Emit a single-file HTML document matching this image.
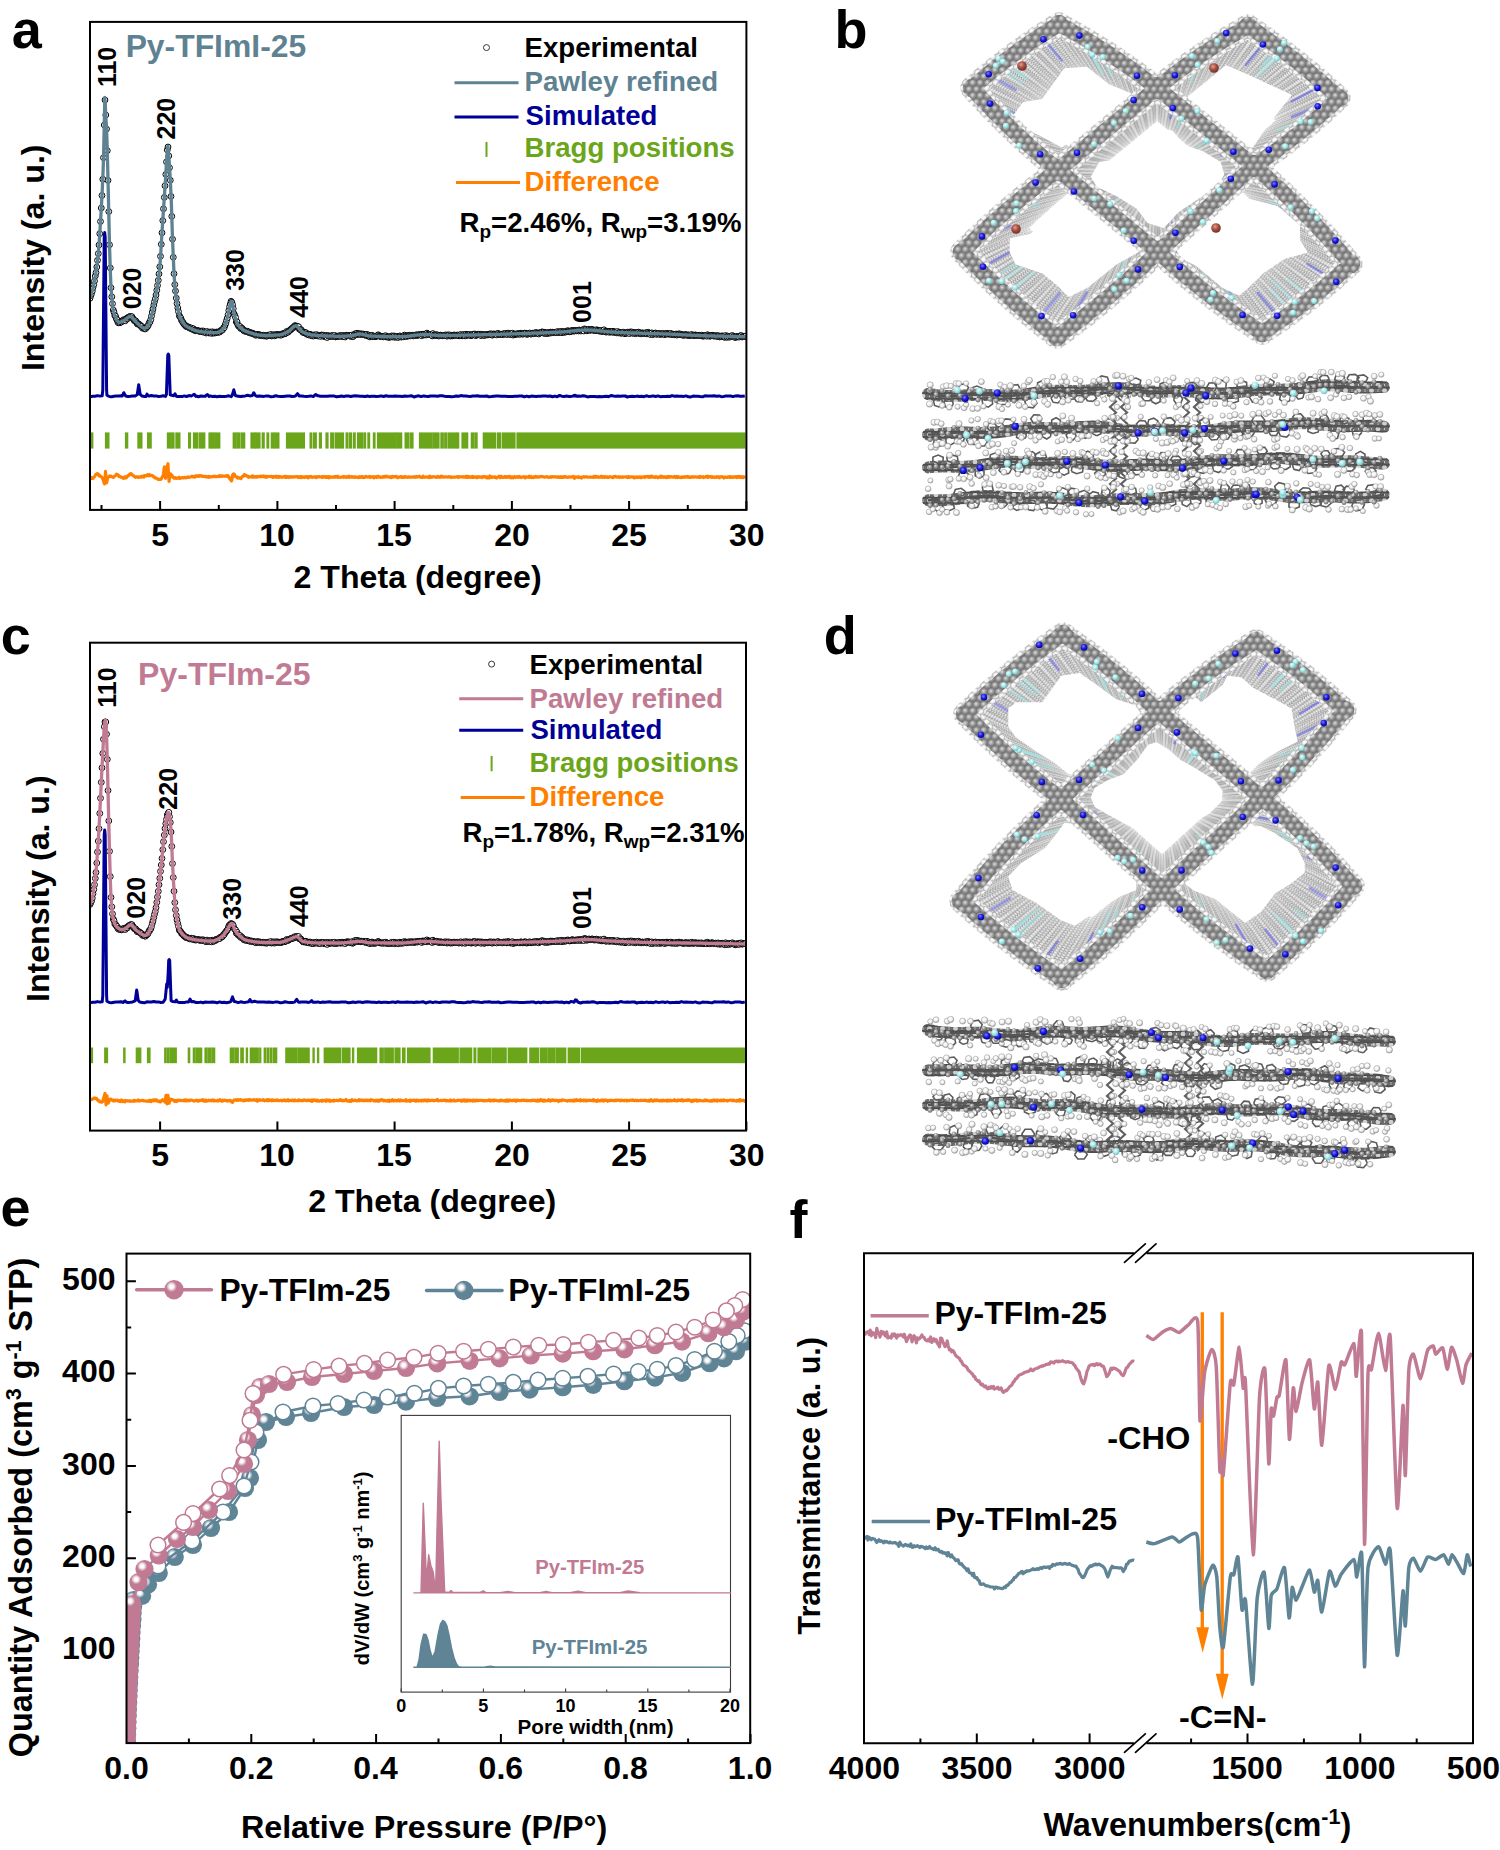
<!DOCTYPE html><html><head><meta charset="utf-8"><title>Figure</title><style>html,body{margin:0;padding:0;background:#fff;width:1500px;height:1850px;overflow:hidden}text{font-family:"Liberation Sans", sans-serif}</style></head><body><svg width="1500" height="1850" viewBox="0 0 1500 1850" style="display:block"><defs><radialGradient id="cball" cx="0.4" cy="0.35" r="0.65"><stop offset="0" stop-color="#e4e4e4"/><stop offset="0.45" stop-color="#a0a0a0"/><stop offset="1" stop-color="#6a6a6a"/></radialGradient><radialGradient id="hball" cx="0.4" cy="0.35" r="0.65"><stop offset="0" stop-color="#ffffff"/><stop offset="0.55" stop-color="#f2f2f2"/><stop offset="1" stop-color="#a8a8a8"/></radialGradient><radialGradient id="nball" cx="0.4" cy="0.35" r="0.65"><stop offset="0" stop-color="#8080ff"/><stop offset="0.5" stop-color="#2020e0"/><stop offset="1" stop-color="#0000a0"/></radialGradient><radialGradient id="fball" cx="0.4" cy="0.35" r="0.65"><stop offset="0" stop-color="#f0ffff"/><stop offset="0.5" stop-color="#a8ecec"/><stop offset="1" stop-color="#78c0c0"/></radialGradient><radialGradient id="bball" cx="0.4" cy="0.35" r="0.65"><stop offset="0" stop-color="#e0a090"/><stop offset="0.5" stop-color="#a85040"/><stop offset="1" stop-color="#703028"/></radialGradient><pattern id="patC" width="7.4" height="12.817" patternUnits="userSpaceOnUse"><rect width="7.4" height="12.817" fill="#7a7a7a"/><circle cx="0.00" cy="0.00" r="3.6" fill="url(#cball)"/><circle cx="7.40" cy="0.00" r="3.6" fill="url(#cball)"/><circle cx="3.70" cy="6.41" r="3.6" fill="url(#cball)"/><circle cx="0.00" cy="12.82" r="3.6" fill="url(#cball)"/><circle cx="7.40" cy="12.82" r="3.6" fill="url(#cball)"/></pattern><pattern id="patH" width="6.0" height="10.392" patternUnits="userSpaceOnUse"><rect width="6.0" height="10.392" fill="#c8c8c8"/><circle cx="0.00" cy="0.00" r="2.9" fill="url(#hball)"/><circle cx="6.00" cy="0.00" r="2.9" fill="url(#hball)"/><circle cx="3.00" cy="5.20" r="2.9" fill="url(#hball)"/><circle cx="0.00" cy="10.39" r="2.9" fill="url(#hball)"/><circle cx="6.00" cy="10.39" r="2.9" fill="url(#hball)"/></pattern><pattern id="patD" width="5.0" height="8.660" patternUnits="userSpaceOnUse"><rect width="5.0" height="8.660" fill="#a0a0a0"/><circle cx="0.00" cy="0.00" r="2.35" fill="url(#hball)"/><circle cx="5.00" cy="0.00" r="2.35" fill="url(#hball)"/><circle cx="2.50" cy="4.33" r="2.35" fill="url(#hball)"/><circle cx="0.00" cy="8.66" r="2.35" fill="url(#hball)"/><circle cx="5.00" cy="8.66" r="2.35" fill="url(#hball)"/></pattern><pattern id="patR" width="13.0" height="11.0" patternUnits="userSpaceOnUse"><rect width="13.0" height="11.0" fill="#cfcfcf"/><path d="M4.30 0.00L2.15 3.12L-2.15 3.12L-4.30 0.00L-2.15 -3.12L2.15 -3.12L4.30 -0.00M17.30 0.00L15.15 3.12L10.85 3.12L8.70 0.00L10.85 -3.12L15.15 -3.12L17.30 -0.00M10.80 5.50L8.65 8.62L4.35 8.62L2.20 5.50L4.35 2.38L8.65 2.38L10.80 5.50M4.30 11.00L2.15 14.12L-2.15 14.12L-4.30 11.00L-2.15 7.88L2.15 7.88L4.30 11.00M17.30 11.00L15.15 14.12L10.85 14.12L8.70 11.00L10.85 7.88L15.15 7.88L17.30 11.00" fill="none" stroke="#4e4e4e" stroke-width="2.3"/><circle cx="4.30" cy="0.00" r="1.9" fill="#6c6c6c"/><circle cx="8.70" cy="0.00" r="1.9" fill="#6c6c6c"/><circle cx="10.80" cy="5.50" r="1.9" fill="#6c6c6c"/><circle cx="2.20" cy="5.50" r="1.9" fill="#6c6c6c"/><circle cx="4.30" cy="11.00" r="1.9" fill="#6c6c6c"/><circle cx="8.70" cy="11.00" r="1.9" fill="#6c6c6c"/></pattern></defs><g transform="translate(1157 172) scale(0.7000) translate(-1157 -172)"><path d="M972.0 88.0Q1012.5 52.0 1059.0 24.0M1059.0 24.0Q1110.7 51.8 1157.0 88.0M972.0 88.0Q1011.5 132.6 1058.0 170.0M1248.0 26.0Q1296.6 58.1 1339.0 98.0M1248.0 26.0Q1199.7 52.9 1157.0 88.0M1339.0 98.0Q1299.6 135.9 1254.0 166.0M962.0 252.0Q1006.2 298.2 1057.0 337.0M962.0 252.0Q1006.8 207.2 1058.0 170.0M1057.0 337.0Q1110.7 298.3 1158.0 252.0M1351.0 264.0Q1309.6 302.5 1262.0 333.0M1351.0 264.0Q1306.1 211.5 1254.0 166.0M1262.0 333.0Q1206.9 296.4 1158.0 252.0M1157.0 88.0Q1107.5 129.0 1058.0 170.0M1157.0 88.0Q1205.5 127.0 1254.0 166.0M1254.0 166.0Q1206.0 209.0 1158.0 252.0M1158.0 252.0Q1108.0 211.0 1058.0 170.0" fill="none" stroke="#ececec" stroke-width="17.5" stroke-linecap="round" stroke-linejoin="round"/><path d="M972.0 88.0Q1012.5 52.0 1059.0 24.0M1059.0 24.0Q1110.7 51.8 1157.0 88.0M972.0 88.0Q1011.5 132.6 1058.0 170.0M1248.0 26.0Q1296.6 58.1 1339.0 98.0M1248.0 26.0Q1199.7 52.9 1157.0 88.0M1339.0 98.0Q1299.6 135.9 1254.0 166.0M962.0 252.0Q1006.2 298.2 1057.0 337.0M962.0 252.0Q1006.8 207.2 1058.0 170.0M1057.0 337.0Q1110.7 298.3 1158.0 252.0M1351.0 264.0Q1309.6 302.5 1262.0 333.0M1351.0 264.0Q1306.1 211.5 1254.0 166.0M1262.0 333.0Q1206.9 296.4 1158.0 252.0M1157.0 88.0Q1107.5 129.0 1058.0 170.0M1157.0 88.0Q1205.5 127.0 1254.0 166.0M1254.0 166.0Q1206.0 209.0 1158.0 252.0M1158.0 252.0Q1108.0 211.0 1058.0 170.0" fill="none" stroke="url(#patD)" stroke-opacity="0.50" stroke-width="17.5" stroke-linecap="round" stroke-linejoin="round"/></g>
<g transform="translate(1157 172) scale(0.7137) translate(-1157 -172)"><path d="M972.0 88.0Q1012.5 52.0 1059.0 24.0M1059.0 24.0Q1110.7 51.8 1157.0 88.0M972.0 88.0Q1011.5 132.6 1058.0 170.0M1248.0 26.0Q1296.6 58.1 1339.0 98.0M1248.0 26.0Q1199.7 52.9 1157.0 88.0M1339.0 98.0Q1299.6 135.9 1254.0 166.0M962.0 252.0Q1006.2 298.2 1057.0 337.0M962.0 252.0Q1006.8 207.2 1058.0 170.0M1057.0 337.0Q1110.7 298.3 1158.0 252.0M1351.0 264.0Q1309.6 302.5 1262.0 333.0M1351.0 264.0Q1306.1 211.5 1254.0 166.0M1262.0 333.0Q1206.9 296.4 1158.0 252.0M1157.0 88.0Q1107.5 129.0 1058.0 170.0M1157.0 88.0Q1205.5 127.0 1254.0 166.0M1254.0 166.0Q1206.0 209.0 1158.0 252.0M1158.0 252.0Q1108.0 211.0 1058.0 170.0" fill="none" stroke="#e0e0e0" stroke-width="17.5" stroke-linecap="round" stroke-linejoin="round"/><path d="M972.0 88.0Q1012.5 52.0 1059.0 24.0M1059.0 24.0Q1110.7 51.8 1157.0 88.0M972.0 88.0Q1011.5 132.6 1058.0 170.0M1248.0 26.0Q1296.6 58.1 1339.0 98.0M1248.0 26.0Q1199.7 52.9 1157.0 88.0M1339.0 98.0Q1299.6 135.9 1254.0 166.0M962.0 252.0Q1006.2 298.2 1057.0 337.0M962.0 252.0Q1006.8 207.2 1058.0 170.0M1057.0 337.0Q1110.7 298.3 1158.0 252.0M1351.0 264.0Q1309.6 302.5 1262.0 333.0M1351.0 264.0Q1306.1 211.5 1254.0 166.0M1262.0 333.0Q1206.9 296.4 1158.0 252.0M1157.0 88.0Q1107.5 129.0 1058.0 170.0M1157.0 88.0Q1205.5 127.0 1254.0 166.0M1254.0 166.0Q1206.0 209.0 1158.0 252.0M1158.0 252.0Q1108.0 211.0 1058.0 170.0" fill="none" stroke="url(#patD)" stroke-opacity="0.52" stroke-width="17.5" stroke-linecap="round" stroke-linejoin="round"/></g>
<g transform="translate(1157 172) scale(0.7274) translate(-1157 -172)"><path d="M972.0 88.0Q1012.5 52.0 1059.0 24.0M1059.0 24.0Q1110.7 51.8 1157.0 88.0M972.0 88.0Q1011.5 132.6 1058.0 170.0M1248.0 26.0Q1296.6 58.1 1339.0 98.0M1248.0 26.0Q1199.7 52.9 1157.0 88.0M1339.0 98.0Q1299.6 135.9 1254.0 166.0M962.0 252.0Q1006.2 298.2 1057.0 337.0M962.0 252.0Q1006.8 207.2 1058.0 170.0M1057.0 337.0Q1110.7 298.3 1158.0 252.0M1351.0 264.0Q1309.6 302.5 1262.0 333.0M1351.0 264.0Q1306.1 211.5 1254.0 166.0M1262.0 333.0Q1206.9 296.4 1158.0 252.0M1157.0 88.0Q1107.5 129.0 1058.0 170.0M1157.0 88.0Q1205.5 127.0 1254.0 166.0M1254.0 166.0Q1206.0 209.0 1158.0 252.0M1158.0 252.0Q1108.0 211.0 1058.0 170.0" fill="none" stroke="#d8d8d8" stroke-width="17.5" stroke-linecap="round" stroke-linejoin="round"/><path d="M972.0 88.0Q1012.5 52.0 1059.0 24.0M1059.0 24.0Q1110.7 51.8 1157.0 88.0M972.0 88.0Q1011.5 132.6 1058.0 170.0M1248.0 26.0Q1296.6 58.1 1339.0 98.0M1248.0 26.0Q1199.7 52.9 1157.0 88.0M1339.0 98.0Q1299.6 135.9 1254.0 166.0M962.0 252.0Q1006.2 298.2 1057.0 337.0M962.0 252.0Q1006.8 207.2 1058.0 170.0M1057.0 337.0Q1110.7 298.3 1158.0 252.0M1351.0 264.0Q1309.6 302.5 1262.0 333.0M1351.0 264.0Q1306.1 211.5 1254.0 166.0M1262.0 333.0Q1206.9 296.4 1158.0 252.0M1157.0 88.0Q1107.5 129.0 1058.0 170.0M1157.0 88.0Q1205.5 127.0 1254.0 166.0M1254.0 166.0Q1206.0 209.0 1158.0 252.0M1158.0 252.0Q1108.0 211.0 1058.0 170.0" fill="none" stroke="url(#patD)" stroke-opacity="0.54" stroke-width="17.5" stroke-linecap="round" stroke-linejoin="round"/></g>
<g transform="translate(1157 172) scale(0.7411) translate(-1157 -172)"><path d="M972.0 88.0Q1012.5 52.0 1059.0 24.0M1059.0 24.0Q1110.7 51.8 1157.0 88.0M972.0 88.0Q1011.5 132.6 1058.0 170.0M1248.0 26.0Q1296.6 58.1 1339.0 98.0M1248.0 26.0Q1199.7 52.9 1157.0 88.0M1339.0 98.0Q1299.6 135.9 1254.0 166.0M962.0 252.0Q1006.2 298.2 1057.0 337.0M962.0 252.0Q1006.8 207.2 1058.0 170.0M1057.0 337.0Q1110.7 298.3 1158.0 252.0M1351.0 264.0Q1309.6 302.5 1262.0 333.0M1351.0 264.0Q1306.1 211.5 1254.0 166.0M1262.0 333.0Q1206.9 296.4 1158.0 252.0M1157.0 88.0Q1107.5 129.0 1058.0 170.0M1157.0 88.0Q1205.5 127.0 1254.0 166.0M1254.0 166.0Q1206.0 209.0 1158.0 252.0M1158.0 252.0Q1108.0 211.0 1058.0 170.0" fill="none" stroke="#d2d2d2" stroke-width="17.5" stroke-linecap="round" stroke-linejoin="round"/><path d="M972.0 88.0Q1012.5 52.0 1059.0 24.0M1059.0 24.0Q1110.7 51.8 1157.0 88.0M972.0 88.0Q1011.5 132.6 1058.0 170.0M1248.0 26.0Q1296.6 58.1 1339.0 98.0M1248.0 26.0Q1199.7 52.9 1157.0 88.0M1339.0 98.0Q1299.6 135.9 1254.0 166.0M962.0 252.0Q1006.2 298.2 1057.0 337.0M962.0 252.0Q1006.8 207.2 1058.0 170.0M1057.0 337.0Q1110.7 298.3 1158.0 252.0M1351.0 264.0Q1309.6 302.5 1262.0 333.0M1351.0 264.0Q1306.1 211.5 1254.0 166.0M1262.0 333.0Q1206.9 296.4 1158.0 252.0M1157.0 88.0Q1107.5 129.0 1058.0 170.0M1157.0 88.0Q1205.5 127.0 1254.0 166.0M1254.0 166.0Q1206.0 209.0 1158.0 252.0M1158.0 252.0Q1108.0 211.0 1058.0 170.0" fill="none" stroke="url(#patD)" stroke-opacity="0.56" stroke-width="17.5" stroke-linecap="round" stroke-linejoin="round"/></g>
<g transform="translate(1157 172) scale(0.7549) translate(-1157 -172)"><path d="M972.0 88.0Q1012.5 52.0 1059.0 24.0M1059.0 24.0Q1110.7 51.8 1157.0 88.0M972.0 88.0Q1011.5 132.6 1058.0 170.0M1248.0 26.0Q1296.6 58.1 1339.0 98.0M1248.0 26.0Q1199.7 52.9 1157.0 88.0M1339.0 98.0Q1299.6 135.9 1254.0 166.0M962.0 252.0Q1006.2 298.2 1057.0 337.0M962.0 252.0Q1006.8 207.2 1058.0 170.0M1057.0 337.0Q1110.7 298.3 1158.0 252.0M1351.0 264.0Q1309.6 302.5 1262.0 333.0M1351.0 264.0Q1306.1 211.5 1254.0 166.0M1262.0 333.0Q1206.9 296.4 1158.0 252.0M1157.0 88.0Q1107.5 129.0 1058.0 170.0M1157.0 88.0Q1205.5 127.0 1254.0 166.0M1254.0 166.0Q1206.0 209.0 1158.0 252.0M1158.0 252.0Q1108.0 211.0 1058.0 170.0" fill="none" stroke="#cccccc" stroke-width="17.5" stroke-linecap="round" stroke-linejoin="round"/><path d="M972.0 88.0Q1012.5 52.0 1059.0 24.0M1059.0 24.0Q1110.7 51.8 1157.0 88.0M972.0 88.0Q1011.5 132.6 1058.0 170.0M1248.0 26.0Q1296.6 58.1 1339.0 98.0M1248.0 26.0Q1199.7 52.9 1157.0 88.0M1339.0 98.0Q1299.6 135.9 1254.0 166.0M962.0 252.0Q1006.2 298.2 1057.0 337.0M962.0 252.0Q1006.8 207.2 1058.0 170.0M1057.0 337.0Q1110.7 298.3 1158.0 252.0M1351.0 264.0Q1309.6 302.5 1262.0 333.0M1351.0 264.0Q1306.1 211.5 1254.0 166.0M1262.0 333.0Q1206.9 296.4 1158.0 252.0M1157.0 88.0Q1107.5 129.0 1058.0 170.0M1157.0 88.0Q1205.5 127.0 1254.0 166.0M1254.0 166.0Q1206.0 209.0 1158.0 252.0M1158.0 252.0Q1108.0 211.0 1058.0 170.0" fill="none" stroke="url(#patD)" stroke-opacity="0.58" stroke-width="17.5" stroke-linecap="round" stroke-linejoin="round"/></g>
<g transform="translate(1157 172) scale(0.7686) translate(-1157 -172)"><path d="M972.0 88.0Q1012.5 52.0 1059.0 24.0M1059.0 24.0Q1110.7 51.8 1157.0 88.0M972.0 88.0Q1011.5 132.6 1058.0 170.0M1248.0 26.0Q1296.6 58.1 1339.0 98.0M1248.0 26.0Q1199.7 52.9 1157.0 88.0M1339.0 98.0Q1299.6 135.9 1254.0 166.0M962.0 252.0Q1006.2 298.2 1057.0 337.0M962.0 252.0Q1006.8 207.2 1058.0 170.0M1057.0 337.0Q1110.7 298.3 1158.0 252.0M1351.0 264.0Q1309.6 302.5 1262.0 333.0M1351.0 264.0Q1306.1 211.5 1254.0 166.0M1262.0 333.0Q1206.9 296.4 1158.0 252.0M1157.0 88.0Q1107.5 129.0 1058.0 170.0M1157.0 88.0Q1205.5 127.0 1254.0 166.0M1254.0 166.0Q1206.0 209.0 1158.0 252.0M1158.0 252.0Q1108.0 211.0 1058.0 170.0" fill="none" stroke="#c7c7c7" stroke-width="17.5" stroke-linecap="round" stroke-linejoin="round"/><path d="M972.0 88.0Q1012.5 52.0 1059.0 24.0M1059.0 24.0Q1110.7 51.8 1157.0 88.0M972.0 88.0Q1011.5 132.6 1058.0 170.0M1248.0 26.0Q1296.6 58.1 1339.0 98.0M1248.0 26.0Q1199.7 52.9 1157.0 88.0M1339.0 98.0Q1299.6 135.9 1254.0 166.0M962.0 252.0Q1006.2 298.2 1057.0 337.0M962.0 252.0Q1006.8 207.2 1058.0 170.0M1057.0 337.0Q1110.7 298.3 1158.0 252.0M1351.0 264.0Q1309.6 302.5 1262.0 333.0M1351.0 264.0Q1306.1 211.5 1254.0 166.0M1262.0 333.0Q1206.9 296.4 1158.0 252.0M1157.0 88.0Q1107.5 129.0 1058.0 170.0M1157.0 88.0Q1205.5 127.0 1254.0 166.0M1254.0 166.0Q1206.0 209.0 1158.0 252.0M1158.0 252.0Q1108.0 211.0 1058.0 170.0" fill="none" stroke="url(#patD)" stroke-opacity="0.60" stroke-width="17.5" stroke-linecap="round" stroke-linejoin="round"/></g>
<g transform="translate(1157 172) scale(0.7823) translate(-1157 -172)"><path d="M972.0 88.0Q1012.5 52.0 1059.0 24.0M1059.0 24.0Q1110.7 51.8 1157.0 88.0M972.0 88.0Q1011.5 132.6 1058.0 170.0M1248.0 26.0Q1296.6 58.1 1339.0 98.0M1248.0 26.0Q1199.7 52.9 1157.0 88.0M1339.0 98.0Q1299.6 135.9 1254.0 166.0M962.0 252.0Q1006.2 298.2 1057.0 337.0M962.0 252.0Q1006.8 207.2 1058.0 170.0M1057.0 337.0Q1110.7 298.3 1158.0 252.0M1351.0 264.0Q1309.6 302.5 1262.0 333.0M1351.0 264.0Q1306.1 211.5 1254.0 166.0M1262.0 333.0Q1206.9 296.4 1158.0 252.0M1157.0 88.0Q1107.5 129.0 1058.0 170.0M1157.0 88.0Q1205.5 127.0 1254.0 166.0M1254.0 166.0Q1206.0 209.0 1158.0 252.0M1158.0 252.0Q1108.0 211.0 1058.0 170.0" fill="none" stroke="#c2c2c2" stroke-width="17.5" stroke-linecap="round" stroke-linejoin="round"/><path d="M972.0 88.0Q1012.5 52.0 1059.0 24.0M1059.0 24.0Q1110.7 51.8 1157.0 88.0M972.0 88.0Q1011.5 132.6 1058.0 170.0M1248.0 26.0Q1296.6 58.1 1339.0 98.0M1248.0 26.0Q1199.7 52.9 1157.0 88.0M1339.0 98.0Q1299.6 135.9 1254.0 166.0M962.0 252.0Q1006.2 298.2 1057.0 337.0M962.0 252.0Q1006.8 207.2 1058.0 170.0M1057.0 337.0Q1110.7 298.3 1158.0 252.0M1351.0 264.0Q1309.6 302.5 1262.0 333.0M1351.0 264.0Q1306.1 211.5 1254.0 166.0M1262.0 333.0Q1206.9 296.4 1158.0 252.0M1157.0 88.0Q1107.5 129.0 1058.0 170.0M1157.0 88.0Q1205.5 127.0 1254.0 166.0M1254.0 166.0Q1206.0 209.0 1158.0 252.0M1158.0 252.0Q1108.0 211.0 1058.0 170.0" fill="none" stroke="url(#patD)" stroke-opacity="0.61" stroke-width="17.5" stroke-linecap="round" stroke-linejoin="round"/></g>
<g transform="translate(1157 172) scale(0.7960) translate(-1157 -172)"><path d="M972.0 88.0Q1012.5 52.0 1059.0 24.0M1059.0 24.0Q1110.7 51.8 1157.0 88.0M972.0 88.0Q1011.5 132.6 1058.0 170.0M1248.0 26.0Q1296.6 58.1 1339.0 98.0M1248.0 26.0Q1199.7 52.9 1157.0 88.0M1339.0 98.0Q1299.6 135.9 1254.0 166.0M962.0 252.0Q1006.2 298.2 1057.0 337.0M962.0 252.0Q1006.8 207.2 1058.0 170.0M1057.0 337.0Q1110.7 298.3 1158.0 252.0M1351.0 264.0Q1309.6 302.5 1262.0 333.0M1351.0 264.0Q1306.1 211.5 1254.0 166.0M1262.0 333.0Q1206.9 296.4 1158.0 252.0M1157.0 88.0Q1107.5 129.0 1058.0 170.0M1157.0 88.0Q1205.5 127.0 1254.0 166.0M1254.0 166.0Q1206.0 209.0 1158.0 252.0M1158.0 252.0Q1108.0 211.0 1058.0 170.0" fill="none" stroke="#bdbdbd" stroke-width="17.5" stroke-linecap="round" stroke-linejoin="round"/><path d="M972.0 88.0Q1012.5 52.0 1059.0 24.0M1059.0 24.0Q1110.7 51.8 1157.0 88.0M972.0 88.0Q1011.5 132.6 1058.0 170.0M1248.0 26.0Q1296.6 58.1 1339.0 98.0M1248.0 26.0Q1199.7 52.9 1157.0 88.0M1339.0 98.0Q1299.6 135.9 1254.0 166.0M962.0 252.0Q1006.2 298.2 1057.0 337.0M962.0 252.0Q1006.8 207.2 1058.0 170.0M1057.0 337.0Q1110.7 298.3 1158.0 252.0M1351.0 264.0Q1309.6 302.5 1262.0 333.0M1351.0 264.0Q1306.1 211.5 1254.0 166.0M1262.0 333.0Q1206.9 296.4 1158.0 252.0M1157.0 88.0Q1107.5 129.0 1058.0 170.0M1157.0 88.0Q1205.5 127.0 1254.0 166.0M1254.0 166.0Q1206.0 209.0 1158.0 252.0M1158.0 252.0Q1108.0 211.0 1058.0 170.0" fill="none" stroke="url(#patD)" stroke-opacity="0.63" stroke-width="17.5" stroke-linecap="round" stroke-linejoin="round"/></g>
<g transform="translate(1157 172) scale(0.8097) translate(-1157 -172)"><path d="M972.0 88.0Q1012.5 52.0 1059.0 24.0M1059.0 24.0Q1110.7 51.8 1157.0 88.0M972.0 88.0Q1011.5 132.6 1058.0 170.0M1248.0 26.0Q1296.6 58.1 1339.0 98.0M1248.0 26.0Q1199.7 52.9 1157.0 88.0M1339.0 98.0Q1299.6 135.9 1254.0 166.0M962.0 252.0Q1006.2 298.2 1057.0 337.0M962.0 252.0Q1006.8 207.2 1058.0 170.0M1057.0 337.0Q1110.7 298.3 1158.0 252.0M1351.0 264.0Q1309.6 302.5 1262.0 333.0M1351.0 264.0Q1306.1 211.5 1254.0 166.0M1262.0 333.0Q1206.9 296.4 1158.0 252.0M1157.0 88.0Q1107.5 129.0 1058.0 170.0M1157.0 88.0Q1205.5 127.0 1254.0 166.0M1254.0 166.0Q1206.0 209.0 1158.0 252.0M1158.0 252.0Q1108.0 211.0 1058.0 170.0" fill="none" stroke="#b9b9b9" stroke-width="17.5" stroke-linecap="round" stroke-linejoin="round"/><path d="M972.0 88.0Q1012.5 52.0 1059.0 24.0M1059.0 24.0Q1110.7 51.8 1157.0 88.0M972.0 88.0Q1011.5 132.6 1058.0 170.0M1248.0 26.0Q1296.6 58.1 1339.0 98.0M1248.0 26.0Q1199.7 52.9 1157.0 88.0M1339.0 98.0Q1299.6 135.9 1254.0 166.0M962.0 252.0Q1006.2 298.2 1057.0 337.0M962.0 252.0Q1006.8 207.2 1058.0 170.0M1057.0 337.0Q1110.7 298.3 1158.0 252.0M1351.0 264.0Q1309.6 302.5 1262.0 333.0M1351.0 264.0Q1306.1 211.5 1254.0 166.0M1262.0 333.0Q1206.9 296.4 1158.0 252.0M1157.0 88.0Q1107.5 129.0 1058.0 170.0M1157.0 88.0Q1205.5 127.0 1254.0 166.0M1254.0 166.0Q1206.0 209.0 1158.0 252.0M1158.0 252.0Q1108.0 211.0 1058.0 170.0" fill="none" stroke="url(#patD)" stroke-opacity="0.65" stroke-width="17.5" stroke-linecap="round" stroke-linejoin="round"/></g>
<g transform="translate(1157 172) scale(0.8234) translate(-1157 -172)"><path d="M972.0 88.0Q1012.5 52.0 1059.0 24.0M1059.0 24.0Q1110.7 51.8 1157.0 88.0M972.0 88.0Q1011.5 132.6 1058.0 170.0M1248.0 26.0Q1296.6 58.1 1339.0 98.0M1248.0 26.0Q1199.7 52.9 1157.0 88.0M1339.0 98.0Q1299.6 135.9 1254.0 166.0M962.0 252.0Q1006.2 298.2 1057.0 337.0M962.0 252.0Q1006.8 207.2 1058.0 170.0M1057.0 337.0Q1110.7 298.3 1158.0 252.0M1351.0 264.0Q1309.6 302.5 1262.0 333.0M1351.0 264.0Q1306.1 211.5 1254.0 166.0M1262.0 333.0Q1206.9 296.4 1158.0 252.0M1157.0 88.0Q1107.5 129.0 1058.0 170.0M1157.0 88.0Q1205.5 127.0 1254.0 166.0M1254.0 166.0Q1206.0 209.0 1158.0 252.0M1158.0 252.0Q1108.0 211.0 1058.0 170.0" fill="none" stroke="#b4b4b4" stroke-width="17.5" stroke-linecap="round" stroke-linejoin="round"/><path d="M972.0 88.0Q1012.5 52.0 1059.0 24.0M1059.0 24.0Q1110.7 51.8 1157.0 88.0M972.0 88.0Q1011.5 132.6 1058.0 170.0M1248.0 26.0Q1296.6 58.1 1339.0 98.0M1248.0 26.0Q1199.7 52.9 1157.0 88.0M1339.0 98.0Q1299.6 135.9 1254.0 166.0M962.0 252.0Q1006.2 298.2 1057.0 337.0M962.0 252.0Q1006.8 207.2 1058.0 170.0M1057.0 337.0Q1110.7 298.3 1158.0 252.0M1351.0 264.0Q1309.6 302.5 1262.0 333.0M1351.0 264.0Q1306.1 211.5 1254.0 166.0M1262.0 333.0Q1206.9 296.4 1158.0 252.0M1157.0 88.0Q1107.5 129.0 1058.0 170.0M1157.0 88.0Q1205.5 127.0 1254.0 166.0M1254.0 166.0Q1206.0 209.0 1158.0 252.0M1158.0 252.0Q1108.0 211.0 1058.0 170.0" fill="none" stroke="url(#patD)" stroke-opacity="0.67" stroke-width="17.5" stroke-linecap="round" stroke-linejoin="round"/></g>
<g transform="translate(1157 172) scale(0.8371) translate(-1157 -172)"><path d="M972.0 88.0Q1012.5 52.0 1059.0 24.0M1059.0 24.0Q1110.7 51.8 1157.0 88.0M972.0 88.0Q1011.5 132.6 1058.0 170.0M1248.0 26.0Q1296.6 58.1 1339.0 98.0M1248.0 26.0Q1199.7 52.9 1157.0 88.0M1339.0 98.0Q1299.6 135.9 1254.0 166.0M962.0 252.0Q1006.2 298.2 1057.0 337.0M962.0 252.0Q1006.8 207.2 1058.0 170.0M1057.0 337.0Q1110.7 298.3 1158.0 252.0M1351.0 264.0Q1309.6 302.5 1262.0 333.0M1351.0 264.0Q1306.1 211.5 1254.0 166.0M1262.0 333.0Q1206.9 296.4 1158.0 252.0M1157.0 88.0Q1107.5 129.0 1058.0 170.0M1157.0 88.0Q1205.5 127.0 1254.0 166.0M1254.0 166.0Q1206.0 209.0 1158.0 252.0M1158.0 252.0Q1108.0 211.0 1058.0 170.0" fill="none" stroke="#b0b0b0" stroke-width="17.5" stroke-linecap="round" stroke-linejoin="round"/><path d="M972.0 88.0Q1012.5 52.0 1059.0 24.0M1059.0 24.0Q1110.7 51.8 1157.0 88.0M972.0 88.0Q1011.5 132.6 1058.0 170.0M1248.0 26.0Q1296.6 58.1 1339.0 98.0M1248.0 26.0Q1199.7 52.9 1157.0 88.0M1339.0 98.0Q1299.6 135.9 1254.0 166.0M962.0 252.0Q1006.2 298.2 1057.0 337.0M962.0 252.0Q1006.8 207.2 1058.0 170.0M1057.0 337.0Q1110.7 298.3 1158.0 252.0M1351.0 264.0Q1309.6 302.5 1262.0 333.0M1351.0 264.0Q1306.1 211.5 1254.0 166.0M1262.0 333.0Q1206.9 296.4 1158.0 252.0M1157.0 88.0Q1107.5 129.0 1058.0 170.0M1157.0 88.0Q1205.5 127.0 1254.0 166.0M1254.0 166.0Q1206.0 209.0 1158.0 252.0M1158.0 252.0Q1108.0 211.0 1058.0 170.0" fill="none" stroke="url(#patD)" stroke-opacity="0.69" stroke-width="17.5" stroke-linecap="round" stroke-linejoin="round"/></g>
<g transform="translate(1157 172) scale(0.8509) translate(-1157 -172)"><path d="M972.0 88.0Q1012.5 52.0 1059.0 24.0M1059.0 24.0Q1110.7 51.8 1157.0 88.0M972.0 88.0Q1011.5 132.6 1058.0 170.0M1248.0 26.0Q1296.6 58.1 1339.0 98.0M1248.0 26.0Q1199.7 52.9 1157.0 88.0M1339.0 98.0Q1299.6 135.9 1254.0 166.0M962.0 252.0Q1006.2 298.2 1057.0 337.0M962.0 252.0Q1006.8 207.2 1058.0 170.0M1057.0 337.0Q1110.7 298.3 1158.0 252.0M1351.0 264.0Q1309.6 302.5 1262.0 333.0M1351.0 264.0Q1306.1 211.5 1254.0 166.0M1262.0 333.0Q1206.9 296.4 1158.0 252.0M1157.0 88.0Q1107.5 129.0 1058.0 170.0M1157.0 88.0Q1205.5 127.0 1254.0 166.0M1254.0 166.0Q1206.0 209.0 1158.0 252.0M1158.0 252.0Q1108.0 211.0 1058.0 170.0" fill="none" stroke="#acacac" stroke-width="17.5" stroke-linecap="round" stroke-linejoin="round"/><path d="M972.0 88.0Q1012.5 52.0 1059.0 24.0M1059.0 24.0Q1110.7 51.8 1157.0 88.0M972.0 88.0Q1011.5 132.6 1058.0 170.0M1248.0 26.0Q1296.6 58.1 1339.0 98.0M1248.0 26.0Q1199.7 52.9 1157.0 88.0M1339.0 98.0Q1299.6 135.9 1254.0 166.0M962.0 252.0Q1006.2 298.2 1057.0 337.0M962.0 252.0Q1006.8 207.2 1058.0 170.0M1057.0 337.0Q1110.7 298.3 1158.0 252.0M1351.0 264.0Q1309.6 302.5 1262.0 333.0M1351.0 264.0Q1306.1 211.5 1254.0 166.0M1262.0 333.0Q1206.9 296.4 1158.0 252.0M1157.0 88.0Q1107.5 129.0 1058.0 170.0M1157.0 88.0Q1205.5 127.0 1254.0 166.0M1254.0 166.0Q1206.0 209.0 1158.0 252.0M1158.0 252.0Q1108.0 211.0 1058.0 170.0" fill="none" stroke="url(#patD)" stroke-opacity="0.71" stroke-width="17.5" stroke-linecap="round" stroke-linejoin="round"/></g>
<g transform="translate(1157 172) scale(0.8646) translate(-1157 -172)"><path d="M972.0 88.0Q1012.5 52.0 1059.0 24.0M1059.0 24.0Q1110.7 51.8 1157.0 88.0M972.0 88.0Q1011.5 132.6 1058.0 170.0M1248.0 26.0Q1296.6 58.1 1339.0 98.0M1248.0 26.0Q1199.7 52.9 1157.0 88.0M1339.0 98.0Q1299.6 135.9 1254.0 166.0M962.0 252.0Q1006.2 298.2 1057.0 337.0M962.0 252.0Q1006.8 207.2 1058.0 170.0M1057.0 337.0Q1110.7 298.3 1158.0 252.0M1351.0 264.0Q1309.6 302.5 1262.0 333.0M1351.0 264.0Q1306.1 211.5 1254.0 166.0M1262.0 333.0Q1206.9 296.4 1158.0 252.0M1157.0 88.0Q1107.5 129.0 1058.0 170.0M1157.0 88.0Q1205.5 127.0 1254.0 166.0M1254.0 166.0Q1206.0 209.0 1158.0 252.0M1158.0 252.0Q1108.0 211.0 1058.0 170.0" fill="none" stroke="#a8a8a8" stroke-width="17.5" stroke-linecap="round" stroke-linejoin="round"/><path d="M972.0 88.0Q1012.5 52.0 1059.0 24.0M1059.0 24.0Q1110.7 51.8 1157.0 88.0M972.0 88.0Q1011.5 132.6 1058.0 170.0M1248.0 26.0Q1296.6 58.1 1339.0 98.0M1248.0 26.0Q1199.7 52.9 1157.0 88.0M1339.0 98.0Q1299.6 135.9 1254.0 166.0M962.0 252.0Q1006.2 298.2 1057.0 337.0M962.0 252.0Q1006.8 207.2 1058.0 170.0M1057.0 337.0Q1110.7 298.3 1158.0 252.0M1351.0 264.0Q1309.6 302.5 1262.0 333.0M1351.0 264.0Q1306.1 211.5 1254.0 166.0M1262.0 333.0Q1206.9 296.4 1158.0 252.0M1157.0 88.0Q1107.5 129.0 1058.0 170.0M1157.0 88.0Q1205.5 127.0 1254.0 166.0M1254.0 166.0Q1206.0 209.0 1158.0 252.0M1158.0 252.0Q1108.0 211.0 1058.0 170.0" fill="none" stroke="url(#patD)" stroke-opacity="0.73" stroke-width="17.5" stroke-linecap="round" stroke-linejoin="round"/></g>
<g transform="translate(1157 172) scale(0.8783) translate(-1157 -172)"><path d="M972.0 88.0Q1012.5 52.0 1059.0 24.0M1059.0 24.0Q1110.7 51.8 1157.0 88.0M972.0 88.0Q1011.5 132.6 1058.0 170.0M1248.0 26.0Q1296.6 58.1 1339.0 98.0M1248.0 26.0Q1199.7 52.9 1157.0 88.0M1339.0 98.0Q1299.6 135.9 1254.0 166.0M962.0 252.0Q1006.2 298.2 1057.0 337.0M962.0 252.0Q1006.8 207.2 1058.0 170.0M1057.0 337.0Q1110.7 298.3 1158.0 252.0M1351.0 264.0Q1309.6 302.5 1262.0 333.0M1351.0 264.0Q1306.1 211.5 1254.0 166.0M1262.0 333.0Q1206.9 296.4 1158.0 252.0M1157.0 88.0Q1107.5 129.0 1058.0 170.0M1157.0 88.0Q1205.5 127.0 1254.0 166.0M1254.0 166.0Q1206.0 209.0 1158.0 252.0M1158.0 252.0Q1108.0 211.0 1058.0 170.0" fill="none" stroke="#a4a4a4" stroke-width="17.5" stroke-linecap="round" stroke-linejoin="round"/><path d="M972.0 88.0Q1012.5 52.0 1059.0 24.0M1059.0 24.0Q1110.7 51.8 1157.0 88.0M972.0 88.0Q1011.5 132.6 1058.0 170.0M1248.0 26.0Q1296.6 58.1 1339.0 98.0M1248.0 26.0Q1199.7 52.9 1157.0 88.0M1339.0 98.0Q1299.6 135.9 1254.0 166.0M962.0 252.0Q1006.2 298.2 1057.0 337.0M962.0 252.0Q1006.8 207.2 1058.0 170.0M1057.0 337.0Q1110.7 298.3 1158.0 252.0M1351.0 264.0Q1309.6 302.5 1262.0 333.0M1351.0 264.0Q1306.1 211.5 1254.0 166.0M1262.0 333.0Q1206.9 296.4 1158.0 252.0M1157.0 88.0Q1107.5 129.0 1058.0 170.0M1157.0 88.0Q1205.5 127.0 1254.0 166.0M1254.0 166.0Q1206.0 209.0 1158.0 252.0M1158.0 252.0Q1108.0 211.0 1058.0 170.0" fill="none" stroke="url(#patD)" stroke-opacity="0.75" stroke-width="17.5" stroke-linecap="round" stroke-linejoin="round"/></g>
<g transform="translate(1157 172) scale(0.8920) translate(-1157 -172)"><path d="M972.0 88.0Q1012.5 52.0 1059.0 24.0M1059.0 24.0Q1110.7 51.8 1157.0 88.0M972.0 88.0Q1011.5 132.6 1058.0 170.0M1248.0 26.0Q1296.6 58.1 1339.0 98.0M1248.0 26.0Q1199.7 52.9 1157.0 88.0M1339.0 98.0Q1299.6 135.9 1254.0 166.0M962.0 252.0Q1006.2 298.2 1057.0 337.0M962.0 252.0Q1006.8 207.2 1058.0 170.0M1057.0 337.0Q1110.7 298.3 1158.0 252.0M1351.0 264.0Q1309.6 302.5 1262.0 333.0M1351.0 264.0Q1306.1 211.5 1254.0 166.0M1262.0 333.0Q1206.9 296.4 1158.0 252.0M1157.0 88.0Q1107.5 129.0 1058.0 170.0M1157.0 88.0Q1205.5 127.0 1254.0 166.0M1254.0 166.0Q1206.0 209.0 1158.0 252.0M1158.0 252.0Q1108.0 211.0 1058.0 170.0" fill="none" stroke="#a0a0a0" stroke-width="17.5" stroke-linecap="round" stroke-linejoin="round"/><path d="M972.0 88.0Q1012.5 52.0 1059.0 24.0M1059.0 24.0Q1110.7 51.8 1157.0 88.0M972.0 88.0Q1011.5 132.6 1058.0 170.0M1248.0 26.0Q1296.6 58.1 1339.0 98.0M1248.0 26.0Q1199.7 52.9 1157.0 88.0M1339.0 98.0Q1299.6 135.9 1254.0 166.0M962.0 252.0Q1006.2 298.2 1057.0 337.0M962.0 252.0Q1006.8 207.2 1058.0 170.0M1057.0 337.0Q1110.7 298.3 1158.0 252.0M1351.0 264.0Q1309.6 302.5 1262.0 333.0M1351.0 264.0Q1306.1 211.5 1254.0 166.0M1262.0 333.0Q1206.9 296.4 1158.0 252.0M1157.0 88.0Q1107.5 129.0 1058.0 170.0M1157.0 88.0Q1205.5 127.0 1254.0 166.0M1254.0 166.0Q1206.0 209.0 1158.0 252.0M1158.0 252.0Q1108.0 211.0 1058.0 170.0" fill="none" stroke="url(#patD)" stroke-opacity="0.77" stroke-width="17.5" stroke-linecap="round" stroke-linejoin="round"/></g>
<g transform="translate(1157 172) scale(0.9057) translate(-1157 -172)"><path d="M972.0 88.0Q1012.5 52.0 1059.0 24.0M1059.0 24.0Q1110.7 51.8 1157.0 88.0M972.0 88.0Q1011.5 132.6 1058.0 170.0M1248.0 26.0Q1296.6 58.1 1339.0 98.0M1248.0 26.0Q1199.7 52.9 1157.0 88.0M1339.0 98.0Q1299.6 135.9 1254.0 166.0M962.0 252.0Q1006.2 298.2 1057.0 337.0M962.0 252.0Q1006.8 207.2 1058.0 170.0M1057.0 337.0Q1110.7 298.3 1158.0 252.0M1351.0 264.0Q1309.6 302.5 1262.0 333.0M1351.0 264.0Q1306.1 211.5 1254.0 166.0M1262.0 333.0Q1206.9 296.4 1158.0 252.0M1157.0 88.0Q1107.5 129.0 1058.0 170.0M1157.0 88.0Q1205.5 127.0 1254.0 166.0M1254.0 166.0Q1206.0 209.0 1158.0 252.0M1158.0 252.0Q1108.0 211.0 1058.0 170.0" fill="none" stroke="#9c9c9c" stroke-width="17.5" stroke-linecap="round" stroke-linejoin="round"/><path d="M972.0 88.0Q1012.5 52.0 1059.0 24.0M1059.0 24.0Q1110.7 51.8 1157.0 88.0M972.0 88.0Q1011.5 132.6 1058.0 170.0M1248.0 26.0Q1296.6 58.1 1339.0 98.0M1248.0 26.0Q1199.7 52.9 1157.0 88.0M1339.0 98.0Q1299.6 135.9 1254.0 166.0M962.0 252.0Q1006.2 298.2 1057.0 337.0M962.0 252.0Q1006.8 207.2 1058.0 170.0M1057.0 337.0Q1110.7 298.3 1158.0 252.0M1351.0 264.0Q1309.6 302.5 1262.0 333.0M1351.0 264.0Q1306.1 211.5 1254.0 166.0M1262.0 333.0Q1206.9 296.4 1158.0 252.0M1157.0 88.0Q1107.5 129.0 1058.0 170.0M1157.0 88.0Q1205.5 127.0 1254.0 166.0M1254.0 166.0Q1206.0 209.0 1158.0 252.0M1158.0 252.0Q1108.0 211.0 1058.0 170.0" fill="none" stroke="url(#patD)" stroke-opacity="0.79" stroke-width="17.5" stroke-linecap="round" stroke-linejoin="round"/></g>
<g transform="translate(1157 172) scale(0.9194) translate(-1157 -172)"><path d="M972.0 88.0Q1012.5 52.0 1059.0 24.0M1059.0 24.0Q1110.7 51.8 1157.0 88.0M972.0 88.0Q1011.5 132.6 1058.0 170.0M1248.0 26.0Q1296.6 58.1 1339.0 98.0M1248.0 26.0Q1199.7 52.9 1157.0 88.0M1339.0 98.0Q1299.6 135.9 1254.0 166.0M962.0 252.0Q1006.2 298.2 1057.0 337.0M962.0 252.0Q1006.8 207.2 1058.0 170.0M1057.0 337.0Q1110.7 298.3 1158.0 252.0M1351.0 264.0Q1309.6 302.5 1262.0 333.0M1351.0 264.0Q1306.1 211.5 1254.0 166.0M1262.0 333.0Q1206.9 296.4 1158.0 252.0M1157.0 88.0Q1107.5 129.0 1058.0 170.0M1157.0 88.0Q1205.5 127.0 1254.0 166.0M1254.0 166.0Q1206.0 209.0 1158.0 252.0M1158.0 252.0Q1108.0 211.0 1058.0 170.0" fill="none" stroke="#999999" stroke-width="17.5" stroke-linecap="round" stroke-linejoin="round"/><path d="M972.0 88.0Q1012.5 52.0 1059.0 24.0M1059.0 24.0Q1110.7 51.8 1157.0 88.0M972.0 88.0Q1011.5 132.6 1058.0 170.0M1248.0 26.0Q1296.6 58.1 1339.0 98.0M1248.0 26.0Q1199.7 52.9 1157.0 88.0M1339.0 98.0Q1299.6 135.9 1254.0 166.0M962.0 252.0Q1006.2 298.2 1057.0 337.0M962.0 252.0Q1006.8 207.2 1058.0 170.0M1057.0 337.0Q1110.7 298.3 1158.0 252.0M1351.0 264.0Q1309.6 302.5 1262.0 333.0M1351.0 264.0Q1306.1 211.5 1254.0 166.0M1262.0 333.0Q1206.9 296.4 1158.0 252.0M1157.0 88.0Q1107.5 129.0 1058.0 170.0M1157.0 88.0Q1205.5 127.0 1254.0 166.0M1254.0 166.0Q1206.0 209.0 1158.0 252.0M1158.0 252.0Q1108.0 211.0 1058.0 170.0" fill="none" stroke="url(#patD)" stroke-opacity="0.80" stroke-width="17.5" stroke-linecap="round" stroke-linejoin="round"/></g>
<g transform="translate(1157 172) scale(0.9331) translate(-1157 -172)"><path d="M972.0 88.0Q1012.5 52.0 1059.0 24.0M1059.0 24.0Q1110.7 51.8 1157.0 88.0M972.0 88.0Q1011.5 132.6 1058.0 170.0M1248.0 26.0Q1296.6 58.1 1339.0 98.0M1248.0 26.0Q1199.7 52.9 1157.0 88.0M1339.0 98.0Q1299.6 135.9 1254.0 166.0M962.0 252.0Q1006.2 298.2 1057.0 337.0M962.0 252.0Q1006.8 207.2 1058.0 170.0M1057.0 337.0Q1110.7 298.3 1158.0 252.0M1351.0 264.0Q1309.6 302.5 1262.0 333.0M1351.0 264.0Q1306.1 211.5 1254.0 166.0M1262.0 333.0Q1206.9 296.4 1158.0 252.0M1157.0 88.0Q1107.5 129.0 1058.0 170.0M1157.0 88.0Q1205.5 127.0 1254.0 166.0M1254.0 166.0Q1206.0 209.0 1158.0 252.0M1158.0 252.0Q1108.0 211.0 1058.0 170.0" fill="none" stroke="#959595" stroke-width="17.5" stroke-linecap="round" stroke-linejoin="round"/><path d="M972.0 88.0Q1012.5 52.0 1059.0 24.0M1059.0 24.0Q1110.7 51.8 1157.0 88.0M972.0 88.0Q1011.5 132.6 1058.0 170.0M1248.0 26.0Q1296.6 58.1 1339.0 98.0M1248.0 26.0Q1199.7 52.9 1157.0 88.0M1339.0 98.0Q1299.6 135.9 1254.0 166.0M962.0 252.0Q1006.2 298.2 1057.0 337.0M962.0 252.0Q1006.8 207.2 1058.0 170.0M1057.0 337.0Q1110.7 298.3 1158.0 252.0M1351.0 264.0Q1309.6 302.5 1262.0 333.0M1351.0 264.0Q1306.1 211.5 1254.0 166.0M1262.0 333.0Q1206.9 296.4 1158.0 252.0M1157.0 88.0Q1107.5 129.0 1058.0 170.0M1157.0 88.0Q1205.5 127.0 1254.0 166.0M1254.0 166.0Q1206.0 209.0 1158.0 252.0M1158.0 252.0Q1108.0 211.0 1058.0 170.0" fill="none" stroke="url(#patD)" stroke-opacity="0.82" stroke-width="17.5" stroke-linecap="round" stroke-linejoin="round"/></g>
<g transform="translate(1157 172) scale(0.9469) translate(-1157 -172)"><path d="M972.0 88.0Q1012.5 52.0 1059.0 24.0M1059.0 24.0Q1110.7 51.8 1157.0 88.0M972.0 88.0Q1011.5 132.6 1058.0 170.0M1248.0 26.0Q1296.6 58.1 1339.0 98.0M1248.0 26.0Q1199.7 52.9 1157.0 88.0M1339.0 98.0Q1299.6 135.9 1254.0 166.0M962.0 252.0Q1006.2 298.2 1057.0 337.0M962.0 252.0Q1006.8 207.2 1058.0 170.0M1057.0 337.0Q1110.7 298.3 1158.0 252.0M1351.0 264.0Q1309.6 302.5 1262.0 333.0M1351.0 264.0Q1306.1 211.5 1254.0 166.0M1262.0 333.0Q1206.9 296.4 1158.0 252.0M1157.0 88.0Q1107.5 129.0 1058.0 170.0M1157.0 88.0Q1205.5 127.0 1254.0 166.0M1254.0 166.0Q1206.0 209.0 1158.0 252.0M1158.0 252.0Q1108.0 211.0 1058.0 170.0" fill="none" stroke="#929292" stroke-width="17.5" stroke-linecap="round" stroke-linejoin="round"/><path d="M972.0 88.0Q1012.5 52.0 1059.0 24.0M1059.0 24.0Q1110.7 51.8 1157.0 88.0M972.0 88.0Q1011.5 132.6 1058.0 170.0M1248.0 26.0Q1296.6 58.1 1339.0 98.0M1248.0 26.0Q1199.7 52.9 1157.0 88.0M1339.0 98.0Q1299.6 135.9 1254.0 166.0M962.0 252.0Q1006.2 298.2 1057.0 337.0M962.0 252.0Q1006.8 207.2 1058.0 170.0M1057.0 337.0Q1110.7 298.3 1158.0 252.0M1351.0 264.0Q1309.6 302.5 1262.0 333.0M1351.0 264.0Q1306.1 211.5 1254.0 166.0M1262.0 333.0Q1206.9 296.4 1158.0 252.0M1157.0 88.0Q1107.5 129.0 1058.0 170.0M1157.0 88.0Q1205.5 127.0 1254.0 166.0M1254.0 166.0Q1206.0 209.0 1158.0 252.0M1158.0 252.0Q1108.0 211.0 1058.0 170.0" fill="none" stroke="url(#patD)" stroke-opacity="0.84" stroke-width="17.5" stroke-linecap="round" stroke-linejoin="round"/></g>
<g transform="translate(1157 172) scale(0.9606) translate(-1157 -172)"><path d="M972.0 88.0Q1012.5 52.0 1059.0 24.0M1059.0 24.0Q1110.7 51.8 1157.0 88.0M972.0 88.0Q1011.5 132.6 1058.0 170.0M1248.0 26.0Q1296.6 58.1 1339.0 98.0M1248.0 26.0Q1199.7 52.9 1157.0 88.0M1339.0 98.0Q1299.6 135.9 1254.0 166.0M962.0 252.0Q1006.2 298.2 1057.0 337.0M962.0 252.0Q1006.8 207.2 1058.0 170.0M1057.0 337.0Q1110.7 298.3 1158.0 252.0M1351.0 264.0Q1309.6 302.5 1262.0 333.0M1351.0 264.0Q1306.1 211.5 1254.0 166.0M1262.0 333.0Q1206.9 296.4 1158.0 252.0M1157.0 88.0Q1107.5 129.0 1058.0 170.0M1157.0 88.0Q1205.5 127.0 1254.0 166.0M1254.0 166.0Q1206.0 209.0 1158.0 252.0M1158.0 252.0Q1108.0 211.0 1058.0 170.0" fill="none" stroke="#8e8e8e" stroke-width="17.5" stroke-linecap="round" stroke-linejoin="round"/><path d="M972.0 88.0Q1012.5 52.0 1059.0 24.0M1059.0 24.0Q1110.7 51.8 1157.0 88.0M972.0 88.0Q1011.5 132.6 1058.0 170.0M1248.0 26.0Q1296.6 58.1 1339.0 98.0M1248.0 26.0Q1199.7 52.9 1157.0 88.0M1339.0 98.0Q1299.6 135.9 1254.0 166.0M962.0 252.0Q1006.2 298.2 1057.0 337.0M962.0 252.0Q1006.8 207.2 1058.0 170.0M1057.0 337.0Q1110.7 298.3 1158.0 252.0M1351.0 264.0Q1309.6 302.5 1262.0 333.0M1351.0 264.0Q1306.1 211.5 1254.0 166.0M1262.0 333.0Q1206.9 296.4 1158.0 252.0M1157.0 88.0Q1107.5 129.0 1058.0 170.0M1157.0 88.0Q1205.5 127.0 1254.0 166.0M1254.0 166.0Q1206.0 209.0 1158.0 252.0M1158.0 252.0Q1108.0 211.0 1058.0 170.0" fill="none" stroke="url(#patD)" stroke-opacity="0.86" stroke-width="17.5" stroke-linecap="round" stroke-linejoin="round"/></g>
<g transform="translate(1157 172) scale(0.9743) translate(-1157 -172)"><path d="M972.0 88.0Q1012.5 52.0 1059.0 24.0M1059.0 24.0Q1110.7 51.8 1157.0 88.0M972.0 88.0Q1011.5 132.6 1058.0 170.0M1248.0 26.0Q1296.6 58.1 1339.0 98.0M1248.0 26.0Q1199.7 52.9 1157.0 88.0M1339.0 98.0Q1299.6 135.9 1254.0 166.0M962.0 252.0Q1006.2 298.2 1057.0 337.0M962.0 252.0Q1006.8 207.2 1058.0 170.0M1057.0 337.0Q1110.7 298.3 1158.0 252.0M1351.0 264.0Q1309.6 302.5 1262.0 333.0M1351.0 264.0Q1306.1 211.5 1254.0 166.0M1262.0 333.0Q1206.9 296.4 1158.0 252.0M1157.0 88.0Q1107.5 129.0 1058.0 170.0M1157.0 88.0Q1205.5 127.0 1254.0 166.0M1254.0 166.0Q1206.0 209.0 1158.0 252.0M1158.0 252.0Q1108.0 211.0 1058.0 170.0" fill="none" stroke="#8b8b8b" stroke-width="17.5" stroke-linecap="round" stroke-linejoin="round"/><path d="M972.0 88.0Q1012.5 52.0 1059.0 24.0M1059.0 24.0Q1110.7 51.8 1157.0 88.0M972.0 88.0Q1011.5 132.6 1058.0 170.0M1248.0 26.0Q1296.6 58.1 1339.0 98.0M1248.0 26.0Q1199.7 52.9 1157.0 88.0M1339.0 98.0Q1299.6 135.9 1254.0 166.0M962.0 252.0Q1006.2 298.2 1057.0 337.0M962.0 252.0Q1006.8 207.2 1058.0 170.0M1057.0 337.0Q1110.7 298.3 1158.0 252.0M1351.0 264.0Q1309.6 302.5 1262.0 333.0M1351.0 264.0Q1306.1 211.5 1254.0 166.0M1262.0 333.0Q1206.9 296.4 1158.0 252.0M1157.0 88.0Q1107.5 129.0 1058.0 170.0M1157.0 88.0Q1205.5 127.0 1254.0 166.0M1254.0 166.0Q1206.0 209.0 1158.0 252.0M1158.0 252.0Q1108.0 211.0 1058.0 170.0" fill="none" stroke="url(#patD)" stroke-opacity="0.88" stroke-width="17.5" stroke-linecap="round" stroke-linejoin="round"/></g>
<g transform="translate(1157 172) scale(0.9880) translate(-1157 -172)"><path d="M972.0 88.0Q1012.5 52.0 1059.0 24.0M1059.0 24.0Q1110.7 51.8 1157.0 88.0M972.0 88.0Q1011.5 132.6 1058.0 170.0M1248.0 26.0Q1296.6 58.1 1339.0 98.0M1248.0 26.0Q1199.7 52.9 1157.0 88.0M1339.0 98.0Q1299.6 135.9 1254.0 166.0M962.0 252.0Q1006.2 298.2 1057.0 337.0M962.0 252.0Q1006.8 207.2 1058.0 170.0M1057.0 337.0Q1110.7 298.3 1158.0 252.0M1351.0 264.0Q1309.6 302.5 1262.0 333.0M1351.0 264.0Q1306.1 211.5 1254.0 166.0M1262.0 333.0Q1206.9 296.4 1158.0 252.0M1157.0 88.0Q1107.5 129.0 1058.0 170.0M1157.0 88.0Q1205.5 127.0 1254.0 166.0M1254.0 166.0Q1206.0 209.0 1158.0 252.0M1158.0 252.0Q1108.0 211.0 1058.0 170.0" fill="none" stroke="#888888" stroke-width="17.5" stroke-linecap="round" stroke-linejoin="round"/><path d="M972.0 88.0Q1012.5 52.0 1059.0 24.0M1059.0 24.0Q1110.7 51.8 1157.0 88.0M972.0 88.0Q1011.5 132.6 1058.0 170.0M1248.0 26.0Q1296.6 58.1 1339.0 98.0M1248.0 26.0Q1199.7 52.9 1157.0 88.0M1339.0 98.0Q1299.6 135.9 1254.0 166.0M962.0 252.0Q1006.2 298.2 1057.0 337.0M962.0 252.0Q1006.8 207.2 1058.0 170.0M1057.0 337.0Q1110.7 298.3 1158.0 252.0M1351.0 264.0Q1309.6 302.5 1262.0 333.0M1351.0 264.0Q1306.1 211.5 1254.0 166.0M1262.0 333.0Q1206.9 296.4 1158.0 252.0M1157.0 88.0Q1107.5 129.0 1058.0 170.0M1157.0 88.0Q1205.5 127.0 1254.0 166.0M1254.0 166.0Q1206.0 209.0 1158.0 252.0M1158.0 252.0Q1108.0 211.0 1058.0 170.0" fill="none" stroke="url(#patD)" stroke-opacity="0.90" stroke-width="17.5" stroke-linecap="round" stroke-linejoin="round"/></g>
<g stroke-linecap="round"><path d="M988.7 74.3L1015.6 89.9" stroke="#3a3aff" stroke-opacity="0.4" stroke-width="2.6"/><path d="M1043.4 39.3L1061.6 60.5" stroke="#3a3aff" stroke-opacity="0.4" stroke-width="2.6"/><path d="M995.8 65.6L1021.6 82.6" stroke="#9ee6e6" stroke-opacity="0.5" stroke-width="3"/><path d="M998.4 58.5L1023.8 76.6" stroke="#9ee6e6" stroke-opacity="0.5" stroke-width="3"/><path d="M1002.8 61.5L1027.4 79.2" stroke="#9ee6e6" stroke-opacity="0.5" stroke-width="3"/><path d="M1079.4 35.6L1091.8 57.4" stroke="#3a3aff" stroke-opacity="0.4" stroke-width="2.6"/><path d="M1137.1 75.7L1140.3 91.1" stroke="#3a3aff" stroke-opacity="0.4" stroke-width="2.6"/><path d="M1102.8 57.0L1111.5 75.4" stroke="#9ee6e6" stroke-opacity="0.5" stroke-width="3"/><path d="M1092.3 54.8L1102.6 73.5" stroke="#9ee6e6" stroke-opacity="0.5" stroke-width="3"/><path d="M1087.6 46.8L1098.7 66.8" stroke="#9ee6e6" stroke-opacity="0.5" stroke-width="3"/><path d="M990.0 103.6L1016.7 114.5" stroke="#3a3aff" stroke-opacity="0.4" stroke-width="2.6"/><path d="M1040.2 154.2L1058.9 157.0" stroke="#3a3aff" stroke-opacity="0.4" stroke-width="2.6"/><path d="M1006.8 112.8L1030.8 122.3" stroke="#9ee6e6" stroke-opacity="0.5" stroke-width="3"/><path d="M1018.9 145.6L1041.0 149.9" stroke="#9ee6e6" stroke-opacity="0.5" stroke-width="3"/><path d="M1005.9 125.7L1030.1 133.1" stroke="#9ee6e6" stroke-opacity="0.5" stroke-width="3"/><path d="M1262.9 44.5L1246.0 64.9" stroke="#3a3aff" stroke-opacity="0.4" stroke-width="2.6"/><path d="M1317.4 87.9L1291.7 101.4" stroke="#3a3aff" stroke-opacity="0.4" stroke-width="2.6"/><path d="M1284.1 42.8L1263.8 63.5" stroke="#9ee6e6" stroke-opacity="0.5" stroke-width="3"/><path d="M1276.8 58.4L1257.6 76.6" stroke="#9ee6e6" stroke-opacity="0.5" stroke-width="3"/><path d="M1279.9 49.2L1260.2 68.8" stroke="#9ee6e6" stroke-opacity="0.5" stroke-width="3"/><path d="M1226.2 33.1L1215.1 55.3" stroke="#3a3aff" stroke-opacity="0.4" stroke-width="2.6"/><path d="M1174.9 75.2L1172.1 90.7" stroke="#3a3aff" stroke-opacity="0.4" stroke-width="2.6"/><path d="M1197.6 64.8L1191.1 82.0" stroke="#9ee6e6" stroke-opacity="0.5" stroke-width="3"/><path d="M1191.9 56.1L1186.4 74.6" stroke="#9ee6e6" stroke-opacity="0.5" stroke-width="3"/><path d="M1217.2 40.9L1207.6 61.9" stroke="#9ee6e6" stroke-opacity="0.5" stroke-width="3"/><path d="M1317.7 106.3L1292.0 116.8" stroke="#3a3aff" stroke-opacity="0.4" stroke-width="2.6"/><path d="M1268.8 149.7L1250.9 153.3" stroke="#3a3aff" stroke-opacity="0.4" stroke-width="2.6"/><path d="M1300.4 121.5L1277.4 129.6" stroke="#9ee6e6" stroke-opacity="0.5" stroke-width="3"/><path d="M1310.6 122.0L1286.1 130.0" stroke="#9ee6e6" stroke-opacity="0.5" stroke-width="3"/><path d="M1285.2 146.3L1264.7 150.4" stroke="#9ee6e6" stroke-opacity="0.5" stroke-width="3"/><path d="M983.0 266.8L1010.8 251.6" stroke="#3a3aff" stroke-opacity="0.4" stroke-width="2.6"/><path d="M1041.5 316.1L1059.9 293.1" stroke="#3a3aff" stroke-opacity="0.4" stroke-width="2.6"/><path d="M988.9 280.8L1015.8 263.4" stroke="#9ee6e6" stroke-opacity="0.5" stroke-width="3"/><path d="M1001.7 281.2L1026.5 263.7" stroke="#9ee6e6" stroke-opacity="0.5" stroke-width="3"/><path d="M1015.1 287.6L1037.8 269.1" stroke="#9ee6e6" stroke-opacity="0.5" stroke-width="3"/><path d="M981.9 236.4L1009.9 226.1" stroke="#3a3aff" stroke-opacity="0.4" stroke-width="2.6"/><path d="M1035.6 182.6L1055.0 180.9" stroke="#3a3aff" stroke-opacity="0.4" stroke-width="2.6"/><path d="M1016.0 211.1L1038.6 204.9" stroke="#9ee6e6" stroke-opacity="0.5" stroke-width="3"/><path d="M993.6 222.7L1019.8 214.6" stroke="#9ee6e6" stroke-opacity="0.5" stroke-width="3"/><path d="M1016.4 203.3L1038.9 198.3" stroke="#9ee6e6" stroke-opacity="0.5" stroke-width="3"/><path d="M1073.1 315.2L1086.6 292.3" stroke="#3a3aff" stroke-opacity="0.4" stroke-width="2.6"/><path d="M1138.1 269.4L1141.1 253.8" stroke="#3a3aff" stroke-opacity="0.4" stroke-width="2.6"/><path d="M1114.3 289.2L1121.1 270.4" stroke="#9ee6e6" stroke-opacity="0.5" stroke-width="3"/><path d="M1126.6 280.7L1131.4 263.3" stroke="#9ee6e6" stroke-opacity="0.5" stroke-width="3"/><path d="M1119.1 275.2L1125.2 258.7" stroke="#9ee6e6" stroke-opacity="0.5" stroke-width="3"/><path d="M1336.3 281.8L1307.6 264.2" stroke="#3a3aff" stroke-opacity="0.4" stroke-width="2.6"/><path d="M1277.2 315.8L1257.9 292.8" stroke="#3a3aff" stroke-opacity="0.4" stroke-width="2.6"/><path d="M1314.2 301.0L1289.1 280.3" stroke="#9ee6e6" stroke-opacity="0.5" stroke-width="3"/><path d="M1293.1 312.7L1271.4 290.2" stroke="#9ee6e6" stroke-opacity="0.5" stroke-width="3"/><path d="M1294.8 301.9L1272.8 281.1" stroke="#9ee6e6" stroke-opacity="0.5" stroke-width="3"/><path d="M1335.4 240.6L1306.9 229.6" stroke="#3a3aff" stroke-opacity="0.4" stroke-width="2.6"/><path d="M1274.6 184.4L1255.8 182.4" stroke="#3a3aff" stroke-opacity="0.4" stroke-width="2.6"/><path d="M1290.6 207.3L1269.2 201.6" stroke="#9ee6e6" stroke-opacity="0.5" stroke-width="3"/><path d="M1317.1 218.4L1291.4 211.0" stroke="#9ee6e6" stroke-opacity="0.5" stroke-width="3"/><path d="M1311.9 211.3L1287.1 205.0" stroke="#9ee6e6" stroke-opacity="0.5" stroke-width="3"/><path d="M1242.6 315.0L1228.9 292.1" stroke="#3a3aff" stroke-opacity="0.4" stroke-width="2.6"/><path d="M1179.8 266.9L1176.2 251.7" stroke="#3a3aff" stroke-opacity="0.4" stroke-width="2.6"/><path d="M1231.6 297.9L1219.6 277.7" stroke="#9ee6e6" stroke-opacity="0.5" stroke-width="3"/><path d="M1213.0 292.9L1204.1 273.5" stroke="#9ee6e6" stroke-opacity="0.5" stroke-width="3"/><path d="M1210.6 299.6L1202.0 279.2" stroke="#9ee6e6" stroke-opacity="0.5" stroke-width="3"/><path d="M1133.6 100.1L1137.3 111.6" stroke="#3a3aff" stroke-opacity="0.4" stroke-width="2.6"/><path d="M1077.1 152.8L1089.9 155.9" stroke="#3a3aff" stroke-opacity="0.4" stroke-width="2.6"/><path d="M1125.7 110.9L1130.7 120.7" stroke="#9ee6e6" stroke-opacity="0.5" stroke-width="3"/><path d="M1114.0 122.9L1120.9 130.8" stroke="#9ee6e6" stroke-opacity="0.5" stroke-width="3"/><path d="M1094.0 143.9L1104.1 148.4" stroke="#9ee6e6" stroke-opacity="0.5" stroke-width="3"/><path d="M1172.8 108.1L1170.3 118.3" stroke="#3a3aff" stroke-opacity="0.4" stroke-width="2.6"/><path d="M1233.5 151.7L1221.3 155.0" stroke="#3a3aff" stroke-opacity="0.4" stroke-width="2.6"/><path d="M1181.3 118.6L1177.4 127.1" stroke="#9ee6e6" stroke-opacity="0.5" stroke-width="3"/><path d="M1206.7 140.7L1198.7 145.7" stroke="#9ee6e6" stroke-opacity="0.5" stroke-width="3"/><path d="M1197.3 111.1L1190.9 120.9" stroke="#9ee6e6" stroke-opacity="0.5" stroke-width="3"/><path d="M1230.8 178.7L1219.0 177.6" stroke="#3a3aff" stroke-opacity="0.4" stroke-width="2.6"/><path d="M1175.4 232.7L1172.4 223.0" stroke="#3a3aff" stroke-opacity="0.4" stroke-width="2.6"/><path d="M1219.3 190.3L1209.3 187.3" stroke="#9ee6e6" stroke-opacity="0.5" stroke-width="3"/><path d="M1190.6 211.4L1185.2 205.1" stroke="#9ee6e6" stroke-opacity="0.5" stroke-width="3"/><path d="M1202.9 221.9L1195.5 213.9" stroke="#9ee6e6" stroke-opacity="0.5" stroke-width="3"/><path d="M1133.7 240.8L1137.5 229.8" stroke="#3a3aff" stroke-opacity="0.4" stroke-width="2.6"/><path d="M1073.8 191.5L1087.1 188.4" stroke="#3a3aff" stroke-opacity="0.4" stroke-width="2.6"/><path d="M1123.6 230.4L1129.0 221.1" stroke="#9ee6e6" stroke-opacity="0.5" stroke-width="3"/><path d="M1094.1 198.6L1104.2 194.3" stroke="#9ee6e6" stroke-opacity="0.5" stroke-width="3"/><path d="M1110.2 204.0L1117.7 198.9" stroke="#9ee6e6" stroke-opacity="0.5" stroke-width="3"/></g><path d="M1023.6 102.7L1042.7 99.7L1064.7 68.9L1086.7 67.5L1108.7 85.0L1130.7 93.9L1133.6 102.7L1101.3 114.4L1085.2 130.5L1061.7 146.7L1042.7 136.4L1010.4 120.3ZM1183.7 101.0L1226.0 66.0L1249.7 76.3L1290.8 95.3L1267.3 124.7L1252.7 146.7L1238.0 146.7L1208.7 124.7ZM1091.6 176.8L1100.0 162.4L1121.6 160.0L1137.2 145.6L1154.0 128.8L1172.0 131.2L1184.0 145.6L1202.0 151.6L1220.0 162.4L1223.6 174.4L1216.4 186.4L1196.0 199.6L1178.0 211.6L1163.6 227.2L1148.0 222.4L1137.2 208.0L1118.0 196.0L1097.6 186.4ZM1010.4 238.9L1031.0 234.5L1061.7 202.3L1079.3 197.9L1105.7 214.0L1133.6 234.5L1142.4 249.2L1116.0 263.9L1086.7 287.3L1069.0 296.1L1057.3 284.4L1042.7 272.7L1016.3 263.9L1010.4 252.1ZM1174.7 246.3L1183.5 236.0L1204.0 231.6L1221.6 225.7L1230.4 199.3L1248.0 199.3L1277.3 206.7L1299.3 225.7L1299.3 240.4L1306.7 252.1L1284.7 258.0L1262.7 272.7L1248.0 287.3L1239.2 294.7L1223.1 287.3L1196.7 265.3L1182.0 258.0Z" fill="#fff" stroke="#fff" stroke-width="1.5" stroke-linejoin="round"/>
<path d="M972.0 88.0Q1012.5 52.0 1059.0 24.0M1059.0 24.0Q1110.7 51.8 1157.0 88.0M972.0 88.0Q1011.5 132.6 1058.0 170.0M1248.0 26.0Q1296.6 58.1 1339.0 98.0M1248.0 26.0Q1199.7 52.9 1157.0 88.0M1339.0 98.0Q1299.6 135.9 1254.0 166.0M962.0 252.0Q1006.2 298.2 1057.0 337.0M962.0 252.0Q1006.8 207.2 1058.0 170.0M1057.0 337.0Q1110.7 298.3 1158.0 252.0M1351.0 264.0Q1309.6 302.5 1262.0 333.0M1351.0 264.0Q1306.1 211.5 1254.0 166.0M1262.0 333.0Q1206.9 296.4 1158.0 252.0M1157.0 88.0Q1107.5 129.0 1058.0 170.0M1157.0 88.0Q1205.5 127.0 1254.0 166.0M1254.0 166.0Q1206.0 209.0 1158.0 252.0M1158.0 252.0Q1108.0 211.0 1058.0 170.0" fill="none" stroke="url(#patH)" stroke-width="23.5" stroke-linecap="round" stroke-linejoin="round"/>
<path d="M972.0 88.0Q1012.5 52.0 1059.0 24.0M1059.0 24.0Q1110.7 51.8 1157.0 88.0M972.0 88.0Q1011.5 132.6 1058.0 170.0M1248.0 26.0Q1296.6 58.1 1339.0 98.0M1248.0 26.0Q1199.7 52.9 1157.0 88.0M1339.0 98.0Q1299.6 135.9 1254.0 166.0M962.0 252.0Q1006.2 298.2 1057.0 337.0M962.0 252.0Q1006.8 207.2 1058.0 170.0M1057.0 337.0Q1110.7 298.3 1158.0 252.0M1351.0 264.0Q1309.6 302.5 1262.0 333.0M1351.0 264.0Q1306.1 211.5 1254.0 166.0M1262.0 333.0Q1206.9 296.4 1158.0 252.0M1157.0 88.0Q1107.5 129.0 1058.0 170.0M1157.0 88.0Q1205.5 127.0 1254.0 166.0M1254.0 166.0Q1206.0 209.0 1158.0 252.0M1158.0 252.0Q1108.0 211.0 1058.0 170.0" fill="none" stroke="url(#patC)" stroke-width="15.5" stroke-linecap="round" stroke-linejoin="round"/>
<circle cx="1157" cy="88" r="11.2" fill="url(#patC)"/>
<circle cx="1058" cy="170" r="11.2" fill="url(#patC)"/>
<circle cx="1254" cy="166" r="11.2" fill="url(#patC)"/>
<circle cx="1158" cy="252" r="11.2" fill="url(#patC)"/>
<circle cx="1059" cy="24" r="9.3" fill="url(#patC)"/>
<circle cx="972" cy="88" r="9.3" fill="url(#patC)"/>
<circle cx="1248" cy="26" r="9.3" fill="url(#patC)"/>
<circle cx="1339" cy="98" r="9.3" fill="url(#patC)"/>
<circle cx="962" cy="252" r="9.3" fill="url(#patC)"/>
<circle cx="1057" cy="337" r="9.3" fill="url(#patC)"/>
<circle cx="1351" cy="264" r="9.3" fill="url(#patC)"/>
<circle cx="1262" cy="333" r="9.3" fill="url(#patC)"/>
<circle cx="988.7" cy="74.3" r="3.3" fill="url(#nball)"/><circle cx="1043.4" cy="39.3" r="3.3" fill="url(#nball)"/><circle cx="995.8" cy="65.6" r="3.0" fill="url(#fball)"/><circle cx="998.4" cy="58.5" r="3.0" fill="url(#fball)"/><circle cx="1002.8" cy="61.5" r="3.0" fill="url(#fball)"/><circle cx="1079.4" cy="35.6" r="3.3" fill="url(#nball)"/><circle cx="1137.1" cy="75.7" r="3.3" fill="url(#nball)"/><circle cx="1102.8" cy="57.0" r="3.0" fill="url(#fball)"/><circle cx="1092.3" cy="54.8" r="3.0" fill="url(#fball)"/><circle cx="1087.6" cy="46.8" r="3.0" fill="url(#fball)"/><circle cx="990.0" cy="103.6" r="3.3" fill="url(#nball)"/><circle cx="1040.2" cy="154.2" r="3.3" fill="url(#nball)"/><circle cx="1006.8" cy="112.8" r="3.0" fill="url(#fball)"/><circle cx="1018.9" cy="145.6" r="3.0" fill="url(#fball)"/><circle cx="1005.9" cy="125.7" r="3.0" fill="url(#fball)"/><circle cx="1262.9" cy="44.5" r="3.3" fill="url(#nball)"/><circle cx="1317.4" cy="87.9" r="3.3" fill="url(#nball)"/><circle cx="1284.1" cy="42.8" r="3.0" fill="url(#fball)"/><circle cx="1276.8" cy="58.4" r="3.0" fill="url(#fball)"/><circle cx="1279.9" cy="49.2" r="3.0" fill="url(#fball)"/><circle cx="1226.2" cy="33.1" r="3.3" fill="url(#nball)"/><circle cx="1174.9" cy="75.2" r="3.3" fill="url(#nball)"/><circle cx="1197.6" cy="64.8" r="3.0" fill="url(#fball)"/><circle cx="1191.9" cy="56.1" r="3.0" fill="url(#fball)"/><circle cx="1217.2" cy="40.9" r="3.0" fill="url(#fball)"/><circle cx="1317.7" cy="106.3" r="3.3" fill="url(#nball)"/><circle cx="1268.8" cy="149.7" r="3.3" fill="url(#nball)"/><circle cx="1300.4" cy="121.5" r="3.0" fill="url(#fball)"/><circle cx="1310.6" cy="122.0" r="3.0" fill="url(#fball)"/><circle cx="1285.2" cy="146.3" r="3.0" fill="url(#fball)"/><circle cx="983.0" cy="266.8" r="3.3" fill="url(#nball)"/><circle cx="1041.5" cy="316.1" r="3.3" fill="url(#nball)"/><circle cx="988.9" cy="280.8" r="3.0" fill="url(#fball)"/><circle cx="1001.7" cy="281.2" r="3.0" fill="url(#fball)"/><circle cx="1015.1" cy="287.6" r="3.0" fill="url(#fball)"/><circle cx="981.9" cy="236.4" r="3.3" fill="url(#nball)"/><circle cx="1035.6" cy="182.6" r="3.3" fill="url(#nball)"/><circle cx="1016.0" cy="211.1" r="3.0" fill="url(#fball)"/><circle cx="993.6" cy="222.7" r="3.0" fill="url(#fball)"/><circle cx="1016.4" cy="203.3" r="3.0" fill="url(#fball)"/><circle cx="1073.1" cy="315.2" r="3.3" fill="url(#nball)"/><circle cx="1138.1" cy="269.4" r="3.3" fill="url(#nball)"/><circle cx="1114.3" cy="289.2" r="3.0" fill="url(#fball)"/><circle cx="1126.6" cy="280.7" r="3.0" fill="url(#fball)"/><circle cx="1119.1" cy="275.2" r="3.0" fill="url(#fball)"/><circle cx="1336.3" cy="281.8" r="3.3" fill="url(#nball)"/><circle cx="1277.2" cy="315.8" r="3.3" fill="url(#nball)"/><circle cx="1314.2" cy="301.0" r="3.0" fill="url(#fball)"/><circle cx="1293.1" cy="312.7" r="3.0" fill="url(#fball)"/><circle cx="1294.8" cy="301.9" r="3.0" fill="url(#fball)"/><circle cx="1335.4" cy="240.6" r="3.3" fill="url(#nball)"/><circle cx="1274.6" cy="184.4" r="3.3" fill="url(#nball)"/><circle cx="1290.6" cy="207.3" r="3.0" fill="url(#fball)"/><circle cx="1317.1" cy="218.4" r="3.0" fill="url(#fball)"/><circle cx="1311.9" cy="211.3" r="3.0" fill="url(#fball)"/><circle cx="1242.6" cy="315.0" r="3.3" fill="url(#nball)"/><circle cx="1179.8" cy="266.9" r="3.3" fill="url(#nball)"/><circle cx="1231.6" cy="297.9" r="3.0" fill="url(#fball)"/><circle cx="1213.0" cy="292.9" r="3.0" fill="url(#fball)"/><circle cx="1210.6" cy="299.6" r="3.0" fill="url(#fball)"/><circle cx="1133.6" cy="100.1" r="3.3" fill="url(#nball)"/><circle cx="1077.1" cy="152.8" r="3.3" fill="url(#nball)"/><circle cx="1125.7" cy="110.9" r="3.0" fill="url(#fball)"/><circle cx="1114.0" cy="122.9" r="3.0" fill="url(#fball)"/><circle cx="1094.0" cy="143.9" r="3.0" fill="url(#fball)"/><circle cx="1172.8" cy="108.1" r="3.3" fill="url(#nball)"/><circle cx="1233.5" cy="151.7" r="3.3" fill="url(#nball)"/><circle cx="1181.3" cy="118.6" r="3.0" fill="url(#fball)"/><circle cx="1206.7" cy="140.7" r="3.0" fill="url(#fball)"/><circle cx="1197.3" cy="111.1" r="3.0" fill="url(#fball)"/><circle cx="1230.8" cy="178.7" r="3.3" fill="url(#nball)"/><circle cx="1175.4" cy="232.7" r="3.3" fill="url(#nball)"/><circle cx="1219.3" cy="190.3" r="3.0" fill="url(#fball)"/><circle cx="1190.6" cy="211.4" r="3.0" fill="url(#fball)"/><circle cx="1202.9" cy="221.9" r="3.0" fill="url(#fball)"/><circle cx="1133.7" cy="240.8" r="3.3" fill="url(#nball)"/><circle cx="1073.8" cy="191.5" r="3.3" fill="url(#nball)"/><circle cx="1123.6" cy="230.4" r="3.0" fill="url(#fball)"/><circle cx="1094.1" cy="198.6" r="3.0" fill="url(#fball)"/><circle cx="1110.2" cy="204.0" r="3.0" fill="url(#fball)"/><circle cx="1022" cy="66" r="4.8" fill="url(#bball)"/><circle cx="1214" cy="68" r="4.8" fill="url(#bball)"/><circle cx="1016" cy="229" r="4.8" fill="url(#bball)"/><circle cx="1216" cy="228" r="4.8" fill="url(#bball)"/>
<path d="M1110.0 385.0L1116.0 390.5L1110.0 396.0L1116.0 401.5L1110.0 407.0L1116.0 412.5L1110.0 418.0L1116.0 423.5L1110.0 429.0L1116.0 434.5L1110.0 440.0L1116.0 445.5L1110.0 451.0L1116.0 456.5L1110.0 462.0L1116.0 467.5L1110.0 473.0L1116.0 478.5L1110.0 484.0L1116.0 489.5L1110.0 495.0L1116.0 500.5M1121.0 385.0L1127.0 390.5L1121.0 396.0L1127.0 401.5L1121.0 407.0L1127.0 412.5L1121.0 418.0L1127.0 423.5L1121.0 429.0L1127.0 434.5L1121.0 440.0L1127.0 445.5L1121.0 451.0L1127.0 456.5L1121.0 462.0L1127.0 467.5L1121.0 473.0L1127.0 478.5L1121.0 484.0L1127.0 489.5L1121.0 495.0L1127.0 500.5M1183.0 385.0L1189.0 390.5L1183.0 396.0L1189.0 401.5L1183.0 407.0L1189.0 412.5L1183.0 418.0L1189.0 423.5L1183.0 429.0L1189.0 434.5L1183.0 440.0L1189.0 445.5L1183.0 451.0L1189.0 456.5L1183.0 462.0L1189.0 467.5L1183.0 473.0L1189.0 478.5L1183.0 484.0L1189.0 489.5L1183.0 495.0L1189.0 500.5M1194.0 385.0L1200.0 390.5L1194.0 396.0L1200.0 401.5L1194.0 407.0L1200.0 412.5L1194.0 418.0L1200.0 423.5L1194.0 429.0L1200.0 434.5L1194.0 440.0L1200.0 445.5L1194.0 451.0L1200.0 456.5L1194.0 462.0L1200.0 467.5L1194.0 473.0L1200.0 478.5L1194.0 484.0L1200.0 489.5L1194.0 495.0L1200.0 500.5" fill="none" stroke="#606060" stroke-width="2.2"/>
<g fill="url(#hball)" stroke="#8c8c8c" stroke-width="0.5"><circle cx="1103.0" cy="385.0" r="2.8"/><circle cx="1103.0" cy="396.0" r="2.8"/><circle cx="1117.0" cy="407.0" r="2.8"/><circle cx="1117.0" cy="418.0" r="2.8"/><circle cx="1103.0" cy="429.0" r="2.8"/><circle cx="1103.0" cy="440.0" r="2.8"/><circle cx="1103.0" cy="451.0" r="2.8"/><circle cx="1117.0" cy="462.0" r="2.8"/><circle cx="1117.0" cy="473.0" r="2.8"/><circle cx="1117.0" cy="484.0" r="2.8"/><circle cx="1103.0" cy="495.0" r="2.8"/><circle cx="1128.0" cy="385.0" r="2.8"/><circle cx="1128.0" cy="396.0" r="2.8"/><circle cx="1128.0" cy="407.0" r="2.8"/><circle cx="1114.0" cy="418.0" r="2.8"/><circle cx="1128.0" cy="429.0" r="2.8"/><circle cx="1128.0" cy="440.0" r="2.8"/><circle cx="1114.0" cy="451.0" r="2.8"/><circle cx="1114.0" cy="462.0" r="2.8"/><circle cx="1114.0" cy="473.0" r="2.8"/><circle cx="1114.0" cy="484.0" r="2.8"/><circle cx="1128.0" cy="495.0" r="2.8"/><circle cx="1190.0" cy="385.0" r="2.8"/><circle cx="1176.0" cy="396.0" r="2.8"/><circle cx="1176.0" cy="407.0" r="2.8"/><circle cx="1176.0" cy="418.0" r="2.8"/><circle cx="1190.0" cy="429.0" r="2.8"/><circle cx="1176.0" cy="440.0" r="2.8"/><circle cx="1176.0" cy="451.0" r="2.8"/><circle cx="1176.0" cy="462.0" r="2.8"/><circle cx="1176.0" cy="473.0" r="2.8"/><circle cx="1190.0" cy="484.0" r="2.8"/><circle cx="1176.0" cy="495.0" r="2.8"/><circle cx="1201.0" cy="385.0" r="2.8"/><circle cx="1201.0" cy="396.0" r="2.8"/><circle cx="1187.0" cy="407.0" r="2.8"/><circle cx="1201.0" cy="418.0" r="2.8"/><circle cx="1187.0" cy="429.0" r="2.8"/><circle cx="1187.0" cy="440.0" r="2.8"/><circle cx="1201.0" cy="451.0" r="2.8"/><circle cx="1201.0" cy="462.0" r="2.8"/><circle cx="1187.0" cy="473.0" r="2.8"/><circle cx="1187.0" cy="484.0" r="2.8"/><circle cx="1201.0" cy="495.0" r="2.8"/></g>
<path d="M928.0 394.0L931.0 394.4L934.0 394.8L937.0 395.2L940.0 395.5L943.0 395.8L946.0 395.9L949.0 396.0L952.0 396.0L955.0 395.9L958.0 395.8L961.0 395.7L964.0 395.5L967.0 395.3L970.0 395.1L973.0 394.9L976.0 394.8L979.0 394.8L982.0 394.8L985.0 394.9L988.0 395.0L991.0 395.1L994.0 395.3L997.0 395.5L1000.0 395.6L1003.0 395.8L1006.0 395.8L1009.0 395.9L1012.0 395.8L1015.0 395.6L1018.0 395.4L1021.0 395.1L1024.0 394.7L1027.0 394.2L1030.0 393.7L1033.0 393.2L1036.0 392.7L1039.0 392.3L1042.0 391.8L1045.0 391.5L1048.0 391.2L1051.0 390.9L1054.0 390.8L1057.0 390.7L1060.0 390.7L1063.0 390.7L1066.0 390.8L1069.0 390.8L1072.0 390.9L1075.0 390.9L1078.0 390.9L1081.0 390.9L1084.0 390.7L1087.0 390.6L1090.0 390.3L1093.0 390.1L1096.0 389.7L1099.0 389.4L1102.0 389.1L1105.0 388.8L1108.0 388.6L1111.0 388.4L1114.0 388.2L1117.0 388.2L1120.0 388.3L1123.0 388.4L1126.0 388.6L1129.0 388.9L1132.0 389.3L1135.0 389.7L1138.0 390.0L1141.0 390.4L1144.0 390.8L1147.0 391.1L1150.0 391.4L1153.0 391.5L1156.0 391.7L1159.0 391.7L1162.0 391.7L1165.0 391.6L1168.0 391.5L1171.0 391.4L1174.0 391.3L1177.0 391.2L1180.0 391.1L1183.0 391.1L1186.0 391.2L1189.0 391.3L1192.0 391.5L1195.0 391.7L1198.0 392.0L1201.0 392.3L1204.0 392.6L1207.0 392.9L1210.0 393.2L1213.0 393.4L1216.0 393.6L1219.0 393.6L1222.0 393.6L1225.0 393.5L1228.0 393.3L1231.0 393.0L1234.0 392.7L1237.0 392.3L1240.0 391.9L1243.0 391.5L1246.0 391.1L1249.0 390.7L1252.0 390.4L1255.0 390.1L1258.0 389.9L1261.0 389.7L1264.0 389.7L1267.0 389.6L1270.0 389.6L1273.0 389.7L1276.0 389.7L1279.0 389.7L1282.0 389.7L1285.0 389.6L1288.0 389.5L1291.0 389.3L1294.0 389.0L1297.0 388.7L1300.0 388.3L1303.0 387.9L1306.0 387.4L1309.0 387.0L1312.0 386.6L1315.0 386.2L1318.0 385.8L1321.0 385.6L1324.0 385.4L1327.0 385.3L1330.0 385.3L1333.0 385.4L1336.0 385.6L1339.0 385.8L1342.0 386.0L1345.0 386.3L1348.0 386.6L1351.0 386.9L1354.0 387.1L1357.0 387.3L1360.0 387.4L1363.0 387.4L1366.0 387.4L1369.0 387.4L1372.0 387.3L1375.0 387.2L1378.0 387.0L1381.0 386.9L1384.0 386.8" fill="none" stroke="url(#patR)" stroke-width="12" stroke-linecap="round"/>
<path d="M939.2 407.1L934.5 405.5L933.4 400.2L936.8 396.3L941.5 397.9L942.6 403.2L939.2 407.1M953.3 404.2L950.0 408.2L945.3 406.9L944.0 401.5L947.3 397.5L952.0 398.9L953.3 404.2M957.8 388.5L960.0 384.4L965.4 383.9L968.6 387.5L966.4 391.6L961.0 392.1L957.8 388.5M981.6 391.8L976.5 393.5L971.6 391.5L971.8 387.8L976.9 386.1L981.8 388.1L981.6 391.8M983.0 405.3L982.1 400.2L986.5 396.9L991.8 398.8L992.7 403.9L988.3 407.2L983.0 405.3M999.7 404.9L996.0 402.1L998.1 398.8L1004.0 398.2L1007.8 401.0L1005.6 404.3L999.7 404.9M1013.7 394.8L1011.1 390.1L1013.2 385.0L1017.8 384.7L1020.4 389.4L1018.4 394.4L1013.7 394.8M1027.1 407.0L1024.8 401.7L1028.6 397.2L1034.6 398.0L1036.9 403.3L1033.1 407.8L1027.1 407.0M1037.5 387.1L1037.6 382.8L1042.3 380.7L1047.0 382.8L1047.0 387.1L1042.3 389.3L1037.5 387.1M1053.0 402.3L1051.1 398.0L1054.3 394.4L1059.3 395.1L1061.2 399.4L1058.0 403.0L1053.0 402.3M1074.0 398.7L1068.8 400.0L1064.6 397.4L1065.7 393.6L1070.9 392.4L1075.1 394.9L1074.0 398.7M1076.7 401.8L1074.3 398.5L1077.1 395.3L1082.3 395.5L1084.7 398.8L1081.9 402.0L1076.7 401.8M1093.0 401.4L1087.3 400.7L1085.3 397.1L1089.0 394.1L1094.6 394.7L1096.6 398.4L1093.0 401.4M1098.6 384.6L1097.0 379.6L1101.4 375.9L1107.4 377.2L1109.0 382.2L1104.6 385.9L1098.6 384.6M1113.0 397.7L1107.8 395.6L1108.5 392.1L1114.3 390.6L1119.6 392.7L1118.9 396.3L1113.0 397.7M1120.8 400.4L1117.8 397.1L1120.1 393.6L1125.5 393.3L1128.5 396.5L1126.2 400.1L1120.8 400.4M1134.3 385.4L1129.6 383.1L1130.5 379.4L1136.1 378.0L1140.8 380.3L1140.0 384.0L1134.3 385.4M1141.5 397.0L1144.0 393.1L1149.3 392.9L1152.1 396.6L1149.7 400.6L1144.4 400.8L1141.5 397.0M1151.5 401.5L1151.6 397.3L1155.9 395.2L1160.2 397.4L1160.1 401.7L1155.8 403.8L1151.5 401.5M1159.7 388.3L1160.1 383.9L1165.5 381.9L1170.6 384.4L1170.2 388.7L1164.8 390.7L1159.7 388.3M1173.6 399.9L1175.3 395.4L1179.8 394.9L1182.6 398.7L1180.8 403.2L1176.3 403.8L1173.6 399.9M1195.3 389.6L1189.0 390.3L1185.0 387.0L1187.2 383.1L1193.4 382.4L1197.5 385.6L1195.3 389.6M1195.3 399.9L1196.8 395.6L1202.1 394.6L1205.8 397.7L1204.3 402.0L1199.1 403.0L1195.3 399.9M1214.4 391.4L1209.3 391.5L1206.7 387.3L1209.1 383.0L1214.2 382.9L1216.8 387.1L1214.4 391.4M1216.1 387.4L1216.6 382.3L1221.7 380.1L1226.3 383.1L1225.8 388.2L1220.7 390.4L1216.1 387.4M1227.3 401.4L1227.2 397.8L1232.6 396.0L1238.2 397.7L1238.4 401.2L1232.9 403.1L1227.3 401.4M1242.1 389.1L1237.1 387.0L1237.0 382.6L1241.7 380.3L1246.6 382.4L1246.8 386.8L1242.1 389.1M1258.8 402.4L1252.5 402.2L1249.4 397.2L1252.7 392.3L1259.0 392.4L1262.1 397.5L1258.8 402.4M1273.1 385.3L1268.4 386.5L1264.6 384.0L1265.6 380.3L1270.3 379.0L1274.1 381.5L1273.1 385.3M1289.6 401.0L1284.1 402.7L1279.6 399.5L1280.6 394.4L1286.1 392.6L1290.6 395.9L1289.6 401.0M1302.9 397.9L1298.2 399.2L1294.9 395.0L1296.3 389.5L1301.0 388.2L1304.3 392.4L1302.9 397.9M1309.9 384.0L1306.5 380.6L1309.0 377.0L1315.0 376.7L1318.3 380.0L1315.8 383.6L1309.9 384.0M1329.2 379.0L1326.1 381.7L1321.2 381.2L1319.4 377.9L1322.5 375.2L1327.4 375.7L1329.2 379.0M1338.1 383.1L1334.7 379.3L1336.3 374.4L1341.2 373.4L1344.5 377.2L1343.0 382.1L1338.1 383.1M1346.9 378.5L1349.3 374.8L1355.3 374.4L1359.0 377.6L1356.6 381.3L1350.6 381.8L1346.9 378.5M1356.7 379.5L1358.2 375.8L1363.8 374.9L1367.7 377.7L1366.1 381.4L1360.6 382.3L1356.7 379.5" fill="none" stroke="#5c5c5c" stroke-width="1.6"/>
<path d="M928.0 394.0L931.0 394.4L934.0 394.8L937.0 395.2L940.0 395.5L943.0 395.8L946.0 395.9L949.0 396.0L952.0 396.0L955.0 395.9L958.0 395.8L961.0 395.7L964.0 395.5L967.0 395.3L970.0 395.1L973.0 394.9L976.0 394.8L979.0 394.8L982.0 394.8L985.0 394.9L988.0 395.0L991.0 395.1L994.0 395.3L997.0 395.5L1000.0 395.6L1003.0 395.8L1006.0 395.8L1009.0 395.9L1012.0 395.8L1015.0 395.6L1018.0 395.4L1021.0 395.1L1024.0 394.7L1027.0 394.2L1030.0 393.7L1033.0 393.2L1036.0 392.7L1039.0 392.3L1042.0 391.8L1045.0 391.5L1048.0 391.2L1051.0 390.9L1054.0 390.8L1057.0 390.7L1060.0 390.7L1063.0 390.7L1066.0 390.8L1069.0 390.8L1072.0 390.9L1075.0 390.9L1078.0 390.9L1081.0 390.9L1084.0 390.7L1087.0 390.6L1090.0 390.3L1093.0 390.1L1096.0 389.7L1099.0 389.4L1102.0 389.1L1105.0 388.8L1108.0 388.6L1111.0 388.4L1114.0 388.2L1117.0 388.2L1120.0 388.3L1123.0 388.4L1126.0 388.6L1129.0 388.9L1132.0 389.3L1135.0 389.7L1138.0 390.0L1141.0 390.4L1144.0 390.8L1147.0 391.1L1150.0 391.4L1153.0 391.5L1156.0 391.7L1159.0 391.7L1162.0 391.7L1165.0 391.6L1168.0 391.5L1171.0 391.4L1174.0 391.3L1177.0 391.2L1180.0 391.1L1183.0 391.1L1186.0 391.2L1189.0 391.3L1192.0 391.5L1195.0 391.7L1198.0 392.0L1201.0 392.3L1204.0 392.6L1207.0 392.9L1210.0 393.2L1213.0 393.4L1216.0 393.6L1219.0 393.6L1222.0 393.6L1225.0 393.5L1228.0 393.3L1231.0 393.0L1234.0 392.7L1237.0 392.3L1240.0 391.9L1243.0 391.5L1246.0 391.1L1249.0 390.7L1252.0 390.4L1255.0 390.1L1258.0 389.9L1261.0 389.7L1264.0 389.7L1267.0 389.6L1270.0 389.6L1273.0 389.7L1276.0 389.7L1279.0 389.7L1282.0 389.7L1285.0 389.6L1288.0 389.5L1291.0 389.3L1294.0 389.0L1297.0 388.7L1300.0 388.3L1303.0 387.9L1306.0 387.4L1309.0 387.0L1312.0 386.6L1315.0 386.2L1318.0 385.8L1321.0 385.6L1324.0 385.4L1327.0 385.3L1330.0 385.3L1333.0 385.4L1336.0 385.6L1339.0 385.8L1342.0 386.0L1345.0 386.3L1348.0 386.6L1351.0 386.9L1354.0 387.1L1357.0 387.3L1360.0 387.4L1363.0 387.4L1366.0 387.4L1369.0 387.4L1372.0 387.3L1375.0 387.2L1378.0 387.0L1381.0 386.9L1384.0 386.8" fill="none" stroke="#555" stroke-width="2.4"/>
<g fill="url(#hball)" stroke="#8c8c8c" stroke-width="0.5"><circle cx="930.2" cy="384.9" r="3.1"/><circle cx="929.6" cy="404.0" r="3.2"/><circle cx="943.2" cy="386.7" r="2.9"/><circle cx="942.2" cy="405.5" r="2.9"/><circle cx="946.6" cy="385.8" r="3.1"/><circle cx="950.8" cy="386.0" r="2.7"/><circle cx="949.3" cy="407.3" r="2.9"/><circle cx="956.2" cy="383.5" r="3.0"/><circle cx="958.8" cy="383.6" r="2.9"/><circle cx="957.6" cy="406.7" r="2.7"/><circle cx="964.2" cy="407.8" r="3.0"/><circle cx="966.1" cy="383.4" r="2.6"/><circle cx="966.2" cy="404.6" r="2.7"/><circle cx="972.7" cy="408.7" r="2.9"/><circle cx="977.6" cy="408.4" r="3.0"/><circle cx="981.4" cy="381.7" r="3.0"/><circle cx="983.4" cy="406.4" r="2.7"/><circle cx="998.9" cy="406.7" r="3.1"/><circle cx="1000.3" cy="384.7" r="2.7"/><circle cx="1002.0" cy="409.1" r="2.7"/><circle cx="1004.4" cy="387.1" r="3.0"/><circle cx="1010.4" cy="385.8" r="3.2"/><circle cx="1008.0" cy="404.7" r="2.6"/><circle cx="1019.0" cy="405.3" r="3.1"/><circle cx="1023.9" cy="386.0" r="2.8"/><circle cx="1028.0" cy="382.0" r="3.0"/><circle cx="1025.2" cy="406.8" r="2.8"/><circle cx="1029.4" cy="380.3" r="3.1"/><circle cx="1034.0" cy="402.5" r="3.1"/><circle cx="1044.7" cy="381.6" r="3.1"/><circle cx="1044.7" cy="401.4" r="3.1"/><circle cx="1047.3" cy="381.2" r="2.9"/><circle cx="1047.7" cy="404.3" r="3.1"/><circle cx="1052.8" cy="377.1" r="2.8"/><circle cx="1061.2" cy="381.9" r="2.8"/><circle cx="1064.4" cy="376.9" r="3.1"/><circle cx="1062.6" cy="401.9" r="3.1"/><circle cx="1066.9" cy="382.0" r="2.9"/><circle cx="1068.3" cy="400.3" r="2.9"/><circle cx="1075.6" cy="379.0" r="2.8"/><circle cx="1080.2" cy="381.1" r="2.9"/><circle cx="1081.0" cy="399.5" r="2.7"/><circle cx="1093.6" cy="381.2" r="2.8"/><circle cx="1099.3" cy="379.8" r="2.8"/><circle cx="1097.1" cy="403.2" r="2.7"/><circle cx="1104.4" cy="399.5" r="2.7"/><circle cx="1112.6" cy="398.5" r="3.2"/><circle cx="1115.3" cy="375.7" r="2.9"/><circle cx="1117.2" cy="375.2" r="3.1"/><circle cx="1123.0" cy="376.2" r="3.1"/><circle cx="1124.7" cy="399.7" r="3.2"/><circle cx="1129.0" cy="378.9" r="2.8"/><circle cx="1127.1" cy="401.2" r="3.0"/><circle cx="1131.3" cy="378.0" r="2.8"/><circle cx="1141.5" cy="403.9" r="2.9"/><circle cx="1142.9" cy="403.5" r="2.9"/><circle cx="1148.8" cy="382.3" r="2.9"/><circle cx="1157.1" cy="379.7" r="3.0"/><circle cx="1166.0" cy="380.2" r="2.7"/><circle cx="1163.8" cy="400.7" r="2.6"/><circle cx="1169.5" cy="381.8" r="2.9"/><circle cx="1173.2" cy="377.9" r="3.0"/><circle cx="1178.9" cy="404.8" r="2.7"/><circle cx="1187.2" cy="381.0" r="2.6"/><circle cx="1197.0" cy="380.4" r="2.9"/><circle cx="1200.6" cy="406.0" r="2.7"/><circle cx="1201.8" cy="383.4" r="3.0"/><circle cx="1206.8" cy="401.5" r="3.2"/><circle cx="1215.3" cy="380.0" r="3.0"/><circle cx="1215.0" cy="403.9" r="2.8"/><circle cx="1218.5" cy="381.5" r="3.0"/><circle cx="1225.0" cy="403.7" r="2.8"/><circle cx="1226.3" cy="379.8" r="3.1"/><circle cx="1230.1" cy="403.9" r="2.9"/><circle cx="1233.3" cy="406.4" r="2.9"/><circle cx="1236.6" cy="381.9" r="2.8"/><circle cx="1240.9" cy="380.6" r="3.0"/><circle cx="1246.5" cy="402.2" r="2.8"/><circle cx="1258.3" cy="378.0" r="2.9"/><circle cx="1255.9" cy="400.9" r="2.8"/><circle cx="1263.6" cy="377.6" r="2.7"/><circle cx="1261.2" cy="402.3" r="2.9"/><circle cx="1266.8" cy="380.2" r="3.0"/><circle cx="1270.0" cy="401.5" r="2.9"/><circle cx="1274.9" cy="375.8" r="2.7"/><circle cx="1284.5" cy="402.6" r="3.0"/><circle cx="1288.0" cy="378.9" r="2.7"/><circle cx="1292.5" cy="380.4" r="2.8"/><circle cx="1292.6" cy="398.7" r="2.7"/><circle cx="1300.7" cy="377.5" r="2.9"/><circle cx="1302.7" cy="375.8" r="3.1"/><circle cx="1308.4" cy="397.6" r="2.7"/><circle cx="1311.5" cy="396.9" r="3.1"/><circle cx="1315.1" cy="376.2" r="2.6"/><circle cx="1318.0" cy="399.2" r="2.9"/><circle cx="1320.7" cy="372.3" r="2.9"/><circle cx="1323.2" cy="372.3" r="2.9"/><circle cx="1330.6" cy="397.8" r="3.0"/><circle cx="1331.3" cy="372.1" r="3.0"/><circle cx="1338.2" cy="374.3" r="2.7"/><circle cx="1336.0" cy="394.5" r="2.7"/><circle cx="1342.4" cy="373.4" r="3.1"/><circle cx="1343.9" cy="397.9" r="2.9"/><circle cx="1349.1" cy="396.9" r="2.8"/><circle cx="1363.5" cy="398.3" r="3.0"/><circle cx="1368.6" cy="396.7" r="2.7"/><circle cx="1370.5" cy="401.2" r="3.1"/><circle cx="1374.2" cy="376.2" r="3.0"/><circle cx="1381.3" cy="374.6" r="2.7"/></g>
<g fill="url(#cball)"><circle cx="930.0" cy="389.5" r="2.4"/><circle cx="936.0" cy="394.4" r="2.4"/><circle cx="942.0" cy="390.9" r="2.4"/><circle cx="948.0" cy="396.0" r="2.4"/><circle cx="954.0" cy="391.0" r="2.4"/><circle cx="960.0" cy="395.6" r="2.4"/><circle cx="966.0" cy="400.9" r="2.4"/><circle cx="972.0" cy="389.4" r="2.4"/><circle cx="978.0" cy="400.0" r="2.4"/><circle cx="984.0" cy="390.2" r="2.4"/><circle cx="990.0" cy="399.3" r="2.4"/><circle cx="996.0" cy="400.6" r="2.4"/><circle cx="1002.0" cy="390.0" r="2.4"/><circle cx="1008.0" cy="390.6" r="2.4"/><circle cx="1014.0" cy="401.2" r="2.4"/><circle cx="1020.0" cy="390.3" r="2.4"/><circle cx="1026.0" cy="398.9" r="2.4"/><circle cx="1032.0" cy="393.3" r="2.4"/><circle cx="1038.0" cy="386.9" r="2.4"/><circle cx="1044.0" cy="387.0" r="2.4"/><circle cx="1050.0" cy="385.5" r="2.4"/><circle cx="1056.0" cy="396.4" r="2.4"/><circle cx="1062.0" cy="395.0" r="2.4"/><circle cx="1068.0" cy="390.3" r="2.4"/><circle cx="1074.0" cy="395.8" r="2.4"/><circle cx="1080.0" cy="385.7" r="2.4"/><circle cx="1086.0" cy="395.9" r="2.4"/><circle cx="1092.0" cy="385.0" r="2.4"/><circle cx="1098.0" cy="394.5" r="2.4"/><circle cx="1104.0" cy="384.7" r="2.4"/><circle cx="1110.0" cy="388.7" r="2.4"/><circle cx="1116.0" cy="393.8" r="2.4"/><circle cx="1122.0" cy="393.3" r="2.4"/><circle cx="1128.0" cy="384.4" r="2.4"/><circle cx="1134.0" cy="394.5" r="2.4"/><circle cx="1140.0" cy="395.0" r="2.4"/><circle cx="1146.0" cy="386.6" r="2.4"/><circle cx="1152.0" cy="396.7" r="2.4"/><circle cx="1158.0" cy="396.6" r="2.4"/><circle cx="1164.0" cy="386.4" r="2.4"/><circle cx="1170.0" cy="386.0" r="2.4"/><circle cx="1176.0" cy="391.8" r="2.4"/><circle cx="1182.0" cy="391.7" r="2.4"/><circle cx="1188.0" cy="386.4" r="2.4"/><circle cx="1194.0" cy="385.9" r="2.4"/><circle cx="1200.0" cy="397.4" r="2.4"/><circle cx="1206.0" cy="397.8" r="2.4"/><circle cx="1212.0" cy="393.2" r="2.4"/><circle cx="1218.0" cy="393.0" r="2.4"/><circle cx="1224.0" cy="399.0" r="2.4"/><circle cx="1230.0" cy="393.0" r="2.4"/><circle cx="1236.0" cy="397.2" r="2.4"/><circle cx="1242.0" cy="390.9" r="2.4"/><circle cx="1248.0" cy="395.7" r="2.4"/><circle cx="1254.0" cy="385.0" r="2.4"/><circle cx="1260.0" cy="395.5" r="2.4"/><circle cx="1266.0" cy="385.3" r="2.4"/><circle cx="1272.0" cy="394.5" r="2.4"/><circle cx="1278.0" cy="384.4" r="2.4"/><circle cx="1284.0" cy="395.3" r="2.4"/><circle cx="1290.0" cy="389.3" r="2.4"/><circle cx="1296.0" cy="394.5" r="2.4"/><circle cx="1302.0" cy="382.6" r="2.4"/><circle cx="1308.0" cy="387.3" r="2.4"/><circle cx="1314.0" cy="386.6" r="2.4"/><circle cx="1320.0" cy="385.2" r="2.4"/><circle cx="1326.0" cy="384.9" r="2.4"/><circle cx="1332.0" cy="384.9" r="2.4"/><circle cx="1338.0" cy="391.5" r="2.4"/><circle cx="1344.0" cy="380.8" r="2.4"/><circle cx="1350.0" cy="381.7" r="2.4"/><circle cx="1356.0" cy="392.3" r="2.4"/><circle cx="1362.0" cy="382.6" r="2.4"/><circle cx="1368.0" cy="386.6" r="2.4"/><circle cx="1374.0" cy="381.7" r="2.4"/><circle cx="1380.0" cy="386.6" r="2.4"/></g>
<circle cx="1185.9" cy="393.0" r="3.6" fill="url(#nball)"/><circle cx="1118.4" cy="385.9" r="3.6" fill="url(#nball)"/><circle cx="1191.0" cy="387.9" r="3.6" fill="url(#nball)"/><circle cx="1205.7" cy="395.7" r="3.6" fill="url(#nball)"/><circle cx="997.2" cy="393.0" r="3.6" fill="url(#nball)"/><circle cx="965.1" cy="398.3" r="3.6" fill="url(#nball)"/><circle cx="1033.9" cy="395.7" r="3.4" fill="url(#fball)"/><circle cx="979.4" cy="391.1" r="3.4" fill="url(#fball)"/><circle cx="957.3" cy="390.1" r="3.4" fill="url(#fball)"/><circle cx="1293.3" cy="393.1" r="3.4" fill="url(#fball)"/><circle cx="1255.0" cy="385.2" r="3.4" fill="url(#fball)"/><circle cx="1324.1" cy="390.8" r="3.4" fill="url(#fball)"/>
<path d="M928.0 434.6L931.0 434.5L934.0 434.4L937.0 434.2L940.0 433.9L943.0 433.6L946.0 433.4L949.0 433.1L952.0 432.9L955.0 432.7L958.0 432.6L961.0 432.6L964.0 432.6L967.0 432.6L970.0 432.7L973.0 432.8L976.0 432.9L979.0 433.0L982.0 433.1L985.0 433.0L988.0 433.0L991.0 432.8L994.0 432.6L997.0 432.3L1000.0 431.9L1003.0 431.5L1006.0 431.0L1009.0 430.5L1012.0 430.0L1015.0 429.5L1018.0 429.0L1021.0 428.6L1024.0 428.3L1027.0 428.0L1030.0 427.9L1033.0 427.8L1036.0 427.7L1039.0 427.8L1042.0 427.9L1045.0 428.0L1048.0 428.1L1051.0 428.2L1054.0 428.3L1057.0 428.4L1060.0 428.4L1063.0 428.3L1066.0 428.2L1069.0 428.0L1072.0 427.8L1075.0 427.6L1078.0 427.3L1081.0 427.1L1084.0 426.9L1087.0 426.7L1090.0 426.7L1093.0 426.6L1096.0 426.7L1099.0 426.8L1102.0 427.1L1105.0 427.4L1108.0 427.7L1111.0 428.2L1114.0 428.6L1117.0 429.0L1120.0 429.4L1123.0 429.8L1126.0 430.1L1129.0 430.3L1132.0 430.5L1135.0 430.6L1138.0 430.6L1141.0 430.5L1144.0 430.4L1147.0 430.3L1150.0 430.1L1153.0 430.0L1156.0 429.9L1159.0 429.8L1162.0 429.7L1165.0 429.7L1168.0 429.8L1171.0 429.9L1174.0 430.1L1177.0 430.3L1180.0 430.6L1183.0 430.8L1186.0 431.0L1189.0 431.2L1192.0 431.3L1195.0 431.3L1198.0 431.3L1201.0 431.2L1204.0 430.9L1207.0 430.7L1210.0 430.3L1213.0 429.9L1216.0 429.4L1219.0 428.9L1222.0 428.4L1225.0 428.0L1228.0 427.6L1231.0 427.2L1234.0 427.0L1237.0 426.7L1240.0 426.6L1243.0 426.5L1246.0 426.5L1249.0 426.5L1252.0 426.6L1255.0 426.6L1258.0 426.6L1261.0 426.6L1264.0 426.6L1267.0 426.4L1270.0 426.3L1273.0 426.0L1276.0 425.7L1279.0 425.4L1282.0 425.0L1285.0 424.7L1288.0 424.3L1291.0 423.9L1294.0 423.6L1297.0 423.4L1300.0 423.3L1303.0 423.2L1306.0 423.2L1309.0 423.3L1312.0 423.5L1315.0 423.8L1318.0 424.1L1321.0 424.4L1324.0 424.8L1327.0 425.1L1330.0 425.4L1333.0 425.7L1336.0 425.9L1339.0 426.1L1342.0 426.2L1345.0 426.2L1348.0 426.2L1351.0 426.1L1354.0 426.0L1357.0 425.9L1360.0 425.8L1363.0 425.7L1366.0 425.7L1369.0 425.7L1372.0 425.8L1375.0 426.0L1378.0 426.2L1381.0 426.5L1384.0 426.8" fill="none" stroke="url(#patR)" stroke-width="12" stroke-linecap="round"/>
<path d="M937.0 446.9L933.3 444.0L934.3 439.6L939.0 438.2L942.7 441.1L941.7 445.5L937.0 446.9M954.8 442.5L950.6 444.9L946.1 442.9L945.8 438.5L950.0 436.1L954.6 438.1L954.8 442.5M955.3 439.3L956.5 435.4L961.2 434.3L964.7 437.1L963.5 441.0L958.8 442.1L955.3 439.3M969.1 444.3L966.5 439.8L969.4 435.5L974.9 435.6L977.5 440.1L974.6 444.4L969.1 444.3M976.2 441.9L978.9 437.7L984.4 437.6L987.3 441.7L984.6 445.9L979.0 446.0L976.2 441.9M990.5 431.5L987.3 427.9L988.8 423.3L993.5 422.3L996.7 425.9L995.2 430.5L990.5 431.5M1014.2 423.3L1009.9 426.2L1003.5 425.5L1001.4 421.8L1005.7 418.9L1012.0 419.6L1014.2 423.3M1025.9 437.8L1021.1 439.4L1016.6 437.4L1016.9 433.8L1021.7 432.1L1026.2 434.1L1025.9 437.8M1042.0 419.3L1038.9 423.2L1033.2 422.9L1030.7 418.7L1033.8 414.8L1039.5 415.1L1042.0 419.3M1050.8 436.4L1046.8 439.0L1042.5 436.8L1042.3 432.2L1046.3 429.7L1050.6 431.8L1050.8 436.4M1060.4 425.0L1055.9 427.4L1051.6 424.9L1051.7 420.0L1056.1 417.7L1060.4 420.2L1060.4 425.0M1068.0 439.5L1066.1 434.9L1069.3 431.1L1074.4 431.8L1076.2 436.4L1073.0 440.2L1068.0 439.5M1080.9 436.4L1080.4 431.6L1084.4 428.8L1089.0 430.8L1089.5 435.5L1085.5 438.4L1080.9 436.4M1096.7 435.7L1092.5 433.6L1092.6 429.7L1097.0 427.8L1101.2 429.9L1101.0 433.8L1096.7 435.7M1106.4 426.4L1104.0 422.3L1107.6 418.8L1113.7 419.2L1116.1 423.3L1112.5 426.9L1106.4 426.4M1124.1 439.9L1118.3 440.3L1114.9 437.0L1117.2 433.3L1123.0 432.8L1126.5 436.1L1124.1 439.9M1138.4 439.3L1135.1 443.1L1129.2 442.8L1126.6 438.7L1129.9 434.9L1135.8 435.2L1138.4 439.3M1138.6 427.8L1136.3 424.0L1139.6 420.5L1145.1 421.0L1147.4 424.8L1144.1 428.3L1138.6 427.8M1147.7 424.3L1148.7 419.8L1153.8 418.2L1158.0 421.1L1157.1 425.7L1152.0 427.3L1147.7 424.3M1172.9 427.3L1166.6 428.2L1162.5 423.9L1164.7 418.6L1171.0 417.7L1175.1 422.0L1172.9 427.3M1189.6 438.5L1186.7 441.5L1181.6 441.3L1179.3 438.0L1182.2 435.0L1187.3 435.3L1189.6 438.5M1194.9 444.8L1190.9 441.4L1191.6 435.8L1196.3 433.7L1200.3 437.1L1199.6 442.7L1194.9 444.8M1209.6 424.6L1205.4 427.4L1200.4 425.7L1199.7 421.0L1203.9 418.2L1208.9 420.0L1209.6 424.6M1208.6 437.0L1210.7 433.6L1216.0 433.2L1219.2 436.2L1217.1 439.6L1211.7 440.0L1208.6 437.0M1227.8 439.2L1222.3 439.5L1219.2 436.3L1221.6 432.7L1227.1 432.4L1230.2 435.7L1227.8 439.2M1233.3 437.5L1230.4 433.7L1233.9 430.1L1240.2 430.3L1243.1 434.1L1239.7 437.7L1233.3 437.5M1252.0 436.2L1246.1 436.4L1243.0 432.4L1245.7 428.2L1251.6 428.1L1254.7 432.0L1252.0 436.2M1261.9 425.4L1255.4 425.9L1251.8 421.0L1254.6 415.7L1261.0 415.3L1264.7 420.1L1261.9 425.4M1271.1 435.6L1268.3 431.4L1270.7 426.9L1276.0 426.7L1278.8 430.9L1276.4 435.4L1271.1 435.6M1280.4 436.0L1278.3 430.9L1282.5 426.8L1288.7 427.8L1290.8 433.0L1286.6 437.1L1280.4 436.0M1292.4 417.4L1295.0 414.0L1300.6 413.8L1303.6 417.1L1301.1 420.5L1295.5 420.7L1292.4 417.4M1312.9 433.5L1307.9 431.5L1308.3 427.9L1313.7 426.3L1318.7 428.3L1318.3 431.9L1312.9 433.5M1319.4 419.6L1321.3 415.0L1325.9 414.6L1328.6 418.7L1326.7 423.4L1322.0 423.8L1319.4 419.6M1329.8 435.7L1331.2 430.9L1335.7 429.8L1338.8 433.5L1337.5 438.3L1333.0 439.4L1329.8 435.7M1340.0 422.1L1340.2 418.3L1344.7 416.5L1349.0 418.5L1348.9 422.3L1344.3 424.1L1340.0 422.1M1361.7 432.6L1358.1 436.5L1353.2 435.0L1351.9 429.6L1355.6 425.7L1360.5 427.1L1361.7 432.6M1363.3 420.8L1363.2 416.3L1368.3 414.0L1373.3 416.2L1373.4 420.8L1368.3 423.1L1363.3 420.8" fill="none" stroke="#5c5c5c" stroke-width="1.6"/>
<path d="M928.0 434.6L931.0 434.5L934.0 434.4L937.0 434.2L940.0 433.9L943.0 433.6L946.0 433.4L949.0 433.1L952.0 432.9L955.0 432.7L958.0 432.6L961.0 432.6L964.0 432.6L967.0 432.6L970.0 432.7L973.0 432.8L976.0 432.9L979.0 433.0L982.0 433.1L985.0 433.0L988.0 433.0L991.0 432.8L994.0 432.6L997.0 432.3L1000.0 431.9L1003.0 431.5L1006.0 431.0L1009.0 430.5L1012.0 430.0L1015.0 429.5L1018.0 429.0L1021.0 428.6L1024.0 428.3L1027.0 428.0L1030.0 427.9L1033.0 427.8L1036.0 427.7L1039.0 427.8L1042.0 427.9L1045.0 428.0L1048.0 428.1L1051.0 428.2L1054.0 428.3L1057.0 428.4L1060.0 428.4L1063.0 428.3L1066.0 428.2L1069.0 428.0L1072.0 427.8L1075.0 427.6L1078.0 427.3L1081.0 427.1L1084.0 426.9L1087.0 426.7L1090.0 426.7L1093.0 426.6L1096.0 426.7L1099.0 426.8L1102.0 427.1L1105.0 427.4L1108.0 427.7L1111.0 428.2L1114.0 428.6L1117.0 429.0L1120.0 429.4L1123.0 429.8L1126.0 430.1L1129.0 430.3L1132.0 430.5L1135.0 430.6L1138.0 430.6L1141.0 430.5L1144.0 430.4L1147.0 430.3L1150.0 430.1L1153.0 430.0L1156.0 429.9L1159.0 429.8L1162.0 429.7L1165.0 429.7L1168.0 429.8L1171.0 429.9L1174.0 430.1L1177.0 430.3L1180.0 430.6L1183.0 430.8L1186.0 431.0L1189.0 431.2L1192.0 431.3L1195.0 431.3L1198.0 431.3L1201.0 431.2L1204.0 430.9L1207.0 430.7L1210.0 430.3L1213.0 429.9L1216.0 429.4L1219.0 428.9L1222.0 428.4L1225.0 428.0L1228.0 427.6L1231.0 427.2L1234.0 427.0L1237.0 426.7L1240.0 426.6L1243.0 426.5L1246.0 426.5L1249.0 426.5L1252.0 426.6L1255.0 426.6L1258.0 426.6L1261.0 426.6L1264.0 426.6L1267.0 426.4L1270.0 426.3L1273.0 426.0L1276.0 425.7L1279.0 425.4L1282.0 425.0L1285.0 424.7L1288.0 424.3L1291.0 423.9L1294.0 423.6L1297.0 423.4L1300.0 423.3L1303.0 423.2L1306.0 423.2L1309.0 423.3L1312.0 423.5L1315.0 423.8L1318.0 424.1L1321.0 424.4L1324.0 424.8L1327.0 425.1L1330.0 425.4L1333.0 425.7L1336.0 425.9L1339.0 426.1L1342.0 426.2L1345.0 426.2L1348.0 426.2L1351.0 426.1L1354.0 426.0L1357.0 425.9L1360.0 425.8L1363.0 425.7L1366.0 425.7L1369.0 425.7L1372.0 425.8L1375.0 426.0L1378.0 426.2L1381.0 426.5L1384.0 426.8" fill="none" stroke="#555" stroke-width="2.4"/>
<g fill="url(#hball)" stroke="#8c8c8c" stroke-width="0.5"><circle cx="931.1" cy="447.2" r="3.1"/><circle cx="933.9" cy="422.4" r="3.0"/><circle cx="935.9" cy="447.7" r="2.6"/><circle cx="937.4" cy="422.1" r="3.0"/><circle cx="936.5" cy="444.9" r="3.2"/><circle cx="941.3" cy="423.7" r="2.9"/><circle cx="942.4" cy="443.4" r="3.2"/><circle cx="947.8" cy="446.3" r="3.0"/><circle cx="956.9" cy="441.4" r="2.8"/><circle cx="959.0" cy="423.8" r="3.2"/><circle cx="959.5" cy="441.9" r="2.7"/><circle cx="963.5" cy="444.4" r="2.9"/><circle cx="971.4" cy="420.5" r="2.7"/><circle cx="970.9" cy="442.1" r="2.9"/><circle cx="977.7" cy="419.1" r="2.8"/><circle cx="977.2" cy="443.1" r="2.7"/><circle cx="978.5" cy="445.9" r="2.9"/><circle cx="986.0" cy="424.1" r="2.7"/><circle cx="990.5" cy="420.8" r="2.6"/><circle cx="988.9" cy="445.7" r="3.2"/><circle cx="993.0" cy="421.8" r="2.7"/><circle cx="992.4" cy="444.0" r="3.2"/><circle cx="998.5" cy="421.0" r="3.0"/><circle cx="998.1" cy="444.1" r="2.8"/><circle cx="1001.5" cy="420.6" r="2.8"/><circle cx="1013.5" cy="419.5" r="2.6"/><circle cx="1014.1" cy="443.2" r="2.6"/><circle cx="1024.0" cy="419.4" r="3.1"/><circle cx="1021.6" cy="437.7" r="2.7"/><circle cx="1030.7" cy="436.6" r="2.6"/><circle cx="1035.6" cy="440.4" r="2.8"/><circle cx="1039.5" cy="418.4" r="2.7"/><circle cx="1039.4" cy="436.9" r="3.0"/><circle cx="1057.7" cy="441.5" r="2.6"/><circle cx="1061.8" cy="439.7" r="2.9"/><circle cx="1062.8" cy="416.0" r="3.1"/><circle cx="1069.7" cy="440.2" r="2.8"/><circle cx="1071.6" cy="418.2" r="3.1"/><circle cx="1077.9" cy="439.1" r="2.8"/><circle cx="1081.7" cy="436.1" r="3.1"/><circle cx="1088.7" cy="435.8" r="3.0"/><circle cx="1104.7" cy="418.3" r="3.0"/><circle cx="1106.2" cy="438.2" r="2.7"/><circle cx="1111.9" cy="417.3" r="3.1"/><circle cx="1111.0" cy="441.4" r="3.1"/><circle cx="1113.0" cy="417.0" r="2.7"/><circle cx="1114.6" cy="441.2" r="3.0"/><circle cx="1124.5" cy="417.1" r="2.8"/><circle cx="1122.9" cy="441.3" r="2.8"/><circle cx="1127.4" cy="441.6" r="2.7"/><circle cx="1140.7" cy="416.8" r="2.7"/><circle cx="1155.9" cy="438.9" r="2.7"/><circle cx="1162.2" cy="443.0" r="3.2"/><circle cx="1163.8" cy="416.7" r="2.9"/><circle cx="1167.2" cy="442.4" r="3.2"/><circle cx="1171.2" cy="440.6" r="2.9"/><circle cx="1172.9" cy="441.5" r="2.8"/><circle cx="1178.5" cy="417.4" r="3.1"/><circle cx="1181.5" cy="420.3" r="3.2"/><circle cx="1187.3" cy="419.6" r="3.1"/><circle cx="1184.8" cy="443.8" r="2.7"/><circle cx="1189.3" cy="444.5" r="2.8"/><circle cx="1195.2" cy="418.2" r="3.1"/><circle cx="1194.9" cy="440.0" r="2.7"/><circle cx="1200.0" cy="440.3" r="2.9"/><circle cx="1205.7" cy="420.7" r="2.8"/><circle cx="1210.7" cy="417.0" r="2.6"/><circle cx="1221.1" cy="441.8" r="2.7"/><circle cx="1222.7" cy="415.6" r="2.6"/><circle cx="1223.7" cy="437.2" r="3.2"/><circle cx="1230.0" cy="416.1" r="3.1"/><circle cx="1234.4" cy="439.2" r="3.1"/><circle cx="1234.9" cy="414.7" r="3.2"/><circle cx="1234.8" cy="436.3" r="2.8"/><circle cx="1241.3" cy="415.7" r="2.7"/><circle cx="1240.5" cy="438.1" r="2.7"/><circle cx="1246.2" cy="436.8" r="2.8"/><circle cx="1248.2" cy="435.8" r="3.1"/><circle cx="1252.8" cy="414.4" r="3.1"/><circle cx="1254.2" cy="439.3" r="2.9"/><circle cx="1259.0" cy="413.0" r="3.1"/><circle cx="1265.9" cy="413.7" r="3.0"/><circle cx="1268.8" cy="412.3" r="2.6"/><circle cx="1274.9" cy="415.0" r="2.7"/><circle cx="1274.5" cy="439.4" r="3.1"/><circle cx="1279.2" cy="411.9" r="2.7"/><circle cx="1277.5" cy="438.6" r="2.7"/><circle cx="1283.5" cy="415.3" r="3.0"/><circle cx="1292.0" cy="433.3" r="3.0"/><circle cx="1295.9" cy="412.0" r="3.0"/><circle cx="1296.5" cy="435.1" r="3.1"/><circle cx="1297.7" cy="436.5" r="2.9"/><circle cx="1313.1" cy="413.3" r="3.1"/><circle cx="1321.6" cy="413.7" r="2.8"/><circle cx="1324.3" cy="411.9" r="3.1"/><circle cx="1329.9" cy="435.3" r="3.0"/><circle cx="1334.5" cy="415.7" r="3.2"/><circle cx="1332.7" cy="438.6" r="3.0"/><circle cx="1336.9" cy="416.7" r="3.1"/><circle cx="1342.5" cy="416.1" r="2.7"/><circle cx="1342.6" cy="437.2" r="2.8"/><circle cx="1344.4" cy="417.0" r="2.8"/><circle cx="1355.5" cy="414.1" r="2.8"/><circle cx="1355.8" cy="436.1" r="2.7"/><circle cx="1356.6" cy="436.8" r="2.9"/><circle cx="1362.2" cy="414.7" r="3.0"/><circle cx="1366.6" cy="413.2" r="3.1"/><circle cx="1369.4" cy="414.3" r="2.7"/><circle cx="1374.9" cy="415.4" r="2.8"/><circle cx="1374.8" cy="438.6" r="2.8"/><circle cx="1379.9" cy="414.5" r="3.0"/><circle cx="1379.0" cy="438.5" r="2.6"/></g>
<g fill="url(#cball)"><circle cx="930.0" cy="439.7" r="2.4"/><circle cx="936.0" cy="438.6" r="2.4"/><circle cx="942.0" cy="433.2" r="2.4"/><circle cx="948.0" cy="433.5" r="2.4"/><circle cx="954.0" cy="427.3" r="2.4"/><circle cx="960.0" cy="437.0" r="2.4"/><circle cx="966.0" cy="432.3" r="2.4"/><circle cx="972.0" cy="433.1" r="2.4"/><circle cx="978.0" cy="428.2" r="2.4"/><circle cx="984.0" cy="428.6" r="2.4"/><circle cx="990.0" cy="432.9" r="2.4"/><circle cx="996.0" cy="432.8" r="2.4"/><circle cx="1002.0" cy="427.0" r="2.4"/><circle cx="1008.0" cy="430.4" r="2.4"/><circle cx="1014.0" cy="429.6" r="2.4"/><circle cx="1020.0" cy="428.5" r="2.4"/><circle cx="1026.0" cy="428.0" r="2.4"/><circle cx="1032.0" cy="432.1" r="2.4"/><circle cx="1038.0" cy="422.8" r="2.4"/><circle cx="1044.0" cy="432.6" r="2.4"/><circle cx="1050.0" cy="427.8" r="2.4"/><circle cx="1056.0" cy="434.1" r="2.4"/><circle cx="1062.0" cy="423.8" r="2.4"/><circle cx="1068.0" cy="422.3" r="2.4"/><circle cx="1074.0" cy="432.4" r="2.4"/><circle cx="1080.0" cy="427.2" r="2.4"/><circle cx="1086.0" cy="432.0" r="2.4"/><circle cx="1092.0" cy="431.2" r="2.4"/><circle cx="1098.0" cy="421.9" r="2.4"/><circle cx="1104.0" cy="431.6" r="2.4"/><circle cx="1110.0" cy="428.6" r="2.4"/><circle cx="1116.0" cy="434.0" r="2.4"/><circle cx="1122.0" cy="434.4" r="2.4"/><circle cx="1128.0" cy="435.3" r="2.4"/><circle cx="1134.0" cy="434.9" r="2.4"/><circle cx="1140.0" cy="431.2" r="2.4"/><circle cx="1146.0" cy="434.6" r="2.4"/><circle cx="1152.0" cy="430.0" r="2.4"/><circle cx="1158.0" cy="424.3" r="2.4"/><circle cx="1164.0" cy="425.2" r="2.4"/><circle cx="1170.0" cy="434.4" r="2.4"/><circle cx="1176.0" cy="434.6" r="2.4"/><circle cx="1182.0" cy="436.4" r="2.4"/><circle cx="1188.0" cy="436.1" r="2.4"/><circle cx="1194.0" cy="426.4" r="2.4"/><circle cx="1200.0" cy="430.8" r="2.4"/><circle cx="1206.0" cy="430.6" r="2.4"/><circle cx="1212.0" cy="435.4" r="2.4"/><circle cx="1218.0" cy="429.6" r="2.4"/><circle cx="1224.0" cy="423.3" r="2.4"/><circle cx="1230.0" cy="431.9" r="2.4"/><circle cx="1236.0" cy="422.2" r="2.4"/><circle cx="1242.0" cy="426.7" r="2.4"/><circle cx="1248.0" cy="432.1" r="2.4"/><circle cx="1254.0" cy="427.0" r="2.4"/><circle cx="1260.0" cy="427.3" r="2.4"/><circle cx="1266.0" cy="431.9" r="2.4"/><circle cx="1272.0" cy="421.4" r="2.4"/><circle cx="1278.0" cy="426.1" r="2.4"/><circle cx="1284.0" cy="424.7" r="2.4"/><circle cx="1290.0" cy="424.3" r="2.4"/><circle cx="1296.0" cy="423.5" r="2.4"/><circle cx="1302.0" cy="423.6" r="2.4"/><circle cx="1308.0" cy="422.7" r="2.4"/><circle cx="1314.0" cy="422.9" r="2.4"/><circle cx="1320.0" cy="428.6" r="2.4"/><circle cx="1326.0" cy="419.7" r="2.4"/><circle cx="1332.0" cy="420.8" r="2.4"/><circle cx="1338.0" cy="431.4" r="2.4"/><circle cx="1344.0" cy="430.6" r="2.4"/><circle cx="1350.0" cy="421.4" r="2.4"/><circle cx="1356.0" cy="420.3" r="2.4"/><circle cx="1362.0" cy="426.4" r="2.4"/><circle cx="1368.0" cy="430.2" r="2.4"/><circle cx="1374.0" cy="421.0" r="2.4"/><circle cx="1380.0" cy="421.3" r="2.4"/></g>
<circle cx="1204.5" cy="428.6" r="3.6" fill="url(#nball)"/><circle cx="1284.8" cy="427.5" r="3.6" fill="url(#nball)"/><circle cx="1154.4" cy="431.4" r="3.6" fill="url(#nball)"/><circle cx="1015.2" cy="426.4" r="3.6" fill="url(#nball)"/><circle cx="1138.1" cy="432.8" r="3.6" fill="url(#nball)"/><circle cx="1184.7" cy="432.9" r="3.6" fill="url(#nball)"/><circle cx="1192.8" cy="430.1" r="3.4" fill="url(#fball)"/><circle cx="1162.6" cy="430.7" r="3.4" fill="url(#fball)"/><circle cx="1154.6" cy="431.9" r="3.4" fill="url(#fball)"/><circle cx="988.1" cy="438.3" r="3.4" fill="url(#fball)"/><circle cx="966.5" cy="435.0" r="3.4" fill="url(#fball)"/><circle cx="1282.6" cy="424.3" r="3.4" fill="url(#fball)"/>
<path d="M928.0 467.4L931.0 467.1L934.0 466.9L937.0 466.7L940.0 466.6L943.0 466.6L946.0 466.6L949.0 466.6L952.0 466.7L955.0 466.7L958.0 466.7L961.0 466.7L964.0 466.7L967.0 466.6L970.0 466.4L973.0 466.1L976.0 465.8L979.0 465.4L982.0 464.9L985.0 464.4L988.0 463.9L991.0 463.4L994.0 463.0L997.0 462.6L1000.0 462.3L1003.0 462.0L1006.0 461.8L1009.0 461.7L1012.0 461.7L1015.0 461.8L1018.0 461.9L1021.0 462.1L1024.0 462.3L1027.0 462.5L1030.0 462.7L1033.0 462.9L1036.0 463.0L1039.0 463.0L1042.0 463.0L1045.0 463.0L1048.0 462.9L1051.0 462.7L1054.0 462.6L1057.0 462.4L1060.0 462.2L1063.0 462.1L1066.0 462.0L1069.0 462.0L1072.0 462.1L1075.0 462.2L1078.0 462.4L1081.0 462.7L1084.0 463.1L1087.0 463.5L1090.0 463.9L1093.0 464.3L1096.0 464.7L1099.0 465.1L1102.0 465.5L1105.0 465.7L1108.0 465.9L1111.0 466.0L1114.0 466.0L1117.0 466.0L1120.0 465.9L1123.0 465.7L1126.0 465.5L1129.0 465.3L1132.0 465.0L1135.0 464.9L1138.0 464.7L1141.0 464.6L1144.0 464.6L1147.0 464.6L1150.0 464.6L1153.0 464.7L1156.0 464.9L1159.0 465.0L1162.0 465.2L1165.0 465.3L1168.0 465.4L1171.0 465.4L1174.0 465.4L1177.0 465.2L1180.0 465.0L1183.0 464.7L1186.0 464.3L1189.0 463.9L1192.0 463.4L1195.0 462.9L1198.0 462.4L1201.0 461.9L1204.0 461.5L1207.0 461.1L1210.0 460.7L1213.0 460.5L1216.0 460.3L1219.0 460.2L1222.0 460.2L1225.0 460.2L1228.0 460.2L1231.0 460.3L1234.0 460.4L1237.0 460.5L1240.0 460.5L1243.0 460.5L1246.0 460.4L1249.0 460.3L1252.0 460.1L1255.0 459.9L1258.0 459.6L1261.0 459.3L1264.0 459.0L1267.0 458.7L1270.0 458.5L1273.0 458.3L1276.0 458.1L1279.0 458.1L1282.0 458.1L1285.0 458.3L1288.0 458.5L1291.0 458.8L1294.0 459.1L1297.0 459.5L1300.0 459.9L1303.0 460.3L1306.0 460.7L1309.0 461.0L1312.0 461.3L1315.0 461.5L1318.0 461.7L1321.0 461.8L1324.0 461.8L1327.0 461.7L1330.0 461.6L1333.0 461.5L1336.0 461.4L1339.0 461.3L1342.0 461.2L1345.0 461.2L1348.0 461.2L1351.0 461.2L1354.0 461.4L1357.0 461.6L1360.0 461.8L1363.0 462.1L1366.0 462.4L1369.0 462.6L1372.0 462.9L1375.0 463.1L1378.0 463.3L1381.0 463.4L1384.0 463.4" fill="none" stroke="url(#patR)" stroke-width="12" stroke-linecap="round"/>
<path d="M943.0 461.4L937.8 463.3L932.8 461.1L933.0 457.0L938.2 455.1L943.2 457.3L943.0 461.4M953.1 462.7L947.5 461.1L946.8 457.2L951.7 454.9L957.3 456.5L957.9 460.3L953.1 462.7M962.3 479.5L958.3 476.7L959.7 472.8L965.0 471.7L969.0 474.5L967.7 478.4L962.3 479.5M984.0 475.8L979.6 478.1L975.2 475.8L975.2 471.3L979.6 469.1L984.0 471.3L984.0 475.8M994.4 462.5L989.7 459.6L990.4 454.8L995.8 452.8L1000.5 455.8L999.8 460.6L994.4 462.5M1009.2 473.4L1003.0 474.2L999.0 470.5L1001.2 466.1L1007.5 465.3L1011.5 469.0L1009.2 473.4M1013.2 468.3L1015.4 463.1L1021.3 462.4L1024.9 466.8L1022.7 471.9L1016.8 472.6L1013.2 468.3M1027.2 456.7L1028.1 452.9L1032.4 451.6L1035.8 454.2L1034.9 458.1L1030.6 459.3L1027.2 456.7M1036.2 458.7L1034.9 454.9L1039.4 452.2L1045.2 453.4L1046.5 457.3L1042.0 459.9L1036.2 458.7M1058.7 471.7L1053.2 473.0L1049.0 470.0L1050.3 465.6L1055.8 464.3L1060.0 467.4L1058.7 471.7M1059.4 473.3L1059.1 469.3L1063.6 467.1L1068.4 468.9L1068.7 472.9L1064.2 475.1L1059.4 473.3M1071.4 471.4L1071.9 467.2L1077.7 465.4L1083.1 467.8L1082.6 471.9L1076.7 473.7L1071.4 471.4M1093.5 459.8L1088.3 463.0L1082.9 460.3L1082.6 454.3L1087.7 451.1L1093.2 453.8L1093.5 459.8M1102.4 477.2L1096.8 476.7L1094.7 473.2L1098.1 470.2L1103.7 470.7L1105.9 474.2L1102.4 477.2M1113.6 478.4L1108.7 476.6L1108.1 472.3L1112.4 469.7L1117.3 471.4L1117.9 475.8L1113.6 478.4M1123.4 478.6L1119.1 476.7L1118.8 472.5L1122.8 470.2L1127.1 472.1L1127.3 476.3L1123.4 478.6M1132.5 471.3L1134.3 467.0L1139.2 466.3L1142.3 469.9L1140.5 474.2L1135.6 474.9L1132.5 471.3M1148.7 460.9L1146.1 457.1L1148.5 453.2L1153.4 453.1L1156.0 456.9L1153.7 460.8L1148.7 460.9M1168.9 457.1L1166.0 461.1L1160.7 460.9L1158.2 456.6L1161.1 452.6L1166.5 452.8L1168.9 457.1M1179.2 462.5L1173.7 462.8L1170.5 459.8L1172.8 456.4L1178.4 456.1L1181.6 459.1L1179.2 462.5M1190.4 477.2L1186.6 473.4L1188.2 468.4L1193.6 467.3L1197.4 471.1L1195.7 476.0L1190.4 477.2M1207.5 471.0L1203.3 473.4L1197.8 472.4L1196.4 469.0L1200.6 466.5L1206.1 467.6L1207.5 471.0M1213.4 470.8L1212.6 466.4L1217.0 463.7L1222.2 465.3L1223.0 469.7L1218.6 472.5L1213.4 470.8M1228.7 469.2L1223.9 468.2L1222.6 464.4L1226.3 461.7L1231.2 462.8L1232.4 466.6L1228.7 469.2M1242.9 459.1L1237.8 459.2L1235.1 454.5L1237.6 449.6L1242.8 449.5L1245.5 454.3L1242.9 459.1M1245.2 466.6L1247.8 463.2L1253.7 462.9L1257.0 466.1L1254.4 469.5L1248.5 469.8L1245.2 466.6M1259.3 454.5L1256.8 450.9L1259.5 447.3L1264.8 447.4L1267.3 451.1L1264.6 454.6L1259.3 454.5M1270.1 466.3L1271.8 463.0L1276.9 462.4L1280.2 465.1L1278.5 468.4L1273.4 469.0L1270.1 466.3M1285.4 469.7L1280.0 467.6L1279.4 462.5L1284.3 459.6L1289.7 461.7L1290.3 466.8L1285.4 469.7M1293.9 469.4L1292.2 463.8L1295.7 459.3L1300.9 460.5L1302.6 466.1L1299.1 470.5L1293.9 469.4M1304.2 469.8L1306.5 465.5L1312.8 464.8L1316.7 468.4L1314.4 472.8L1308.2 473.5L1304.2 469.8M1323.0 457.0L1320.9 453.8L1323.3 450.7L1327.8 450.8L1330.0 454.0L1327.6 457.1L1323.0 457.0M1335.3 457.0L1331.7 453.0L1334.6 448.8L1341.0 448.5L1344.6 452.4L1341.8 456.7L1335.3 457.0M1351.8 471.1L1345.7 471.0L1342.7 467.9L1345.9 464.9L1352.0 465.0L1355.0 468.0L1351.8 471.1M1355.5 459.2L1355.7 453.9L1360.4 451.4L1365.0 454.2L1364.8 459.5L1360.1 462.0L1355.5 459.2M1373.4 474.6L1368.0 474.7L1365.2 471.3L1367.7 467.7L1373.1 467.6L1376.0 471.1L1373.4 474.6" fill="none" stroke="#5c5c5c" stroke-width="1.6"/>
<path d="M928.0 467.4L931.0 467.1L934.0 466.9L937.0 466.7L940.0 466.6L943.0 466.6L946.0 466.6L949.0 466.6L952.0 466.7L955.0 466.7L958.0 466.7L961.0 466.7L964.0 466.7L967.0 466.6L970.0 466.4L973.0 466.1L976.0 465.8L979.0 465.4L982.0 464.9L985.0 464.4L988.0 463.9L991.0 463.4L994.0 463.0L997.0 462.6L1000.0 462.3L1003.0 462.0L1006.0 461.8L1009.0 461.7L1012.0 461.7L1015.0 461.8L1018.0 461.9L1021.0 462.1L1024.0 462.3L1027.0 462.5L1030.0 462.7L1033.0 462.9L1036.0 463.0L1039.0 463.0L1042.0 463.0L1045.0 463.0L1048.0 462.9L1051.0 462.7L1054.0 462.6L1057.0 462.4L1060.0 462.2L1063.0 462.1L1066.0 462.0L1069.0 462.0L1072.0 462.1L1075.0 462.2L1078.0 462.4L1081.0 462.7L1084.0 463.1L1087.0 463.5L1090.0 463.9L1093.0 464.3L1096.0 464.7L1099.0 465.1L1102.0 465.5L1105.0 465.7L1108.0 465.9L1111.0 466.0L1114.0 466.0L1117.0 466.0L1120.0 465.9L1123.0 465.7L1126.0 465.5L1129.0 465.3L1132.0 465.0L1135.0 464.9L1138.0 464.7L1141.0 464.6L1144.0 464.6L1147.0 464.6L1150.0 464.6L1153.0 464.7L1156.0 464.9L1159.0 465.0L1162.0 465.2L1165.0 465.3L1168.0 465.4L1171.0 465.4L1174.0 465.4L1177.0 465.2L1180.0 465.0L1183.0 464.7L1186.0 464.3L1189.0 463.9L1192.0 463.4L1195.0 462.9L1198.0 462.4L1201.0 461.9L1204.0 461.5L1207.0 461.1L1210.0 460.7L1213.0 460.5L1216.0 460.3L1219.0 460.2L1222.0 460.2L1225.0 460.2L1228.0 460.2L1231.0 460.3L1234.0 460.4L1237.0 460.5L1240.0 460.5L1243.0 460.5L1246.0 460.4L1249.0 460.3L1252.0 460.1L1255.0 459.9L1258.0 459.6L1261.0 459.3L1264.0 459.0L1267.0 458.7L1270.0 458.5L1273.0 458.3L1276.0 458.1L1279.0 458.1L1282.0 458.1L1285.0 458.3L1288.0 458.5L1291.0 458.8L1294.0 459.1L1297.0 459.5L1300.0 459.9L1303.0 460.3L1306.0 460.7L1309.0 461.0L1312.0 461.3L1315.0 461.5L1318.0 461.7L1321.0 461.8L1324.0 461.8L1327.0 461.7L1330.0 461.6L1333.0 461.5L1336.0 461.4L1339.0 461.3L1342.0 461.2L1345.0 461.2L1348.0 461.2L1351.0 461.2L1354.0 461.4L1357.0 461.6L1360.0 461.8L1363.0 462.1L1366.0 462.4L1369.0 462.6L1372.0 462.9L1375.0 463.1L1378.0 463.3L1381.0 463.4L1384.0 463.4" fill="none" stroke="#555" stroke-width="2.4"/>
<g fill="url(#hball)" stroke="#8c8c8c" stroke-width="0.5"><circle cx="930.4" cy="480.5" r="2.6"/><circle cx="948.6" cy="479.9" r="2.9"/><circle cx="949.6" cy="455.2" r="3.1"/><circle cx="950.4" cy="479.2" r="2.8"/><circle cx="958.2" cy="453.1" r="2.8"/><circle cx="958.8" cy="478.6" r="2.8"/><circle cx="963.8" cy="479.0" r="2.8"/><circle cx="970.1" cy="477.3" r="3.1"/><circle cx="979.0" cy="475.6" r="2.6"/><circle cx="985.8" cy="453.0" r="3.1"/><circle cx="986.2" cy="477.8" r="3.0"/><circle cx="993.4" cy="472.7" r="3.0"/><circle cx="998.3" cy="452.4" r="3.0"/><circle cx="1006.1" cy="451.2" r="3.0"/><circle cx="1004.0" cy="472.3" r="3.0"/><circle cx="1011.7" cy="450.5" r="3.1"/><circle cx="1017.8" cy="474.0" r="2.8"/><circle cx="1027.4" cy="450.9" r="2.9"/><circle cx="1027.5" cy="471.4" r="3.0"/><circle cx="1029.0" cy="453.9" r="3.0"/><circle cx="1035.7" cy="474.7" r="3.0"/><circle cx="1040.7" cy="474.9" r="3.1"/><circle cx="1042.9" cy="453.2" r="2.8"/><circle cx="1043.8" cy="476.5" r="3.1"/><circle cx="1046.5" cy="473.8" r="2.8"/><circle cx="1050.8" cy="474.5" r="2.6"/><circle cx="1057.7" cy="453.4" r="3.1"/><circle cx="1059.2" cy="475.4" r="2.9"/><circle cx="1064.8" cy="452.0" r="2.8"/><circle cx="1072.9" cy="453.5" r="3.1"/><circle cx="1082.0" cy="452.4" r="3.1"/><circle cx="1083.5" cy="453.0" r="2.7"/><circle cx="1087.1" cy="476.1" r="3.1"/><circle cx="1093.0" cy="452.0" r="3.0"/><circle cx="1096.6" cy="452.6" r="2.9"/><circle cx="1098.0" cy="475.7" r="3.1"/><circle cx="1103.6" cy="453.4" r="2.7"/><circle cx="1100.8" cy="477.7" r="2.7"/><circle cx="1106.4" cy="453.9" r="2.8"/><circle cx="1105.7" cy="478.4" r="2.7"/><circle cx="1109.4" cy="475.0" r="3.2"/><circle cx="1113.9" cy="476.0" r="2.9"/><circle cx="1121.7" cy="452.0" r="2.9"/><circle cx="1127.8" cy="477.0" r="2.6"/><circle cx="1131.5" cy="476.0" r="3.1"/><circle cx="1135.9" cy="451.1" r="3.0"/><circle cx="1138.6" cy="453.1" r="2.8"/><circle cx="1142.0" cy="474.8" r="2.8"/><circle cx="1143.2" cy="453.0" r="3.2"/><circle cx="1152.0" cy="454.0" r="3.1"/><circle cx="1156.7" cy="455.5" r="2.9"/><circle cx="1155.1" cy="475.4" r="2.7"/><circle cx="1163.5" cy="455.2" r="2.7"/><circle cx="1168.2" cy="453.7" r="3.1"/><circle cx="1167.5" cy="475.3" r="2.6"/><circle cx="1174.8" cy="453.6" r="2.7"/><circle cx="1173.9" cy="474.8" r="3.2"/><circle cx="1176.8" cy="477.7" r="2.6"/><circle cx="1183.8" cy="474.1" r="3.1"/><circle cx="1185.0" cy="453.6" r="2.9"/><circle cx="1185.2" cy="473.5" r="3.1"/><circle cx="1188.8" cy="454.2" r="3.0"/><circle cx="1193.8" cy="472.8" r="2.7"/><circle cx="1199.5" cy="452.0" r="2.7"/><circle cx="1197.6" cy="475.1" r="2.9"/><circle cx="1205.6" cy="469.8" r="3.2"/><circle cx="1210.3" cy="471.3" r="3.0"/><circle cx="1216.6" cy="448.5" r="2.8"/><circle cx="1219.2" cy="446.2" r="2.9"/><circle cx="1223.7" cy="470.4" r="2.8"/><circle cx="1229.1" cy="451.1" r="2.7"/><circle cx="1233.4" cy="472.4" r="2.7"/><circle cx="1244.6" cy="448.2" r="2.7"/><circle cx="1244.9" cy="470.0" r="2.9"/><circle cx="1248.5" cy="451.7" r="2.8"/><circle cx="1247.3" cy="469.0" r="2.8"/><circle cx="1254.7" cy="449.6" r="2.6"/><circle cx="1256.2" cy="471.1" r="2.7"/><circle cx="1259.8" cy="447.7" r="2.9"/><circle cx="1262.5" cy="471.7" r="3.1"/><circle cx="1267.7" cy="467.4" r="2.6"/><circle cx="1274.7" cy="447.7" r="2.9"/><circle cx="1277.1" cy="446.6" r="2.9"/><circle cx="1281.1" cy="470.6" r="3.1"/><circle cx="1287.4" cy="448.9" r="2.6"/><circle cx="1297.1" cy="449.4" r="3.2"/><circle cx="1305.6" cy="447.8" r="2.7"/><circle cx="1304.9" cy="470.4" r="3.0"/><circle cx="1307.3" cy="449.5" r="3.1"/><circle cx="1310.5" cy="451.9" r="3.0"/><circle cx="1314.7" cy="448.4" r="3.1"/><circle cx="1315.5" cy="473.9" r="2.7"/><circle cx="1321.3" cy="449.1" r="3.0"/><circle cx="1318.9" cy="474.7" r="2.7"/><circle cx="1334.0" cy="451.4" r="2.9"/><circle cx="1337.6" cy="474.4" r="3.2"/><circle cx="1341.8" cy="447.3" r="3.1"/><circle cx="1343.9" cy="470.3" r="3.2"/><circle cx="1349.9" cy="448.1" r="2.9"/><circle cx="1352.5" cy="474.3" r="2.9"/><circle cx="1356.8" cy="475.1" r="2.8"/><circle cx="1368.2" cy="471.7" r="2.7"/><circle cx="1369.6" cy="474.7" r="2.9"/><circle cx="1374.1" cy="474.6" r="3.2"/><circle cx="1381.0" cy="477.2" r="3.0"/></g>
<g fill="url(#cball)"><circle cx="930.0" cy="467.4" r="2.4"/><circle cx="936.0" cy="466.5" r="2.4"/><circle cx="942.0" cy="467.2" r="2.4"/><circle cx="948.0" cy="466.2" r="2.4"/><circle cx="954.0" cy="461.5" r="2.4"/><circle cx="960.0" cy="466.4" r="2.4"/><circle cx="966.0" cy="470.9" r="2.4"/><circle cx="972.0" cy="470.7" r="2.4"/><circle cx="978.0" cy="470.2" r="2.4"/><circle cx="984.0" cy="464.5" r="2.4"/><circle cx="990.0" cy="463.7" r="2.4"/><circle cx="996.0" cy="467.0" r="2.4"/><circle cx="1002.0" cy="457.0" r="2.4"/><circle cx="1008.0" cy="456.0" r="2.4"/><circle cx="1014.0" cy="467.4" r="2.4"/><circle cx="1020.0" cy="462.5" r="2.4"/><circle cx="1026.0" cy="457.0" r="2.4"/><circle cx="1032.0" cy="458.3" r="2.4"/><circle cx="1038.0" cy="468.0" r="2.4"/><circle cx="1044.0" cy="468.7" r="2.4"/><circle cx="1050.0" cy="468.3" r="2.4"/><circle cx="1056.0" cy="467.0" r="2.4"/><circle cx="1062.0" cy="462.0" r="2.4"/><circle cx="1068.0" cy="466.3" r="2.4"/><circle cx="1074.0" cy="462.9" r="2.4"/><circle cx="1080.0" cy="467.3" r="2.4"/><circle cx="1086.0" cy="457.6" r="2.4"/><circle cx="1092.0" cy="459.0" r="2.4"/><circle cx="1098.0" cy="459.9" r="2.4"/><circle cx="1104.0" cy="470.9" r="2.4"/><circle cx="1110.0" cy="461.0" r="2.4"/><circle cx="1116.0" cy="461.6" r="2.4"/><circle cx="1122.0" cy="461.5" r="2.4"/><circle cx="1128.0" cy="470.6" r="2.4"/><circle cx="1134.0" cy="464.4" r="2.4"/><circle cx="1140.0" cy="459.7" r="2.4"/><circle cx="1146.0" cy="469.1" r="2.4"/><circle cx="1152.0" cy="469.9" r="2.4"/><circle cx="1158.0" cy="469.5" r="2.4"/><circle cx="1164.0" cy="459.6" r="2.4"/><circle cx="1170.0" cy="470.2" r="2.4"/><circle cx="1176.0" cy="470.7" r="2.4"/><circle cx="1182.0" cy="469.8" r="2.4"/><circle cx="1188.0" cy="459.5" r="2.4"/><circle cx="1194.0" cy="458.3" r="2.4"/><circle cx="1200.0" cy="467.0" r="2.4"/><circle cx="1206.0" cy="460.9" r="2.4"/><circle cx="1212.0" cy="455.4" r="2.4"/><circle cx="1218.0" cy="456.0" r="2.4"/><circle cx="1224.0" cy="460.1" r="2.4"/><circle cx="1230.0" cy="460.8" r="2.4"/><circle cx="1236.0" cy="454.9" r="2.4"/><circle cx="1242.0" cy="459.9" r="2.4"/><circle cx="1248.0" cy="465.0" r="2.4"/><circle cx="1254.0" cy="459.6" r="2.4"/><circle cx="1260.0" cy="465.1" r="2.4"/><circle cx="1266.0" cy="458.8" r="2.4"/><circle cx="1272.0" cy="458.5" r="2.4"/><circle cx="1278.0" cy="463.2" r="2.4"/><circle cx="1284.0" cy="458.9" r="2.4"/><circle cx="1290.0" cy="458.7" r="2.4"/><circle cx="1296.0" cy="458.8" r="2.4"/><circle cx="1302.0" cy="465.9" r="2.4"/><circle cx="1308.0" cy="465.2" r="2.4"/><circle cx="1314.0" cy="466.9" r="2.4"/><circle cx="1320.0" cy="461.5" r="2.4"/><circle cx="1326.0" cy="457.0" r="2.4"/><circle cx="1332.0" cy="456.7" r="2.4"/><circle cx="1338.0" cy="460.6" r="2.4"/><circle cx="1344.0" cy="461.8" r="2.4"/><circle cx="1350.0" cy="461.6" r="2.4"/><circle cx="1356.0" cy="457.1" r="2.4"/><circle cx="1362.0" cy="462.7" r="2.4"/><circle cx="1368.0" cy="468.1" r="2.4"/><circle cx="1374.0" cy="462.3" r="2.4"/><circle cx="1380.0" cy="458.2" r="2.4"/></g>
<circle cx="1105.4" cy="465.0" r="3.6" fill="url(#nball)"/><circle cx="1182.5" cy="468.1" r="3.6" fill="url(#nball)"/><circle cx="1223.7" cy="461.1" r="3.6" fill="url(#nball)"/><circle cx="1066.8" cy="461.3" r="3.6" fill="url(#nball)"/><circle cx="980.2" cy="467.7" r="3.6" fill="url(#nball)"/><circle cx="963.3" cy="470.4" r="3.6" fill="url(#nball)"/><circle cx="1359.7" cy="461.9" r="3.4" fill="url(#fball)"/><circle cx="1007.3" cy="463.5" r="3.4" fill="url(#fball)"/><circle cx="1025.4" cy="461.8" r="3.4" fill="url(#fball)"/><circle cx="1019.0" cy="466.3" r="3.4" fill="url(#fball)"/><circle cx="1342.2" cy="463.3" r="3.4" fill="url(#fball)"/><circle cx="1312.8" cy="459.3" r="3.4" fill="url(#fball)"/>
<path d="M928.0 500.3L931.0 500.3L934.0 500.3L937.0 500.3L940.0 500.3L943.0 500.2L946.0 500.1L949.0 499.9L952.0 499.6L955.0 499.3L958.0 498.9L961.0 498.5L964.0 498.0L967.0 497.6L970.0 497.2L973.0 496.8L976.0 496.5L979.0 496.2L982.0 496.1L985.0 496.0L988.0 496.0L991.0 496.1L994.0 496.3L997.0 496.5L1000.0 496.8L1003.0 497.1L1006.0 497.4L1009.0 497.6L1012.0 497.9L1015.0 498.0L1018.0 498.1L1021.0 498.2L1024.0 498.2L1027.0 498.1L1030.0 498.0L1033.0 497.9L1036.0 497.8L1039.0 497.7L1042.0 497.6L1045.0 497.6L1048.0 497.6L1051.0 497.7L1054.0 497.9L1057.0 498.1L1060.0 498.4L1063.0 498.8L1066.0 499.2L1069.0 499.6L1072.0 500.0L1075.0 500.3L1078.0 500.7L1081.0 500.9L1084.0 501.1L1087.0 501.2L1090.0 501.2L1093.0 501.2L1096.0 501.0L1099.0 500.8L1102.0 500.6L1105.0 500.3L1108.0 500.0L1111.0 499.7L1114.0 499.4L1117.0 499.2L1120.0 499.0L1123.0 498.9L1126.0 498.9L1129.0 498.9L1132.0 498.9L1135.0 499.0L1138.0 499.1L1141.0 499.2L1144.0 499.2L1147.0 499.2L1150.0 499.2L1153.0 499.1L1156.0 498.8L1159.0 498.6L1162.0 498.2L1165.0 497.8L1168.0 497.3L1171.0 496.8L1174.0 496.3L1177.0 495.8L1180.0 495.3L1183.0 494.9L1186.0 494.6L1189.0 494.3L1192.0 494.1L1195.0 494.0L1198.0 494.0L1201.0 494.0L1204.0 494.1L1207.0 494.2L1210.0 494.4L1213.0 494.5L1216.0 494.7L1219.0 494.8L1222.0 494.8L1225.0 494.8L1228.0 494.7L1231.0 494.6L1234.0 494.4L1237.0 494.2L1240.0 494.0L1243.0 493.8L1246.0 493.6L1249.0 493.4L1252.0 493.3L1255.0 493.3L1258.0 493.4L1261.0 493.5L1264.0 493.7L1267.0 494.0L1270.0 494.3L1273.0 494.7L1276.0 495.2L1279.0 495.6L1282.0 496.0L1285.0 496.4L1288.0 496.7L1291.0 497.0L1294.0 497.2L1297.0 497.3L1300.0 497.3L1303.0 497.3L1306.0 497.2L1309.0 497.1L1312.0 496.9L1315.0 496.7L1318.0 496.6L1321.0 496.4L1324.0 496.3L1327.0 496.3L1330.0 496.3L1333.0 496.4L1336.0 496.5L1339.0 496.7L1342.0 496.9L1345.0 497.1L1348.0 497.3L1351.0 497.5L1354.0 497.6L1357.0 497.6L1360.0 497.6L1363.0 497.5L1366.0 497.3L1369.0 497.0L1372.0 496.7L1375.0 496.3L1378.0 495.8L1381.0 495.3L1384.0 494.8" fill="none" stroke="url(#patR)" stroke-width="12" stroke-linecap="round"/>
<path d="M942.3 509.3L937.0 511.2L932.7 507.6L933.7 502.0L939.0 500.1L943.3 503.7L942.3 509.3M943.3 509.3L942.5 505.5L947.6 503.1L953.5 504.6L954.4 508.4L949.3 510.7L943.3 509.3M963.6 495.5L957.9 496.6L953.8 493.5L955.4 489.4L961.2 488.3L965.3 491.4L963.6 495.5M967.2 505.8L968.8 502.3L974.7 501.4L979.0 504.0L977.5 507.4L971.6 508.4L967.2 505.8M989.0 494.6L983.5 492.8L982.3 486.9L986.5 482.9L991.9 484.7L993.2 490.5L989.0 494.6M998.5 507.0L996.1 503.6L999.3 500.6L1004.9 500.9L1007.3 504.2L1004.1 507.3L998.5 507.0M1021.2 509.1L1016.7 510.4L1013.0 508.2L1013.7 504.7L1018.2 503.5L1022.0 505.7L1021.2 509.1M1028.6 509.9L1026.7 504.6L1029.6 499.9L1034.6 500.6L1036.5 506.0L1033.6 510.6L1028.6 509.9M1037.3 507.1L1037.9 502.5L1043.0 500.6L1047.4 503.4L1046.8 508.0L1041.7 509.9L1037.3 507.1M1057.4 505.0L1053.5 509.1L1047.6 508.1L1045.7 503.0L1049.6 498.8L1055.4 499.8L1057.4 505.0M1057.5 494.9L1057.4 490.2L1062.6 487.8L1067.9 490.0L1068.1 494.7L1062.9 497.1L1057.5 494.9M1074.2 495.7L1069.7 495.0L1068.2 491.3L1071.1 488.2L1075.6 488.9L1077.1 492.7L1074.2 495.7M1088.5 499.2L1082.8 501.4L1077.8 498.0L1078.6 492.4L1084.4 490.3L1089.3 493.7L1088.5 499.2M1095.4 500.2L1090.1 498.9L1089.0 494.6L1093.0 491.7L1098.3 493.0L1099.4 497.3L1095.4 500.2M1101.6 494.0L1102.4 489.1L1106.7 487.5L1110.1 490.7L1109.3 495.6L1105.0 497.2L1101.6 494.0M1119.3 507.2L1116.2 510.9L1111.8 509.8L1110.4 505.0L1113.5 501.3L1117.9 502.3L1119.3 507.2M1131.6 495.0L1126.0 493.5L1125.1 489.3L1129.9 486.7L1135.6 488.3L1136.4 492.4L1131.6 495.0M1140.3 507.3L1140.8 502.2L1145.2 500.2L1149.1 503.2L1148.5 508.3L1144.1 510.3L1140.3 507.3M1158.0 511.0L1152.3 510.7L1149.8 506.6L1153.0 502.9L1158.6 503.2L1161.1 507.2L1158.0 511.0M1165.0 504.7L1164.6 500.7L1169.9 498.5L1175.5 500.3L1175.8 504.2L1170.6 506.4L1165.0 504.7M1190.8 503.0L1186.9 506.6L1182.3 504.4L1181.6 498.6L1185.6 495.0L1190.1 497.3L1190.8 503.0M1201.1 502.7L1196.4 505.4L1191.0 503.7L1190.3 499.3L1195.0 496.6L1200.4 498.3L1201.1 502.7M1211.1 505.3L1206.3 502.9L1206.0 497.6L1210.4 494.7L1215.3 497.1L1215.6 502.4L1211.1 505.3M1228.1 492.3L1223.7 493.8L1220.3 490.1L1221.4 484.9L1225.9 483.4L1229.2 487.1L1228.1 492.3M1233.2 492.7L1230.6 488.8L1233.6 485.0L1239.2 485.2L1241.8 489.1L1238.8 492.9L1233.2 492.7M1247.1 493.4L1242.0 492.3L1240.3 487.4L1243.9 483.6L1249.1 484.7L1250.7 489.6L1247.1 493.4M1254.3 503.6L1254.0 499.9L1257.8 497.8L1261.9 499.4L1262.2 503.1L1258.4 505.2L1254.3 503.6M1276.6 501.8L1273.0 505.1L1267.3 504.4L1265.3 500.4L1269.0 497.1L1274.6 497.8L1276.6 501.8M1285.8 488.6L1281.8 492.2L1276.2 491.0L1274.7 486.2L1278.7 482.7L1284.2 483.9L1285.8 488.6M1294.1 509.0L1288.9 506.9L1289.0 503.0L1294.2 501.1L1299.4 503.1L1299.3 507.0L1294.1 509.0M1311.5 491.4L1308.0 494.3L1302.1 494.0L1299.6 490.7L1303.1 487.8L1309.0 488.2L1311.5 491.4M1310.4 504.5L1310.6 500.5L1316.0 498.6L1321.2 500.7L1321.1 504.7L1315.7 506.6L1310.4 504.5M1326.8 507.1L1321.0 505.7L1319.5 500.5L1323.7 496.6L1329.5 498.0L1331.0 503.3L1326.8 507.1M1343.2 493.5L1338.0 494.4L1334.5 490.8L1336.1 486.2L1341.3 485.2L1344.9 488.8L1343.2 493.5M1345.1 493.2L1343.0 489.4L1346.6 486.1L1352.4 486.7L1354.6 490.5L1350.9 493.8L1345.1 493.2M1351.7 506.3L1354.0 500.7L1360.3 499.7L1364.4 504.3L1362.1 509.9L1355.8 510.9L1351.7 506.3M1375.5 491.4L1369.7 492.1L1365.8 489.2L1367.8 485.5L1373.6 484.7L1377.4 487.7L1375.5 491.4" fill="none" stroke="#5c5c5c" stroke-width="1.6"/>
<path d="M928.0 500.3L931.0 500.3L934.0 500.3L937.0 500.3L940.0 500.3L943.0 500.2L946.0 500.1L949.0 499.9L952.0 499.6L955.0 499.3L958.0 498.9L961.0 498.5L964.0 498.0L967.0 497.6L970.0 497.2L973.0 496.8L976.0 496.5L979.0 496.2L982.0 496.1L985.0 496.0L988.0 496.0L991.0 496.1L994.0 496.3L997.0 496.5L1000.0 496.8L1003.0 497.1L1006.0 497.4L1009.0 497.6L1012.0 497.9L1015.0 498.0L1018.0 498.1L1021.0 498.2L1024.0 498.2L1027.0 498.1L1030.0 498.0L1033.0 497.9L1036.0 497.8L1039.0 497.7L1042.0 497.6L1045.0 497.6L1048.0 497.6L1051.0 497.7L1054.0 497.9L1057.0 498.1L1060.0 498.4L1063.0 498.8L1066.0 499.2L1069.0 499.6L1072.0 500.0L1075.0 500.3L1078.0 500.7L1081.0 500.9L1084.0 501.1L1087.0 501.2L1090.0 501.2L1093.0 501.2L1096.0 501.0L1099.0 500.8L1102.0 500.6L1105.0 500.3L1108.0 500.0L1111.0 499.7L1114.0 499.4L1117.0 499.2L1120.0 499.0L1123.0 498.9L1126.0 498.9L1129.0 498.9L1132.0 498.9L1135.0 499.0L1138.0 499.1L1141.0 499.2L1144.0 499.2L1147.0 499.2L1150.0 499.2L1153.0 499.1L1156.0 498.8L1159.0 498.6L1162.0 498.2L1165.0 497.8L1168.0 497.3L1171.0 496.8L1174.0 496.3L1177.0 495.8L1180.0 495.3L1183.0 494.9L1186.0 494.6L1189.0 494.3L1192.0 494.1L1195.0 494.0L1198.0 494.0L1201.0 494.0L1204.0 494.1L1207.0 494.2L1210.0 494.4L1213.0 494.5L1216.0 494.7L1219.0 494.8L1222.0 494.8L1225.0 494.8L1228.0 494.7L1231.0 494.6L1234.0 494.4L1237.0 494.2L1240.0 494.0L1243.0 493.8L1246.0 493.6L1249.0 493.4L1252.0 493.3L1255.0 493.3L1258.0 493.4L1261.0 493.5L1264.0 493.7L1267.0 494.0L1270.0 494.3L1273.0 494.7L1276.0 495.2L1279.0 495.6L1282.0 496.0L1285.0 496.4L1288.0 496.7L1291.0 497.0L1294.0 497.2L1297.0 497.3L1300.0 497.3L1303.0 497.3L1306.0 497.2L1309.0 497.1L1312.0 496.9L1315.0 496.7L1318.0 496.6L1321.0 496.4L1324.0 496.3L1327.0 496.3L1330.0 496.3L1333.0 496.4L1336.0 496.5L1339.0 496.7L1342.0 496.9L1345.0 497.1L1348.0 497.3L1351.0 497.5L1354.0 497.6L1357.0 497.6L1360.0 497.6L1363.0 497.5L1366.0 497.3L1369.0 497.0L1372.0 496.7L1375.0 496.3L1378.0 495.8L1381.0 495.3L1384.0 494.8" fill="none" stroke="#555" stroke-width="2.4"/>
<g fill="url(#hball)" stroke="#8c8c8c" stroke-width="0.5"><circle cx="928.1" cy="488.8" r="2.9"/><circle cx="929.1" cy="511.8" r="2.9"/><circle cx="932.8" cy="509.3" r="2.7"/><circle cx="939.6" cy="512.7" r="2.9"/><circle cx="942.2" cy="509.6" r="2.7"/><circle cx="947.0" cy="512.3" r="2.9"/><circle cx="949.1" cy="486.1" r="3.0"/><circle cx="956.5" cy="512.6" r="3.1"/><circle cx="971.7" cy="483.6" r="2.9"/><circle cx="971.9" cy="505.9" r="3.0"/><circle cx="984.7" cy="484.4" r="3.0"/><circle cx="989.8" cy="483.8" r="3.0"/><circle cx="991.8" cy="507.2" r="2.9"/><circle cx="998.8" cy="485.3" r="3.0"/><circle cx="995.5" cy="506.4" r="2.7"/><circle cx="1001.5" cy="505.9" r="3.0"/><circle cx="1004.0" cy="486.0" r="2.7"/><circle cx="1011.7" cy="486.8" r="2.7"/><circle cx="1010.6" cy="507.5" r="2.7"/><circle cx="1013.5" cy="486.6" r="3.0"/><circle cx="1020.1" cy="487.3" r="2.9"/><circle cx="1021.1" cy="507.3" r="2.7"/><circle cx="1025.9" cy="507.0" r="3.1"/><circle cx="1029.8" cy="486.8" r="3.2"/><circle cx="1033.6" cy="488.3" r="2.8"/><circle cx="1041.0" cy="484.4" r="2.7"/><circle cx="1037.3" cy="507.5" r="3.0"/><circle cx="1045.2" cy="511.4" r="3.0"/><circle cx="1056.7" cy="511.1" r="2.6"/><circle cx="1059.0" cy="488.7" r="2.7"/><circle cx="1059.8" cy="512.1" r="2.9"/><circle cx="1065.3" cy="508.1" r="2.9"/><circle cx="1067.9" cy="486.9" r="2.7"/><circle cx="1067.2" cy="510.7" r="2.7"/><circle cx="1076.4" cy="491.1" r="2.6"/><circle cx="1076.0" cy="512.3" r="2.8"/><circle cx="1087.3" cy="488.7" r="2.7"/><circle cx="1086.0" cy="514.3" r="2.7"/><circle cx="1091.5" cy="514.1" r="2.6"/><circle cx="1104.4" cy="487.9" r="3.0"/><circle cx="1113.2" cy="487.3" r="3.0"/><circle cx="1119.8" cy="512.5" r="2.7"/><circle cx="1124.3" cy="490.0" r="3.0"/><circle cx="1123.2" cy="511.0" r="3.1"/><circle cx="1126.0" cy="489.2" r="3.0"/><circle cx="1131.7" cy="487.0" r="2.9"/><circle cx="1132.2" cy="509.4" r="2.7"/><circle cx="1134.5" cy="507.8" r="2.9"/><circle cx="1141.7" cy="490.4" r="2.6"/><circle cx="1140.7" cy="510.6" r="3.1"/><circle cx="1143.2" cy="512.3" r="3.1"/><circle cx="1150.1" cy="487.4" r="2.7"/><circle cx="1153.7" cy="508.6" r="2.9"/><circle cx="1158.6" cy="486.0" r="3.0"/><circle cx="1157.6" cy="509.2" r="3.2"/><circle cx="1162.8" cy="487.4" r="3.2"/><circle cx="1162.8" cy="507.2" r="3.0"/><circle cx="1169.7" cy="483.8" r="3.0"/><circle cx="1167.9" cy="506.7" r="3.1"/><circle cx="1177.4" cy="508.9" r="2.9"/><circle cx="1183.3" cy="484.7" r="2.9"/><circle cx="1187.4" cy="483.5" r="2.7"/><circle cx="1192.2" cy="507.5" r="3.1"/><circle cx="1196.2" cy="505.4" r="3.1"/><circle cx="1200.3" cy="482.8" r="3.0"/><circle cx="1203.8" cy="481.2" r="2.9"/><circle cx="1206.1" cy="485.7" r="2.8"/><circle cx="1207.9" cy="504.2" r="2.8"/><circle cx="1210.0" cy="480.6" r="3.1"/><circle cx="1212.6" cy="504.9" r="2.8"/><circle cx="1216.6" cy="506.7" r="2.7"/><circle cx="1220.2" cy="481.9" r="2.8"/><circle cx="1220.1" cy="508.1" r="2.7"/><circle cx="1224.1" cy="483.0" r="2.7"/><circle cx="1225.7" cy="504.0" r="2.9"/><circle cx="1232.5" cy="481.6" r="2.8"/><circle cx="1240.0" cy="482.2" r="3.1"/><circle cx="1245.4" cy="485.1" r="3.1"/><circle cx="1245.8" cy="506.8" r="3.1"/><circle cx="1247.5" cy="480.0" r="2.7"/><circle cx="1249.2" cy="505.7" r="2.7"/><circle cx="1252.9" cy="481.6" r="2.7"/><circle cx="1258.3" cy="506.7" r="2.6"/><circle cx="1268.0" cy="505.7" r="2.7"/><circle cx="1268.4" cy="482.2" r="2.9"/><circle cx="1269.1" cy="503.8" r="2.7"/><circle cx="1275.5" cy="506.3" r="2.8"/><circle cx="1287.6" cy="486.2" r="3.0"/><circle cx="1292.3" cy="510.0" r="3.1"/><circle cx="1296.3" cy="483.4" r="2.8"/><circle cx="1305.8" cy="507.6" r="3.2"/><circle cx="1309.3" cy="509.0" r="3.2"/><circle cx="1310.7" cy="484.0" r="2.7"/><circle cx="1317.4" cy="485.0" r="2.7"/><circle cx="1322.1" cy="486.9" r="2.6"/><circle cx="1327.8" cy="486.9" r="2.9"/><circle cx="1328.6" cy="509.6" r="2.8"/><circle cx="1341.8" cy="509.2" r="2.9"/><circle cx="1347.6" cy="509.5" r="3.2"/><circle cx="1351.9" cy="486.5" r="3.1"/><circle cx="1350.7" cy="509.6" r="2.9"/><circle cx="1354.4" cy="484.1" r="2.8"/><circle cx="1355.9" cy="508.3" r="2.6"/><circle cx="1362.9" cy="511.1" r="2.6"/><circle cx="1375.6" cy="486.5" r="2.8"/><circle cx="1376.5" cy="505.6" r="2.8"/><circle cx="1380.6" cy="486.7" r="3.1"/></g>
<g fill="url(#cball)"><circle cx="930.0" cy="505.5" r="2.4"/><circle cx="936.0" cy="505.2" r="2.4"/><circle cx="942.0" cy="499.8" r="2.4"/><circle cx="948.0" cy="499.5" r="2.4"/><circle cx="954.0" cy="498.8" r="2.4"/><circle cx="960.0" cy="493.5" r="2.4"/><circle cx="966.0" cy="502.0" r="2.4"/><circle cx="972.0" cy="501.6" r="2.4"/><circle cx="978.0" cy="502.0" r="2.4"/><circle cx="984.0" cy="500.4" r="2.4"/><circle cx="990.0" cy="500.3" r="2.4"/><circle cx="996.0" cy="502.2" r="2.4"/><circle cx="1002.0" cy="492.6" r="2.4"/><circle cx="1008.0" cy="497.6" r="2.4"/><circle cx="1014.0" cy="503.7" r="2.4"/><circle cx="1020.0" cy="498.7" r="2.4"/><circle cx="1026.0" cy="492.4" r="2.4"/><circle cx="1032.0" cy="493.5" r="2.4"/><circle cx="1038.0" cy="502.7" r="2.4"/><circle cx="1044.0" cy="492.6" r="2.4"/><circle cx="1050.0" cy="493.3" r="2.4"/><circle cx="1056.0" cy="497.7" r="2.4"/><circle cx="1062.0" cy="498.3" r="2.4"/><circle cx="1068.0" cy="505.1" r="2.4"/><circle cx="1074.0" cy="495.7" r="2.4"/><circle cx="1080.0" cy="501.6" r="2.4"/><circle cx="1086.0" cy="495.6" r="2.4"/><circle cx="1092.0" cy="500.9" r="2.4"/><circle cx="1098.0" cy="506.6" r="2.4"/><circle cx="1104.0" cy="505.7" r="2.4"/><circle cx="1110.0" cy="499.6" r="2.4"/><circle cx="1116.0" cy="504.8" r="2.4"/><circle cx="1122.0" cy="494.5" r="2.4"/><circle cx="1128.0" cy="498.8" r="2.4"/><circle cx="1134.0" cy="498.5" r="2.4"/><circle cx="1140.0" cy="503.5" r="2.4"/><circle cx="1146.0" cy="503.7" r="2.4"/><circle cx="1152.0" cy="494.3" r="2.4"/><circle cx="1158.0" cy="498.0" r="2.4"/><circle cx="1164.0" cy="498.2" r="2.4"/><circle cx="1170.0" cy="497.1" r="2.4"/><circle cx="1176.0" cy="495.7" r="2.4"/><circle cx="1182.0" cy="499.6" r="2.4"/><circle cx="1188.0" cy="494.7" r="2.4"/><circle cx="1194.0" cy="489.0" r="2.4"/><circle cx="1200.0" cy="493.8" r="2.4"/><circle cx="1206.0" cy="493.8" r="2.4"/><circle cx="1212.0" cy="488.7" r="2.4"/><circle cx="1218.0" cy="494.0" r="2.4"/><circle cx="1224.0" cy="490.5" r="2.4"/><circle cx="1230.0" cy="499.6" r="2.4"/><circle cx="1236.0" cy="493.8" r="2.4"/><circle cx="1242.0" cy="488.6" r="2.4"/><circle cx="1248.0" cy="498.3" r="2.4"/><circle cx="1254.0" cy="498.9" r="2.4"/><circle cx="1260.0" cy="493.1" r="2.4"/><circle cx="1266.0" cy="489.2" r="2.4"/><circle cx="1272.0" cy="494.0" r="2.4"/><circle cx="1278.0" cy="496.2" r="2.4"/><circle cx="1284.0" cy="496.3" r="2.4"/><circle cx="1290.0" cy="491.2" r="2.4"/><circle cx="1296.0" cy="491.8" r="2.4"/><circle cx="1302.0" cy="497.8" r="2.4"/><circle cx="1308.0" cy="496.4" r="2.4"/><circle cx="1314.0" cy="501.4" r="2.4"/><circle cx="1320.0" cy="491.8" r="2.4"/><circle cx="1326.0" cy="502.0" r="2.4"/><circle cx="1332.0" cy="501.0" r="2.4"/><circle cx="1338.0" cy="495.9" r="2.4"/><circle cx="1344.0" cy="502.7" r="2.4"/><circle cx="1350.0" cy="497.5" r="2.4"/><circle cx="1356.0" cy="492.2" r="2.4"/><circle cx="1362.0" cy="502.4" r="2.4"/><circle cx="1368.0" cy="491.5" r="2.4"/><circle cx="1374.0" cy="502.2" r="2.4"/><circle cx="1380.0" cy="490.1" r="2.4"/></g>
<circle cx="1144.7" cy="501.1" r="3.6" fill="url(#nball)"/><circle cx="1120.6" cy="496.8" r="3.6" fill="url(#nball)"/><circle cx="1079.0" cy="502.7" r="3.6" fill="url(#nball)"/><circle cx="1254.8" cy="494.7" r="3.6" fill="url(#nball)"/><circle cx="1256.2" cy="494.2" r="3.6" fill="url(#nball)"/><circle cx="1297.2" cy="497.3" r="3.6" fill="url(#nball)"/><circle cx="1216.2" cy="500.3" r="3.4" fill="url(#fball)"/><circle cx="1282.8" cy="494.9" r="3.4" fill="url(#fball)"/><circle cx="1282.8" cy="492.6" r="3.4" fill="url(#fball)"/><circle cx="1300.3" cy="499.8" r="3.4" fill="url(#fball)"/><circle cx="1150.5" cy="492.4" r="3.4" fill="url(#fball)"/><circle cx="1059.7" cy="495.6" r="3.4" fill="url(#fball)"/>
<g transform="translate(1162 800) scale(0.7000) translate(-1162 -800)"><path d="M965.0 714.0Q1010.8 670.1 1063.0 634.0M1063.0 634.0Q1114.2 669.1 1159.0 712.0M965.0 714.0Q1009.7 760.2 1061.0 799.0M1256.0 641.0Q1303.6 671.5 1345.0 710.0M1256.0 641.0Q1204.5 672.5 1159.0 712.0M1345.0 710.0Q1307.1 757.4 1262.0 798.0M961.0 901.0Q1008.4 944.0 1062.0 979.0M961.0 901.0Q1007.4 846.5 1061.0 799.0M1062.0 979.0Q1115.3 937.7 1162.0 889.0M1353.0 886.0Q1313.5 931.6 1267.0 970.0M1353.0 886.0Q1311.0 838.4 1262.0 798.0M1267.0 970.0Q1211.4 933.5 1162.0 889.0M1159.0 712.0Q1110.0 755.5 1061.0 799.0M1159.0 712.0Q1210.5 755.0 1262.0 798.0M1262.0 798.0Q1212.0 843.5 1162.0 889.0M1162.0 889.0Q1111.5 844.0 1061.0 799.0" fill="none" stroke="#ececec" stroke-width="17.5" stroke-linecap="round" stroke-linejoin="round"/><path d="M965.0 714.0Q1010.8 670.1 1063.0 634.0M1063.0 634.0Q1114.2 669.1 1159.0 712.0M965.0 714.0Q1009.7 760.2 1061.0 799.0M1256.0 641.0Q1303.6 671.5 1345.0 710.0M1256.0 641.0Q1204.5 672.5 1159.0 712.0M1345.0 710.0Q1307.1 757.4 1262.0 798.0M961.0 901.0Q1008.4 944.0 1062.0 979.0M961.0 901.0Q1007.4 846.5 1061.0 799.0M1062.0 979.0Q1115.3 937.7 1162.0 889.0M1353.0 886.0Q1313.5 931.6 1267.0 970.0M1353.0 886.0Q1311.0 838.4 1262.0 798.0M1267.0 970.0Q1211.4 933.5 1162.0 889.0M1159.0 712.0Q1110.0 755.5 1061.0 799.0M1159.0 712.0Q1210.5 755.0 1262.0 798.0M1262.0 798.0Q1212.0 843.5 1162.0 889.0M1162.0 889.0Q1111.5 844.0 1061.0 799.0" fill="none" stroke="url(#patD)" stroke-opacity="0.50" stroke-width="17.5" stroke-linecap="round" stroke-linejoin="round"/></g>
<g transform="translate(1162 800) scale(0.7137) translate(-1162 -800)"><path d="M965.0 714.0Q1010.8 670.1 1063.0 634.0M1063.0 634.0Q1114.2 669.1 1159.0 712.0M965.0 714.0Q1009.7 760.2 1061.0 799.0M1256.0 641.0Q1303.6 671.5 1345.0 710.0M1256.0 641.0Q1204.5 672.5 1159.0 712.0M1345.0 710.0Q1307.1 757.4 1262.0 798.0M961.0 901.0Q1008.4 944.0 1062.0 979.0M961.0 901.0Q1007.4 846.5 1061.0 799.0M1062.0 979.0Q1115.3 937.7 1162.0 889.0M1353.0 886.0Q1313.5 931.6 1267.0 970.0M1353.0 886.0Q1311.0 838.4 1262.0 798.0M1267.0 970.0Q1211.4 933.5 1162.0 889.0M1159.0 712.0Q1110.0 755.5 1061.0 799.0M1159.0 712.0Q1210.5 755.0 1262.0 798.0M1262.0 798.0Q1212.0 843.5 1162.0 889.0M1162.0 889.0Q1111.5 844.0 1061.0 799.0" fill="none" stroke="#e0e0e0" stroke-width="17.5" stroke-linecap="round" stroke-linejoin="round"/><path d="M965.0 714.0Q1010.8 670.1 1063.0 634.0M1063.0 634.0Q1114.2 669.1 1159.0 712.0M965.0 714.0Q1009.7 760.2 1061.0 799.0M1256.0 641.0Q1303.6 671.5 1345.0 710.0M1256.0 641.0Q1204.5 672.5 1159.0 712.0M1345.0 710.0Q1307.1 757.4 1262.0 798.0M961.0 901.0Q1008.4 944.0 1062.0 979.0M961.0 901.0Q1007.4 846.5 1061.0 799.0M1062.0 979.0Q1115.3 937.7 1162.0 889.0M1353.0 886.0Q1313.5 931.6 1267.0 970.0M1353.0 886.0Q1311.0 838.4 1262.0 798.0M1267.0 970.0Q1211.4 933.5 1162.0 889.0M1159.0 712.0Q1110.0 755.5 1061.0 799.0M1159.0 712.0Q1210.5 755.0 1262.0 798.0M1262.0 798.0Q1212.0 843.5 1162.0 889.0M1162.0 889.0Q1111.5 844.0 1061.0 799.0" fill="none" stroke="url(#patD)" stroke-opacity="0.52" stroke-width="17.5" stroke-linecap="round" stroke-linejoin="round"/></g>
<g transform="translate(1162 800) scale(0.7274) translate(-1162 -800)"><path d="M965.0 714.0Q1010.8 670.1 1063.0 634.0M1063.0 634.0Q1114.2 669.1 1159.0 712.0M965.0 714.0Q1009.7 760.2 1061.0 799.0M1256.0 641.0Q1303.6 671.5 1345.0 710.0M1256.0 641.0Q1204.5 672.5 1159.0 712.0M1345.0 710.0Q1307.1 757.4 1262.0 798.0M961.0 901.0Q1008.4 944.0 1062.0 979.0M961.0 901.0Q1007.4 846.5 1061.0 799.0M1062.0 979.0Q1115.3 937.7 1162.0 889.0M1353.0 886.0Q1313.5 931.6 1267.0 970.0M1353.0 886.0Q1311.0 838.4 1262.0 798.0M1267.0 970.0Q1211.4 933.5 1162.0 889.0M1159.0 712.0Q1110.0 755.5 1061.0 799.0M1159.0 712.0Q1210.5 755.0 1262.0 798.0M1262.0 798.0Q1212.0 843.5 1162.0 889.0M1162.0 889.0Q1111.5 844.0 1061.0 799.0" fill="none" stroke="#d8d8d8" stroke-width="17.5" stroke-linecap="round" stroke-linejoin="round"/><path d="M965.0 714.0Q1010.8 670.1 1063.0 634.0M1063.0 634.0Q1114.2 669.1 1159.0 712.0M965.0 714.0Q1009.7 760.2 1061.0 799.0M1256.0 641.0Q1303.6 671.5 1345.0 710.0M1256.0 641.0Q1204.5 672.5 1159.0 712.0M1345.0 710.0Q1307.1 757.4 1262.0 798.0M961.0 901.0Q1008.4 944.0 1062.0 979.0M961.0 901.0Q1007.4 846.5 1061.0 799.0M1062.0 979.0Q1115.3 937.7 1162.0 889.0M1353.0 886.0Q1313.5 931.6 1267.0 970.0M1353.0 886.0Q1311.0 838.4 1262.0 798.0M1267.0 970.0Q1211.4 933.5 1162.0 889.0M1159.0 712.0Q1110.0 755.5 1061.0 799.0M1159.0 712.0Q1210.5 755.0 1262.0 798.0M1262.0 798.0Q1212.0 843.5 1162.0 889.0M1162.0 889.0Q1111.5 844.0 1061.0 799.0" fill="none" stroke="url(#patD)" stroke-opacity="0.54" stroke-width="17.5" stroke-linecap="round" stroke-linejoin="round"/></g>
<g transform="translate(1162 800) scale(0.7411) translate(-1162 -800)"><path d="M965.0 714.0Q1010.8 670.1 1063.0 634.0M1063.0 634.0Q1114.2 669.1 1159.0 712.0M965.0 714.0Q1009.7 760.2 1061.0 799.0M1256.0 641.0Q1303.6 671.5 1345.0 710.0M1256.0 641.0Q1204.5 672.5 1159.0 712.0M1345.0 710.0Q1307.1 757.4 1262.0 798.0M961.0 901.0Q1008.4 944.0 1062.0 979.0M961.0 901.0Q1007.4 846.5 1061.0 799.0M1062.0 979.0Q1115.3 937.7 1162.0 889.0M1353.0 886.0Q1313.5 931.6 1267.0 970.0M1353.0 886.0Q1311.0 838.4 1262.0 798.0M1267.0 970.0Q1211.4 933.5 1162.0 889.0M1159.0 712.0Q1110.0 755.5 1061.0 799.0M1159.0 712.0Q1210.5 755.0 1262.0 798.0M1262.0 798.0Q1212.0 843.5 1162.0 889.0M1162.0 889.0Q1111.5 844.0 1061.0 799.0" fill="none" stroke="#d2d2d2" stroke-width="17.5" stroke-linecap="round" stroke-linejoin="round"/><path d="M965.0 714.0Q1010.8 670.1 1063.0 634.0M1063.0 634.0Q1114.2 669.1 1159.0 712.0M965.0 714.0Q1009.7 760.2 1061.0 799.0M1256.0 641.0Q1303.6 671.5 1345.0 710.0M1256.0 641.0Q1204.5 672.5 1159.0 712.0M1345.0 710.0Q1307.1 757.4 1262.0 798.0M961.0 901.0Q1008.4 944.0 1062.0 979.0M961.0 901.0Q1007.4 846.5 1061.0 799.0M1062.0 979.0Q1115.3 937.7 1162.0 889.0M1353.0 886.0Q1313.5 931.6 1267.0 970.0M1353.0 886.0Q1311.0 838.4 1262.0 798.0M1267.0 970.0Q1211.4 933.5 1162.0 889.0M1159.0 712.0Q1110.0 755.5 1061.0 799.0M1159.0 712.0Q1210.5 755.0 1262.0 798.0M1262.0 798.0Q1212.0 843.5 1162.0 889.0M1162.0 889.0Q1111.5 844.0 1061.0 799.0" fill="none" stroke="url(#patD)" stroke-opacity="0.56" stroke-width="17.5" stroke-linecap="round" stroke-linejoin="round"/></g>
<g transform="translate(1162 800) scale(0.7549) translate(-1162 -800)"><path d="M965.0 714.0Q1010.8 670.1 1063.0 634.0M1063.0 634.0Q1114.2 669.1 1159.0 712.0M965.0 714.0Q1009.7 760.2 1061.0 799.0M1256.0 641.0Q1303.6 671.5 1345.0 710.0M1256.0 641.0Q1204.5 672.5 1159.0 712.0M1345.0 710.0Q1307.1 757.4 1262.0 798.0M961.0 901.0Q1008.4 944.0 1062.0 979.0M961.0 901.0Q1007.4 846.5 1061.0 799.0M1062.0 979.0Q1115.3 937.7 1162.0 889.0M1353.0 886.0Q1313.5 931.6 1267.0 970.0M1353.0 886.0Q1311.0 838.4 1262.0 798.0M1267.0 970.0Q1211.4 933.5 1162.0 889.0M1159.0 712.0Q1110.0 755.5 1061.0 799.0M1159.0 712.0Q1210.5 755.0 1262.0 798.0M1262.0 798.0Q1212.0 843.5 1162.0 889.0M1162.0 889.0Q1111.5 844.0 1061.0 799.0" fill="none" stroke="#cccccc" stroke-width="17.5" stroke-linecap="round" stroke-linejoin="round"/><path d="M965.0 714.0Q1010.8 670.1 1063.0 634.0M1063.0 634.0Q1114.2 669.1 1159.0 712.0M965.0 714.0Q1009.7 760.2 1061.0 799.0M1256.0 641.0Q1303.6 671.5 1345.0 710.0M1256.0 641.0Q1204.5 672.5 1159.0 712.0M1345.0 710.0Q1307.1 757.4 1262.0 798.0M961.0 901.0Q1008.4 944.0 1062.0 979.0M961.0 901.0Q1007.4 846.5 1061.0 799.0M1062.0 979.0Q1115.3 937.7 1162.0 889.0M1353.0 886.0Q1313.5 931.6 1267.0 970.0M1353.0 886.0Q1311.0 838.4 1262.0 798.0M1267.0 970.0Q1211.4 933.5 1162.0 889.0M1159.0 712.0Q1110.0 755.5 1061.0 799.0M1159.0 712.0Q1210.5 755.0 1262.0 798.0M1262.0 798.0Q1212.0 843.5 1162.0 889.0M1162.0 889.0Q1111.5 844.0 1061.0 799.0" fill="none" stroke="url(#patD)" stroke-opacity="0.58" stroke-width="17.5" stroke-linecap="round" stroke-linejoin="round"/></g>
<g transform="translate(1162 800) scale(0.7686) translate(-1162 -800)"><path d="M965.0 714.0Q1010.8 670.1 1063.0 634.0M1063.0 634.0Q1114.2 669.1 1159.0 712.0M965.0 714.0Q1009.7 760.2 1061.0 799.0M1256.0 641.0Q1303.6 671.5 1345.0 710.0M1256.0 641.0Q1204.5 672.5 1159.0 712.0M1345.0 710.0Q1307.1 757.4 1262.0 798.0M961.0 901.0Q1008.4 944.0 1062.0 979.0M961.0 901.0Q1007.4 846.5 1061.0 799.0M1062.0 979.0Q1115.3 937.7 1162.0 889.0M1353.0 886.0Q1313.5 931.6 1267.0 970.0M1353.0 886.0Q1311.0 838.4 1262.0 798.0M1267.0 970.0Q1211.4 933.5 1162.0 889.0M1159.0 712.0Q1110.0 755.5 1061.0 799.0M1159.0 712.0Q1210.5 755.0 1262.0 798.0M1262.0 798.0Q1212.0 843.5 1162.0 889.0M1162.0 889.0Q1111.5 844.0 1061.0 799.0" fill="none" stroke="#c7c7c7" stroke-width="17.5" stroke-linecap="round" stroke-linejoin="round"/><path d="M965.0 714.0Q1010.8 670.1 1063.0 634.0M1063.0 634.0Q1114.2 669.1 1159.0 712.0M965.0 714.0Q1009.7 760.2 1061.0 799.0M1256.0 641.0Q1303.6 671.5 1345.0 710.0M1256.0 641.0Q1204.5 672.5 1159.0 712.0M1345.0 710.0Q1307.1 757.4 1262.0 798.0M961.0 901.0Q1008.4 944.0 1062.0 979.0M961.0 901.0Q1007.4 846.5 1061.0 799.0M1062.0 979.0Q1115.3 937.7 1162.0 889.0M1353.0 886.0Q1313.5 931.6 1267.0 970.0M1353.0 886.0Q1311.0 838.4 1262.0 798.0M1267.0 970.0Q1211.4 933.5 1162.0 889.0M1159.0 712.0Q1110.0 755.5 1061.0 799.0M1159.0 712.0Q1210.5 755.0 1262.0 798.0M1262.0 798.0Q1212.0 843.5 1162.0 889.0M1162.0 889.0Q1111.5 844.0 1061.0 799.0" fill="none" stroke="url(#patD)" stroke-opacity="0.60" stroke-width="17.5" stroke-linecap="round" stroke-linejoin="round"/></g>
<g transform="translate(1162 800) scale(0.7823) translate(-1162 -800)"><path d="M965.0 714.0Q1010.8 670.1 1063.0 634.0M1063.0 634.0Q1114.2 669.1 1159.0 712.0M965.0 714.0Q1009.7 760.2 1061.0 799.0M1256.0 641.0Q1303.6 671.5 1345.0 710.0M1256.0 641.0Q1204.5 672.5 1159.0 712.0M1345.0 710.0Q1307.1 757.4 1262.0 798.0M961.0 901.0Q1008.4 944.0 1062.0 979.0M961.0 901.0Q1007.4 846.5 1061.0 799.0M1062.0 979.0Q1115.3 937.7 1162.0 889.0M1353.0 886.0Q1313.5 931.6 1267.0 970.0M1353.0 886.0Q1311.0 838.4 1262.0 798.0M1267.0 970.0Q1211.4 933.5 1162.0 889.0M1159.0 712.0Q1110.0 755.5 1061.0 799.0M1159.0 712.0Q1210.5 755.0 1262.0 798.0M1262.0 798.0Q1212.0 843.5 1162.0 889.0M1162.0 889.0Q1111.5 844.0 1061.0 799.0" fill="none" stroke="#c2c2c2" stroke-width="17.5" stroke-linecap="round" stroke-linejoin="round"/><path d="M965.0 714.0Q1010.8 670.1 1063.0 634.0M1063.0 634.0Q1114.2 669.1 1159.0 712.0M965.0 714.0Q1009.7 760.2 1061.0 799.0M1256.0 641.0Q1303.6 671.5 1345.0 710.0M1256.0 641.0Q1204.5 672.5 1159.0 712.0M1345.0 710.0Q1307.1 757.4 1262.0 798.0M961.0 901.0Q1008.4 944.0 1062.0 979.0M961.0 901.0Q1007.4 846.5 1061.0 799.0M1062.0 979.0Q1115.3 937.7 1162.0 889.0M1353.0 886.0Q1313.5 931.6 1267.0 970.0M1353.0 886.0Q1311.0 838.4 1262.0 798.0M1267.0 970.0Q1211.4 933.5 1162.0 889.0M1159.0 712.0Q1110.0 755.5 1061.0 799.0M1159.0 712.0Q1210.5 755.0 1262.0 798.0M1262.0 798.0Q1212.0 843.5 1162.0 889.0M1162.0 889.0Q1111.5 844.0 1061.0 799.0" fill="none" stroke="url(#patD)" stroke-opacity="0.61" stroke-width="17.5" stroke-linecap="round" stroke-linejoin="round"/></g>
<g transform="translate(1162 800) scale(0.7960) translate(-1162 -800)"><path d="M965.0 714.0Q1010.8 670.1 1063.0 634.0M1063.0 634.0Q1114.2 669.1 1159.0 712.0M965.0 714.0Q1009.7 760.2 1061.0 799.0M1256.0 641.0Q1303.6 671.5 1345.0 710.0M1256.0 641.0Q1204.5 672.5 1159.0 712.0M1345.0 710.0Q1307.1 757.4 1262.0 798.0M961.0 901.0Q1008.4 944.0 1062.0 979.0M961.0 901.0Q1007.4 846.5 1061.0 799.0M1062.0 979.0Q1115.3 937.7 1162.0 889.0M1353.0 886.0Q1313.5 931.6 1267.0 970.0M1353.0 886.0Q1311.0 838.4 1262.0 798.0M1267.0 970.0Q1211.4 933.5 1162.0 889.0M1159.0 712.0Q1110.0 755.5 1061.0 799.0M1159.0 712.0Q1210.5 755.0 1262.0 798.0M1262.0 798.0Q1212.0 843.5 1162.0 889.0M1162.0 889.0Q1111.5 844.0 1061.0 799.0" fill="none" stroke="#bdbdbd" stroke-width="17.5" stroke-linecap="round" stroke-linejoin="round"/><path d="M965.0 714.0Q1010.8 670.1 1063.0 634.0M1063.0 634.0Q1114.2 669.1 1159.0 712.0M965.0 714.0Q1009.7 760.2 1061.0 799.0M1256.0 641.0Q1303.6 671.5 1345.0 710.0M1256.0 641.0Q1204.5 672.5 1159.0 712.0M1345.0 710.0Q1307.1 757.4 1262.0 798.0M961.0 901.0Q1008.4 944.0 1062.0 979.0M961.0 901.0Q1007.4 846.5 1061.0 799.0M1062.0 979.0Q1115.3 937.7 1162.0 889.0M1353.0 886.0Q1313.5 931.6 1267.0 970.0M1353.0 886.0Q1311.0 838.4 1262.0 798.0M1267.0 970.0Q1211.4 933.5 1162.0 889.0M1159.0 712.0Q1110.0 755.5 1061.0 799.0M1159.0 712.0Q1210.5 755.0 1262.0 798.0M1262.0 798.0Q1212.0 843.5 1162.0 889.0M1162.0 889.0Q1111.5 844.0 1061.0 799.0" fill="none" stroke="url(#patD)" stroke-opacity="0.63" stroke-width="17.5" stroke-linecap="round" stroke-linejoin="round"/></g>
<g transform="translate(1162 800) scale(0.8097) translate(-1162 -800)"><path d="M965.0 714.0Q1010.8 670.1 1063.0 634.0M1063.0 634.0Q1114.2 669.1 1159.0 712.0M965.0 714.0Q1009.7 760.2 1061.0 799.0M1256.0 641.0Q1303.6 671.5 1345.0 710.0M1256.0 641.0Q1204.5 672.5 1159.0 712.0M1345.0 710.0Q1307.1 757.4 1262.0 798.0M961.0 901.0Q1008.4 944.0 1062.0 979.0M961.0 901.0Q1007.4 846.5 1061.0 799.0M1062.0 979.0Q1115.3 937.7 1162.0 889.0M1353.0 886.0Q1313.5 931.6 1267.0 970.0M1353.0 886.0Q1311.0 838.4 1262.0 798.0M1267.0 970.0Q1211.4 933.5 1162.0 889.0M1159.0 712.0Q1110.0 755.5 1061.0 799.0M1159.0 712.0Q1210.5 755.0 1262.0 798.0M1262.0 798.0Q1212.0 843.5 1162.0 889.0M1162.0 889.0Q1111.5 844.0 1061.0 799.0" fill="none" stroke="#b9b9b9" stroke-width="17.5" stroke-linecap="round" stroke-linejoin="round"/><path d="M965.0 714.0Q1010.8 670.1 1063.0 634.0M1063.0 634.0Q1114.2 669.1 1159.0 712.0M965.0 714.0Q1009.7 760.2 1061.0 799.0M1256.0 641.0Q1303.6 671.5 1345.0 710.0M1256.0 641.0Q1204.5 672.5 1159.0 712.0M1345.0 710.0Q1307.1 757.4 1262.0 798.0M961.0 901.0Q1008.4 944.0 1062.0 979.0M961.0 901.0Q1007.4 846.5 1061.0 799.0M1062.0 979.0Q1115.3 937.7 1162.0 889.0M1353.0 886.0Q1313.5 931.6 1267.0 970.0M1353.0 886.0Q1311.0 838.4 1262.0 798.0M1267.0 970.0Q1211.4 933.5 1162.0 889.0M1159.0 712.0Q1110.0 755.5 1061.0 799.0M1159.0 712.0Q1210.5 755.0 1262.0 798.0M1262.0 798.0Q1212.0 843.5 1162.0 889.0M1162.0 889.0Q1111.5 844.0 1061.0 799.0" fill="none" stroke="url(#patD)" stroke-opacity="0.65" stroke-width="17.5" stroke-linecap="round" stroke-linejoin="round"/></g>
<g transform="translate(1162 800) scale(0.8234) translate(-1162 -800)"><path d="M965.0 714.0Q1010.8 670.1 1063.0 634.0M1063.0 634.0Q1114.2 669.1 1159.0 712.0M965.0 714.0Q1009.7 760.2 1061.0 799.0M1256.0 641.0Q1303.6 671.5 1345.0 710.0M1256.0 641.0Q1204.5 672.5 1159.0 712.0M1345.0 710.0Q1307.1 757.4 1262.0 798.0M961.0 901.0Q1008.4 944.0 1062.0 979.0M961.0 901.0Q1007.4 846.5 1061.0 799.0M1062.0 979.0Q1115.3 937.7 1162.0 889.0M1353.0 886.0Q1313.5 931.6 1267.0 970.0M1353.0 886.0Q1311.0 838.4 1262.0 798.0M1267.0 970.0Q1211.4 933.5 1162.0 889.0M1159.0 712.0Q1110.0 755.5 1061.0 799.0M1159.0 712.0Q1210.5 755.0 1262.0 798.0M1262.0 798.0Q1212.0 843.5 1162.0 889.0M1162.0 889.0Q1111.5 844.0 1061.0 799.0" fill="none" stroke="#b4b4b4" stroke-width="17.5" stroke-linecap="round" stroke-linejoin="round"/><path d="M965.0 714.0Q1010.8 670.1 1063.0 634.0M1063.0 634.0Q1114.2 669.1 1159.0 712.0M965.0 714.0Q1009.7 760.2 1061.0 799.0M1256.0 641.0Q1303.6 671.5 1345.0 710.0M1256.0 641.0Q1204.5 672.5 1159.0 712.0M1345.0 710.0Q1307.1 757.4 1262.0 798.0M961.0 901.0Q1008.4 944.0 1062.0 979.0M961.0 901.0Q1007.4 846.5 1061.0 799.0M1062.0 979.0Q1115.3 937.7 1162.0 889.0M1353.0 886.0Q1313.5 931.6 1267.0 970.0M1353.0 886.0Q1311.0 838.4 1262.0 798.0M1267.0 970.0Q1211.4 933.5 1162.0 889.0M1159.0 712.0Q1110.0 755.5 1061.0 799.0M1159.0 712.0Q1210.5 755.0 1262.0 798.0M1262.0 798.0Q1212.0 843.5 1162.0 889.0M1162.0 889.0Q1111.5 844.0 1061.0 799.0" fill="none" stroke="url(#patD)" stroke-opacity="0.67" stroke-width="17.5" stroke-linecap="round" stroke-linejoin="round"/></g>
<g transform="translate(1162 800) scale(0.8371) translate(-1162 -800)"><path d="M965.0 714.0Q1010.8 670.1 1063.0 634.0M1063.0 634.0Q1114.2 669.1 1159.0 712.0M965.0 714.0Q1009.7 760.2 1061.0 799.0M1256.0 641.0Q1303.6 671.5 1345.0 710.0M1256.0 641.0Q1204.5 672.5 1159.0 712.0M1345.0 710.0Q1307.1 757.4 1262.0 798.0M961.0 901.0Q1008.4 944.0 1062.0 979.0M961.0 901.0Q1007.4 846.5 1061.0 799.0M1062.0 979.0Q1115.3 937.7 1162.0 889.0M1353.0 886.0Q1313.5 931.6 1267.0 970.0M1353.0 886.0Q1311.0 838.4 1262.0 798.0M1267.0 970.0Q1211.4 933.5 1162.0 889.0M1159.0 712.0Q1110.0 755.5 1061.0 799.0M1159.0 712.0Q1210.5 755.0 1262.0 798.0M1262.0 798.0Q1212.0 843.5 1162.0 889.0M1162.0 889.0Q1111.5 844.0 1061.0 799.0" fill="none" stroke="#b0b0b0" stroke-width="17.5" stroke-linecap="round" stroke-linejoin="round"/><path d="M965.0 714.0Q1010.8 670.1 1063.0 634.0M1063.0 634.0Q1114.2 669.1 1159.0 712.0M965.0 714.0Q1009.7 760.2 1061.0 799.0M1256.0 641.0Q1303.6 671.5 1345.0 710.0M1256.0 641.0Q1204.5 672.5 1159.0 712.0M1345.0 710.0Q1307.1 757.4 1262.0 798.0M961.0 901.0Q1008.4 944.0 1062.0 979.0M961.0 901.0Q1007.4 846.5 1061.0 799.0M1062.0 979.0Q1115.3 937.7 1162.0 889.0M1353.0 886.0Q1313.5 931.6 1267.0 970.0M1353.0 886.0Q1311.0 838.4 1262.0 798.0M1267.0 970.0Q1211.4 933.5 1162.0 889.0M1159.0 712.0Q1110.0 755.5 1061.0 799.0M1159.0 712.0Q1210.5 755.0 1262.0 798.0M1262.0 798.0Q1212.0 843.5 1162.0 889.0M1162.0 889.0Q1111.5 844.0 1061.0 799.0" fill="none" stroke="url(#patD)" stroke-opacity="0.69" stroke-width="17.5" stroke-linecap="round" stroke-linejoin="round"/></g>
<g transform="translate(1162 800) scale(0.8509) translate(-1162 -800)"><path d="M965.0 714.0Q1010.8 670.1 1063.0 634.0M1063.0 634.0Q1114.2 669.1 1159.0 712.0M965.0 714.0Q1009.7 760.2 1061.0 799.0M1256.0 641.0Q1303.6 671.5 1345.0 710.0M1256.0 641.0Q1204.5 672.5 1159.0 712.0M1345.0 710.0Q1307.1 757.4 1262.0 798.0M961.0 901.0Q1008.4 944.0 1062.0 979.0M961.0 901.0Q1007.4 846.5 1061.0 799.0M1062.0 979.0Q1115.3 937.7 1162.0 889.0M1353.0 886.0Q1313.5 931.6 1267.0 970.0M1353.0 886.0Q1311.0 838.4 1262.0 798.0M1267.0 970.0Q1211.4 933.5 1162.0 889.0M1159.0 712.0Q1110.0 755.5 1061.0 799.0M1159.0 712.0Q1210.5 755.0 1262.0 798.0M1262.0 798.0Q1212.0 843.5 1162.0 889.0M1162.0 889.0Q1111.5 844.0 1061.0 799.0" fill="none" stroke="#acacac" stroke-width="17.5" stroke-linecap="round" stroke-linejoin="round"/><path d="M965.0 714.0Q1010.8 670.1 1063.0 634.0M1063.0 634.0Q1114.2 669.1 1159.0 712.0M965.0 714.0Q1009.7 760.2 1061.0 799.0M1256.0 641.0Q1303.6 671.5 1345.0 710.0M1256.0 641.0Q1204.5 672.5 1159.0 712.0M1345.0 710.0Q1307.1 757.4 1262.0 798.0M961.0 901.0Q1008.4 944.0 1062.0 979.0M961.0 901.0Q1007.4 846.5 1061.0 799.0M1062.0 979.0Q1115.3 937.7 1162.0 889.0M1353.0 886.0Q1313.5 931.6 1267.0 970.0M1353.0 886.0Q1311.0 838.4 1262.0 798.0M1267.0 970.0Q1211.4 933.5 1162.0 889.0M1159.0 712.0Q1110.0 755.5 1061.0 799.0M1159.0 712.0Q1210.5 755.0 1262.0 798.0M1262.0 798.0Q1212.0 843.5 1162.0 889.0M1162.0 889.0Q1111.5 844.0 1061.0 799.0" fill="none" stroke="url(#patD)" stroke-opacity="0.71" stroke-width="17.5" stroke-linecap="round" stroke-linejoin="round"/></g>
<g transform="translate(1162 800) scale(0.8646) translate(-1162 -800)"><path d="M965.0 714.0Q1010.8 670.1 1063.0 634.0M1063.0 634.0Q1114.2 669.1 1159.0 712.0M965.0 714.0Q1009.7 760.2 1061.0 799.0M1256.0 641.0Q1303.6 671.5 1345.0 710.0M1256.0 641.0Q1204.5 672.5 1159.0 712.0M1345.0 710.0Q1307.1 757.4 1262.0 798.0M961.0 901.0Q1008.4 944.0 1062.0 979.0M961.0 901.0Q1007.4 846.5 1061.0 799.0M1062.0 979.0Q1115.3 937.7 1162.0 889.0M1353.0 886.0Q1313.5 931.6 1267.0 970.0M1353.0 886.0Q1311.0 838.4 1262.0 798.0M1267.0 970.0Q1211.4 933.5 1162.0 889.0M1159.0 712.0Q1110.0 755.5 1061.0 799.0M1159.0 712.0Q1210.5 755.0 1262.0 798.0M1262.0 798.0Q1212.0 843.5 1162.0 889.0M1162.0 889.0Q1111.5 844.0 1061.0 799.0" fill="none" stroke="#a8a8a8" stroke-width="17.5" stroke-linecap="round" stroke-linejoin="round"/><path d="M965.0 714.0Q1010.8 670.1 1063.0 634.0M1063.0 634.0Q1114.2 669.1 1159.0 712.0M965.0 714.0Q1009.7 760.2 1061.0 799.0M1256.0 641.0Q1303.6 671.5 1345.0 710.0M1256.0 641.0Q1204.5 672.5 1159.0 712.0M1345.0 710.0Q1307.1 757.4 1262.0 798.0M961.0 901.0Q1008.4 944.0 1062.0 979.0M961.0 901.0Q1007.4 846.5 1061.0 799.0M1062.0 979.0Q1115.3 937.7 1162.0 889.0M1353.0 886.0Q1313.5 931.6 1267.0 970.0M1353.0 886.0Q1311.0 838.4 1262.0 798.0M1267.0 970.0Q1211.4 933.5 1162.0 889.0M1159.0 712.0Q1110.0 755.5 1061.0 799.0M1159.0 712.0Q1210.5 755.0 1262.0 798.0M1262.0 798.0Q1212.0 843.5 1162.0 889.0M1162.0 889.0Q1111.5 844.0 1061.0 799.0" fill="none" stroke="url(#patD)" stroke-opacity="0.73" stroke-width="17.5" stroke-linecap="round" stroke-linejoin="round"/></g>
<g transform="translate(1162 800) scale(0.8783) translate(-1162 -800)"><path d="M965.0 714.0Q1010.8 670.1 1063.0 634.0M1063.0 634.0Q1114.2 669.1 1159.0 712.0M965.0 714.0Q1009.7 760.2 1061.0 799.0M1256.0 641.0Q1303.6 671.5 1345.0 710.0M1256.0 641.0Q1204.5 672.5 1159.0 712.0M1345.0 710.0Q1307.1 757.4 1262.0 798.0M961.0 901.0Q1008.4 944.0 1062.0 979.0M961.0 901.0Q1007.4 846.5 1061.0 799.0M1062.0 979.0Q1115.3 937.7 1162.0 889.0M1353.0 886.0Q1313.5 931.6 1267.0 970.0M1353.0 886.0Q1311.0 838.4 1262.0 798.0M1267.0 970.0Q1211.4 933.5 1162.0 889.0M1159.0 712.0Q1110.0 755.5 1061.0 799.0M1159.0 712.0Q1210.5 755.0 1262.0 798.0M1262.0 798.0Q1212.0 843.5 1162.0 889.0M1162.0 889.0Q1111.5 844.0 1061.0 799.0" fill="none" stroke="#a4a4a4" stroke-width="17.5" stroke-linecap="round" stroke-linejoin="round"/><path d="M965.0 714.0Q1010.8 670.1 1063.0 634.0M1063.0 634.0Q1114.2 669.1 1159.0 712.0M965.0 714.0Q1009.7 760.2 1061.0 799.0M1256.0 641.0Q1303.6 671.5 1345.0 710.0M1256.0 641.0Q1204.5 672.5 1159.0 712.0M1345.0 710.0Q1307.1 757.4 1262.0 798.0M961.0 901.0Q1008.4 944.0 1062.0 979.0M961.0 901.0Q1007.4 846.5 1061.0 799.0M1062.0 979.0Q1115.3 937.7 1162.0 889.0M1353.0 886.0Q1313.5 931.6 1267.0 970.0M1353.0 886.0Q1311.0 838.4 1262.0 798.0M1267.0 970.0Q1211.4 933.5 1162.0 889.0M1159.0 712.0Q1110.0 755.5 1061.0 799.0M1159.0 712.0Q1210.5 755.0 1262.0 798.0M1262.0 798.0Q1212.0 843.5 1162.0 889.0M1162.0 889.0Q1111.5 844.0 1061.0 799.0" fill="none" stroke="url(#patD)" stroke-opacity="0.75" stroke-width="17.5" stroke-linecap="round" stroke-linejoin="round"/></g>
<g transform="translate(1162 800) scale(0.8920) translate(-1162 -800)"><path d="M965.0 714.0Q1010.8 670.1 1063.0 634.0M1063.0 634.0Q1114.2 669.1 1159.0 712.0M965.0 714.0Q1009.7 760.2 1061.0 799.0M1256.0 641.0Q1303.6 671.5 1345.0 710.0M1256.0 641.0Q1204.5 672.5 1159.0 712.0M1345.0 710.0Q1307.1 757.4 1262.0 798.0M961.0 901.0Q1008.4 944.0 1062.0 979.0M961.0 901.0Q1007.4 846.5 1061.0 799.0M1062.0 979.0Q1115.3 937.7 1162.0 889.0M1353.0 886.0Q1313.5 931.6 1267.0 970.0M1353.0 886.0Q1311.0 838.4 1262.0 798.0M1267.0 970.0Q1211.4 933.5 1162.0 889.0M1159.0 712.0Q1110.0 755.5 1061.0 799.0M1159.0 712.0Q1210.5 755.0 1262.0 798.0M1262.0 798.0Q1212.0 843.5 1162.0 889.0M1162.0 889.0Q1111.5 844.0 1061.0 799.0" fill="none" stroke="#a0a0a0" stroke-width="17.5" stroke-linecap="round" stroke-linejoin="round"/><path d="M965.0 714.0Q1010.8 670.1 1063.0 634.0M1063.0 634.0Q1114.2 669.1 1159.0 712.0M965.0 714.0Q1009.7 760.2 1061.0 799.0M1256.0 641.0Q1303.6 671.5 1345.0 710.0M1256.0 641.0Q1204.5 672.5 1159.0 712.0M1345.0 710.0Q1307.1 757.4 1262.0 798.0M961.0 901.0Q1008.4 944.0 1062.0 979.0M961.0 901.0Q1007.4 846.5 1061.0 799.0M1062.0 979.0Q1115.3 937.7 1162.0 889.0M1353.0 886.0Q1313.5 931.6 1267.0 970.0M1353.0 886.0Q1311.0 838.4 1262.0 798.0M1267.0 970.0Q1211.4 933.5 1162.0 889.0M1159.0 712.0Q1110.0 755.5 1061.0 799.0M1159.0 712.0Q1210.5 755.0 1262.0 798.0M1262.0 798.0Q1212.0 843.5 1162.0 889.0M1162.0 889.0Q1111.5 844.0 1061.0 799.0" fill="none" stroke="url(#patD)" stroke-opacity="0.77" stroke-width="17.5" stroke-linecap="round" stroke-linejoin="round"/></g>
<g transform="translate(1162 800) scale(0.9057) translate(-1162 -800)"><path d="M965.0 714.0Q1010.8 670.1 1063.0 634.0M1063.0 634.0Q1114.2 669.1 1159.0 712.0M965.0 714.0Q1009.7 760.2 1061.0 799.0M1256.0 641.0Q1303.6 671.5 1345.0 710.0M1256.0 641.0Q1204.5 672.5 1159.0 712.0M1345.0 710.0Q1307.1 757.4 1262.0 798.0M961.0 901.0Q1008.4 944.0 1062.0 979.0M961.0 901.0Q1007.4 846.5 1061.0 799.0M1062.0 979.0Q1115.3 937.7 1162.0 889.0M1353.0 886.0Q1313.5 931.6 1267.0 970.0M1353.0 886.0Q1311.0 838.4 1262.0 798.0M1267.0 970.0Q1211.4 933.5 1162.0 889.0M1159.0 712.0Q1110.0 755.5 1061.0 799.0M1159.0 712.0Q1210.5 755.0 1262.0 798.0M1262.0 798.0Q1212.0 843.5 1162.0 889.0M1162.0 889.0Q1111.5 844.0 1061.0 799.0" fill="none" stroke="#9c9c9c" stroke-width="17.5" stroke-linecap="round" stroke-linejoin="round"/><path d="M965.0 714.0Q1010.8 670.1 1063.0 634.0M1063.0 634.0Q1114.2 669.1 1159.0 712.0M965.0 714.0Q1009.7 760.2 1061.0 799.0M1256.0 641.0Q1303.6 671.5 1345.0 710.0M1256.0 641.0Q1204.5 672.5 1159.0 712.0M1345.0 710.0Q1307.1 757.4 1262.0 798.0M961.0 901.0Q1008.4 944.0 1062.0 979.0M961.0 901.0Q1007.4 846.5 1061.0 799.0M1062.0 979.0Q1115.3 937.7 1162.0 889.0M1353.0 886.0Q1313.5 931.6 1267.0 970.0M1353.0 886.0Q1311.0 838.4 1262.0 798.0M1267.0 970.0Q1211.4 933.5 1162.0 889.0M1159.0 712.0Q1110.0 755.5 1061.0 799.0M1159.0 712.0Q1210.5 755.0 1262.0 798.0M1262.0 798.0Q1212.0 843.5 1162.0 889.0M1162.0 889.0Q1111.5 844.0 1061.0 799.0" fill="none" stroke="url(#patD)" stroke-opacity="0.79" stroke-width="17.5" stroke-linecap="round" stroke-linejoin="round"/></g>
<g transform="translate(1162 800) scale(0.9194) translate(-1162 -800)"><path d="M965.0 714.0Q1010.8 670.1 1063.0 634.0M1063.0 634.0Q1114.2 669.1 1159.0 712.0M965.0 714.0Q1009.7 760.2 1061.0 799.0M1256.0 641.0Q1303.6 671.5 1345.0 710.0M1256.0 641.0Q1204.5 672.5 1159.0 712.0M1345.0 710.0Q1307.1 757.4 1262.0 798.0M961.0 901.0Q1008.4 944.0 1062.0 979.0M961.0 901.0Q1007.4 846.5 1061.0 799.0M1062.0 979.0Q1115.3 937.7 1162.0 889.0M1353.0 886.0Q1313.5 931.6 1267.0 970.0M1353.0 886.0Q1311.0 838.4 1262.0 798.0M1267.0 970.0Q1211.4 933.5 1162.0 889.0M1159.0 712.0Q1110.0 755.5 1061.0 799.0M1159.0 712.0Q1210.5 755.0 1262.0 798.0M1262.0 798.0Q1212.0 843.5 1162.0 889.0M1162.0 889.0Q1111.5 844.0 1061.0 799.0" fill="none" stroke="#999999" stroke-width="17.5" stroke-linecap="round" stroke-linejoin="round"/><path d="M965.0 714.0Q1010.8 670.1 1063.0 634.0M1063.0 634.0Q1114.2 669.1 1159.0 712.0M965.0 714.0Q1009.7 760.2 1061.0 799.0M1256.0 641.0Q1303.6 671.5 1345.0 710.0M1256.0 641.0Q1204.5 672.5 1159.0 712.0M1345.0 710.0Q1307.1 757.4 1262.0 798.0M961.0 901.0Q1008.4 944.0 1062.0 979.0M961.0 901.0Q1007.4 846.5 1061.0 799.0M1062.0 979.0Q1115.3 937.7 1162.0 889.0M1353.0 886.0Q1313.5 931.6 1267.0 970.0M1353.0 886.0Q1311.0 838.4 1262.0 798.0M1267.0 970.0Q1211.4 933.5 1162.0 889.0M1159.0 712.0Q1110.0 755.5 1061.0 799.0M1159.0 712.0Q1210.5 755.0 1262.0 798.0M1262.0 798.0Q1212.0 843.5 1162.0 889.0M1162.0 889.0Q1111.5 844.0 1061.0 799.0" fill="none" stroke="url(#patD)" stroke-opacity="0.80" stroke-width="17.5" stroke-linecap="round" stroke-linejoin="round"/></g>
<g transform="translate(1162 800) scale(0.9331) translate(-1162 -800)"><path d="M965.0 714.0Q1010.8 670.1 1063.0 634.0M1063.0 634.0Q1114.2 669.1 1159.0 712.0M965.0 714.0Q1009.7 760.2 1061.0 799.0M1256.0 641.0Q1303.6 671.5 1345.0 710.0M1256.0 641.0Q1204.5 672.5 1159.0 712.0M1345.0 710.0Q1307.1 757.4 1262.0 798.0M961.0 901.0Q1008.4 944.0 1062.0 979.0M961.0 901.0Q1007.4 846.5 1061.0 799.0M1062.0 979.0Q1115.3 937.7 1162.0 889.0M1353.0 886.0Q1313.5 931.6 1267.0 970.0M1353.0 886.0Q1311.0 838.4 1262.0 798.0M1267.0 970.0Q1211.4 933.5 1162.0 889.0M1159.0 712.0Q1110.0 755.5 1061.0 799.0M1159.0 712.0Q1210.5 755.0 1262.0 798.0M1262.0 798.0Q1212.0 843.5 1162.0 889.0M1162.0 889.0Q1111.5 844.0 1061.0 799.0" fill="none" stroke="#959595" stroke-width="17.5" stroke-linecap="round" stroke-linejoin="round"/><path d="M965.0 714.0Q1010.8 670.1 1063.0 634.0M1063.0 634.0Q1114.2 669.1 1159.0 712.0M965.0 714.0Q1009.7 760.2 1061.0 799.0M1256.0 641.0Q1303.6 671.5 1345.0 710.0M1256.0 641.0Q1204.5 672.5 1159.0 712.0M1345.0 710.0Q1307.1 757.4 1262.0 798.0M961.0 901.0Q1008.4 944.0 1062.0 979.0M961.0 901.0Q1007.4 846.5 1061.0 799.0M1062.0 979.0Q1115.3 937.7 1162.0 889.0M1353.0 886.0Q1313.5 931.6 1267.0 970.0M1353.0 886.0Q1311.0 838.4 1262.0 798.0M1267.0 970.0Q1211.4 933.5 1162.0 889.0M1159.0 712.0Q1110.0 755.5 1061.0 799.0M1159.0 712.0Q1210.5 755.0 1262.0 798.0M1262.0 798.0Q1212.0 843.5 1162.0 889.0M1162.0 889.0Q1111.5 844.0 1061.0 799.0" fill="none" stroke="url(#patD)" stroke-opacity="0.82" stroke-width="17.5" stroke-linecap="round" stroke-linejoin="round"/></g>
<g transform="translate(1162 800) scale(0.9469) translate(-1162 -800)"><path d="M965.0 714.0Q1010.8 670.1 1063.0 634.0M1063.0 634.0Q1114.2 669.1 1159.0 712.0M965.0 714.0Q1009.7 760.2 1061.0 799.0M1256.0 641.0Q1303.6 671.5 1345.0 710.0M1256.0 641.0Q1204.5 672.5 1159.0 712.0M1345.0 710.0Q1307.1 757.4 1262.0 798.0M961.0 901.0Q1008.4 944.0 1062.0 979.0M961.0 901.0Q1007.4 846.5 1061.0 799.0M1062.0 979.0Q1115.3 937.7 1162.0 889.0M1353.0 886.0Q1313.5 931.6 1267.0 970.0M1353.0 886.0Q1311.0 838.4 1262.0 798.0M1267.0 970.0Q1211.4 933.5 1162.0 889.0M1159.0 712.0Q1110.0 755.5 1061.0 799.0M1159.0 712.0Q1210.5 755.0 1262.0 798.0M1262.0 798.0Q1212.0 843.5 1162.0 889.0M1162.0 889.0Q1111.5 844.0 1061.0 799.0" fill="none" stroke="#929292" stroke-width="17.5" stroke-linecap="round" stroke-linejoin="round"/><path d="M965.0 714.0Q1010.8 670.1 1063.0 634.0M1063.0 634.0Q1114.2 669.1 1159.0 712.0M965.0 714.0Q1009.7 760.2 1061.0 799.0M1256.0 641.0Q1303.6 671.5 1345.0 710.0M1256.0 641.0Q1204.5 672.5 1159.0 712.0M1345.0 710.0Q1307.1 757.4 1262.0 798.0M961.0 901.0Q1008.4 944.0 1062.0 979.0M961.0 901.0Q1007.4 846.5 1061.0 799.0M1062.0 979.0Q1115.3 937.7 1162.0 889.0M1353.0 886.0Q1313.5 931.6 1267.0 970.0M1353.0 886.0Q1311.0 838.4 1262.0 798.0M1267.0 970.0Q1211.4 933.5 1162.0 889.0M1159.0 712.0Q1110.0 755.5 1061.0 799.0M1159.0 712.0Q1210.5 755.0 1262.0 798.0M1262.0 798.0Q1212.0 843.5 1162.0 889.0M1162.0 889.0Q1111.5 844.0 1061.0 799.0" fill="none" stroke="url(#patD)" stroke-opacity="0.84" stroke-width="17.5" stroke-linecap="round" stroke-linejoin="round"/></g>
<g transform="translate(1162 800) scale(0.9606) translate(-1162 -800)"><path d="M965.0 714.0Q1010.8 670.1 1063.0 634.0M1063.0 634.0Q1114.2 669.1 1159.0 712.0M965.0 714.0Q1009.7 760.2 1061.0 799.0M1256.0 641.0Q1303.6 671.5 1345.0 710.0M1256.0 641.0Q1204.5 672.5 1159.0 712.0M1345.0 710.0Q1307.1 757.4 1262.0 798.0M961.0 901.0Q1008.4 944.0 1062.0 979.0M961.0 901.0Q1007.4 846.5 1061.0 799.0M1062.0 979.0Q1115.3 937.7 1162.0 889.0M1353.0 886.0Q1313.5 931.6 1267.0 970.0M1353.0 886.0Q1311.0 838.4 1262.0 798.0M1267.0 970.0Q1211.4 933.5 1162.0 889.0M1159.0 712.0Q1110.0 755.5 1061.0 799.0M1159.0 712.0Q1210.5 755.0 1262.0 798.0M1262.0 798.0Q1212.0 843.5 1162.0 889.0M1162.0 889.0Q1111.5 844.0 1061.0 799.0" fill="none" stroke="#8e8e8e" stroke-width="17.5" stroke-linecap="round" stroke-linejoin="round"/><path d="M965.0 714.0Q1010.8 670.1 1063.0 634.0M1063.0 634.0Q1114.2 669.1 1159.0 712.0M965.0 714.0Q1009.7 760.2 1061.0 799.0M1256.0 641.0Q1303.6 671.5 1345.0 710.0M1256.0 641.0Q1204.5 672.5 1159.0 712.0M1345.0 710.0Q1307.1 757.4 1262.0 798.0M961.0 901.0Q1008.4 944.0 1062.0 979.0M961.0 901.0Q1007.4 846.5 1061.0 799.0M1062.0 979.0Q1115.3 937.7 1162.0 889.0M1353.0 886.0Q1313.5 931.6 1267.0 970.0M1353.0 886.0Q1311.0 838.4 1262.0 798.0M1267.0 970.0Q1211.4 933.5 1162.0 889.0M1159.0 712.0Q1110.0 755.5 1061.0 799.0M1159.0 712.0Q1210.5 755.0 1262.0 798.0M1262.0 798.0Q1212.0 843.5 1162.0 889.0M1162.0 889.0Q1111.5 844.0 1061.0 799.0" fill="none" stroke="url(#patD)" stroke-opacity="0.86" stroke-width="17.5" stroke-linecap="round" stroke-linejoin="round"/></g>
<g transform="translate(1162 800) scale(0.9743) translate(-1162 -800)"><path d="M965.0 714.0Q1010.8 670.1 1063.0 634.0M1063.0 634.0Q1114.2 669.1 1159.0 712.0M965.0 714.0Q1009.7 760.2 1061.0 799.0M1256.0 641.0Q1303.6 671.5 1345.0 710.0M1256.0 641.0Q1204.5 672.5 1159.0 712.0M1345.0 710.0Q1307.1 757.4 1262.0 798.0M961.0 901.0Q1008.4 944.0 1062.0 979.0M961.0 901.0Q1007.4 846.5 1061.0 799.0M1062.0 979.0Q1115.3 937.7 1162.0 889.0M1353.0 886.0Q1313.5 931.6 1267.0 970.0M1353.0 886.0Q1311.0 838.4 1262.0 798.0M1267.0 970.0Q1211.4 933.5 1162.0 889.0M1159.0 712.0Q1110.0 755.5 1061.0 799.0M1159.0 712.0Q1210.5 755.0 1262.0 798.0M1262.0 798.0Q1212.0 843.5 1162.0 889.0M1162.0 889.0Q1111.5 844.0 1061.0 799.0" fill="none" stroke="#8b8b8b" stroke-width="17.5" stroke-linecap="round" stroke-linejoin="round"/><path d="M965.0 714.0Q1010.8 670.1 1063.0 634.0M1063.0 634.0Q1114.2 669.1 1159.0 712.0M965.0 714.0Q1009.7 760.2 1061.0 799.0M1256.0 641.0Q1303.6 671.5 1345.0 710.0M1256.0 641.0Q1204.5 672.5 1159.0 712.0M1345.0 710.0Q1307.1 757.4 1262.0 798.0M961.0 901.0Q1008.4 944.0 1062.0 979.0M961.0 901.0Q1007.4 846.5 1061.0 799.0M1062.0 979.0Q1115.3 937.7 1162.0 889.0M1353.0 886.0Q1313.5 931.6 1267.0 970.0M1353.0 886.0Q1311.0 838.4 1262.0 798.0M1267.0 970.0Q1211.4 933.5 1162.0 889.0M1159.0 712.0Q1110.0 755.5 1061.0 799.0M1159.0 712.0Q1210.5 755.0 1262.0 798.0M1262.0 798.0Q1212.0 843.5 1162.0 889.0M1162.0 889.0Q1111.5 844.0 1061.0 799.0" fill="none" stroke="url(#patD)" stroke-opacity="0.88" stroke-width="17.5" stroke-linecap="round" stroke-linejoin="round"/></g>
<g transform="translate(1162 800) scale(0.9880) translate(-1162 -800)"><path d="M965.0 714.0Q1010.8 670.1 1063.0 634.0M1063.0 634.0Q1114.2 669.1 1159.0 712.0M965.0 714.0Q1009.7 760.2 1061.0 799.0M1256.0 641.0Q1303.6 671.5 1345.0 710.0M1256.0 641.0Q1204.5 672.5 1159.0 712.0M1345.0 710.0Q1307.1 757.4 1262.0 798.0M961.0 901.0Q1008.4 944.0 1062.0 979.0M961.0 901.0Q1007.4 846.5 1061.0 799.0M1062.0 979.0Q1115.3 937.7 1162.0 889.0M1353.0 886.0Q1313.5 931.6 1267.0 970.0M1353.0 886.0Q1311.0 838.4 1262.0 798.0M1267.0 970.0Q1211.4 933.5 1162.0 889.0M1159.0 712.0Q1110.0 755.5 1061.0 799.0M1159.0 712.0Q1210.5 755.0 1262.0 798.0M1262.0 798.0Q1212.0 843.5 1162.0 889.0M1162.0 889.0Q1111.5 844.0 1061.0 799.0" fill="none" stroke="#888888" stroke-width="17.5" stroke-linecap="round" stroke-linejoin="round"/><path d="M965.0 714.0Q1010.8 670.1 1063.0 634.0M1063.0 634.0Q1114.2 669.1 1159.0 712.0M965.0 714.0Q1009.7 760.2 1061.0 799.0M1256.0 641.0Q1303.6 671.5 1345.0 710.0M1256.0 641.0Q1204.5 672.5 1159.0 712.0M1345.0 710.0Q1307.1 757.4 1262.0 798.0M961.0 901.0Q1008.4 944.0 1062.0 979.0M961.0 901.0Q1007.4 846.5 1061.0 799.0M1062.0 979.0Q1115.3 937.7 1162.0 889.0M1353.0 886.0Q1313.5 931.6 1267.0 970.0M1353.0 886.0Q1311.0 838.4 1262.0 798.0M1267.0 970.0Q1211.4 933.5 1162.0 889.0M1159.0 712.0Q1110.0 755.5 1061.0 799.0M1159.0 712.0Q1210.5 755.0 1262.0 798.0M1262.0 798.0Q1212.0 843.5 1162.0 889.0M1162.0 889.0Q1111.5 844.0 1061.0 799.0" fill="none" stroke="url(#patD)" stroke-opacity="0.90" stroke-width="17.5" stroke-linecap="round" stroke-linejoin="round"/></g>
<g stroke-linecap="round"><path d="M984.0 697.3L1012.5 713.7" stroke="#3a3aff" stroke-opacity="0.4" stroke-width="2.6"/><path d="M1039.2 644.9L1058.9 669.7" stroke="#3a3aff" stroke-opacity="0.4" stroke-width="2.6"/><path d="M1015.1 671.4L1038.6 692.0" stroke="#9ee6e6" stroke-opacity="0.5" stroke-width="3"/><path d="M1008.7 673.9L1033.3 694.1" stroke="#9ee6e6" stroke-opacity="0.5" stroke-width="3"/><path d="M1003.9 685.3L1029.2 703.7" stroke="#9ee6e6" stroke-opacity="0.5" stroke-width="3"/><path d="M1084.0 647.4L1096.5 671.8" stroke="#3a3aff" stroke-opacity="0.4" stroke-width="2.6"/><path d="M1141.9 693.9L1145.1 710.8" stroke="#3a3aff" stroke-opacity="0.4" stroke-width="2.6"/><path d="M1115.3 677.2L1122.8 696.9" stroke="#9ee6e6" stroke-opacity="0.5" stroke-width="3"/><path d="M1096.8 661.8L1107.2 683.9" stroke="#9ee6e6" stroke-opacity="0.5" stroke-width="3"/><path d="M1095.3 667.6L1106.0 688.8" stroke="#9ee6e6" stroke-opacity="0.5" stroke-width="3"/><path d="M980.9 734.7L1009.9 745.2" stroke="#3a3aff" stroke-opacity="0.4" stroke-width="2.6"/><path d="M1041.9 781.9L1061.1 784.8" stroke="#3a3aff" stroke-opacity="0.4" stroke-width="2.6"/><path d="M1031.9 762.0L1052.7 768.1" stroke="#9ee6e6" stroke-opacity="0.5" stroke-width="3"/><path d="M1019.0 750.2L1041.9 758.1" stroke="#9ee6e6" stroke-opacity="0.5" stroke-width="3"/><path d="M1015.6 748.0L1039.0 756.3" stroke="#9ee6e6" stroke-opacity="0.5" stroke-width="3"/><path d="M1277.0 650.7L1258.6 674.6" stroke="#3a3aff" stroke-opacity="0.4" stroke-width="2.6"/><path d="M1326.4 697.3L1300.1 713.7" stroke="#3a3aff" stroke-opacity="0.4" stroke-width="2.6"/><path d="M1295.6 661.7L1274.2 683.8" stroke="#9ee6e6" stroke-opacity="0.5" stroke-width="3"/><path d="M1292.4 665.4L1271.5 686.9" stroke="#9ee6e6" stroke-opacity="0.5" stroke-width="3"/><path d="M1303.0 669.9L1280.4 690.7" stroke="#9ee6e6" stroke-opacity="0.5" stroke-width="3"/><path d="M1235.4 653.6L1223.7 677.0" stroke="#3a3aff" stroke-opacity="0.4" stroke-width="2.6"/><path d="M1178.5 698.0L1175.9 714.3" stroke="#3a3aff" stroke-opacity="0.4" stroke-width="2.6"/><path d="M1208.6 678.5L1201.2 697.9" stroke="#9ee6e6" stroke-opacity="0.5" stroke-width="3"/><path d="M1195.2 683.5L1189.9 702.2" stroke="#9ee6e6" stroke-opacity="0.5" stroke-width="3"/><path d="M1218.2 663.7L1209.2 685.5" stroke="#9ee6e6" stroke-opacity="0.5" stroke-width="3"/><path d="M1323.7 723.1L1297.8 735.4" stroke="#3a3aff" stroke-opacity="0.4" stroke-width="2.6"/><path d="M1278.6 780.4L1259.9 783.5" stroke="#3a3aff" stroke-opacity="0.4" stroke-width="2.6"/><path d="M1292.9 769.9L1271.9 774.7" stroke="#9ee6e6" stroke-opacity="0.5" stroke-width="3"/><path d="M1302.3 757.4L1279.9 764.2" stroke="#9ee6e6" stroke-opacity="0.5" stroke-width="3"/><path d="M1301.6 748.0L1279.2 756.3" stroke="#9ee6e6" stroke-opacity="0.5" stroke-width="3"/><path d="M980.9 917.0L1009.9 898.3" stroke="#3a3aff" stroke-opacity="0.4" stroke-width="2.6"/><path d="M1037.9 968.4L1057.8 941.5" stroke="#3a3aff" stroke-opacity="0.4" stroke-width="2.6"/><path d="M1018.4 934.8L1041.4 913.2" stroke="#9ee6e6" stroke-opacity="0.5" stroke-width="3"/><path d="M1001.8 941.4L1027.4 918.8" stroke="#9ee6e6" stroke-opacity="0.5" stroke-width="3"/><path d="M1013.5 929.6L1037.3 908.9" stroke="#9ee6e6" stroke-opacity="0.5" stroke-width="3"/><path d="M978.5 878.1L1007.8 865.6" stroke="#3a3aff" stroke-opacity="0.4" stroke-width="2.6"/><path d="M1036.7 815.2L1056.7 812.7" stroke="#3a3aff" stroke-opacity="0.4" stroke-width="2.6"/><path d="M1037.5 836.4L1057.4 830.6" stroke="#9ee6e6" stroke-opacity="0.5" stroke-width="3"/><path d="M1024.5 839.2L1046.5 832.9" stroke="#9ee6e6" stroke-opacity="0.5" stroke-width="3"/><path d="M1016.9 834.6L1040.1 829.0" stroke="#9ee6e6" stroke-opacity="0.5" stroke-width="3"/><path d="M1080.1 958.8L1093.2 933.4" stroke="#3a3aff" stroke-opacity="0.4" stroke-width="2.6"/><path d="M1142.2 907.3L1145.4 890.1" stroke="#3a3aff" stroke-opacity="0.4" stroke-width="2.6"/><path d="M1100.2 932.4L1110.1 911.2" stroke="#9ee6e6" stroke-opacity="0.5" stroke-width="3"/><path d="M1130.5 915.7L1135.6 897.2" stroke="#9ee6e6" stroke-opacity="0.5" stroke-width="3"/><path d="M1109.8 931.2L1118.2 910.2" stroke="#9ee6e6" stroke-opacity="0.5" stroke-width="3"/><path d="M1338.2 905.2L1310.0 888.4" stroke="#3a3aff" stroke-opacity="0.4" stroke-width="2.6"/><path d="M1285.3 954.3L1265.6 929.6" stroke="#3a3aff" stroke-opacity="0.4" stroke-width="2.6"/><path d="M1295.3 935.8L1273.9 914.0" stroke="#9ee6e6" stroke-opacity="0.5" stroke-width="3"/><path d="M1321.0 930.9L1295.5 910.0" stroke="#9ee6e6" stroke-opacity="0.5" stroke-width="3"/><path d="M1303.0 941.3L1280.4 918.7" stroke="#9ee6e6" stroke-opacity="0.5" stroke-width="3"/><path d="M1335.6 867.6L1307.8 856.8" stroke="#3a3aff" stroke-opacity="0.4" stroke-width="2.6"/><path d="M1275.6 820.4L1257.4 817.1" stroke="#3a3aff" stroke-opacity="0.4" stroke-width="2.6"/><path d="M1300.0 837.9L1277.9 831.8" stroke="#9ee6e6" stroke-opacity="0.5" stroke-width="3"/><path d="M1306.4 843.3L1283.3 836.4" stroke="#9ee6e6" stroke-opacity="0.5" stroke-width="3"/><path d="M1313.6 846.5L1289.4 839.1" stroke="#9ee6e6" stroke-opacity="0.5" stroke-width="3"/><path d="M1250.0 948.6L1236.0 924.8" stroke="#3a3aff" stroke-opacity="0.4" stroke-width="2.6"/><path d="M1179.7 909.5L1176.9 892.0" stroke="#3a3aff" stroke-opacity="0.4" stroke-width="2.6"/><path d="M1216.7 942.8L1208.0 920.0" stroke="#9ee6e6" stroke-opacity="0.5" stroke-width="3"/><path d="M1206.4 919.3L1199.3 900.2" stroke="#9ee6e6" stroke-opacity="0.5" stroke-width="3"/><path d="M1225.5 940.1L1215.3 917.7" stroke="#9ee6e6" stroke-opacity="0.5" stroke-width="3"/><path d="M1138.1 727.9L1141.9 739.4" stroke="#3a3aff" stroke-opacity="0.4" stroke-width="2.6"/><path d="M1079.1 779.9L1092.4 783.1" stroke="#3a3aff" stroke-opacity="0.4" stroke-width="2.6"/><path d="M1117.8 738.3L1124.9 748.2" stroke="#9ee6e6" stroke-opacity="0.5" stroke-width="3"/><path d="M1104.0 770.6L1113.2 775.3" stroke="#9ee6e6" stroke-opacity="0.5" stroke-width="3"/><path d="M1092.2 764.6L1103.4 770.3" stroke="#9ee6e6" stroke-opacity="0.5" stroke-width="3"/><path d="M1176.9 732.4L1174.5 743.2" stroke="#3a3aff" stroke-opacity="0.4" stroke-width="2.6"/><path d="M1241.0 781.3L1228.4 784.3" stroke="#3a3aff" stroke-opacity="0.4" stroke-width="2.6"/><path d="M1193.6 751.8L1188.6 759.5" stroke="#9ee6e6" stroke-opacity="0.5" stroke-width="3"/><path d="M1216.3 755.8L1207.6 762.9" stroke="#9ee6e6" stroke-opacity="0.5" stroke-width="3"/><path d="M1195.5 753.2L1190.1 760.7" stroke="#9ee6e6" stroke-opacity="0.5" stroke-width="3"/><path d="M1242.8 817.0L1229.8 814.3" stroke="#3a3aff" stroke-opacity="0.4" stroke-width="2.6"/><path d="M1181.6 870.4L1178.5 859.1" stroke="#3a3aff" stroke-opacity="0.4" stroke-width="2.6"/><path d="M1203.3 842.6L1196.7 835.8" stroke="#9ee6e6" stroke-opacity="0.5" stroke-width="3"/><path d="M1211.4 852.8L1203.5 844.3" stroke="#9ee6e6" stroke-opacity="0.5" stroke-width="3"/><path d="M1208.5 847.0L1201.1 839.5" stroke="#9ee6e6" stroke-opacity="0.5" stroke-width="3"/><path d="M1142.2 870.5L1145.4 859.2" stroke="#3a3aff" stroke-opacity="0.4" stroke-width="2.6"/><path d="M1083.1 814.9L1095.7 812.5" stroke="#3a3aff" stroke-opacity="0.4" stroke-width="2.6"/><path d="M1117.6 857.8L1124.7 848.6" stroke="#9ee6e6" stroke-opacity="0.5" stroke-width="3"/><path d="M1124.2 861.4L1130.3 851.6" stroke="#9ee6e6" stroke-opacity="0.5" stroke-width="3"/><path d="M1133.0 859.7L1137.6 850.1" stroke="#9ee6e6" stroke-opacity="0.5" stroke-width="3"/></g><path d="M1009.0 708.9L1016.3 703.0L1042.7 703.0L1061.7 676.6L1079.3 673.7L1094.0 683.9L1116.0 700.0L1135.0 706.0L1142.4 717.7L1119.0 741.1L1101.3 751.4L1079.3 770.5L1069.0 773.4L1054.4 761.7L1035.3 750.0L1016.3 736.7L1009.0 726.5ZM1179.3 711.8L1194.0 697.1L1201.3 703.0L1223.3 685.4L1227.7 676.6L1241.0 678.0L1252.7 688.3L1274.7 700.0L1290.8 708.9L1293.7 726.5L1296.7 741.1L1279.0 750.0L1264.4 758.7L1245.3 773.4L1232.1 764.6L1216.0 752.9L1194.0 738.2L1182.3 726.5ZM1095.3 788.5L1108.0 780.9L1124.5 774.6L1138.4 759.4L1148.5 745.5L1156.1 742.9L1168.8 750.5L1180.2 760.7L1194.1 768.3L1214.4 780.9L1222.0 791.1L1220.7 801.2L1209.3 812.6L1190.3 824.0L1173.9 836.7L1165.0 844.3L1158.7 844.3L1142.2 831.6L1127.0 824.0L1108.0 813.9L1095.3 806.3L1091.5 797.4ZM1009.0 876.5L1022.1 863.3L1045.6 848.7L1057.3 834.0L1064.7 823.7L1080.8 825.2L1094.0 841.3L1116.0 851.6L1136.5 872.1L1135.0 889.7L1120.4 895.6L1095.5 910.3L1075.0 925.0L1060.3 919.0L1035.3 901.5L1013.3 889.7ZM1182.3 880.9L1194.0 869.2L1208.7 860.4L1226.3 851.6L1232.1 834.0L1245.3 828.1L1260.0 826.7L1274.7 834.0L1296.7 848.7L1304.0 863.3L1304.0 872.1L1289.3 883.9L1274.7 892.7L1260.0 911.7L1245.3 922.0L1232.1 911.7L1216.0 898.5L1194.0 889.7Z" fill="#fff" stroke="#fff" stroke-width="1.5" stroke-linejoin="round"/>
<path d="M965.0 714.0Q1010.8 670.1 1063.0 634.0M1063.0 634.0Q1114.2 669.1 1159.0 712.0M965.0 714.0Q1009.7 760.2 1061.0 799.0M1256.0 641.0Q1303.6 671.5 1345.0 710.0M1256.0 641.0Q1204.5 672.5 1159.0 712.0M1345.0 710.0Q1307.1 757.4 1262.0 798.0M961.0 901.0Q1008.4 944.0 1062.0 979.0M961.0 901.0Q1007.4 846.5 1061.0 799.0M1062.0 979.0Q1115.3 937.7 1162.0 889.0M1353.0 886.0Q1313.5 931.6 1267.0 970.0M1353.0 886.0Q1311.0 838.4 1262.0 798.0M1267.0 970.0Q1211.4 933.5 1162.0 889.0M1159.0 712.0Q1110.0 755.5 1061.0 799.0M1159.0 712.0Q1210.5 755.0 1262.0 798.0M1262.0 798.0Q1212.0 843.5 1162.0 889.0M1162.0 889.0Q1111.5 844.0 1061.0 799.0" fill="none" stroke="url(#patH)" stroke-width="23.5" stroke-linecap="round" stroke-linejoin="round"/>
<path d="M965.0 714.0Q1010.8 670.1 1063.0 634.0M1063.0 634.0Q1114.2 669.1 1159.0 712.0M965.0 714.0Q1009.7 760.2 1061.0 799.0M1256.0 641.0Q1303.6 671.5 1345.0 710.0M1256.0 641.0Q1204.5 672.5 1159.0 712.0M1345.0 710.0Q1307.1 757.4 1262.0 798.0M961.0 901.0Q1008.4 944.0 1062.0 979.0M961.0 901.0Q1007.4 846.5 1061.0 799.0M1062.0 979.0Q1115.3 937.7 1162.0 889.0M1353.0 886.0Q1313.5 931.6 1267.0 970.0M1353.0 886.0Q1311.0 838.4 1262.0 798.0M1267.0 970.0Q1211.4 933.5 1162.0 889.0M1159.0 712.0Q1110.0 755.5 1061.0 799.0M1159.0 712.0Q1210.5 755.0 1262.0 798.0M1262.0 798.0Q1212.0 843.5 1162.0 889.0M1162.0 889.0Q1111.5 844.0 1061.0 799.0" fill="none" stroke="url(#patC)" stroke-width="15.5" stroke-linecap="round" stroke-linejoin="round"/>
<circle cx="1159" cy="712" r="11.2" fill="url(#patC)"/>
<circle cx="1061" cy="799" r="11.2" fill="url(#patC)"/>
<circle cx="1262" cy="798" r="11.2" fill="url(#patC)"/>
<circle cx="1162" cy="889" r="11.2" fill="url(#patC)"/>
<circle cx="1063" cy="634" r="9.3" fill="url(#patC)"/>
<circle cx="965" cy="714" r="9.3" fill="url(#patC)"/>
<circle cx="1256" cy="641" r="9.3" fill="url(#patC)"/>
<circle cx="1345" cy="710" r="9.3" fill="url(#patC)"/>
<circle cx="961" cy="901" r="9.3" fill="url(#patC)"/>
<circle cx="1062" cy="979" r="9.3" fill="url(#patC)"/>
<circle cx="1353" cy="886" r="9.3" fill="url(#patC)"/>
<circle cx="1267" cy="970" r="9.3" fill="url(#patC)"/>
<circle cx="984.0" cy="697.3" r="3.3" fill="url(#nball)"/><circle cx="1039.2" cy="644.9" r="3.3" fill="url(#nball)"/><circle cx="1015.1" cy="671.4" r="3.0" fill="url(#fball)"/><circle cx="1008.7" cy="673.9" r="3.0" fill="url(#fball)"/><circle cx="1003.9" cy="685.3" r="3.0" fill="url(#fball)"/><circle cx="1084.0" cy="647.4" r="3.3" fill="url(#nball)"/><circle cx="1141.9" cy="693.9" r="3.3" fill="url(#nball)"/><circle cx="1115.3" cy="677.2" r="3.0" fill="url(#fball)"/><circle cx="1096.8" cy="661.8" r="3.0" fill="url(#fball)"/><circle cx="1095.3" cy="667.6" r="3.0" fill="url(#fball)"/><circle cx="980.9" cy="734.7" r="3.3" fill="url(#nball)"/><circle cx="1041.9" cy="781.9" r="3.3" fill="url(#nball)"/><circle cx="1031.9" cy="762.0" r="3.0" fill="url(#fball)"/><circle cx="1019.0" cy="750.2" r="3.0" fill="url(#fball)"/><circle cx="1015.6" cy="748.0" r="3.0" fill="url(#fball)"/><circle cx="1277.0" cy="650.7" r="3.3" fill="url(#nball)"/><circle cx="1326.4" cy="697.3" r="3.3" fill="url(#nball)"/><circle cx="1295.6" cy="661.7" r="3.0" fill="url(#fball)"/><circle cx="1292.4" cy="665.4" r="3.0" fill="url(#fball)"/><circle cx="1303.0" cy="669.9" r="3.0" fill="url(#fball)"/><circle cx="1235.4" cy="653.6" r="3.3" fill="url(#nball)"/><circle cx="1178.5" cy="698.0" r="3.3" fill="url(#nball)"/><circle cx="1208.6" cy="678.5" r="3.0" fill="url(#fball)"/><circle cx="1195.2" cy="683.5" r="3.0" fill="url(#fball)"/><circle cx="1218.2" cy="663.7" r="3.0" fill="url(#fball)"/><circle cx="1323.7" cy="723.1" r="3.3" fill="url(#nball)"/><circle cx="1278.6" cy="780.4" r="3.3" fill="url(#nball)"/><circle cx="1292.9" cy="769.9" r="3.0" fill="url(#fball)"/><circle cx="1302.3" cy="757.4" r="3.0" fill="url(#fball)"/><circle cx="1301.6" cy="748.0" r="3.0" fill="url(#fball)"/><circle cx="980.9" cy="917.0" r="3.3" fill="url(#nball)"/><circle cx="1037.9" cy="968.4" r="3.3" fill="url(#nball)"/><circle cx="1018.4" cy="934.8" r="3.0" fill="url(#fball)"/><circle cx="1001.8" cy="941.4" r="3.0" fill="url(#fball)"/><circle cx="1013.5" cy="929.6" r="3.0" fill="url(#fball)"/><circle cx="978.5" cy="878.1" r="3.3" fill="url(#nball)"/><circle cx="1036.7" cy="815.2" r="3.3" fill="url(#nball)"/><circle cx="1037.5" cy="836.4" r="3.0" fill="url(#fball)"/><circle cx="1024.5" cy="839.2" r="3.0" fill="url(#fball)"/><circle cx="1016.9" cy="834.6" r="3.0" fill="url(#fball)"/><circle cx="1080.1" cy="958.8" r="3.3" fill="url(#nball)"/><circle cx="1142.2" cy="907.3" r="3.3" fill="url(#nball)"/><circle cx="1100.2" cy="932.4" r="3.0" fill="url(#fball)"/><circle cx="1130.5" cy="915.7" r="3.0" fill="url(#fball)"/><circle cx="1109.8" cy="931.2" r="3.0" fill="url(#fball)"/><circle cx="1338.2" cy="905.2" r="3.3" fill="url(#nball)"/><circle cx="1285.3" cy="954.3" r="3.3" fill="url(#nball)"/><circle cx="1295.3" cy="935.8" r="3.0" fill="url(#fball)"/><circle cx="1321.0" cy="930.9" r="3.0" fill="url(#fball)"/><circle cx="1303.0" cy="941.3" r="3.0" fill="url(#fball)"/><circle cx="1335.6" cy="867.6" r="3.3" fill="url(#nball)"/><circle cx="1275.6" cy="820.4" r="3.3" fill="url(#nball)"/><circle cx="1300.0" cy="837.9" r="3.0" fill="url(#fball)"/><circle cx="1306.4" cy="843.3" r="3.0" fill="url(#fball)"/><circle cx="1313.6" cy="846.5" r="3.0" fill="url(#fball)"/><circle cx="1250.0" cy="948.6" r="3.3" fill="url(#nball)"/><circle cx="1179.7" cy="909.5" r="3.3" fill="url(#nball)"/><circle cx="1216.7" cy="942.8" r="3.0" fill="url(#fball)"/><circle cx="1206.4" cy="919.3" r="3.0" fill="url(#fball)"/><circle cx="1225.5" cy="940.1" r="3.0" fill="url(#fball)"/><circle cx="1138.1" cy="727.9" r="3.3" fill="url(#nball)"/><circle cx="1079.1" cy="779.9" r="3.3" fill="url(#nball)"/><circle cx="1117.8" cy="738.3" r="3.0" fill="url(#fball)"/><circle cx="1104.0" cy="770.6" r="3.0" fill="url(#fball)"/><circle cx="1092.2" cy="764.6" r="3.0" fill="url(#fball)"/><circle cx="1176.9" cy="732.4" r="3.3" fill="url(#nball)"/><circle cx="1241.0" cy="781.3" r="3.3" fill="url(#nball)"/><circle cx="1193.6" cy="751.8" r="3.0" fill="url(#fball)"/><circle cx="1216.3" cy="755.8" r="3.0" fill="url(#fball)"/><circle cx="1195.5" cy="753.2" r="3.0" fill="url(#fball)"/><circle cx="1242.8" cy="817.0" r="3.3" fill="url(#nball)"/><circle cx="1181.6" cy="870.4" r="3.3" fill="url(#nball)"/><circle cx="1203.3" cy="842.6" r="3.0" fill="url(#fball)"/><circle cx="1211.4" cy="852.8" r="3.0" fill="url(#fball)"/><circle cx="1208.5" cy="847.0" r="3.0" fill="url(#fball)"/><circle cx="1142.2" cy="870.5" r="3.3" fill="url(#nball)"/><circle cx="1083.1" cy="814.9" r="3.3" fill="url(#nball)"/><circle cx="1117.6" cy="857.8" r="3.0" fill="url(#fball)"/><circle cx="1124.2" cy="861.4" r="3.0" fill="url(#fball)"/><circle cx="1133.0" cy="859.7" r="3.0" fill="url(#fball)"/>
<path d="M1107.0 1030.0L1113.0 1035.5L1107.0 1041.0L1113.0 1046.5L1107.0 1052.0L1113.0 1057.5L1107.0 1063.0L1113.0 1068.5L1107.0 1074.0L1113.0 1079.5L1107.0 1085.0L1113.0 1090.5L1107.0 1096.0L1113.0 1101.5L1107.0 1107.0L1113.0 1112.5L1107.0 1118.0L1113.0 1123.5L1107.0 1129.0L1113.0 1134.5L1107.0 1140.0L1113.0 1145.5L1107.0 1151.0M1119.0 1030.0L1125.0 1035.5L1119.0 1041.0L1125.0 1046.5L1119.0 1052.0L1125.0 1057.5L1119.0 1063.0L1125.0 1068.5L1119.0 1074.0L1125.0 1079.5L1119.0 1085.0L1125.0 1090.5L1119.0 1096.0L1125.0 1101.5L1119.0 1107.0L1125.0 1112.5L1119.0 1118.0L1125.0 1123.5L1119.0 1129.0L1125.0 1134.5L1119.0 1140.0L1125.0 1145.5L1119.0 1151.0M1185.0 1030.0L1191.0 1035.5L1185.0 1041.0L1191.0 1046.5L1185.0 1052.0L1191.0 1057.5L1185.0 1063.0L1191.0 1068.5L1185.0 1074.0L1191.0 1079.5L1185.0 1085.0L1191.0 1090.5L1185.0 1096.0L1191.0 1101.5L1185.0 1107.0L1191.0 1112.5L1185.0 1118.0L1191.0 1123.5L1185.0 1129.0L1191.0 1134.5L1185.0 1140.0L1191.0 1145.5L1185.0 1151.0M1197.0 1030.0L1203.0 1035.5L1197.0 1041.0L1203.0 1046.5L1197.0 1052.0L1203.0 1057.5L1197.0 1063.0L1203.0 1068.5L1197.0 1074.0L1203.0 1079.5L1197.0 1085.0L1203.0 1090.5L1197.0 1096.0L1203.0 1101.5L1197.0 1107.0L1203.0 1112.5L1197.0 1118.0L1203.0 1123.5L1197.0 1129.0L1203.0 1134.5L1197.0 1140.0L1203.0 1145.5L1197.0 1151.0" fill="none" stroke="#606060" stroke-width="2.2"/>
<g fill="url(#hball)" stroke="#8c8c8c" stroke-width="0.5"><circle cx="1100.0" cy="1030.0" r="2.8"/><circle cx="1100.0" cy="1041.0" r="2.8"/><circle cx="1114.0" cy="1052.0" r="2.8"/><circle cx="1114.0" cy="1063.0" r="2.8"/><circle cx="1114.0" cy="1074.0" r="2.8"/><circle cx="1100.0" cy="1085.0" r="2.8"/><circle cx="1114.0" cy="1096.0" r="2.8"/><circle cx="1100.0" cy="1107.0" r="2.8"/><circle cx="1100.0" cy="1118.0" r="2.8"/><circle cx="1114.0" cy="1129.0" r="2.8"/><circle cx="1100.0" cy="1140.0" r="2.8"/><circle cx="1100.0" cy="1151.0" r="2.8"/><circle cx="1126.0" cy="1030.0" r="2.8"/><circle cx="1126.0" cy="1041.0" r="2.8"/><circle cx="1112.0" cy="1052.0" r="2.8"/><circle cx="1126.0" cy="1063.0" r="2.8"/><circle cx="1126.0" cy="1074.0" r="2.8"/><circle cx="1126.0" cy="1085.0" r="2.8"/><circle cx="1112.0" cy="1096.0" r="2.8"/><circle cx="1112.0" cy="1107.0" r="2.8"/><circle cx="1112.0" cy="1118.0" r="2.8"/><circle cx="1112.0" cy="1129.0" r="2.8"/><circle cx="1112.0" cy="1140.0" r="2.8"/><circle cx="1112.0" cy="1151.0" r="2.8"/><circle cx="1178.0" cy="1030.0" r="2.8"/><circle cx="1178.0" cy="1041.0" r="2.8"/><circle cx="1192.0" cy="1052.0" r="2.8"/><circle cx="1178.0" cy="1063.0" r="2.8"/><circle cx="1192.0" cy="1074.0" r="2.8"/><circle cx="1192.0" cy="1085.0" r="2.8"/><circle cx="1192.0" cy="1096.0" r="2.8"/><circle cx="1192.0" cy="1107.0" r="2.8"/><circle cx="1178.0" cy="1118.0" r="2.8"/><circle cx="1192.0" cy="1129.0" r="2.8"/><circle cx="1178.0" cy="1140.0" r="2.8"/><circle cx="1178.0" cy="1151.0" r="2.8"/><circle cx="1190.0" cy="1030.0" r="2.8"/><circle cx="1190.0" cy="1041.0" r="2.8"/><circle cx="1204.0" cy="1052.0" r="2.8"/><circle cx="1190.0" cy="1063.0" r="2.8"/><circle cx="1190.0" cy="1074.0" r="2.8"/><circle cx="1204.0" cy="1085.0" r="2.8"/><circle cx="1190.0" cy="1096.0" r="2.8"/><circle cx="1190.0" cy="1107.0" r="2.8"/><circle cx="1204.0" cy="1118.0" r="2.8"/><circle cx="1190.0" cy="1129.0" r="2.8"/><circle cx="1190.0" cy="1140.0" r="2.8"/><circle cx="1204.0" cy="1151.0" r="2.8"/></g>
<path d="M928.0 1030.0L931.0 1030.5L934.0 1031.1L937.0 1031.6L940.0 1032.0L943.0 1032.4L946.0 1032.6L949.0 1032.8L952.0 1033.0L955.0 1033.0L958.0 1033.0L961.0 1032.9L964.0 1032.9L967.0 1032.8L970.0 1032.7L973.0 1032.7L976.0 1032.7L979.0 1032.8L982.0 1032.9L985.0 1033.1L988.0 1033.3L991.0 1033.6L994.0 1033.9L997.0 1034.2L1000.0 1034.5L1003.0 1034.7L1006.0 1034.9L1009.0 1035.0L1012.0 1035.1L1015.0 1035.0L1018.0 1034.9L1021.0 1034.7L1024.0 1034.4L1027.0 1034.1L1030.0 1033.7L1033.0 1033.4L1036.0 1033.0L1039.0 1032.6L1042.0 1032.3L1045.0 1032.1L1048.0 1031.9L1051.0 1031.8L1054.0 1031.7L1057.0 1031.8L1060.0 1031.9L1063.0 1032.0L1066.0 1032.2L1069.0 1032.4L1072.0 1032.5L1075.0 1032.7L1078.0 1032.8L1081.0 1032.9L1084.0 1032.9L1087.0 1032.8L1090.0 1032.7L1093.0 1032.5L1096.0 1032.3L1099.0 1032.1L1102.0 1031.9L1105.0 1031.7L1108.0 1031.6L1111.0 1031.5L1114.0 1031.5L1117.0 1031.6L1120.0 1031.8L1123.0 1032.0L1126.0 1032.4L1129.0 1032.8L1132.0 1033.3L1135.0 1033.8L1138.0 1034.3L1141.0 1034.8L1144.0 1035.2L1147.0 1035.7L1150.0 1036.0L1153.0 1036.3L1156.0 1036.6L1159.0 1036.7L1162.0 1036.8L1165.0 1036.9L1168.0 1036.9L1171.0 1036.9L1174.0 1036.9L1177.0 1036.9L1180.0 1037.0L1183.0 1037.1L1186.0 1037.3L1189.0 1037.5L1192.0 1037.8L1195.0 1038.2L1198.0 1038.6L1201.0 1039.0L1204.0 1039.4L1207.0 1039.9L1210.0 1040.2L1213.0 1040.6L1216.0 1040.8L1219.0 1041.0L1222.0 1041.1L1225.0 1041.1L1228.0 1041.1L1231.0 1040.9L1234.0 1040.7L1237.0 1040.4L1240.0 1040.1L1243.0 1039.8L1246.0 1039.5L1249.0 1039.3L1252.0 1039.0L1255.0 1038.9L1258.0 1038.8L1261.0 1038.8L1264.0 1038.8L1267.0 1038.9L1270.0 1039.0L1273.0 1039.2L1276.0 1039.3L1279.0 1039.4L1282.0 1039.5L1285.0 1039.6L1288.0 1039.6L1291.0 1039.5L1294.0 1039.3L1297.0 1039.1L1300.0 1038.9L1303.0 1038.6L1306.0 1038.2L1309.0 1037.9L1312.0 1037.6L1315.0 1037.3L1318.0 1037.1L1321.0 1037.0L1324.0 1036.9L1327.0 1036.9L1330.0 1037.0L1333.0 1037.3L1336.0 1037.5L1339.0 1037.9L1342.0 1038.2L1345.0 1038.6L1348.0 1039.0L1351.0 1039.4L1354.0 1039.7L1357.0 1040.0L1360.0 1040.3L1363.0 1040.5L1366.0 1040.6L1369.0 1040.6L1372.0 1040.7L1375.0 1040.6L1378.0 1040.6L1381.0 1040.6L1384.0 1040.7L1387.0 1040.7L1390.0 1040.9" fill="none" stroke="url(#patR)" stroke-width="12" stroke-linecap="round"/>
<path d="M940.6 1040.0L935.6 1040.0L933.0 1036.9L935.4 1033.7L940.4 1033.6L943.0 1036.8L940.6 1040.0M946.3 1045.0L945.2 1039.2L949.3 1035.2L954.5 1037.1L955.6 1042.9L951.5 1046.9L946.3 1045.0M962.9 1044.3L959.5 1041.9L960.4 1038.4L964.8 1037.3L968.2 1039.7L967.2 1043.2L962.9 1044.3M970.5 1026.4L972.6 1021.1L978.4 1020.2L982.2 1024.5L980.1 1029.8L974.3 1030.7L970.5 1026.4M982.0 1042.3L980.6 1037.1L984.4 1033.4L989.6 1034.8L991.0 1039.9L987.2 1043.7L982.0 1042.3M993.2 1043.2L990.7 1039.4L993.4 1035.8L998.7 1035.9L1001.2 1039.7L998.5 1043.3L993.2 1043.2M1006.4 1047.2L1000.6 1045.4L1000.3 1041.5L1005.7 1039.3L1011.4 1041.1L1011.8 1045.0L1006.4 1047.2M1024.0 1046.1L1018.2 1046.6L1014.7 1043.0L1017.1 1038.9L1022.9 1038.4L1026.4 1042.0L1024.0 1046.1M1040.5 1040.5L1035.8 1043.2L1030.1 1041.7L1029.0 1037.6L1033.7 1034.9L1039.4 1036.3L1040.5 1040.5M1052.6 1041.7L1046.9 1044.2L1041.5 1041.4L1041.8 1036.1L1047.5 1033.7L1052.9 1036.5L1052.6 1041.7M1064.0 1026.8L1060.5 1030.8L1055.2 1029.9L1053.3 1024.9L1056.9 1020.8L1062.2 1021.8L1064.0 1026.8M1070.7 1043.7L1066.2 1044.4L1063.3 1041.4L1064.9 1037.8L1069.3 1037.1L1072.3 1040.1L1070.7 1043.7M1079.3 1044.9L1075.4 1041.9L1075.7 1036.5L1080.0 1034.1L1084.0 1037.2L1083.7 1042.6L1079.3 1044.9M1097.0 1039.6L1092.1 1041.7L1086.4 1040.4L1085.6 1036.9L1090.5 1034.7L1096.2 1036.1L1097.0 1039.6M1106.8 1039.9L1102.3 1042.8L1097.2 1040.8L1096.6 1035.8L1101.1 1032.8L1106.2 1034.9L1106.8 1039.9M1120.7 1037.8L1117.3 1041.9L1111.8 1041.2L1109.7 1036.3L1113.2 1032.1L1118.7 1032.9L1120.7 1037.8M1133.0 1040.5L1129.3 1044.5L1123.7 1043.5L1121.9 1038.4L1125.6 1034.4L1131.2 1035.4L1133.0 1040.5M1144.8 1048.5L1139.4 1048.1L1137.0 1043.0L1140.1 1038.4L1145.6 1038.8L1147.9 1043.9L1144.8 1048.5M1159.1 1033.8L1153.8 1035.1L1149.6 1032.5L1150.6 1028.7L1155.9 1027.4L1160.1 1029.9L1159.1 1033.8M1169.6 1048.4L1164.5 1050.9L1159.7 1047.9L1160.0 1042.4L1165.1 1039.9L1169.9 1042.9L1169.6 1048.4M1172.8 1047.3L1171.9 1043.0L1175.3 1040.1L1179.6 1041.5L1180.5 1045.8L1177.1 1048.6L1172.8 1047.3M1184.7 1050.3L1180.9 1046.4L1182.7 1041.3L1188.2 1040.2L1192.0 1044.2L1190.3 1049.2L1184.7 1050.3M1193.7 1049.7L1190.2 1045.6L1193.0 1041.3L1199.2 1041.0L1202.6 1045.0L1199.9 1049.4L1193.7 1049.7M1208.7 1039.5L1205.4 1036.1L1206.4 1031.2L1210.8 1029.7L1214.2 1033.2L1213.1 1038.1L1208.7 1039.5M1222.3 1051.5L1218.0 1048.0L1219.6 1043.2L1225.4 1041.9L1229.7 1045.4L1228.2 1050.2L1222.3 1051.5M1234.5 1041.3L1228.9 1039.7L1227.4 1034.0L1231.6 1029.8L1237.2 1031.4L1238.6 1037.2L1234.5 1041.3M1242.9 1053.4L1237.5 1050.8L1237.7 1045.9L1243.3 1043.6L1248.7 1046.2L1248.5 1051.1L1242.9 1053.4M1251.9 1036.1L1250.2 1031.8L1254.1 1028.5L1259.7 1029.5L1261.4 1033.7L1257.5 1037.0L1251.9 1036.1M1262.3 1033.2L1261.8 1029.5L1266.8 1027.3L1272.4 1028.9L1272.9 1032.6L1267.9 1034.7L1262.3 1033.2M1275.4 1048.4L1273.2 1044.8L1276.9 1041.9L1282.8 1042.4L1285.0 1045.9L1281.3 1048.9L1275.4 1048.4M1287.6 1045.7L1289.3 1042.2L1295.1 1041.3L1299.3 1044.0L1297.6 1047.5L1291.8 1048.4L1287.6 1045.7M1308.1 1034.1L1302.6 1033.6L1300.4 1028.9L1303.6 1024.7L1309.0 1025.2L1311.3 1029.9L1308.1 1034.1M1321.6 1048.1L1315.2 1049.2L1311.0 1044.9L1313.1 1039.5L1319.4 1038.4L1323.7 1042.7L1321.6 1048.1M1332.9 1032.4L1327.4 1031.2L1326.3 1027.6L1330.7 1025.2L1336.1 1026.4L1337.2 1030.0L1332.9 1032.4M1351.8 1050.3L1346.8 1053.0L1342.0 1049.8L1342.3 1043.9L1347.3 1041.2L1352.0 1044.4L1351.8 1050.3M1363.4 1052.8L1358.6 1051.7L1357.2 1046.9L1360.6 1043.3L1365.3 1044.5L1366.7 1049.2L1363.4 1052.8M1373.4 1039.5L1367.5 1038.0L1365.8 1032.2L1370.1 1027.9L1376.1 1029.4L1377.7 1035.2L1373.4 1039.5" fill="none" stroke="#5c5c5c" stroke-width="1.6"/>
<path d="M928.0 1030.0L931.0 1030.5L934.0 1031.1L937.0 1031.6L940.0 1032.0L943.0 1032.4L946.0 1032.6L949.0 1032.8L952.0 1033.0L955.0 1033.0L958.0 1033.0L961.0 1032.9L964.0 1032.9L967.0 1032.8L970.0 1032.7L973.0 1032.7L976.0 1032.7L979.0 1032.8L982.0 1032.9L985.0 1033.1L988.0 1033.3L991.0 1033.6L994.0 1033.9L997.0 1034.2L1000.0 1034.5L1003.0 1034.7L1006.0 1034.9L1009.0 1035.0L1012.0 1035.1L1015.0 1035.0L1018.0 1034.9L1021.0 1034.7L1024.0 1034.4L1027.0 1034.1L1030.0 1033.7L1033.0 1033.4L1036.0 1033.0L1039.0 1032.6L1042.0 1032.3L1045.0 1032.1L1048.0 1031.9L1051.0 1031.8L1054.0 1031.7L1057.0 1031.8L1060.0 1031.9L1063.0 1032.0L1066.0 1032.2L1069.0 1032.4L1072.0 1032.5L1075.0 1032.7L1078.0 1032.8L1081.0 1032.9L1084.0 1032.9L1087.0 1032.8L1090.0 1032.7L1093.0 1032.5L1096.0 1032.3L1099.0 1032.1L1102.0 1031.9L1105.0 1031.7L1108.0 1031.6L1111.0 1031.5L1114.0 1031.5L1117.0 1031.6L1120.0 1031.8L1123.0 1032.0L1126.0 1032.4L1129.0 1032.8L1132.0 1033.3L1135.0 1033.8L1138.0 1034.3L1141.0 1034.8L1144.0 1035.2L1147.0 1035.7L1150.0 1036.0L1153.0 1036.3L1156.0 1036.6L1159.0 1036.7L1162.0 1036.8L1165.0 1036.9L1168.0 1036.9L1171.0 1036.9L1174.0 1036.9L1177.0 1036.9L1180.0 1037.0L1183.0 1037.1L1186.0 1037.3L1189.0 1037.5L1192.0 1037.8L1195.0 1038.2L1198.0 1038.6L1201.0 1039.0L1204.0 1039.4L1207.0 1039.9L1210.0 1040.2L1213.0 1040.6L1216.0 1040.8L1219.0 1041.0L1222.0 1041.1L1225.0 1041.1L1228.0 1041.1L1231.0 1040.9L1234.0 1040.7L1237.0 1040.4L1240.0 1040.1L1243.0 1039.8L1246.0 1039.5L1249.0 1039.3L1252.0 1039.0L1255.0 1038.9L1258.0 1038.8L1261.0 1038.8L1264.0 1038.8L1267.0 1038.9L1270.0 1039.0L1273.0 1039.2L1276.0 1039.3L1279.0 1039.4L1282.0 1039.5L1285.0 1039.6L1288.0 1039.6L1291.0 1039.5L1294.0 1039.3L1297.0 1039.1L1300.0 1038.9L1303.0 1038.6L1306.0 1038.2L1309.0 1037.9L1312.0 1037.6L1315.0 1037.3L1318.0 1037.1L1321.0 1037.0L1324.0 1036.9L1327.0 1036.9L1330.0 1037.0L1333.0 1037.3L1336.0 1037.5L1339.0 1037.9L1342.0 1038.2L1345.0 1038.6L1348.0 1039.0L1351.0 1039.4L1354.0 1039.7L1357.0 1040.0L1360.0 1040.3L1363.0 1040.5L1366.0 1040.6L1369.0 1040.6L1372.0 1040.7L1375.0 1040.6L1378.0 1040.6L1381.0 1040.6L1384.0 1040.7L1387.0 1040.7L1390.0 1040.9" fill="none" stroke="#555" stroke-width="2.4"/>
<g fill="url(#hball)" stroke="#8c8c8c" stroke-width="0.5"><circle cx="930.4" cy="1021.5" r="2.7"/><circle cx="936.0" cy="1019.7" r="2.9"/><circle cx="934.4" cy="1040.5" r="2.9"/><circle cx="938.0" cy="1043.8" r="3.0"/><circle cx="942.6" cy="1042.9" r="3.0"/><circle cx="947.3" cy="1021.1" r="3.1"/><circle cx="945.6" cy="1044.7" r="2.9"/><circle cx="950.7" cy="1019.4" r="3.1"/><circle cx="950.6" cy="1046.4" r="2.8"/><circle cx="962.6" cy="1021.1" r="3.0"/><circle cx="970.5" cy="1021.2" r="3.0"/><circle cx="970.2" cy="1045.4" r="2.7"/><circle cx="984.6" cy="1020.1" r="3.2"/><circle cx="990.3" cy="1022.9" r="2.8"/><circle cx="988.4" cy="1044.5" r="3.0"/><circle cx="992.6" cy="1023.8" r="2.9"/><circle cx="1002.1" cy="1022.0" r="3.1"/><circle cx="1001.8" cy="1043.4" r="2.7"/><circle cx="1008.5" cy="1021.3" r="3.2"/><circle cx="1010.8" cy="1047.7" r="3.2"/><circle cx="1014.2" cy="1043.6" r="2.6"/><circle cx="1024.2" cy="1044.6" r="3.0"/><circle cx="1027.1" cy="1025.1" r="2.8"/><circle cx="1026.0" cy="1046.9" r="3.2"/><circle cx="1036.1" cy="1022.3" r="3.2"/><circle cx="1036.0" cy="1042.3" r="3.1"/><circle cx="1040.3" cy="1019.5" r="3.0"/><circle cx="1038.7" cy="1043.5" r="3.1"/><circle cx="1045.1" cy="1021.9" r="3.2"/><circle cx="1047.8" cy="1040.9" r="3.1"/><circle cx="1055.3" cy="1041.5" r="2.8"/><circle cx="1059.7" cy="1022.7" r="2.6"/><circle cx="1064.8" cy="1044.0" r="3.2"/><circle cx="1071.5" cy="1019.1" r="2.8"/><circle cx="1078.4" cy="1019.4" r="2.7"/><circle cx="1078.4" cy="1041.5" r="2.8"/><circle cx="1079.7" cy="1022.9" r="2.9"/><circle cx="1080.0" cy="1044.5" r="2.9"/><circle cx="1083.6" cy="1046.6" r="2.9"/><circle cx="1105.1" cy="1043.8" r="2.9"/><circle cx="1113.7" cy="1022.4" r="2.7"/><circle cx="1113.0" cy="1042.2" r="3.1"/><circle cx="1119.5" cy="1020.1" r="2.7"/><circle cx="1120.9" cy="1041.1" r="2.7"/><circle cx="1123.5" cy="1018.8" r="2.6"/><circle cx="1126.7" cy="1023.2" r="3.0"/><circle cx="1127.8" cy="1044.6" r="2.7"/><circle cx="1129.7" cy="1023.6" r="3.0"/><circle cx="1130.4" cy="1046.3" r="2.9"/><circle cx="1136.5" cy="1044.3" r="2.7"/><circle cx="1139.6" cy="1022.9" r="3.1"/><circle cx="1144.8" cy="1044.8" r="2.9"/><circle cx="1157.5" cy="1023.1" r="2.8"/><circle cx="1161.3" cy="1025.2" r="2.7"/><circle cx="1159.2" cy="1047.7" r="3.0"/><circle cx="1167.0" cy="1025.8" r="3.1"/><circle cx="1165.5" cy="1047.6" r="2.7"/><circle cx="1170.2" cy="1046.0" r="2.9"/><circle cx="1174.7" cy="1025.3" r="2.6"/><circle cx="1176.1" cy="1026.1" r="2.9"/><circle cx="1183.4" cy="1028.2" r="3.2"/><circle cx="1183.6" cy="1050.6" r="3.0"/><circle cx="1185.9" cy="1050.5" r="2.8"/><circle cx="1193.7" cy="1029.2" r="2.8"/><circle cx="1201.6" cy="1026.9" r="2.6"/><circle cx="1205.5" cy="1028.9" r="2.9"/><circle cx="1211.3" cy="1051.7" r="3.0"/><circle cx="1215.6" cy="1052.5" r="3.1"/><circle cx="1220.4" cy="1053.5" r="2.8"/><circle cx="1230.0" cy="1029.4" r="3.0"/><circle cx="1233.9" cy="1028.0" r="2.8"/><circle cx="1231.6" cy="1053.0" r="2.6"/><circle cx="1236.6" cy="1028.1" r="2.9"/><circle cx="1255.6" cy="1028.5" r="2.6"/><circle cx="1260.2" cy="1029.6" r="2.9"/><circle cx="1269.0" cy="1026.7" r="2.8"/><circle cx="1270.4" cy="1051.3" r="2.9"/><circle cx="1274.0" cy="1026.1" r="3.1"/><circle cx="1275.3" cy="1051.2" r="2.7"/><circle cx="1277.0" cy="1026.7" r="2.9"/><circle cx="1279.9" cy="1053.2" r="2.7"/><circle cx="1287.6" cy="1029.6" r="3.0"/><circle cx="1287.0" cy="1048.8" r="3.1"/><circle cx="1292.2" cy="1049.7" r="2.9"/><circle cx="1296.6" cy="1051.5" r="3.1"/><circle cx="1299.9" cy="1025.4" r="2.8"/><circle cx="1301.4" cy="1051.1" r="2.9"/><circle cx="1303.8" cy="1028.2" r="3.2"/><circle cx="1303.8" cy="1049.1" r="2.7"/><circle cx="1309.6" cy="1025.1" r="2.8"/><circle cx="1308.9" cy="1051.5" r="2.9"/><circle cx="1317.7" cy="1027.7" r="3.1"/><circle cx="1321.8" cy="1048.9" r="2.8"/><circle cx="1325.9" cy="1023.5" r="2.8"/><circle cx="1329.7" cy="1026.7" r="3.1"/><circle cx="1339.3" cy="1025.2" r="3.1"/><circle cx="1342.2" cy="1048.4" r="3.0"/><circle cx="1346.1" cy="1028.8" r="2.6"/><circle cx="1344.3" cy="1049.3" r="2.8"/><circle cx="1351.7" cy="1047.9" r="2.8"/><circle cx="1355.6" cy="1028.8" r="3.2"/><circle cx="1355.5" cy="1048.6" r="3.1"/><circle cx="1365.0" cy="1031.1" r="2.6"/><circle cx="1376.8" cy="1031.4" r="3.2"/><circle cx="1386.1" cy="1031.9" r="3.0"/><circle cx="1389.3" cy="1049.9" r="3.2"/></g>
<g fill="url(#cball)"><circle cx="930.0" cy="1035.5" r="2.4"/><circle cx="936.0" cy="1031.8" r="2.4"/><circle cx="942.0" cy="1031.8" r="2.4"/><circle cx="948.0" cy="1032.9" r="2.4"/><circle cx="954.0" cy="1037.9" r="2.4"/><circle cx="960.0" cy="1038.2" r="2.4"/><circle cx="966.0" cy="1037.1" r="2.4"/><circle cx="972.0" cy="1038.5" r="2.4"/><circle cx="978.0" cy="1032.8" r="2.4"/><circle cx="984.0" cy="1028.4" r="2.4"/><circle cx="990.0" cy="1033.0" r="2.4"/><circle cx="996.0" cy="1039.7" r="2.4"/><circle cx="1002.0" cy="1040.3" r="2.4"/><circle cx="1008.0" cy="1029.5" r="2.4"/><circle cx="1014.0" cy="1030.6" r="2.4"/><circle cx="1020.0" cy="1039.1" r="2.4"/><circle cx="1026.0" cy="1028.9" r="2.4"/><circle cx="1032.0" cy="1038.2" r="2.4"/><circle cx="1038.0" cy="1032.3" r="2.4"/><circle cx="1044.0" cy="1027.4" r="2.4"/><circle cx="1050.0" cy="1026.4" r="2.4"/><circle cx="1056.0" cy="1032.0" r="2.4"/><circle cx="1062.0" cy="1027.5" r="2.4"/><circle cx="1068.0" cy="1036.6" r="2.4"/><circle cx="1074.0" cy="1033.1" r="2.4"/><circle cx="1080.0" cy="1037.5" r="2.4"/><circle cx="1086.0" cy="1033.3" r="2.4"/><circle cx="1092.0" cy="1037.6" r="2.4"/><circle cx="1098.0" cy="1032.4" r="2.4"/><circle cx="1104.0" cy="1032.1" r="2.4"/><circle cx="1110.0" cy="1026.9" r="2.4"/><circle cx="1116.0" cy="1026.2" r="2.4"/><circle cx="1122.0" cy="1031.7" r="2.4"/><circle cx="1128.0" cy="1037.4" r="2.4"/><circle cx="1134.0" cy="1029.0" r="2.4"/><circle cx="1140.0" cy="1035.1" r="2.4"/><circle cx="1146.0" cy="1034.8" r="2.4"/><circle cx="1152.0" cy="1036.3" r="2.4"/><circle cx="1158.0" cy="1032.2" r="2.4"/><circle cx="1164.0" cy="1041.4" r="2.4"/><circle cx="1170.0" cy="1042.2" r="2.4"/><circle cx="1176.0" cy="1037.6" r="2.4"/><circle cx="1182.0" cy="1041.6" r="2.4"/><circle cx="1188.0" cy="1042.8" r="2.4"/><circle cx="1194.0" cy="1038.1" r="2.4"/><circle cx="1200.0" cy="1038.3" r="2.4"/><circle cx="1206.0" cy="1035.5" r="2.4"/><circle cx="1212.0" cy="1040.3" r="2.4"/><circle cx="1218.0" cy="1040.8" r="2.4"/><circle cx="1224.0" cy="1036.8" r="2.4"/><circle cx="1230.0" cy="1035.2" r="2.4"/><circle cx="1236.0" cy="1040.1" r="2.4"/><circle cx="1242.0" cy="1035.1" r="2.4"/><circle cx="1248.0" cy="1034.8" r="2.4"/><circle cx="1254.0" cy="1039.5" r="2.4"/><circle cx="1260.0" cy="1038.7" r="2.4"/><circle cx="1266.0" cy="1034.2" r="2.4"/><circle cx="1272.0" cy="1033.8" r="2.4"/><circle cx="1278.0" cy="1045.2" r="2.4"/><circle cx="1284.0" cy="1039.9" r="2.4"/><circle cx="1290.0" cy="1039.5" r="2.4"/><circle cx="1296.0" cy="1033.5" r="2.4"/><circle cx="1302.0" cy="1043.6" r="2.4"/><circle cx="1308.0" cy="1042.8" r="2.4"/><circle cx="1314.0" cy="1032.4" r="2.4"/><circle cx="1320.0" cy="1031.9" r="2.4"/><circle cx="1326.0" cy="1041.5" r="2.4"/><circle cx="1332.0" cy="1042.4" r="2.4"/><circle cx="1338.0" cy="1038.2" r="2.4"/><circle cx="1344.0" cy="1033.1" r="2.4"/><circle cx="1350.0" cy="1043.5" r="2.4"/><circle cx="1356.0" cy="1039.8" r="2.4"/><circle cx="1362.0" cy="1046.1" r="2.4"/><circle cx="1368.0" cy="1035.2" r="2.4"/><circle cx="1374.0" cy="1045.2" r="2.4"/><circle cx="1380.0" cy="1035.3" r="2.4"/><circle cx="1386.0" cy="1040.4" r="2.4"/></g>
<circle cx="997.7" cy="1036.0" r="3.6" fill="url(#nball)"/><circle cx="1043.4" cy="1031.4" r="3.6" fill="url(#nball)"/><circle cx="986.8" cy="1035.8" r="3.6" fill="url(#nball)"/><circle cx="1158.5" cy="1037.8" r="3.6" fill="url(#nball)"/><circle cx="1151.4" cy="1032.5" r="3.6" fill="url(#nball)"/><circle cx="1203.0" cy="1037.8" r="3.6" fill="url(#nball)"/><circle cx="994.6" cy="1032.8" r="3.4" fill="url(#fball)"/><circle cx="1279.3" cy="1041.1" r="3.4" fill="url(#fball)"/><circle cx="1216.9" cy="1041.9" r="3.4" fill="url(#fball)"/><circle cx="1248.0" cy="1045.9" r="3.4" fill="url(#fball)"/><circle cx="1292.7" cy="1042.3" r="3.4" fill="url(#fball)"/><circle cx="1334.7" cy="1038.5" r="3.4" fill="url(#fball)"/>
<path d="M928.0 1070.6L931.0 1070.6L934.0 1070.6L937.0 1070.5L940.0 1070.4L943.0 1070.2L946.0 1070.1L949.0 1070.0L952.0 1069.9L955.0 1069.8L958.0 1069.8L961.0 1069.9L964.0 1070.0L967.0 1070.2L970.0 1070.4L973.0 1070.6L976.0 1070.8L979.0 1071.0L982.0 1071.2L985.0 1071.3L988.0 1071.3L991.0 1071.3L994.0 1071.2L997.0 1071.0L1000.0 1070.7L1003.0 1070.4L1006.0 1070.0L1009.0 1069.6L1012.0 1069.3L1015.0 1068.9L1018.0 1068.5L1021.0 1068.2L1024.0 1068.0L1027.0 1067.9L1030.0 1067.8L1033.0 1067.9L1036.0 1068.0L1039.0 1068.1L1042.0 1068.3L1045.0 1068.6L1048.0 1068.8L1051.0 1069.1L1054.0 1069.3L1057.0 1069.4L1060.0 1069.5L1063.0 1069.6L1066.0 1069.6L1069.0 1069.6L1072.0 1069.5L1075.0 1069.3L1078.0 1069.2L1081.0 1069.1L1084.0 1069.0L1087.0 1069.0L1090.0 1069.0L1093.0 1069.1L1096.0 1069.3L1099.0 1069.5L1102.0 1069.9L1105.0 1070.3L1108.0 1070.8L1111.0 1071.3L1114.0 1071.9L1117.0 1072.4L1120.0 1072.9L1123.0 1073.4L1126.0 1073.8L1129.0 1074.2L1132.0 1074.5L1135.0 1074.7L1138.0 1074.8L1141.0 1074.9L1144.0 1074.9L1147.0 1074.9L1150.0 1074.8L1153.0 1074.8L1156.0 1074.8L1159.0 1074.8L1162.0 1074.9L1165.0 1075.0L1168.0 1075.2L1171.0 1075.4L1174.0 1075.7L1177.0 1076.1L1180.0 1076.4L1183.0 1076.8L1186.0 1077.1L1189.0 1077.4L1192.0 1077.6L1195.0 1077.8L1198.0 1077.9L1201.0 1077.8L1204.0 1077.8L1207.0 1077.6L1210.0 1077.3L1213.0 1077.0L1216.0 1076.7L1219.0 1076.3L1222.0 1076.0L1225.0 1075.6L1228.0 1075.3L1231.0 1075.1L1234.0 1074.9L1237.0 1074.8L1240.0 1074.8L1243.0 1074.9L1246.0 1075.0L1249.0 1075.1L1252.0 1075.2L1255.0 1075.4L1258.0 1075.5L1261.0 1075.6L1264.0 1075.7L1267.0 1075.7L1270.0 1075.7L1273.0 1075.5L1276.0 1075.4L1279.0 1075.1L1282.0 1074.9L1285.0 1074.6L1288.0 1074.4L1291.0 1074.1L1294.0 1074.0L1297.0 1073.9L1300.0 1073.8L1303.0 1073.9L1306.0 1074.0L1309.0 1074.2L1312.0 1074.5L1315.0 1074.9L1318.0 1075.3L1321.0 1075.8L1324.0 1076.3L1327.0 1076.7L1330.0 1077.2L1333.0 1077.6L1336.0 1077.9L1339.0 1078.2L1342.0 1078.4L1345.0 1078.5L1348.0 1078.6L1351.0 1078.6L1354.0 1078.6L1357.0 1078.7L1360.0 1078.7L1363.0 1078.7L1366.0 1078.8L1369.0 1079.0L1372.0 1079.2L1375.0 1079.5L1378.0 1079.8L1381.0 1080.2L1384.0 1080.7L1387.0 1081.1L1390.0 1081.6" fill="none" stroke="url(#patR)" stroke-width="12" stroke-linecap="round"/>
<path d="M934.9 1067.9L933.0 1063.6L936.1 1059.9L941.1 1060.5L943.0 1064.8L939.9 1068.5L934.9 1067.9M950.4 1065.0L947.3 1061.7L949.1 1057.7L954.0 1057.0L957.1 1060.4L955.3 1064.3L950.4 1065.0M967.4 1078.7L962.2 1079.5L958.8 1076.0L960.6 1071.7L965.8 1070.9L969.2 1074.4L967.4 1078.7M978.8 1079.6L972.7 1079.0L970.5 1075.6L974.5 1072.9L980.7 1073.5L982.8 1076.9L978.8 1079.6M987.9 1082.9L985.4 1078.8L987.6 1074.5L992.3 1074.2L994.8 1078.3L992.7 1082.7L987.9 1082.9M1009.2 1065.5L1005.1 1067.6L1001.2 1065.2L1001.4 1060.7L1005.4 1058.6L1009.3 1061.0L1009.2 1065.5M1015.0 1079.7L1009.8 1078.2L1009.0 1074.2L1013.5 1071.8L1018.8 1073.3L1019.5 1077.2L1015.0 1079.7M1025.9 1064.3L1022.2 1061.2L1024.1 1057.4L1029.7 1056.7L1033.4 1059.8L1031.5 1063.6L1025.9 1064.3M1040.6 1065.9L1034.9 1064.7L1033.8 1061.2L1038.3 1058.8L1043.9 1060.0L1045.0 1063.5L1040.6 1065.9M1058.3 1063.2L1054.9 1067.2L1049.4 1066.6L1047.2 1061.9L1050.6 1057.9L1056.1 1058.5L1058.3 1063.2M1071.5 1077.9L1068.4 1081.6L1063.8 1080.7L1062.2 1076.1L1065.3 1072.4L1069.9 1073.3L1071.5 1077.9M1079.6 1066.6L1075.7 1063.5L1076.4 1058.4L1080.9 1056.5L1084.8 1059.6L1084.2 1064.7L1079.6 1066.6M1091.9 1066.2L1088.3 1063.6L1089.1 1059.5L1093.5 1058.1L1097.1 1060.7L1096.3 1064.8L1091.9 1066.2M1105.8 1068.0L1101.4 1065.5L1101.6 1061.1L1106.2 1059.0L1110.5 1061.4L1110.3 1065.9L1105.8 1068.0M1117.8 1068.6L1113.3 1066.3L1113.2 1061.4L1117.5 1058.9L1122.1 1061.2L1122.2 1066.0L1117.8 1068.6M1122.6 1071.4L1122.1 1065.7L1127.1 1062.5L1132.6 1065.0L1133.0 1070.6L1128.0 1073.8L1122.6 1071.4M1143.0 1085.2L1136.8 1083.9L1135.2 1079.4L1139.8 1076.1L1146.0 1077.3L1147.6 1081.9L1143.0 1085.2M1150.0 1072.4L1146.1 1069.3L1148.2 1065.4L1154.1 1064.7L1158.0 1067.9L1155.9 1071.7L1150.0 1072.4M1170.6 1085.8L1164.8 1086.2L1161.4 1083.1L1163.7 1079.5L1169.5 1079.1L1172.9 1082.2L1170.6 1085.8M1172.9 1069.1L1174.6 1064.9L1179.2 1064.2L1182.1 1067.7L1180.4 1071.8L1175.8 1072.5L1172.9 1069.1M1188.0 1086.9L1184.1 1084.1L1185.7 1080.3L1191.3 1079.4L1195.1 1082.3L1193.5 1086.0L1188.0 1086.9M1202.2 1072.9L1201.0 1067.6L1204.3 1063.6L1208.8 1065.1L1210.0 1070.4L1206.7 1074.3L1202.2 1072.9M1221.1 1087.3L1215.3 1089.3L1210.5 1085.6L1211.6 1080.0L1217.4 1078.0L1222.1 1081.7L1221.1 1087.3M1234.9 1069.4L1230.5 1071.4L1226.2 1069.3L1226.3 1065.4L1230.6 1063.5L1234.9 1065.5L1234.9 1069.4M1248.5 1071.7L1243.2 1073.2L1238.7 1070.6L1239.6 1066.4L1245.0 1064.8L1249.4 1067.5L1248.5 1071.7M1253.2 1071.7L1251.2 1066.9L1255.4 1063.0L1261.6 1064.1L1263.6 1068.9L1259.4 1072.7L1253.2 1071.7M1274.4 1072.4L1269.3 1073.6L1265.7 1070.2L1267.1 1065.6L1272.2 1064.4L1275.9 1067.9L1274.4 1072.4M1278.7 1081.2L1280.5 1076.8L1285.8 1075.9L1289.4 1079.3L1287.7 1083.7L1282.4 1084.6L1278.7 1081.2M1294.0 1083.9L1295.0 1079.6L1300.8 1078.1L1305.6 1080.8L1304.6 1085.1L1298.8 1086.7L1294.0 1083.9M1309.4 1083.0L1308.6 1078.1L1312.9 1075.0L1317.9 1076.9L1318.6 1081.8L1314.4 1084.9L1309.4 1083.0M1328.3 1074.5L1323.8 1076.7L1319.9 1073.4L1320.4 1068.0L1324.9 1065.8L1328.8 1069.0L1328.3 1074.5M1328.9 1084.6L1331.3 1080.2L1336.0 1080.1L1338.4 1084.5L1336.1 1088.9L1331.4 1088.9L1328.9 1084.6M1343.8 1087.3L1344.3 1083.2L1348.6 1081.6L1352.3 1084.1L1351.7 1088.2L1347.4 1089.8L1343.8 1087.3M1362.0 1090.9L1358.0 1087.9L1359.6 1083.7L1365.1 1082.7L1369.1 1085.8L1367.5 1089.9L1362.0 1090.9M1380.8 1093.2L1374.8 1091.9L1373.2 1086.7L1377.5 1083.0L1383.5 1084.3L1385.1 1089.4L1380.8 1093.2" fill="none" stroke="#5c5c5c" stroke-width="1.6"/>
<path d="M928.0 1070.6L931.0 1070.6L934.0 1070.6L937.0 1070.5L940.0 1070.4L943.0 1070.2L946.0 1070.1L949.0 1070.0L952.0 1069.9L955.0 1069.8L958.0 1069.8L961.0 1069.9L964.0 1070.0L967.0 1070.2L970.0 1070.4L973.0 1070.6L976.0 1070.8L979.0 1071.0L982.0 1071.2L985.0 1071.3L988.0 1071.3L991.0 1071.3L994.0 1071.2L997.0 1071.0L1000.0 1070.7L1003.0 1070.4L1006.0 1070.0L1009.0 1069.6L1012.0 1069.3L1015.0 1068.9L1018.0 1068.5L1021.0 1068.2L1024.0 1068.0L1027.0 1067.9L1030.0 1067.8L1033.0 1067.9L1036.0 1068.0L1039.0 1068.1L1042.0 1068.3L1045.0 1068.6L1048.0 1068.8L1051.0 1069.1L1054.0 1069.3L1057.0 1069.4L1060.0 1069.5L1063.0 1069.6L1066.0 1069.6L1069.0 1069.6L1072.0 1069.5L1075.0 1069.3L1078.0 1069.2L1081.0 1069.1L1084.0 1069.0L1087.0 1069.0L1090.0 1069.0L1093.0 1069.1L1096.0 1069.3L1099.0 1069.5L1102.0 1069.9L1105.0 1070.3L1108.0 1070.8L1111.0 1071.3L1114.0 1071.9L1117.0 1072.4L1120.0 1072.9L1123.0 1073.4L1126.0 1073.8L1129.0 1074.2L1132.0 1074.5L1135.0 1074.7L1138.0 1074.8L1141.0 1074.9L1144.0 1074.9L1147.0 1074.9L1150.0 1074.8L1153.0 1074.8L1156.0 1074.8L1159.0 1074.8L1162.0 1074.9L1165.0 1075.0L1168.0 1075.2L1171.0 1075.4L1174.0 1075.7L1177.0 1076.1L1180.0 1076.4L1183.0 1076.8L1186.0 1077.1L1189.0 1077.4L1192.0 1077.6L1195.0 1077.8L1198.0 1077.9L1201.0 1077.8L1204.0 1077.8L1207.0 1077.6L1210.0 1077.3L1213.0 1077.0L1216.0 1076.7L1219.0 1076.3L1222.0 1076.0L1225.0 1075.6L1228.0 1075.3L1231.0 1075.1L1234.0 1074.9L1237.0 1074.8L1240.0 1074.8L1243.0 1074.9L1246.0 1075.0L1249.0 1075.1L1252.0 1075.2L1255.0 1075.4L1258.0 1075.5L1261.0 1075.6L1264.0 1075.7L1267.0 1075.7L1270.0 1075.7L1273.0 1075.5L1276.0 1075.4L1279.0 1075.1L1282.0 1074.9L1285.0 1074.6L1288.0 1074.4L1291.0 1074.1L1294.0 1074.0L1297.0 1073.9L1300.0 1073.8L1303.0 1073.9L1306.0 1074.0L1309.0 1074.2L1312.0 1074.5L1315.0 1074.9L1318.0 1075.3L1321.0 1075.8L1324.0 1076.3L1327.0 1076.7L1330.0 1077.2L1333.0 1077.6L1336.0 1077.9L1339.0 1078.2L1342.0 1078.4L1345.0 1078.5L1348.0 1078.6L1351.0 1078.6L1354.0 1078.6L1357.0 1078.7L1360.0 1078.7L1363.0 1078.7L1366.0 1078.8L1369.0 1079.0L1372.0 1079.2L1375.0 1079.5L1378.0 1079.8L1381.0 1080.2L1384.0 1080.7L1387.0 1081.1L1390.0 1081.6" fill="none" stroke="#555" stroke-width="2.4"/>
<g fill="url(#hball)" stroke="#8c8c8c" stroke-width="0.5"><circle cx="928.8" cy="1082.0" r="2.9"/><circle cx="933.9" cy="1059.5" r="2.8"/><circle cx="940.3" cy="1060.0" r="2.8"/><circle cx="940.8" cy="1060.4" r="3.0"/><circle cx="942.4" cy="1082.3" r="2.6"/><circle cx="946.4" cy="1057.9" r="3.0"/><circle cx="957.7" cy="1081.4" r="2.7"/><circle cx="968.6" cy="1058.7" r="3.2"/><circle cx="975.7" cy="1058.8" r="2.6"/><circle cx="974.8" cy="1083.5" r="2.6"/><circle cx="980.5" cy="1079.6" r="3.0"/><circle cx="984.0" cy="1062.5" r="2.9"/><circle cx="987.1" cy="1057.5" r="2.8"/><circle cx="993.4" cy="1061.1" r="2.7"/><circle cx="995.8" cy="1058.3" r="2.8"/><circle cx="999.0" cy="1081.6" r="2.6"/><circle cx="1001.7" cy="1056.8" r="3.1"/><circle cx="1002.9" cy="1082.0" r="2.9"/><circle cx="1007.6" cy="1060.6" r="2.9"/><circle cx="1005.1" cy="1079.5" r="3.0"/><circle cx="1008.9" cy="1056.9" r="3.1"/><circle cx="1009.2" cy="1082.8" r="2.8"/><circle cx="1013.0" cy="1078.7" r="2.7"/><circle cx="1022.5" cy="1078.7" r="3.0"/><circle cx="1025.6" cy="1080.5" r="3.0"/><circle cx="1029.9" cy="1078.7" r="2.9"/><circle cx="1036.2" cy="1055.8" r="2.7"/><circle cx="1033.3" cy="1078.2" r="2.9"/><circle cx="1040.9" cy="1081.5" r="2.6"/><circle cx="1044.6" cy="1054.8" r="3.2"/><circle cx="1046.0" cy="1059.8" r="3.0"/><circle cx="1050.9" cy="1058.4" r="2.8"/><circle cx="1074.8" cy="1079.2" r="2.6"/><circle cx="1078.5" cy="1078.4" r="3.2"/><circle cx="1083.1" cy="1058.2" r="3.0"/><circle cx="1079.3" cy="1080.7" r="3.1"/><circle cx="1084.5" cy="1057.0" r="2.8"/><circle cx="1094.6" cy="1078.5" r="3.1"/><circle cx="1102.9" cy="1058.4" r="3.0"/><circle cx="1104.8" cy="1061.0" r="2.6"/><circle cx="1111.9" cy="1059.4" r="2.8"/><circle cx="1115.7" cy="1083.7" r="3.1"/><circle cx="1122.3" cy="1084.9" r="3.1"/><circle cx="1126.8" cy="1084.0" r="2.9"/><circle cx="1133.6" cy="1064.5" r="2.9"/><circle cx="1132.8" cy="1085.7" r="2.8"/><circle cx="1140.8" cy="1088.8" r="2.9"/><circle cx="1143.7" cy="1061.2" r="2.7"/><circle cx="1144.2" cy="1088.1" r="2.9"/><circle cx="1150.3" cy="1086.6" r="3.1"/><circle cx="1154.0" cy="1064.9" r="3.1"/><circle cx="1157.4" cy="1061.7" r="2.6"/><circle cx="1158.8" cy="1088.4" r="2.9"/><circle cx="1164.6" cy="1088.2" r="3.0"/><circle cx="1170.4" cy="1086.3" r="2.6"/><circle cx="1173.9" cy="1084.4" r="3.2"/><circle cx="1180.7" cy="1064.9" r="3.0"/><circle cx="1182.2" cy="1087.1" r="2.8"/><circle cx="1188.9" cy="1089.5" r="3.0"/><circle cx="1196.8" cy="1066.5" r="2.7"/><circle cx="1197.8" cy="1090.5" r="2.7"/><circle cx="1203.5" cy="1091.6" r="2.8"/><circle cx="1209.8" cy="1065.4" r="2.7"/><circle cx="1218.7" cy="1084.9" r="3.0"/><circle cx="1226.9" cy="1063.6" r="3.2"/><circle cx="1238.5" cy="1061.0" r="2.8"/><circle cx="1245.4" cy="1086.5" r="2.7"/><circle cx="1247.9" cy="1061.6" r="2.8"/><circle cx="1247.5" cy="1084.3" r="3.2"/><circle cx="1253.6" cy="1066.2" r="3.0"/><circle cx="1252.5" cy="1084.1" r="2.7"/><circle cx="1255.6" cy="1065.6" r="3.2"/><circle cx="1261.0" cy="1088.4" r="2.7"/><circle cx="1270.5" cy="1087.6" r="3.0"/><circle cx="1277.4" cy="1088.5" r="2.9"/><circle cx="1281.2" cy="1087.3" r="3.0"/><circle cx="1288.6" cy="1061.3" r="2.7"/><circle cx="1293.0" cy="1064.4" r="2.8"/><circle cx="1294.8" cy="1086.0" r="2.7"/><circle cx="1302.1" cy="1062.2" r="2.7"/><circle cx="1307.2" cy="1063.5" r="3.1"/><circle cx="1307.9" cy="1083.4" r="2.6"/><circle cx="1310.3" cy="1061.0" r="3.1"/><circle cx="1317.4" cy="1087.0" r="3.0"/><circle cx="1324.2" cy="1089.4" r="2.6"/><circle cx="1329.4" cy="1063.6" r="3.0"/><circle cx="1327.0" cy="1090.1" r="3.1"/><circle cx="1331.4" cy="1068.9" r="3.2"/><circle cx="1333.6" cy="1090.6" r="2.9"/><circle cx="1337.6" cy="1065.1" r="2.7"/><circle cx="1337.6" cy="1091.8" r="2.7"/><circle cx="1339.8" cy="1089.7" r="2.9"/><circle cx="1345.9" cy="1090.1" r="2.7"/><circle cx="1353.0" cy="1069.7" r="2.8"/><circle cx="1352.7" cy="1089.3" r="2.7"/><circle cx="1357.7" cy="1068.9" r="2.9"/><circle cx="1361.9" cy="1066.0" r="2.7"/><circle cx="1367.2" cy="1065.9" r="3.1"/><circle cx="1367.2" cy="1090.3" r="3.0"/><circle cx="1376.8" cy="1068.6" r="3.0"/><circle cx="1376.3" cy="1088.3" r="3.0"/><circle cx="1388.4" cy="1070.4" r="2.8"/></g>
<g fill="url(#cball)"><circle cx="930.0" cy="1070.2" r="2.4"/><circle cx="936.0" cy="1066.2" r="2.4"/><circle cx="942.0" cy="1065.5" r="2.4"/><circle cx="948.0" cy="1074.9" r="2.4"/><circle cx="954.0" cy="1065.0" r="2.4"/><circle cx="960.0" cy="1064.8" r="2.4"/><circle cx="966.0" cy="1065.7" r="2.4"/><circle cx="972.0" cy="1075.8" r="2.4"/><circle cx="978.0" cy="1065.4" r="2.4"/><circle cx="984.0" cy="1067.0" r="2.4"/><circle cx="990.0" cy="1066.9" r="2.4"/><circle cx="996.0" cy="1066.5" r="2.4"/><circle cx="1002.0" cy="1065.8" r="2.4"/><circle cx="1008.0" cy="1070.0" r="2.4"/><circle cx="1014.0" cy="1074.3" r="2.4"/><circle cx="1020.0" cy="1062.7" r="2.4"/><circle cx="1026.0" cy="1068.7" r="2.4"/><circle cx="1032.0" cy="1067.9" r="2.4"/><circle cx="1038.0" cy="1063.0" r="2.4"/><circle cx="1044.0" cy="1068.5" r="2.4"/><circle cx="1050.0" cy="1073.5" r="2.4"/><circle cx="1056.0" cy="1073.8" r="2.4"/><circle cx="1062.0" cy="1069.8" r="2.4"/><circle cx="1068.0" cy="1064.2" r="2.4"/><circle cx="1074.0" cy="1063.9" r="2.4"/><circle cx="1080.0" cy="1073.8" r="2.4"/><circle cx="1086.0" cy="1069.2" r="2.4"/><circle cx="1092.0" cy="1074.6" r="2.4"/><circle cx="1098.0" cy="1074.8" r="2.4"/><circle cx="1104.0" cy="1070.3" r="2.4"/><circle cx="1110.0" cy="1075.5" r="2.4"/><circle cx="1116.0" cy="1067.3" r="2.4"/><circle cx="1122.0" cy="1078.0" r="2.4"/><circle cx="1128.0" cy="1073.4" r="2.4"/><circle cx="1134.0" cy="1068.8" r="2.4"/><circle cx="1140.0" cy="1080.4" r="2.4"/><circle cx="1146.0" cy="1080.1" r="2.4"/><circle cx="1152.0" cy="1069.5" r="2.4"/><circle cx="1158.0" cy="1080.0" r="2.4"/><circle cx="1164.0" cy="1069.9" r="2.4"/><circle cx="1170.0" cy="1080.1" r="2.4"/><circle cx="1176.0" cy="1070.3" r="2.4"/><circle cx="1182.0" cy="1077.4" r="2.4"/><circle cx="1188.0" cy="1081.8" r="2.4"/><circle cx="1194.0" cy="1083.0" r="2.4"/><circle cx="1200.0" cy="1083.6" r="2.4"/><circle cx="1206.0" cy="1082.8" r="2.4"/><circle cx="1212.0" cy="1082.1" r="2.4"/><circle cx="1218.0" cy="1081.7" r="2.4"/><circle cx="1224.0" cy="1076.5" r="2.4"/><circle cx="1230.0" cy="1075.7" r="2.4"/><circle cx="1236.0" cy="1074.7" r="2.4"/><circle cx="1242.0" cy="1075.2" r="2.4"/><circle cx="1248.0" cy="1075.8" r="2.4"/><circle cx="1254.0" cy="1080.1" r="2.4"/><circle cx="1260.0" cy="1076.3" r="2.4"/><circle cx="1266.0" cy="1070.4" r="2.4"/><circle cx="1272.0" cy="1075.2" r="2.4"/><circle cx="1278.0" cy="1070.7" r="2.4"/><circle cx="1284.0" cy="1069.4" r="2.4"/><circle cx="1290.0" cy="1073.9" r="2.4"/><circle cx="1296.0" cy="1079.0" r="2.4"/><circle cx="1302.0" cy="1078.1" r="2.4"/><circle cx="1308.0" cy="1074.4" r="2.4"/><circle cx="1314.0" cy="1070.0" r="2.4"/><circle cx="1320.0" cy="1070.1" r="2.4"/><circle cx="1326.0" cy="1070.8" r="2.4"/><circle cx="1332.0" cy="1082.6" r="2.4"/><circle cx="1338.0" cy="1072.8" r="2.4"/><circle cx="1344.0" cy="1073.6" r="2.4"/><circle cx="1350.0" cy="1083.5" r="2.4"/><circle cx="1356.0" cy="1083.7" r="2.4"/><circle cx="1362.0" cy="1073.6" r="2.4"/><circle cx="1368.0" cy="1084.2" r="2.4"/><circle cx="1374.0" cy="1084.7" r="2.4"/><circle cx="1380.0" cy="1084.7" r="2.4"/><circle cx="1386.0" cy="1081.0" r="2.4"/></g>
<circle cx="1288.2" cy="1071.7" r="3.6" fill="url(#nball)"/><circle cx="1129.2" cy="1074.6" r="3.6" fill="url(#nball)"/><circle cx="1338.2" cy="1078.4" r="3.6" fill="url(#nball)"/><circle cx="1060.7" cy="1070.0" r="3.6" fill="url(#nball)"/><circle cx="1014.6" cy="1067.3" r="3.6" fill="url(#nball)"/><circle cx="1165.5" cy="1077.5" r="3.6" fill="url(#nball)"/><circle cx="1142.9" cy="1072.2" r="3.4" fill="url(#fball)"/><circle cx="1062.6" cy="1074.0" r="3.4" fill="url(#fball)"/><circle cx="1158.4" cy="1075.3" r="3.4" fill="url(#fball)"/><circle cx="1228.9" cy="1072.1" r="3.4" fill="url(#fball)"/><circle cx="1229.8" cy="1068.9" r="3.4" fill="url(#fball)"/><circle cx="960.2" cy="1074.3" r="3.4" fill="url(#fball)"/>
<path d="M928.0 1105.0L931.0 1104.9L934.0 1104.7L937.0 1104.7L940.0 1104.7L943.0 1104.8L946.0 1104.9L949.0 1105.0L952.0 1105.2L955.0 1105.4L958.0 1105.5L961.0 1105.6L964.0 1105.7L967.0 1105.7L970.0 1105.6L973.0 1105.5L976.0 1105.2L979.0 1104.9L982.0 1104.6L985.0 1104.2L988.0 1103.9L991.0 1103.5L994.0 1103.2L997.0 1102.9L1000.0 1102.7L1003.0 1102.5L1006.0 1102.5L1009.0 1102.5L1012.0 1102.6L1015.0 1102.8L1018.0 1103.1L1021.0 1103.4L1024.0 1103.7L1027.0 1104.0L1030.0 1104.3L1033.0 1104.6L1036.0 1104.8L1039.0 1105.0L1042.0 1105.1L1045.0 1105.2L1048.0 1105.2L1051.0 1105.2L1054.0 1105.1L1057.0 1105.0L1060.0 1105.0L1063.0 1105.0L1066.0 1105.0L1069.0 1105.1L1072.0 1105.3L1075.0 1105.6L1078.0 1105.9L1081.0 1106.3L1084.0 1106.8L1087.0 1107.3L1090.0 1107.8L1093.0 1108.4L1096.0 1108.9L1099.0 1109.4L1102.0 1109.9L1105.0 1110.2L1108.0 1110.5L1111.0 1110.8L1114.0 1110.9L1117.0 1111.0L1120.0 1111.0L1123.0 1110.9L1126.0 1110.8L1129.0 1110.7L1132.0 1110.6L1135.0 1110.6L1138.0 1110.5L1141.0 1110.5L1144.0 1110.6L1147.0 1110.7L1150.0 1110.9L1153.0 1111.2L1156.0 1111.4L1159.0 1111.7L1162.0 1111.9L1165.0 1112.2L1168.0 1112.4L1171.0 1112.5L1174.0 1112.6L1177.0 1112.6L1180.0 1112.5L1183.0 1112.3L1186.0 1112.0L1189.0 1111.7L1192.0 1111.3L1195.0 1111.0L1198.0 1110.6L1201.0 1110.2L1204.0 1109.9L1207.0 1109.6L1210.0 1109.4L1213.0 1109.2L1216.0 1109.2L1219.0 1109.2L1222.0 1109.3L1225.0 1109.4L1228.0 1109.6L1231.0 1109.8L1234.0 1110.0L1237.0 1110.2L1240.0 1110.3L1243.0 1110.4L1246.0 1110.5L1249.0 1110.4L1252.0 1110.4L1255.0 1110.3L1258.0 1110.1L1261.0 1109.9L1264.0 1109.7L1267.0 1109.6L1270.0 1109.5L1273.0 1109.4L1276.0 1109.4L1279.0 1109.4L1282.0 1109.6L1285.0 1109.8L1288.0 1110.2L1291.0 1110.6L1294.0 1111.0L1297.0 1111.5L1300.0 1112.1L1303.0 1112.6L1306.0 1113.1L1309.0 1113.5L1312.0 1113.9L1315.0 1114.3L1318.0 1114.5L1321.0 1114.7L1324.0 1114.9L1327.0 1114.9L1330.0 1115.0L1333.0 1115.0L1336.0 1115.0L1339.0 1115.0L1342.0 1115.0L1345.0 1115.1L1348.0 1115.2L1351.0 1115.4L1354.0 1115.6L1357.0 1116.0L1360.0 1116.3L1363.0 1116.7L1366.0 1117.1L1369.0 1117.5L1372.0 1117.9L1375.0 1118.2L1378.0 1118.5L1381.0 1118.7L1384.0 1118.8L1387.0 1118.8L1390.0 1118.8" fill="none" stroke="url(#patR)" stroke-width="12" stroke-linecap="round"/>
<path d="M935.5 1099.9L933.0 1096.7L935.5 1093.5L940.5 1093.5L943.0 1096.7L940.5 1099.9L935.5 1099.9M942.9 1100.5L944.2 1095.2L949.2 1093.8L952.9 1097.5L951.6 1102.8L946.6 1104.3L942.9 1100.5M969.2 1100.4L965.0 1103.4L959.1 1102.5L957.3 1098.5L961.5 1095.5L967.4 1096.4L969.2 1100.4M967.4 1114.3L967.8 1110.0L972.7 1108.1L977.3 1110.5L976.9 1114.8L972.0 1116.7L967.4 1114.3M978.6 1099.4L980.2 1094.7L986.1 1093.4L990.5 1096.9L988.9 1101.6L982.9 1102.9L978.6 1099.4M998.6 1115.6L993.4 1115.2L991.3 1111.4L994.2 1107.9L999.3 1108.2L1001.5 1112.1L998.6 1115.6M1007.1 1099.1L1004.8 1095.9L1008.1 1093.0L1013.7 1093.4L1016.0 1096.6L1012.7 1099.5L1007.1 1099.1M1026.6 1094.4L1023.3 1097.5L1016.9 1097.5L1013.8 1094.3L1017.1 1091.1L1023.5 1091.2L1026.6 1094.4M1029.9 1114.4L1024.4 1112.0L1024.4 1107.3L1029.8 1104.9L1035.3 1107.2L1035.4 1112.0L1029.9 1114.4M1040.7 1099.5L1041.9 1094.8L1046.5 1093.5L1049.9 1096.9L1048.7 1101.6L1044.1 1102.9L1040.7 1099.5M1059.5 1116.5L1056.0 1113.5L1057.1 1109.2L1061.7 1107.9L1065.3 1110.9L1064.1 1115.2L1059.5 1116.5M1074.5 1100.4L1070.1 1102.5L1066.2 1099.3L1066.8 1094.0L1071.2 1091.9L1075.0 1095.1L1074.5 1100.4M1080.2 1106.5L1076.1 1103.1L1077.0 1097.9L1082.0 1096.1L1086.1 1099.5L1085.2 1104.7L1080.2 1106.5M1098.6 1120.4L1092.7 1120.6L1089.6 1116.7L1092.4 1112.6L1098.3 1112.5L1101.4 1116.4L1098.6 1120.4M1113.4 1108.1L1109.0 1108.9L1106.0 1105.1L1107.6 1100.5L1112.1 1099.7L1115.0 1103.5L1113.4 1108.1M1121.2 1107.0L1119.6 1103.0L1123.7 1099.9L1129.4 1101.0L1131.0 1105.0L1126.9 1108.0L1121.2 1107.0M1139.6 1117.9L1134.9 1119.7L1130.5 1117.5L1130.8 1113.4L1135.5 1111.5L1139.9 1113.8L1139.6 1117.9M1152.0 1117.3L1147.8 1119.7L1142.8 1118.3L1141.9 1114.6L1146.1 1112.2L1151.2 1113.6L1152.0 1117.3M1153.6 1108.1L1153.7 1103.5L1158.8 1101.2L1163.9 1103.5L1163.9 1108.2L1158.7 1110.5L1153.6 1108.1M1170.1 1110.4L1166.8 1105.6L1169.9 1100.6L1176.3 1100.5L1179.6 1105.4L1176.5 1110.3L1170.1 1110.4M1176.8 1123.9L1176.6 1118.4L1182.2 1115.5L1187.9 1118.2L1188.0 1123.7L1182.5 1126.6L1176.8 1123.9M1199.9 1121.5L1195.1 1123.0L1191.0 1120.6L1191.7 1116.7L1196.5 1115.3L1200.6 1117.7L1199.9 1121.5M1209.8 1106.9L1203.5 1107.2L1200.0 1102.4L1202.8 1097.2L1209.2 1096.9L1212.6 1101.7L1209.8 1106.9M1212.8 1105.7L1213.2 1100.8L1217.8 1098.7L1221.9 1101.6L1221.4 1106.4L1216.9 1108.5L1212.8 1105.7M1235.5 1116.7L1232.2 1120.2L1227.7 1119.1L1226.4 1114.4L1229.6 1111.0L1234.1 1112.1L1235.5 1116.7M1243.0 1108.2L1241.0 1104.5L1243.9 1101.2L1248.9 1101.6L1250.9 1105.3L1248.0 1108.6L1243.0 1108.2M1253.7 1103.6L1255.3 1099.3L1260.9 1098.2L1264.8 1101.5L1263.2 1105.8L1257.6 1106.9L1253.7 1103.6M1276.1 1116.1L1273.1 1120.5L1267.9 1120.0L1265.7 1115.1L1268.7 1110.7L1273.9 1111.2L1276.1 1116.1M1276.7 1103.8L1274.8 1099.9L1278.4 1096.8L1284.0 1097.5L1285.9 1101.4L1282.3 1104.5L1276.7 1103.8M1298.4 1118.6L1294.3 1121.3L1288.4 1120.5L1286.5 1117.0L1290.6 1114.3L1296.5 1115.0L1298.4 1118.6M1311.2 1109.8L1306.4 1110.9L1302.6 1108.6L1303.5 1105.1L1308.3 1104.0L1312.2 1106.3L1311.2 1109.8M1312.2 1122.4L1314.1 1117.3L1319.4 1116.4L1322.9 1120.6L1321.0 1125.7L1315.7 1126.6L1312.2 1122.4M1326.1 1113.9L1322.2 1111.1L1323.2 1106.8L1328.0 1105.3L1331.9 1108.2L1331.0 1112.5L1326.1 1113.9M1337.8 1113.3L1333.3 1110.3L1333.8 1105.3L1338.9 1103.1L1343.4 1106.1L1342.9 1111.2L1337.8 1113.3M1357.8 1124.4L1354.6 1128.2L1349.5 1127.5L1347.5 1123.1L1350.6 1119.4L1355.8 1120.0L1357.8 1124.4M1366.2 1129.4L1361.0 1127.5L1360.1 1122.0L1364.4 1118.5L1369.6 1120.5L1370.4 1125.9L1366.2 1129.4M1381.4 1111.5L1378.4 1115.1L1373.2 1114.8L1370.8 1111.0L1373.7 1107.5L1379.0 1107.8L1381.4 1111.5" fill="none" stroke="#5c5c5c" stroke-width="1.6"/>
<path d="M928.0 1105.0L931.0 1104.9L934.0 1104.7L937.0 1104.7L940.0 1104.7L943.0 1104.8L946.0 1104.9L949.0 1105.0L952.0 1105.2L955.0 1105.4L958.0 1105.5L961.0 1105.6L964.0 1105.7L967.0 1105.7L970.0 1105.6L973.0 1105.5L976.0 1105.2L979.0 1104.9L982.0 1104.6L985.0 1104.2L988.0 1103.9L991.0 1103.5L994.0 1103.2L997.0 1102.9L1000.0 1102.7L1003.0 1102.5L1006.0 1102.5L1009.0 1102.5L1012.0 1102.6L1015.0 1102.8L1018.0 1103.1L1021.0 1103.4L1024.0 1103.7L1027.0 1104.0L1030.0 1104.3L1033.0 1104.6L1036.0 1104.8L1039.0 1105.0L1042.0 1105.1L1045.0 1105.2L1048.0 1105.2L1051.0 1105.2L1054.0 1105.1L1057.0 1105.0L1060.0 1105.0L1063.0 1105.0L1066.0 1105.0L1069.0 1105.1L1072.0 1105.3L1075.0 1105.6L1078.0 1105.9L1081.0 1106.3L1084.0 1106.8L1087.0 1107.3L1090.0 1107.8L1093.0 1108.4L1096.0 1108.9L1099.0 1109.4L1102.0 1109.9L1105.0 1110.2L1108.0 1110.5L1111.0 1110.8L1114.0 1110.9L1117.0 1111.0L1120.0 1111.0L1123.0 1110.9L1126.0 1110.8L1129.0 1110.7L1132.0 1110.6L1135.0 1110.6L1138.0 1110.5L1141.0 1110.5L1144.0 1110.6L1147.0 1110.7L1150.0 1110.9L1153.0 1111.2L1156.0 1111.4L1159.0 1111.7L1162.0 1111.9L1165.0 1112.2L1168.0 1112.4L1171.0 1112.5L1174.0 1112.6L1177.0 1112.6L1180.0 1112.5L1183.0 1112.3L1186.0 1112.0L1189.0 1111.7L1192.0 1111.3L1195.0 1111.0L1198.0 1110.6L1201.0 1110.2L1204.0 1109.9L1207.0 1109.6L1210.0 1109.4L1213.0 1109.2L1216.0 1109.2L1219.0 1109.2L1222.0 1109.3L1225.0 1109.4L1228.0 1109.6L1231.0 1109.8L1234.0 1110.0L1237.0 1110.2L1240.0 1110.3L1243.0 1110.4L1246.0 1110.5L1249.0 1110.4L1252.0 1110.4L1255.0 1110.3L1258.0 1110.1L1261.0 1109.9L1264.0 1109.7L1267.0 1109.6L1270.0 1109.5L1273.0 1109.4L1276.0 1109.4L1279.0 1109.4L1282.0 1109.6L1285.0 1109.8L1288.0 1110.2L1291.0 1110.6L1294.0 1111.0L1297.0 1111.5L1300.0 1112.1L1303.0 1112.6L1306.0 1113.1L1309.0 1113.5L1312.0 1113.9L1315.0 1114.3L1318.0 1114.5L1321.0 1114.7L1324.0 1114.9L1327.0 1114.9L1330.0 1115.0L1333.0 1115.0L1336.0 1115.0L1339.0 1115.0L1342.0 1115.0L1345.0 1115.1L1348.0 1115.2L1351.0 1115.4L1354.0 1115.6L1357.0 1116.0L1360.0 1116.3L1363.0 1116.7L1366.0 1117.1L1369.0 1117.5L1372.0 1117.9L1375.0 1118.2L1378.0 1118.5L1381.0 1118.7L1384.0 1118.8L1387.0 1118.8L1390.0 1118.8" fill="none" stroke="#555" stroke-width="2.4"/>
<g fill="url(#hball)" stroke="#8c8c8c" stroke-width="0.5"><circle cx="934.4" cy="1092.1" r="3.1"/><circle cx="939.5" cy="1092.8" r="3.0"/><circle cx="939.5" cy="1113.3" r="3.2"/><circle cx="946.2" cy="1114.8" r="3.1"/><circle cx="949.1" cy="1117.4" r="3.1"/><circle cx="962.1" cy="1095.1" r="3.0"/><circle cx="969.2" cy="1096.5" r="3.1"/><circle cx="966.4" cy="1114.9" r="2.7"/><circle cx="970.1" cy="1093.8" r="2.6"/><circle cx="971.6" cy="1115.1" r="3.1"/><circle cx="979.7" cy="1090.9" r="2.8"/><circle cx="985.6" cy="1090.7" r="3.2"/><circle cx="984.1" cy="1114.7" r="2.8"/><circle cx="990.6" cy="1092.0" r="2.6"/><circle cx="998.7" cy="1089.2" r="2.7"/><circle cx="996.1" cy="1116.0" r="2.7"/><circle cx="1001.6" cy="1093.2" r="3.0"/><circle cx="1004.6" cy="1089.5" r="3.1"/><circle cx="1006.6" cy="1111.5" r="2.6"/><circle cx="1010.5" cy="1091.7" r="3.2"/><circle cx="1007.9" cy="1116.1" r="2.9"/><circle cx="1012.8" cy="1113.7" r="2.7"/><circle cx="1022.8" cy="1090.2" r="3.1"/><circle cx="1029.1" cy="1093.4" r="2.7"/><circle cx="1031.6" cy="1115.6" r="2.7"/><circle cx="1035.1" cy="1092.4" r="2.6"/><circle cx="1041.5" cy="1094.1" r="3.0"/><circle cx="1041.8" cy="1116.9" r="3.1"/><circle cx="1047.2" cy="1115.5" r="2.9"/><circle cx="1051.5" cy="1094.8" r="2.7"/><circle cx="1054.2" cy="1094.4" r="2.8"/><circle cx="1061.3" cy="1118.3" r="2.7"/><circle cx="1064.7" cy="1095.7" r="3.2"/><circle cx="1068.2" cy="1094.9" r="3.1"/><circle cx="1067.9" cy="1116.7" r="2.6"/><circle cx="1071.3" cy="1115.8" r="3.1"/><circle cx="1079.3" cy="1117.2" r="2.6"/><circle cx="1083.7" cy="1096.8" r="2.7"/><circle cx="1087.3" cy="1116.7" r="3.0"/><circle cx="1087.6" cy="1099.1" r="2.7"/><circle cx="1095.6" cy="1121.8" r="2.6"/><circle cx="1100.8" cy="1100.7" r="2.9"/><circle cx="1100.5" cy="1123.8" r="2.8"/><circle cx="1112.9" cy="1102.1" r="2.7"/><circle cx="1117.6" cy="1124.3" r="3.2"/><circle cx="1122.8" cy="1101.0" r="2.9"/><circle cx="1124.2" cy="1124.0" r="2.8"/><circle cx="1125.6" cy="1098.1" r="2.9"/><circle cx="1132.1" cy="1102.0" r="2.7"/><circle cx="1140.2" cy="1122.7" r="2.8"/><circle cx="1145.7" cy="1119.6" r="3.1"/><circle cx="1146.9" cy="1098.0" r="2.9"/><circle cx="1150.0" cy="1120.0" r="3.1"/><circle cx="1154.9" cy="1100.1" r="3.0"/><circle cx="1155.0" cy="1121.1" r="2.9"/><circle cx="1159.2" cy="1125.0" r="3.1"/><circle cx="1166.6" cy="1099.1" r="3.2"/><circle cx="1165.8" cy="1121.7" r="2.8"/><circle cx="1169.4" cy="1100.2" r="2.8"/><circle cx="1167.7" cy="1123.4" r="3.1"/><circle cx="1172.6" cy="1101.3" r="3.0"/><circle cx="1179.6" cy="1102.7" r="2.7"/><circle cx="1176.2" cy="1122.2" r="3.1"/><circle cx="1188.1" cy="1103.0" r="2.7"/><circle cx="1184.7" cy="1123.7" r="2.8"/><circle cx="1190.7" cy="1102.6" r="2.9"/><circle cx="1193.6" cy="1123.1" r="2.6"/><circle cx="1200.4" cy="1100.6" r="2.7"/><circle cx="1206.3" cy="1118.9" r="2.9"/><circle cx="1214.9" cy="1119.9" r="3.1"/><circle cx="1220.4" cy="1095.4" r="2.9"/><circle cx="1224.9" cy="1096.3" r="3.1"/><circle cx="1224.3" cy="1122.8" r="3.1"/><circle cx="1226.4" cy="1096.8" r="3.1"/><circle cx="1231.5" cy="1098.8" r="2.7"/><circle cx="1238.5" cy="1121.8" r="2.8"/><circle cx="1241.6" cy="1124.3" r="2.9"/><circle cx="1248.4" cy="1124.1" r="2.7"/><circle cx="1254.7" cy="1120.0" r="2.9"/><circle cx="1261.3" cy="1098.1" r="2.6"/><circle cx="1265.5" cy="1121.2" r="2.9"/><circle cx="1272.1" cy="1118.7" r="3.1"/><circle cx="1276.2" cy="1117.9" r="2.8"/><circle cx="1284.7" cy="1118.7" r="2.9"/><circle cx="1287.6" cy="1097.9" r="2.7"/><circle cx="1288.4" cy="1121.7" r="3.0"/><circle cx="1300.1" cy="1099.2" r="2.6"/><circle cx="1300.6" cy="1124.6" r="2.9"/><circle cx="1304.0" cy="1103.8" r="2.8"/><circle cx="1305.4" cy="1126.0" r="2.7"/><circle cx="1311.6" cy="1101.6" r="3.1"/><circle cx="1322.4" cy="1125.8" r="3.0"/><circle cx="1326.3" cy="1123.8" r="3.0"/><circle cx="1329.7" cy="1105.0" r="2.9"/><circle cx="1328.4" cy="1127.1" r="3.1"/><circle cx="1332.5" cy="1104.6" r="2.7"/><circle cx="1336.8" cy="1101.0" r="2.8"/><circle cx="1335.4" cy="1125.6" r="2.7"/><circle cx="1346.1" cy="1106.1" r="3.0"/><circle cx="1346.0" cy="1126.9" r="2.7"/><circle cx="1351.3" cy="1128.6" r="3.0"/><circle cx="1354.3" cy="1106.1" r="2.6"/><circle cx="1359.9" cy="1106.6" r="3.0"/><circle cx="1356.5" cy="1127.0" r="3.1"/><circle cx="1361.5" cy="1129.7" r="3.1"/><circle cx="1372.8" cy="1131.4" r="2.9"/><circle cx="1376.0" cy="1130.2" r="2.7"/><circle cx="1384.3" cy="1108.6" r="2.6"/><circle cx="1385.0" cy="1131.7" r="2.7"/><circle cx="1388.8" cy="1104.9" r="3.0"/><circle cx="1387.1" cy="1128.3" r="2.9"/></g>
<g fill="url(#cball)"><circle cx="930.0" cy="1110.4" r="2.4"/><circle cx="936.0" cy="1104.9" r="2.4"/><circle cx="942.0" cy="1110.1" r="2.4"/><circle cx="948.0" cy="1099.8" r="2.4"/><circle cx="954.0" cy="1105.3" r="2.4"/><circle cx="960.0" cy="1099.9" r="2.4"/><circle cx="966.0" cy="1110.0" r="2.4"/><circle cx="972.0" cy="1105.9" r="2.4"/><circle cx="978.0" cy="1110.2" r="2.4"/><circle cx="984.0" cy="1108.9" r="2.4"/><circle cx="990.0" cy="1108.8" r="2.4"/><circle cx="996.0" cy="1107.7" r="2.4"/><circle cx="1002.0" cy="1102.0" r="2.4"/><circle cx="1008.0" cy="1102.8" r="2.4"/><circle cx="1014.0" cy="1102.5" r="2.4"/><circle cx="1020.0" cy="1097.5" r="2.4"/><circle cx="1026.0" cy="1108.9" r="2.4"/><circle cx="1032.0" cy="1104.3" r="2.4"/><circle cx="1038.0" cy="1109.5" r="2.4"/><circle cx="1044.0" cy="1104.4" r="2.4"/><circle cx="1050.0" cy="1099.6" r="2.4"/><circle cx="1056.0" cy="1110.8" r="2.4"/><circle cx="1062.0" cy="1104.4" r="2.4"/><circle cx="1068.0" cy="1104.4" r="2.4"/><circle cx="1074.0" cy="1105.2" r="2.4"/><circle cx="1080.0" cy="1101.3" r="2.4"/><circle cx="1086.0" cy="1107.8" r="2.4"/><circle cx="1092.0" cy="1103.6" r="2.4"/><circle cx="1098.0" cy="1114.2" r="2.4"/><circle cx="1104.0" cy="1115.8" r="2.4"/><circle cx="1110.0" cy="1106.1" r="2.4"/><circle cx="1116.0" cy="1110.3" r="2.4"/><circle cx="1122.0" cy="1115.6" r="2.4"/><circle cx="1128.0" cy="1105.5" r="2.4"/><circle cx="1134.0" cy="1116.2" r="2.4"/><circle cx="1140.0" cy="1109.9" r="2.4"/><circle cx="1146.0" cy="1105.7" r="2.4"/><circle cx="1152.0" cy="1106.1" r="2.4"/><circle cx="1158.0" cy="1116.8" r="2.4"/><circle cx="1164.0" cy="1117.4" r="2.4"/><circle cx="1170.0" cy="1106.8" r="2.4"/><circle cx="1176.0" cy="1111.8" r="2.4"/><circle cx="1182.0" cy="1112.0" r="2.4"/><circle cx="1188.0" cy="1111.1" r="2.4"/><circle cx="1194.0" cy="1111.0" r="2.4"/><circle cx="1200.0" cy="1111.0" r="2.4"/><circle cx="1206.0" cy="1113.9" r="2.4"/><circle cx="1212.0" cy="1104.8" r="2.4"/><circle cx="1218.0" cy="1104.6" r="2.4"/><circle cx="1224.0" cy="1103.6" r="2.4"/><circle cx="1230.0" cy="1104.8" r="2.4"/><circle cx="1236.0" cy="1110.0" r="2.4"/><circle cx="1242.0" cy="1110.0" r="2.4"/><circle cx="1248.0" cy="1110.0" r="2.4"/><circle cx="1254.0" cy="1111.0" r="2.4"/><circle cx="1260.0" cy="1105.6" r="2.4"/><circle cx="1266.0" cy="1104.5" r="2.4"/><circle cx="1272.0" cy="1104.4" r="2.4"/><circle cx="1278.0" cy="1104.3" r="2.4"/><circle cx="1284.0" cy="1110.3" r="2.4"/><circle cx="1290.0" cy="1109.6" r="2.4"/><circle cx="1296.0" cy="1111.9" r="2.4"/><circle cx="1302.0" cy="1112.4" r="2.4"/><circle cx="1308.0" cy="1118.1" r="2.4"/><circle cx="1314.0" cy="1108.5" r="2.4"/><circle cx="1320.0" cy="1114.0" r="2.4"/><circle cx="1326.0" cy="1115.7" r="2.4"/><circle cx="1332.0" cy="1119.9" r="2.4"/><circle cx="1338.0" cy="1120.3" r="2.4"/><circle cx="1344.0" cy="1109.8" r="2.4"/><circle cx="1350.0" cy="1110.4" r="2.4"/><circle cx="1356.0" cy="1121.3" r="2.4"/><circle cx="1362.0" cy="1111.5" r="2.4"/><circle cx="1368.0" cy="1112.1" r="2.4"/><circle cx="1374.0" cy="1112.4" r="2.4"/><circle cx="1380.0" cy="1118.8" r="2.4"/><circle cx="1386.0" cy="1119.2" r="2.4"/></g>
<circle cx="1303.0" cy="1111.2" r="3.6" fill="url(#nball)"/><circle cx="1293.7" cy="1114.7" r="3.6" fill="url(#nball)"/><circle cx="1033.6" cy="1107.2" r="3.6" fill="url(#nball)"/><circle cx="1141.9" cy="1109.3" r="3.6" fill="url(#nball)"/><circle cx="1288.3" cy="1106.8" r="3.6" fill="url(#nball)"/><circle cx="1222.2" cy="1110.0" r="3.6" fill="url(#nball)"/><circle cx="1051.5" cy="1103.9" r="3.4" fill="url(#fball)"/><circle cx="991.0" cy="1104.3" r="3.4" fill="url(#fball)"/><circle cx="1237.2" cy="1115.7" r="3.4" fill="url(#fball)"/><circle cx="1001.7" cy="1104.0" r="3.4" fill="url(#fball)"/><circle cx="1280.2" cy="1111.5" r="3.4" fill="url(#fball)"/><circle cx="1069.5" cy="1110.3" r="3.4" fill="url(#fball)"/>
<path d="M928.0 1139.6L931.0 1139.7L934.0 1139.9L937.0 1140.0L940.0 1140.1L943.0 1140.1L946.0 1140.1L949.0 1140.0L952.0 1139.9L955.0 1139.6L958.0 1139.4L961.0 1139.1L964.0 1138.7L967.0 1138.4L970.0 1138.1L973.0 1137.9L976.0 1137.7L979.0 1137.5L982.0 1137.5L985.0 1137.5L988.0 1137.7L991.0 1137.9L994.0 1138.2L997.0 1138.5L1000.0 1138.9L1003.0 1139.3L1006.0 1139.7L1009.0 1140.1L1012.0 1140.4L1015.0 1140.7L1018.0 1141.0L1021.0 1141.1L1024.0 1141.2L1027.0 1141.3L1030.0 1141.3L1033.0 1141.3L1036.0 1141.3L1039.0 1141.3L1042.0 1141.3L1045.0 1141.4L1048.0 1141.6L1051.0 1141.8L1054.0 1142.1L1057.0 1142.5L1060.0 1142.9L1063.0 1143.4L1066.0 1143.9L1069.0 1144.4L1072.0 1144.9L1075.0 1145.4L1078.0 1145.8L1081.0 1146.2L1084.0 1146.5L1087.0 1146.8L1090.0 1146.9L1093.0 1146.9L1096.0 1146.9L1099.0 1146.8L1102.0 1146.7L1105.0 1146.5L1108.0 1146.3L1111.0 1146.1L1114.0 1146.0L1117.0 1145.9L1120.0 1145.9L1123.0 1145.9L1126.0 1145.9L1129.0 1146.1L1132.0 1146.2L1135.0 1146.4L1138.0 1146.6L1141.0 1146.8L1144.0 1147.0L1147.0 1147.1L1150.0 1147.2L1153.0 1147.2L1156.0 1147.1L1159.0 1146.9L1162.0 1146.7L1165.0 1146.4L1168.0 1146.0L1171.0 1145.6L1174.0 1145.2L1177.0 1144.9L1180.0 1144.5L1183.0 1144.2L1186.0 1144.0L1189.0 1143.8L1192.0 1143.7L1195.0 1143.7L1198.0 1143.8L1201.0 1144.0L1204.0 1144.2L1207.0 1144.4L1210.0 1144.7L1213.0 1145.0L1216.0 1145.2L1219.0 1145.4L1222.0 1145.6L1225.0 1145.7L1228.0 1145.8L1231.0 1145.8L1234.0 1145.7L1237.0 1145.6L1240.0 1145.5L1243.0 1145.4L1246.0 1145.4L1249.0 1145.3L1252.0 1145.3L1255.0 1145.4L1258.0 1145.6L1261.0 1145.8L1264.0 1146.1L1267.0 1146.6L1270.0 1147.0L1273.0 1147.5L1276.0 1148.1L1279.0 1148.6L1282.0 1149.2L1285.0 1149.7L1288.0 1150.1L1291.0 1150.5L1294.0 1150.8L1297.0 1151.0L1300.0 1151.2L1303.0 1151.3L1306.0 1151.3L1309.0 1151.3L1312.0 1151.2L1315.0 1151.2L1318.0 1151.1L1321.0 1151.1L1324.0 1151.1L1327.0 1151.2L1330.0 1151.4L1333.0 1151.6L1336.0 1151.8L1339.0 1152.1L1342.0 1152.4L1345.0 1152.7L1348.0 1153.1L1351.0 1153.3L1354.0 1153.6L1357.0 1153.7L1360.0 1153.8L1363.0 1153.8L1366.0 1153.8L1369.0 1153.6L1372.0 1153.3L1375.0 1153.0L1378.0 1152.7L1381.0 1152.3L1384.0 1152.0L1387.0 1151.6L1390.0 1151.3" fill="none" stroke="url(#patR)" stroke-width="12" stroke-linecap="round"/>
<path d="M941.3 1149.8L935.5 1150.1L932.2 1146.9L934.7 1143.3L940.5 1143.0L943.8 1146.3L941.3 1149.8M957.3 1134.6L953.0 1136.6L949.3 1133.1L950.0 1127.5L954.4 1125.5L958.0 1129.0L957.3 1134.6M963.1 1146.9L964.3 1143.1L968.9 1142.0L972.3 1144.8L971.1 1148.6L966.5 1149.6L963.1 1146.9M979.1 1150.5L974.1 1150.2L971.8 1145.2L974.6 1140.6L979.6 1140.9L981.9 1145.9L979.1 1150.5M992.6 1134.4L987.8 1133.8L985.9 1128.9L988.7 1124.5L993.5 1125.1L995.4 1130.0L992.6 1134.4M1009.1 1133.1L1005.3 1136.8L1000.6 1134.8L999.7 1129.1L1003.5 1125.4L1008.2 1127.4L1009.1 1133.1M1020.8 1148.6L1017.4 1152.3L1013.1 1150.5L1012.2 1145.0L1015.6 1141.3L1019.9 1143.1L1020.8 1148.6M1025.0 1138.9L1021.8 1134.1L1025.1 1129.3L1031.4 1129.3L1034.6 1134.1L1031.3 1138.9L1025.0 1138.9M1040.3 1138.3L1036.3 1135.7L1036.7 1131.4L1041.2 1129.5L1045.2 1132.0L1044.8 1136.4L1040.3 1138.3M1048.9 1149.9L1050.3 1144.7L1055.0 1143.4L1058.3 1147.5L1056.8 1152.7L1052.2 1153.9L1048.9 1149.9M1061.8 1141.1L1059.2 1137.5L1062.6 1134.3L1068.6 1134.6L1071.2 1138.1L1067.8 1141.3L1061.8 1141.1M1074.5 1154.7L1077.6 1150.3L1084.0 1150.2L1087.3 1154.5L1084.2 1158.9L1077.8 1159.0L1074.5 1154.7M1094.4 1143.7L1090.2 1146.5L1085.9 1143.9L1085.8 1138.5L1090.0 1135.7L1094.3 1138.3L1094.4 1143.7M1109.3 1154.5L1104.0 1156.3L1099.3 1153.8L1099.9 1149.6L1105.1 1147.8L1109.8 1150.3L1109.3 1154.5M1110.2 1143.1L1108.7 1138.8L1113.3 1135.8L1119.3 1137.1L1120.8 1141.3L1116.2 1144.4L1110.2 1143.1M1132.0 1153.6L1127.7 1156.6L1122.5 1154.9L1121.7 1150.1L1126.0 1147.0L1131.1 1148.8L1132.0 1153.6M1131.5 1154.9L1131.5 1150.8L1136.0 1148.8L1140.4 1150.9L1140.3 1155.0L1135.8 1157.0L1131.5 1154.9M1144.9 1142.0L1143.4 1138.5L1147.2 1135.9L1152.4 1136.8L1153.9 1140.3L1150.1 1142.9L1144.9 1142.0M1152.9 1156.2L1154.3 1150.9L1159.4 1149.4L1163.1 1153.2L1161.8 1158.5L1156.7 1160.0L1152.9 1156.2M1162.9 1151.7L1165.6 1147.9L1171.1 1147.8L1173.9 1151.6L1171.2 1155.4L1165.7 1155.4L1162.9 1151.7M1174.2 1153.3L1174.3 1148.6L1178.3 1146.3L1182.2 1148.8L1182.1 1153.5L1178.1 1155.7L1174.2 1153.3M1195.6 1152.5L1192.8 1156.5L1187.5 1156.3L1185.1 1152.1L1187.9 1148.1L1193.1 1148.3L1195.6 1152.5M1201.2 1141.5L1200.6 1136.4L1204.6 1133.3L1209.1 1135.4L1209.7 1140.5L1205.7 1143.6L1201.2 1141.5M1219.4 1145.3L1215.1 1142.1L1215.8 1137.1L1221.0 1135.1L1225.3 1138.3L1224.6 1143.3L1219.4 1145.3M1227.8 1153.1L1229.1 1148.6L1234.6 1147.3L1238.9 1150.3L1237.7 1154.8L1232.1 1156.2L1227.8 1153.1M1243.1 1155.4L1243.9 1150.5L1248.3 1148.8L1252.0 1152.0L1251.2 1156.8L1246.8 1158.6L1243.1 1155.4M1264.3 1145.7L1259.5 1144.4L1258.2 1139.5L1261.7 1135.8L1266.5 1137.1L1267.8 1142.1L1264.3 1145.7M1270.2 1159.0L1267.5 1155.3L1269.5 1151.2L1274.1 1150.8L1276.8 1154.5L1274.8 1158.6L1270.2 1159.0M1287.7 1158.7L1281.6 1159.2L1277.8 1156.1L1280.2 1152.5L1286.3 1152.0L1290.0 1155.1L1287.7 1158.7M1289.7 1146.0L1287.6 1141.1L1291.8 1137.1L1298.0 1138.1L1300.1 1143.0L1296.0 1147.0L1289.7 1146.0M1309.9 1146.7L1304.4 1147.5L1300.8 1144.1L1302.7 1139.9L1308.2 1139.2L1311.8 1142.6L1309.9 1146.7M1321.3 1163.1L1315.4 1163.2L1312.4 1158.6L1315.3 1154.0L1321.2 1153.9L1324.2 1158.5L1321.3 1163.1M1334.8 1158.6L1332.0 1162.0L1327.5 1161.4L1325.7 1157.5L1328.6 1154.0L1333.1 1154.6L1334.8 1158.6M1338.1 1149.6L1334.9 1147.0L1336.2 1143.6L1340.6 1142.7L1343.8 1145.3L1342.5 1148.8L1338.1 1149.6M1352.6 1161.3L1347.9 1162.4L1344.4 1159.8L1345.5 1156.2L1350.1 1155.1L1353.7 1157.7L1352.6 1161.3M1367.4 1163.4L1363.5 1167.7L1357.4 1166.9L1355.0 1161.8L1358.9 1157.5L1365.1 1158.3L1367.4 1163.4M1377.9 1148.1L1374.3 1152.2L1369.2 1150.8L1367.8 1145.5L1371.4 1141.5L1376.4 1142.8L1377.9 1148.1" fill="none" stroke="#5c5c5c" stroke-width="1.6"/>
<path d="M928.0 1139.6L931.0 1139.7L934.0 1139.9L937.0 1140.0L940.0 1140.1L943.0 1140.1L946.0 1140.1L949.0 1140.0L952.0 1139.9L955.0 1139.6L958.0 1139.4L961.0 1139.1L964.0 1138.7L967.0 1138.4L970.0 1138.1L973.0 1137.9L976.0 1137.7L979.0 1137.5L982.0 1137.5L985.0 1137.5L988.0 1137.7L991.0 1137.9L994.0 1138.2L997.0 1138.5L1000.0 1138.9L1003.0 1139.3L1006.0 1139.7L1009.0 1140.1L1012.0 1140.4L1015.0 1140.7L1018.0 1141.0L1021.0 1141.1L1024.0 1141.2L1027.0 1141.3L1030.0 1141.3L1033.0 1141.3L1036.0 1141.3L1039.0 1141.3L1042.0 1141.3L1045.0 1141.4L1048.0 1141.6L1051.0 1141.8L1054.0 1142.1L1057.0 1142.5L1060.0 1142.9L1063.0 1143.4L1066.0 1143.9L1069.0 1144.4L1072.0 1144.9L1075.0 1145.4L1078.0 1145.8L1081.0 1146.2L1084.0 1146.5L1087.0 1146.8L1090.0 1146.9L1093.0 1146.9L1096.0 1146.9L1099.0 1146.8L1102.0 1146.7L1105.0 1146.5L1108.0 1146.3L1111.0 1146.1L1114.0 1146.0L1117.0 1145.9L1120.0 1145.9L1123.0 1145.9L1126.0 1145.9L1129.0 1146.1L1132.0 1146.2L1135.0 1146.4L1138.0 1146.6L1141.0 1146.8L1144.0 1147.0L1147.0 1147.1L1150.0 1147.2L1153.0 1147.2L1156.0 1147.1L1159.0 1146.9L1162.0 1146.7L1165.0 1146.4L1168.0 1146.0L1171.0 1145.6L1174.0 1145.2L1177.0 1144.9L1180.0 1144.5L1183.0 1144.2L1186.0 1144.0L1189.0 1143.8L1192.0 1143.7L1195.0 1143.7L1198.0 1143.8L1201.0 1144.0L1204.0 1144.2L1207.0 1144.4L1210.0 1144.7L1213.0 1145.0L1216.0 1145.2L1219.0 1145.4L1222.0 1145.6L1225.0 1145.7L1228.0 1145.8L1231.0 1145.8L1234.0 1145.7L1237.0 1145.6L1240.0 1145.5L1243.0 1145.4L1246.0 1145.4L1249.0 1145.3L1252.0 1145.3L1255.0 1145.4L1258.0 1145.6L1261.0 1145.8L1264.0 1146.1L1267.0 1146.6L1270.0 1147.0L1273.0 1147.5L1276.0 1148.1L1279.0 1148.6L1282.0 1149.2L1285.0 1149.7L1288.0 1150.1L1291.0 1150.5L1294.0 1150.8L1297.0 1151.0L1300.0 1151.2L1303.0 1151.3L1306.0 1151.3L1309.0 1151.3L1312.0 1151.2L1315.0 1151.2L1318.0 1151.1L1321.0 1151.1L1324.0 1151.1L1327.0 1151.2L1330.0 1151.4L1333.0 1151.6L1336.0 1151.8L1339.0 1152.1L1342.0 1152.4L1345.0 1152.7L1348.0 1153.1L1351.0 1153.3L1354.0 1153.6L1357.0 1153.7L1360.0 1153.8L1363.0 1153.8L1366.0 1153.8L1369.0 1153.6L1372.0 1153.3L1375.0 1153.0L1378.0 1152.7L1381.0 1152.3L1384.0 1152.0L1387.0 1151.6L1390.0 1151.3" fill="none" stroke="#555" stroke-width="2.4"/>
<g fill="url(#hball)" stroke="#8c8c8c" stroke-width="0.5"><circle cx="928.4" cy="1128.1" r="2.9"/><circle cx="933.0" cy="1127.7" r="2.7"/><circle cx="936.4" cy="1152.4" r="3.0"/><circle cx="943.2" cy="1151.9" r="2.7"/><circle cx="946.6" cy="1127.2" r="3.0"/><circle cx="954.6" cy="1150.2" r="3.1"/><circle cx="958.7" cy="1125.9" r="3.1"/><circle cx="962.6" cy="1152.7" r="3.1"/><circle cx="969.2" cy="1129.6" r="2.9"/><circle cx="965.9" cy="1152.1" r="3.1"/><circle cx="972.0" cy="1124.3" r="3.2"/><circle cx="971.8" cy="1151.6" r="2.7"/><circle cx="974.5" cy="1148.8" r="3.0"/><circle cx="983.9" cy="1126.7" r="3.1"/><circle cx="985.5" cy="1148.5" r="2.7"/><circle cx="990.6" cy="1125.0" r="3.0"/><circle cx="994.8" cy="1126.3" r="2.6"/><circle cx="991.9" cy="1150.4" r="3.1"/><circle cx="996.0" cy="1128.0" r="2.9"/><circle cx="999.7" cy="1147.7" r="2.8"/><circle cx="1005.8" cy="1126.4" r="3.1"/><circle cx="1009.8" cy="1129.1" r="2.6"/><circle cx="1013.2" cy="1132.1" r="3.1"/><circle cx="1012.3" cy="1152.7" r="3.0"/><circle cx="1017.7" cy="1128.8" r="2.8"/><circle cx="1024.9" cy="1154.4" r="3.2"/><circle cx="1034.7" cy="1152.9" r="2.7"/><circle cx="1040.8" cy="1128.8" r="3.2"/><circle cx="1040.7" cy="1153.5" r="3.2"/><circle cx="1045.3" cy="1132.3" r="2.6"/><circle cx="1047.8" cy="1155.5" r="2.8"/><circle cx="1050.3" cy="1150.8" r="2.8"/><circle cx="1054.5" cy="1129.7" r="3.0"/><circle cx="1064.0" cy="1134.9" r="3.2"/><circle cx="1067.9" cy="1131.1" r="2.8"/><circle cx="1074.0" cy="1131.7" r="3.0"/><circle cx="1085.1" cy="1136.1" r="2.9"/><circle cx="1091.0" cy="1138.0" r="2.7"/><circle cx="1094.3" cy="1136.9" r="3.2"/><circle cx="1103.6" cy="1133.1" r="3.0"/><circle cx="1100.6" cy="1156.1" r="3.0"/><circle cx="1111.9" cy="1155.6" r="3.1"/><circle cx="1115.7" cy="1134.1" r="2.6"/><circle cx="1115.2" cy="1160.0" r="2.9"/><circle cx="1125.2" cy="1154.9" r="2.7"/><circle cx="1129.3" cy="1158.7" r="2.9"/><circle cx="1130.8" cy="1156.8" r="3.2"/><circle cx="1137.5" cy="1137.8" r="2.8"/><circle cx="1137.1" cy="1159.1" r="2.7"/><circle cx="1140.2" cy="1133.9" r="2.8"/><circle cx="1142.9" cy="1135.4" r="2.6"/><circle cx="1149.1" cy="1133.7" r="2.6"/><circle cx="1152.5" cy="1134.3" r="3.0"/><circle cx="1152.2" cy="1158.7" r="3.0"/><circle cx="1158.2" cy="1134.1" r="3.0"/><circle cx="1154.9" cy="1156.8" r="2.9"/><circle cx="1160.8" cy="1158.6" r="2.6"/><circle cx="1163.9" cy="1136.5" r="3.2"/><circle cx="1167.7" cy="1136.7" r="2.9"/><circle cx="1176.9" cy="1133.5" r="3.1"/><circle cx="1176.9" cy="1155.5" r="3.2"/><circle cx="1182.2" cy="1152.9" r="2.8"/><circle cx="1190.5" cy="1130.6" r="2.8"/><circle cx="1194.9" cy="1130.7" r="2.6"/><circle cx="1200.1" cy="1135.1" r="2.8"/><circle cx="1201.1" cy="1133.8" r="2.9"/><circle cx="1202.1" cy="1158.1" r="3.0"/><circle cx="1208.2" cy="1134.2" r="2.6"/><circle cx="1215.4" cy="1154.6" r="3.1"/><circle cx="1225.1" cy="1134.8" r="2.8"/><circle cx="1225.2" cy="1157.8" r="2.8"/><circle cx="1228.8" cy="1157.0" r="2.8"/><circle cx="1233.1" cy="1135.9" r="3.0"/><circle cx="1235.0" cy="1131.9" r="3.2"/><circle cx="1239.2" cy="1135.3" r="3.0"/><circle cx="1245.2" cy="1155.1" r="3.0"/><circle cx="1254.4" cy="1134.2" r="3.0"/><circle cx="1257.0" cy="1134.7" r="2.8"/><circle cx="1262.3" cy="1133.6" r="3.0"/><circle cx="1261.0" cy="1159.2" r="2.7"/><circle cx="1268.9" cy="1135.9" r="2.7"/><circle cx="1268.9" cy="1156.1" r="2.7"/><circle cx="1280.3" cy="1159.1" r="2.6"/><circle cx="1284.4" cy="1161.5" r="3.0"/><circle cx="1286.8" cy="1137.3" r="2.6"/><circle cx="1287.9" cy="1159.4" r="3.1"/><circle cx="1293.0" cy="1137.7" r="2.8"/><circle cx="1293.8" cy="1137.0" r="3.1"/><circle cx="1299.4" cy="1139.1" r="2.8"/><circle cx="1300.6" cy="1162.6" r="3.2"/><circle cx="1304.5" cy="1139.0" r="2.9"/><circle cx="1305.2" cy="1163.8" r="2.7"/><circle cx="1309.8" cy="1137.6" r="3.2"/><circle cx="1317.6" cy="1139.0" r="2.8"/><circle cx="1324.7" cy="1141.0" r="2.9"/><circle cx="1325.0" cy="1164.6" r="3.1"/><circle cx="1329.7" cy="1160.1" r="2.7"/><circle cx="1334.2" cy="1141.9" r="3.1"/><circle cx="1332.1" cy="1161.0" r="2.7"/><circle cx="1335.8" cy="1142.5" r="2.7"/><circle cx="1338.8" cy="1165.4" r="2.8"/><circle cx="1343.1" cy="1139.3" r="3.0"/><circle cx="1344.2" cy="1143.3" r="3.1"/><circle cx="1345.9" cy="1162.3" r="3.1"/><circle cx="1349.1" cy="1163.6" r="2.7"/><circle cx="1355.3" cy="1142.1" r="2.7"/><circle cx="1352.5" cy="1162.9" r="2.7"/><circle cx="1356.5" cy="1141.3" r="2.7"/><circle cx="1358.2" cy="1163.7" r="2.9"/><circle cx="1368.1" cy="1141.6" r="2.7"/><circle cx="1370.1" cy="1164.3" r="2.9"/><circle cx="1386.6" cy="1139.3" r="3.0"/></g>
<g fill="url(#cball)"><circle cx="930.0" cy="1145.2" r="2.4"/><circle cx="936.0" cy="1135.3" r="2.4"/><circle cx="942.0" cy="1140.1" r="2.4"/><circle cx="948.0" cy="1145.7" r="2.4"/><circle cx="954.0" cy="1133.9" r="2.4"/><circle cx="960.0" cy="1144.2" r="2.4"/><circle cx="966.0" cy="1133.6" r="2.4"/><circle cx="972.0" cy="1137.3" r="2.4"/><circle cx="978.0" cy="1132.5" r="2.4"/><circle cx="984.0" cy="1132.0" r="2.4"/><circle cx="990.0" cy="1138.3" r="2.4"/><circle cx="996.0" cy="1132.9" r="2.4"/><circle cx="1002.0" cy="1144.5" r="2.4"/><circle cx="1008.0" cy="1135.2" r="2.4"/><circle cx="1014.0" cy="1135.3" r="2.4"/><circle cx="1020.0" cy="1146.7" r="2.4"/><circle cx="1026.0" cy="1142.0" r="2.4"/><circle cx="1032.0" cy="1141.4" r="2.4"/><circle cx="1038.0" cy="1136.7" r="2.4"/><circle cx="1044.0" cy="1141.3" r="2.4"/><circle cx="1050.0" cy="1146.4" r="2.4"/><circle cx="1056.0" cy="1137.8" r="2.4"/><circle cx="1062.0" cy="1148.3" r="2.4"/><circle cx="1068.0" cy="1143.9" r="2.4"/><circle cx="1074.0" cy="1140.6" r="2.4"/><circle cx="1080.0" cy="1150.6" r="2.4"/><circle cx="1086.0" cy="1142.3" r="2.4"/><circle cx="1092.0" cy="1141.4" r="2.4"/><circle cx="1098.0" cy="1147.3" r="2.4"/><circle cx="1104.0" cy="1146.6" r="2.4"/><circle cx="1110.0" cy="1151.2" r="2.4"/><circle cx="1116.0" cy="1146.1" r="2.4"/><circle cx="1122.0" cy="1145.6" r="2.4"/><circle cx="1128.0" cy="1145.3" r="2.4"/><circle cx="1134.0" cy="1150.8" r="2.4"/><circle cx="1140.0" cy="1152.2" r="2.4"/><circle cx="1146.0" cy="1147.0" r="2.4"/><circle cx="1152.0" cy="1147.3" r="2.4"/><circle cx="1158.0" cy="1147.1" r="2.4"/><circle cx="1164.0" cy="1146.0" r="2.4"/><circle cx="1170.0" cy="1150.2" r="2.4"/><circle cx="1176.0" cy="1145.1" r="2.4"/><circle cx="1182.0" cy="1144.6" r="2.4"/><circle cx="1188.0" cy="1139.3" r="2.4"/><circle cx="1194.0" cy="1148.1" r="2.4"/><circle cx="1200.0" cy="1139.2" r="2.4"/><circle cx="1206.0" cy="1144.7" r="2.4"/><circle cx="1212.0" cy="1139.8" r="2.4"/><circle cx="1218.0" cy="1146.0" r="2.4"/><circle cx="1224.0" cy="1146.4" r="2.4"/><circle cx="1230.0" cy="1146.0" r="2.4"/><circle cx="1236.0" cy="1141.4" r="2.4"/><circle cx="1242.0" cy="1140.6" r="2.4"/><circle cx="1248.0" cy="1141.1" r="2.4"/><circle cx="1254.0" cy="1144.9" r="2.4"/><circle cx="1260.0" cy="1146.3" r="2.4"/><circle cx="1266.0" cy="1152.1" r="2.4"/><circle cx="1272.0" cy="1148.0" r="2.4"/><circle cx="1278.0" cy="1143.1" r="2.4"/><circle cx="1284.0" cy="1149.0" r="2.4"/><circle cx="1290.0" cy="1146.1" r="2.4"/><circle cx="1296.0" cy="1151.3" r="2.4"/><circle cx="1302.0" cy="1151.5" r="2.4"/><circle cx="1308.0" cy="1152.0" r="2.4"/><circle cx="1314.0" cy="1155.7" r="2.4"/><circle cx="1320.0" cy="1146.5" r="2.4"/><circle cx="1326.0" cy="1151.5" r="2.4"/><circle cx="1332.0" cy="1156.8" r="2.4"/><circle cx="1338.0" cy="1152.6" r="2.4"/><circle cx="1344.0" cy="1148.1" r="2.4"/><circle cx="1350.0" cy="1157.7" r="2.4"/><circle cx="1356.0" cy="1149.3" r="2.4"/><circle cx="1362.0" cy="1153.9" r="2.4"/><circle cx="1368.0" cy="1153.2" r="2.4"/><circle cx="1374.0" cy="1153.3" r="2.4"/><circle cx="1380.0" cy="1148.2" r="2.4"/><circle cx="1386.0" cy="1146.9" r="2.4"/></g>
<circle cx="1030.4" cy="1140.7" r="3.6" fill="url(#nball)"/><circle cx="1080.6" cy="1148.1" r="3.6" fill="url(#nball)"/><circle cx="1334.8" cy="1153.7" r="3.6" fill="url(#nball)"/><circle cx="1344.6" cy="1150.2" r="3.6" fill="url(#nball)"/><circle cx="1252.7" cy="1143.2" r="3.6" fill="url(#nball)"/><circle cx="985.3" cy="1141.2" r="3.6" fill="url(#nball)"/><circle cx="1327.9" cy="1156.8" r="3.4" fill="url(#fball)"/><circle cx="1249.6" cy="1147.8" r="3.4" fill="url(#fball)"/><circle cx="999.8" cy="1132.7" r="3.4" fill="url(#fball)"/><circle cx="1116.1" cy="1151.5" r="3.4" fill="url(#fball)"/><circle cx="1093.2" cy="1144.6" r="3.4" fill="url(#fball)"/><circle cx="1231.7" cy="1145.9" r="3.4" fill="url(#fball)"/>
<clipPath id="clipa"><rect x="90" y="21.9" width="656.4" height="488.0"/></clipPath>
<g fill="#6ba61a" clip-path="url(#clipa)"><rect x="90.5" y="432.4" width="2.9" height="16.200000000000045"/><rect x="104.9" y="432.4" width="4.6" height="16.200000000000045"/><rect x="124.9" y="432.4" width="3.4" height="16.200000000000045"/><rect x="137.3" y="432.4" width="5.2" height="16.200000000000045"/><rect x="147.0" y="432.4" width="4.8" height="16.200000000000045"/><rect x="166.8" y="432.4" width="5.1" height="16.200000000000045"/><rect x="171.4" y="432.4" width="3.2" height="16.200000000000045"/><rect x="175.3" y="432.4" width="5.2" height="16.200000000000045"/><rect x="188.0" y="432.4" width="3.1" height="16.200000000000045"/><rect x="192.9" y="432.4" width="5.4" height="16.200000000000045"/><rect x="198.6" y="432.4" width="3.6" height="16.200000000000045"/><rect x="201.6" y="432.4" width="3.8" height="16.200000000000045"/><rect x="208.4" y="432.4" width="3.5" height="16.200000000000045"/><rect x="211.2" y="432.4" width="3.4" height="16.200000000000045"/><rect x="214.1" y="432.4" width="6.3" height="16.200000000000045"/><rect x="232.6" y="432.4" width="4.2" height="16.200000000000045"/><rect x="236.5" y="432.4" width="3.7" height="16.200000000000045"/><rect x="240.4" y="432.4" width="4.9" height="16.200000000000045"/><rect x="250.4" y="432.4" width="5.3" height="16.200000000000045"/><rect x="255.1" y="432.4" width="5.5" height="16.200000000000045"/><rect x="261.6" y="432.4" width="3.2" height="16.200000000000045"/><rect x="266.4" y="432.4" width="2.9" height="16.200000000000045"/><rect x="270.7" y="432.4" width="3.9" height="16.200000000000045"/><rect x="274.1" y="432.4" width="5.4" height="16.200000000000045"/><rect x="285.9" y="432.4" width="19.1" height="16.200000000000045"/><rect x="309.5" y="432.4" width="2.9" height="16.200000000000045"/><rect x="312.9" y="432.4" width="4.0" height="16.200000000000045"/><rect x="318.8" y="432.4" width="3.2" height="16.200000000000045"/><rect x="325.4" y="432.4" width="3.2" height="16.200000000000045"/><rect x="330.1" y="432.4" width="4.4" height="16.200000000000045"/><rect x="335.0" y="432.4" width="9.1" height="16.200000000000045"/><rect x="345.5" y="432.4" width="2.8" height="16.200000000000045"/><rect x="348.6" y="432.4" width="3.5" height="16.200000000000045"/><rect x="352.8" y="432.4" width="3.0" height="16.200000000000045"/><rect x="356.9" y="432.4" width="6.5" height="16.200000000000045"/><rect x="363.4" y="432.4" width="2.8" height="16.200000000000045"/><rect x="367.3" y="432.4" width="2.9" height="16.200000000000045"/><rect x="372.8" y="432.4" width="2.8" height="16.200000000000045"/><rect x="376.9" y="432.4" width="20.0" height="16.200000000000045"/><rect x="396.4" y="432.4" width="5.9" height="16.200000000000045"/><rect x="404.5" y="432.4" width="4.8" height="16.200000000000045"/><rect x="409.5" y="432.4" width="4.1" height="16.200000000000045"/><rect x="418.9" y="432.4" width="13.7" height="16.200000000000045"/><rect x="432.3" y="432.4" width="7.3" height="16.200000000000045"/><rect x="440.3" y="432.4" width="3.6" height="16.200000000000045"/><rect x="444.1" y="432.4" width="3.2" height="16.200000000000045"/><rect x="447.5" y="432.4" width="9.5" height="16.200000000000045"/><rect x="456.6" y="432.4" width="2.7" height="16.200000000000045"/><rect x="461.4" y="432.4" width="6.9" height="16.200000000000045"/><rect x="470.7" y="432.4" width="3.9" height="16.200000000000045"/><rect x="474.5" y="432.4" width="3.2" height="16.200000000000045"/><rect x="482.7" y="432.4" width="13.6" height="16.200000000000045"/><rect x="496.9" y="432.4" width="4.3" height="16.200000000000045"/><rect x="501.7" y="432.4" width="13.9" height="16.200000000000045"/><rect x="516.4" y="432.4" width="229.1" height="16.200000000000045"/></g>
<path d="M90.5 477.2L91.0 477.3L91.5 478.5L92.0 477.8L92.5 478.0L93.0 478.6L93.5 477.5L94.0 477.2L94.5 476.8L95.0 475.9L95.5 474.8L96.0 474.6L96.5 474.0L97.0 474.2L97.5 473.5L98.0 474.1L98.5 475.1L99.0 475.8L99.5 475.0L100.0 476.2L100.5 476.0L101.0 476.5L101.5 476.9L102.0 477.5L102.5 478.6L103.0 479.2L103.5 480.7L104.0 482.8L104.5 484.0L105.0 477.5L105.5 471.3L106.0 476.8L106.5 483.0L107.0 481.5L107.5 478.7L108.0 477.1L108.5 476.7L109.0 476.7L109.5 476.0L110.0 476.5L110.5 476.0L111.0 476.1L111.5 476.5L112.0 476.9L112.5 477.0L113.0 477.5L113.5 477.3L114.0 476.8L114.5 476.1L115.0 475.7L115.5 475.8L116.0 475.0L116.5 474.1L117.0 474.3L117.5 474.4L118.0 475.3L118.5 475.3L119.0 476.6L119.5 476.4L120.0 476.5L120.5 476.6L121.0 477.3L121.5 477.2L122.0 477.2L122.5 477.9L123.0 477.9L123.5 478.4L124.0 478.0L124.5 476.9L125.0 478.1L125.5 476.9L126.0 477.9L126.5 477.6L127.0 476.5L127.5 475.9L128.0 475.5L128.5 475.9L129.0 475.0L129.5 474.3L130.0 473.9L130.5 474.4L131.0 473.6L131.5 473.9L132.0 474.3L132.5 475.0L133.0 475.6L133.5 475.6L134.0 476.4L134.5 476.6L135.0 476.8L135.5 477.4L136.0 476.8L136.5 477.0L137.0 476.8L137.5 476.8L138.0 477.3L138.5 476.8L139.0 476.8L139.5 477.2L140.0 477.2L140.5 477.3L141.0 477.0L141.5 476.2L142.0 477.0L142.5 476.8L143.0 476.9L143.5 476.1L144.0 477.1L144.5 475.7L145.0 476.3L145.5 475.9L146.0 475.6L146.5 475.9L147.0 475.4L147.5 474.6L148.0 474.8L148.5 475.3L149.0 475.9L149.5 474.5L150.0 475.0L150.5 475.6L151.0 475.5L151.5 475.4L152.0 475.4L152.5 475.7L153.0 476.5L153.5 477.0L154.0 476.7L154.5 477.2L155.0 478.1L155.5 478.0L156.0 478.0L156.5 478.3L157.0 478.3L157.5 479.0L158.0 479.4L158.5 479.6L159.0 479.2L159.5 479.2L160.0 479.5L160.5 479.5L161.0 479.1L161.5 478.6L162.0 477.4L162.5 476.3L163.0 476.3L163.5 473.2L164.0 469.1L164.5 466.7L165.0 472.0L165.5 478.5L166.0 476.2L166.5 471.7L167.0 468.9L167.5 465.4L168.0 463.7L168.5 473.3L169.0 481.5L169.5 479.1L170.0 476.0L170.5 473.8L171.0 474.4L171.5 474.9L172.0 475.7L172.5 476.2L173.0 477.4L173.5 477.6L174.0 478.2L174.5 477.9L175.0 477.6L175.5 478.2L176.0 477.8L176.5 478.5L177.0 478.2L177.5 478.2L178.0 478.0L178.5 478.0L179.0 477.2L179.5 478.4L180.0 477.7L180.5 478.3L181.0 477.8L181.5 477.9L182.0 477.8L182.5 477.5L183.0 477.8L183.5 478.0L184.0 477.6L184.5 477.2L185.0 477.4L185.5 477.6L186.0 477.9L186.5 477.7L187.0 477.5L187.5 476.9L188.0 477.5L188.5 477.2L189.0 477.0L189.5 477.4L190.0 477.2L190.5 477.1L191.0 476.5L191.5 476.6L192.0 476.2L192.5 476.8L193.0 476.6L193.5 476.9L194.0 476.6L194.5 476.3L195.0 477.1L195.5 476.0L196.0 475.8L196.5 476.0L197.0 476.3L197.5 476.0L198.0 475.9L198.5 475.6L199.0 476.5L199.5 475.8L200.0 475.6L200.5 476.0L201.0 475.7L201.5 476.0L202.0 476.6L202.5 476.0L203.0 476.2L203.5 476.2L204.0 476.3L204.5 476.7L205.0 476.7L205.5 476.5L206.0 476.3L206.5 476.7L207.0 477.1L207.5 476.8L208.0 476.9L208.5 476.3L209.0 477.3L209.5 476.5L210.0 476.6L210.5 476.9L211.0 477.0L211.5 477.0L212.0 476.6L212.5 476.7L213.0 476.6L213.5 476.1L214.0 476.6L214.5 476.3L215.0 476.6L215.5 476.4L216.0 476.7L216.5 476.5L217.0 476.5L217.5 476.6L218.0 476.3L218.5 476.0L219.0 476.5L219.5 475.7L220.0 476.0L220.5 476.3L221.0 475.9L221.5 476.3L222.0 475.7L222.5 475.8L223.0 476.2L223.5 476.2L224.0 476.4L224.5 476.0L225.0 476.1L225.5 476.2L226.0 476.2L226.5 475.5L227.0 475.8L227.5 476.5L228.0 475.6L228.5 476.6L229.0 477.0L229.5 478.5L230.0 478.7L230.5 479.8L231.0 479.9L231.5 481.0L232.0 479.6L232.5 475.3L233.0 474.4L233.5 473.9L234.0 474.7L234.5 474.4L235.0 476.4L235.5 476.3L236.0 476.8L236.5 476.8L237.0 477.0L237.5 478.0L238.0 477.5L238.5 478.1L239.0 477.9L239.5 478.1L240.0 477.8L240.5 478.1L241.0 478.6L241.5 477.6L242.0 477.1L242.5 476.3L243.0 476.4L243.5 476.1L244.0 474.7L244.5 474.6L245.0 475.7L245.5 475.2L246.0 475.3L246.5 475.6L247.0 476.1L247.5 476.3L248.0 476.2L248.5 477.3L249.0 476.8L249.5 476.6L250.0 476.8L250.5 477.0L251.0 476.9L251.5 476.9L252.0 477.1L252.5 475.8L253.0 476.6L253.5 477.2L254.0 477.0L254.5 476.5L255.0 476.5L255.5 477.1L256.0 476.6L256.5 476.5L257.0 477.3L257.5 476.4L258.0 476.8L258.5 476.5L259.0 476.5L259.5 476.2L260.0 476.2L260.5 476.9L261.0 476.1L261.5 476.6L262.0 476.1L262.5 476.4L263.0 476.5L263.5 475.9L264.0 476.9L264.5 476.5L265.0 476.9L265.5 476.2L266.0 476.8L266.5 477.4L267.0 476.6L267.5 476.3L268.0 476.7L268.5 476.6L269.0 476.5L269.5 476.5L270.0 476.4L270.5 476.7L271.0 476.5L271.5 476.3L272.0 476.9L272.5 476.6L273.0 477.5L273.5 476.5L274.0 476.4L274.5 476.5L275.0 476.8L275.5 476.4L276.0 476.2L276.5 477.3L277.0 476.3L277.5 477.2L278.0 476.8L278.5 476.4L279.0 477.3L279.5 476.7L280.0 476.4L280.5 476.8L281.0 477.2L281.5 477.0L282.0 477.1L282.5 477.4L283.0 476.9L283.5 476.9L284.0 476.7L284.5 476.3L285.0 476.8L285.5 477.4L286.0 476.3L286.5 477.3L287.0 477.0L287.5 476.6L288.0 476.9L288.5 477.5L289.0 476.7L289.5 477.2L290.0 477.3L290.5 476.6L291.0 477.2L291.5 477.1L292.0 476.8L292.5 477.2L293.0 476.8L293.5 476.8L294.0 476.5L294.5 477.1L295.0 476.8L295.5 476.8L296.0 476.6L296.5 476.5L297.0 476.7L297.5 477.2L298.0 476.7L298.5 477.5L299.0 477.1L299.5 477.1L300.0 476.6L300.5 477.7L301.0 476.5L301.5 477.2L302.0 477.6L302.5 476.9L303.0 476.8L303.5 477.0L304.0 477.3L304.5 477.5L305.0 477.2L305.5 476.6L306.0 476.8L306.5 477.1L307.0 476.6L307.5 476.9L308.0 477.8L308.5 476.6L309.0 477.4L309.5 476.7L310.0 476.9L310.5 477.0L311.0 476.5L311.5 477.0L312.0 477.5L312.5 477.3L313.0 477.2L313.5 476.7L314.0 476.9L314.5 477.1L315.0 477.2L315.5 477.5L316.0 476.7L316.5 477.6L317.0 476.9L317.5 476.9L318.0 476.6L318.5 477.0L319.0 476.9L319.5 476.6L320.0 476.9L320.5 477.0L321.0 476.9L321.5 477.3L322.0 476.6L322.5 477.3L323.0 476.9L323.5 477.1L324.0 476.4L324.5 477.0L325.0 477.0L325.5 477.3L326.0 476.6L326.5 477.5L327.0 476.6L327.5 477.5L328.0 477.2L328.5 476.7L329.0 477.8L329.5 476.6L330.0 476.9L330.5 477.1L331.0 477.2L331.5 477.1L332.0 477.3L332.5 477.2L333.0 477.0L333.5 476.7L334.0 476.9L334.5 477.3L335.0 476.6L335.5 477.0L336.0 476.3L336.5 476.8L337.0 476.4L337.5 477.4L338.0 476.4L338.5 476.9L339.0 477.3L339.5 477.2L340.0 477.3L340.5 477.4L341.0 477.2L341.5 477.3L342.0 477.0L342.5 477.0L343.0 476.4L343.5 477.1L344.0 477.4L344.5 476.7L345.0 476.6L345.5 477.0L346.0 477.4L346.5 477.4L347.0 476.5L347.5 477.2L348.0 476.8L348.5 477.1L349.0 476.2L349.5 477.3L350.0 476.9L350.5 477.1L351.0 476.9L351.5 476.6L352.0 477.2L352.5 476.8L353.0 476.8L353.5 477.2L354.0 477.0L354.5 476.8L355.0 477.3L355.5 476.8L356.0 477.0L356.5 477.3L357.0 477.3L357.5 477.4L358.0 477.6L358.5 477.0L359.0 476.7L359.5 477.6L360.0 477.5L360.5 476.9L361.0 477.2L361.5 476.9L362.0 476.5L362.5 477.4L363.0 477.1L363.5 477.0L364.0 477.6L364.5 477.5L365.0 476.8L365.5 476.6L366.0 476.3L366.5 477.0L367.0 476.9L367.5 477.1L368.0 477.0L368.5 476.8L369.0 476.9L369.5 476.5L370.0 477.4L370.5 476.8L371.0 477.2L371.5 476.8L372.0 477.0L372.5 477.2L373.0 476.9L373.5 476.7L374.0 477.8L374.5 476.9L375.0 477.2L375.5 477.0L376.0 476.7L376.5 477.5L377.0 477.1L377.5 477.1L378.0 476.2L378.5 477.1L379.0 477.3L379.5 477.1L380.0 476.9L380.5 477.4L381.0 477.1L381.5 477.2L382.0 477.4L382.5 477.4L383.0 476.5L383.5 477.1L384.0 476.7L384.5 476.3L385.0 477.1L385.5 476.4L386.0 476.8L386.5 476.1L387.0 476.6L387.5 476.8L388.0 477.0L388.5 476.8L389.0 476.7L389.5 476.7L390.0 477.5L390.5 476.8L391.0 477.0L391.5 477.7L392.0 476.4L392.5 476.3L393.0 476.6L393.5 476.9L394.0 476.6L394.5 477.0L395.0 477.0L395.5 476.5L396.0 477.1L396.5 476.5L397.0 477.2L397.5 477.1L398.0 477.8L398.5 477.3L399.0 476.9L399.5 477.1L400.0 477.0L400.5 476.7L401.0 476.5L401.5 477.4L402.0 477.5L402.5 476.8L403.0 476.9L403.5 476.8L404.0 477.4L404.5 477.4L405.0 476.7L405.5 476.9L406.0 476.8L406.5 477.1L407.0 477.3L407.5 477.4L408.0 476.9L408.5 476.7L409.0 477.2L409.5 477.2L410.0 476.9L410.5 477.1L411.0 477.1L411.5 477.3L412.0 477.0L412.5 477.2L413.0 477.1L413.5 476.7L414.0 477.2L414.5 477.0L415.0 477.4L415.5 476.6L416.0 476.8L416.5 477.1L417.0 476.4L417.5 477.0L418.0 476.8L418.5 476.9L419.0 476.9L419.5 476.2L420.0 477.0L420.5 477.0L421.0 477.4L421.5 477.5L422.0 477.1L422.5 477.3L423.0 476.2L423.5 477.2L424.0 477.4L424.5 477.3L425.0 477.1L425.5 476.9L426.0 476.9L426.5 477.0L427.0 477.2L427.5 477.2L428.0 477.0L428.5 476.6L429.0 477.6L429.5 476.7L430.0 476.1L430.5 477.5L431.0 477.4L431.5 477.1L432.0 477.3L432.5 477.2L433.0 476.7L433.5 477.0L434.0 476.6L434.5 476.8L435.0 476.7L435.5 477.1L436.0 477.4L436.5 476.8L437.0 477.2L437.5 476.3L438.0 476.6L438.5 477.2L439.0 477.3L439.5 477.3L440.0 477.4L440.5 476.4L441.0 476.8L441.5 476.1L442.0 476.9L442.5 477.1L443.0 476.9L443.5 476.7L444.0 477.2L444.5 477.2L445.0 477.0L445.5 476.8L446.0 477.0L446.5 477.0L447.0 477.1L447.5 477.2L448.0 477.0L448.5 476.5L449.0 476.9L449.5 477.1L450.0 476.8L450.5 477.1L451.0 476.8L451.5 477.5L452.0 477.1L452.5 477.0L453.0 477.3L453.5 477.3L454.0 477.0L454.5 477.4L455.0 477.2L455.5 477.1L456.0 477.0L456.5 476.6L457.0 477.1L457.5 477.1L458.0 476.7L458.5 477.5L459.0 477.0L459.5 476.6L460.0 476.9L460.5 477.0L461.0 477.0L461.5 476.7L462.0 477.0L462.5 476.5L463.0 476.8L463.5 477.2L464.0 476.8L464.5 477.2L465.0 477.3L465.5 476.8L466.0 476.2L466.5 477.3L467.0 477.5L467.5 476.4L468.0 477.1L468.5 477.1L469.0 476.4L469.5 476.8L470.0 477.4L470.5 477.1L471.0 477.0L471.5 477.4L472.0 476.8L472.5 476.4L473.0 477.5L473.5 476.7L474.0 477.0L474.5 477.4L475.0 477.1L475.5 477.1L476.0 476.8L476.5 477.2L477.0 477.8L477.5 476.8L478.0 476.6L478.5 477.1L479.0 476.8L479.5 477.1L480.0 477.0L480.5 477.2L481.0 477.1L481.5 477.1L482.0 477.5L482.5 476.7L483.0 477.0L483.5 477.1L484.0 476.6L484.5 476.7L485.0 476.9L485.5 476.8L486.0 477.4L486.5 477.1L487.0 478.0L487.5 476.9L488.0 476.9L488.5 477.8L489.0 476.8L489.5 477.8L490.0 475.9L490.5 476.8L491.0 477.5L491.5 477.6L492.0 477.2L492.5 476.8L493.0 477.0L493.5 477.3L494.0 477.1L494.5 477.4L495.0 476.8L495.5 477.3L496.0 477.5L496.5 478.1L497.0 477.3L497.5 477.3L498.0 476.7L498.5 476.6L499.0 476.2L499.5 477.2L500.0 477.7L500.5 477.0L501.0 476.2L501.5 477.1L502.0 477.0L502.5 476.9L503.0 477.6L503.5 477.5L504.0 477.5L504.5 476.7L505.0 477.2L505.5 476.6L506.0 477.4L506.5 476.6L507.0 477.5L507.5 477.1L508.0 477.1L508.5 476.5L509.0 477.3L509.5 476.4L510.0 476.6L510.5 476.7L511.0 477.8L511.5 477.1L512.0 476.8L512.5 477.2L513.0 477.9L513.5 477.0L514.0 476.7L514.5 476.6L515.0 477.0L515.5 477.6L516.0 477.0L516.5 476.9L517.0 476.7L517.5 476.6L518.0 477.4L518.5 477.1L519.0 477.2L519.5 476.5L520.0 477.2L520.5 477.1L521.0 477.6L521.5 477.4L522.0 476.9L522.5 477.1L523.0 477.1L523.5 477.0L524.0 476.7L524.5 477.3L525.0 477.8L525.5 477.0L526.0 477.6L526.5 476.9L527.0 476.9L527.5 477.0L528.0 476.9L528.5 477.4L529.0 477.4L529.5 476.1L530.0 477.3L530.5 477.2L531.0 477.6L531.5 476.7L532.0 477.1L532.5 477.4L533.0 477.3L533.5 477.6L534.0 476.7L534.5 476.8L535.0 477.2L535.5 476.5L536.0 477.2L536.5 477.3L537.0 477.1L537.5 476.5L538.0 476.8L538.5 476.9L539.0 477.2L539.5 477.1L540.0 476.9L540.5 476.4L541.0 476.4L541.5 476.7L542.0 476.6L542.5 476.8L543.0 476.6L543.5 477.0L544.0 476.8L544.5 477.1L545.0 477.0L545.5 477.2L546.0 476.7L546.5 476.7L547.0 476.6L547.5 477.0L548.0 477.3L548.5 477.4L549.0 477.1L549.5 477.0L550.0 477.3L550.5 477.0L551.0 476.7L551.5 477.3L552.0 476.9L552.5 476.5L553.0 476.9L553.5 476.7L554.0 477.0L554.5 476.7L555.0 476.9L555.5 476.8L556.0 477.0L556.5 477.2L557.0 477.1L557.5 477.0L558.0 477.4L558.5 476.5L559.0 477.1L559.5 477.4L560.0 477.2L560.5 477.4L561.0 476.7L561.5 477.4L562.0 476.8L562.5 477.4L563.0 477.1L563.5 477.3L564.0 476.7L564.5 476.9L565.0 476.4L565.5 477.1L566.0 477.3L566.5 477.1L567.0 477.4L567.5 477.2L568.0 477.1L568.5 477.2L569.0 476.8L569.5 477.3L570.0 477.1L570.5 477.1L571.0 477.0L571.5 476.8L572.0 476.7L572.5 476.9L573.0 477.3L573.5 476.4L574.0 477.1L574.5 478.3L575.0 477.1L575.5 477.0L576.0 477.2L576.5 477.0L577.0 477.1L577.5 477.1L578.0 476.7L578.5 477.5L579.0 477.1L579.5 477.4L580.0 477.1L580.5 477.4L581.0 477.1L581.5 478.1L582.0 477.5L582.5 477.5L583.0 477.0L583.5 476.5L584.0 476.9L584.5 477.2L585.0 477.1L585.5 476.9L586.0 476.8L586.5 476.6L587.0 476.9L587.5 477.3L588.0 477.3L588.5 477.3L589.0 477.0L589.5 477.1L590.0 477.0L590.5 477.2L591.0 477.1L591.5 477.3L592.0 477.0L592.5 477.0L593.0 477.5L593.5 477.5L594.0 476.3L594.5 477.1L595.0 477.1L595.5 477.3L596.0 476.3L596.5 476.4L597.0 476.9L597.5 477.0L598.0 476.6L598.5 477.4L599.0 477.4L599.5 477.2L600.0 477.3L600.5 476.6L601.0 476.9L601.5 476.2L602.0 477.3L602.5 477.4L603.0 477.1L603.5 476.6L604.0 477.0L604.5 477.3L605.0 476.6L605.5 477.1L606.0 477.2L606.5 476.7L607.0 476.8L607.5 477.4L608.0 477.3L608.5 477.5L609.0 477.1L609.5 476.7L610.0 477.0L610.5 476.8L611.0 476.9L611.5 477.2L612.0 477.5L612.5 477.1L613.0 477.6L613.5 476.6L614.0 476.9L614.5 477.0L615.0 476.3L615.5 476.5L616.0 476.9L616.5 477.0L617.0 477.2L617.5 477.0L618.0 476.9L618.5 476.5L619.0 477.0L619.5 477.6L620.0 477.2L620.5 476.8L621.0 477.1L621.5 477.2L622.0 477.4L622.5 476.8L623.0 477.2L623.5 477.2L624.0 476.9L624.5 477.0L625.0 476.9L625.5 477.0L626.0 477.1L626.5 476.6L627.0 477.0L627.5 477.5L628.0 477.0L628.5 476.4L629.0 477.5L629.5 476.9L630.0 477.1L630.5 477.2L631.0 476.9L631.5 476.7L632.0 476.8L632.5 477.1L633.0 477.0L633.5 476.9L634.0 477.8L634.5 477.1L635.0 477.3L635.5 477.7L636.0 477.1L636.5 476.9L637.0 476.9L637.5 477.1L638.0 477.6L638.5 477.4L639.0 477.0L639.5 476.8L640.0 477.3L640.5 477.6L641.0 476.8L641.5 477.6L642.0 477.1L642.5 477.0L643.0 476.9L643.5 476.8L644.0 476.9L644.5 477.5L645.0 476.5L645.5 476.9L646.0 477.0L646.5 476.6L647.0 476.9L647.5 476.5L648.0 477.2L648.5 477.2L649.0 476.5L649.5 477.5L650.0 476.7L650.5 476.4L651.0 476.4L651.5 477.2L652.0 476.2L652.5 477.0L653.0 477.1L653.5 477.3L654.0 476.9L654.5 477.4L655.0 476.9L655.5 477.3L656.0 476.7L656.5 477.1L657.0 476.9L657.5 477.1L658.0 477.8L658.5 477.0L659.0 477.0L659.5 477.1L660.0 477.1L660.5 476.2L661.0 477.3L661.5 476.5L662.0 476.3L662.5 477.0L663.0 476.6L663.5 477.1L664.0 477.4L664.5 477.0L665.0 476.7L665.5 477.0L666.0 477.7L666.5 477.0L667.0 477.6L667.5 477.5L668.0 476.6L668.5 477.3L669.0 476.5L669.5 477.2L670.0 477.2L670.5 476.9L671.0 476.5L671.5 476.9L672.0 476.9L672.5 477.2L673.0 477.0L673.5 477.2L674.0 476.9L674.5 476.4L675.0 477.0L675.5 477.5L676.0 476.7L676.5 476.6L677.0 476.3L677.5 477.6L678.0 476.6L678.5 477.4L679.0 477.1L679.5 477.0L680.0 477.0L680.5 477.7L681.0 477.6L681.5 477.2L682.0 476.9L682.5 477.5L683.0 477.2L683.5 477.0L684.0 477.2L684.5 476.7L685.0 477.3L685.5 476.9L686.0 476.9L686.5 476.6L687.0 477.0L687.5 477.2L688.0 476.5L688.5 477.1L689.0 477.2L689.5 477.5L690.0 477.4L690.5 476.8L691.0 477.4L691.5 477.2L692.0 476.9L692.5 476.7L693.0 477.3L693.5 477.3L694.0 476.8L694.5 477.1L695.0 476.9L695.5 476.7L696.0 476.7L696.5 477.2L697.0 477.1L697.5 477.1L698.0 477.1L698.5 477.0L699.0 477.3L699.5 476.4L700.0 477.3L700.5 476.6L701.0 476.9L701.5 477.0L702.0 477.0L702.5 477.2L703.0 476.7L703.5 477.6L704.0 477.4L704.5 477.2L705.0 477.3L705.5 476.9L706.0 476.4L706.5 476.5L707.0 477.2L707.5 476.1L708.0 477.5L708.5 477.1L709.0 476.7L709.5 476.8L710.0 476.4L710.5 477.0L711.0 477.1L711.5 477.4L712.0 476.6L712.5 477.4L713.0 477.1L713.5 477.0L714.0 477.0L714.5 477.1L715.0 477.6L715.5 477.5L716.0 477.3L716.5 476.7L717.0 476.9L717.5 477.3L718.0 477.1L718.5 476.7L719.0 477.6L719.5 477.8L720.0 477.2L720.5 476.9L721.0 477.0L721.5 476.7L722.0 476.6L722.5 477.1L723.0 476.9L723.5 477.3L724.0 478.0L724.5 477.2L725.0 477.0L725.5 477.1L726.0 477.2L726.5 477.5L727.0 477.1L727.5 477.3L728.0 476.7L728.5 476.7L729.0 477.0L729.5 477.3L730.0 476.7L730.5 477.5L731.0 476.7L731.5 477.1L732.0 477.0L732.5 477.6L733.0 476.7L733.5 476.7L734.0 476.9L734.5 477.3L735.0 477.3L735.5 476.6L736.0 476.8L736.5 476.6L737.0 477.6L737.5 477.2L738.0 477.3L738.5 476.3L739.0 477.1L739.5 476.9L740.0 477.4L740.5 476.5L741.0 477.5L741.5 477.3L742.0 477.3L742.5 476.6L743.0 477.7L743.5 477.1L744.0 477.2L744.5 477.1L745.0 477.0L745.5 477.1" fill="none" stroke="#ff8000" stroke-width="3.1" stroke-linejoin="round"/>
<path d="M90.5 396.7L92.8 396.3L95.2 396.2L97.5 395.6L99.9 396.1L102.2 395.8L102.8 390.0L104.2 237.3L104.7 232.6L105.2 237.4L106.6 389.6L106.9 395.2L109.3 396.5L111.6 396.7L113.9 396.2L116.3 396.1L118.6 396.0L121.0 395.7L122.3 396.0L123.8 392.7L125.3 395.4L125.7 396.0L128.0 396.6L130.4 396.3L132.7 395.9L135.1 396.0L137.2 394.8L138.7 384.7L140.2 394.4L142.1 396.1L144.4 396.4L145.8 396.6L147.0 394.1L148.2 395.8L149.1 396.0L151.5 395.5L153.8 395.9L156.2 395.9L158.5 396.5L160.8 396.2L163.2 395.7L165.5 396.4L166.4 394.5L167.8 354.9L168.3 354.0L168.8 355.3L170.2 394.3L170.2 394.8L172.6 395.5L173.8 395.7L175.0 393.8L176.2 396.1L177.3 396.5L179.6 396.5L182.0 396.6L184.3 395.9L186.6 396.5L189.0 395.6L191.3 396.0L192.6 395.3L194.2 394.3L195.8 396.3L196.0 396.0L198.4 396.7L200.7 396.0L203.1 396.2L205.4 396.2L205.9 395.6L207.5 394.6L209.1 396.5L210.1 395.9L212.4 396.5L214.8 396.2L217.1 396.7L219.5 396.3L221.8 396.4L224.2 396.4L226.5 396.3L228.9 395.8L231.2 396.6L232.3 394.9L233.8 389.8L235.3 395.5L235.9 395.8L238.2 396.2L240.6 396.6L242.9 396.2L245.3 395.9L247.6 395.3L250.0 395.9L252.3 395.6L253.8 392.8L255.3 395.5L257.0 396.3L259.3 396.0L261.7 396.2L264.0 396.4L266.4 395.9L268.7 396.1L271.1 396.8L273.4 396.5L275.8 395.8L278.1 396.2L280.4 396.4L282.8 396.6L285.1 396.2L287.5 396.0L289.8 396.0L292.2 396.4L294.5 396.3L295.8 395.7L297.5 393.6L299.2 395.7L299.2 396.1L301.5 396.0L303.9 396.3L306.2 396.5L308.6 396.3L310.9 395.9L313.3 396.6L314.1 395.8L315.8 394.6L317.5 395.7L318.0 395.6L320.3 396.3L322.7 396.3L325.0 396.2L327.3 396.3L329.7 396.0L332.0 396.0L334.4 396.1L336.7 396.8L339.1 396.4L341.4 396.0L343.8 396.4L346.1 396.1L348.4 396.1L350.8 396.5L353.1 396.0L355.5 395.7L357.8 395.9L360.2 396.2L362.5 396.2L364.9 396.6L367.2 396.0L369.6 396.4L371.9 396.3L374.2 396.2L376.6 396.5L378.9 396.3L381.3 395.9L383.6 396.5L386.0 395.8L388.3 396.2L390.7 396.2L393.0 396.3L395.3 396.0L397.7 396.2L400.0 396.2L402.4 396.5L404.7 396.0L407.1 396.2L409.4 396.1L411.8 395.8L414.1 397.0L416.5 396.2L418.8 395.8L421.1 396.6L423.5 395.9L425.8 396.3L428.2 396.5L430.5 396.0L432.9 396.1L435.2 396.0L437.6 396.2L439.9 395.7L442.2 395.8L444.6 396.2L446.9 396.5L449.3 396.4L451.6 396.7L454.0 396.4L456.3 396.0L458.7 396.2L461.0 395.6L463.4 395.9L465.7 395.9L468.0 396.3L470.4 396.4L472.7 396.0L475.1 396.0L477.4 395.7L479.8 396.2L482.1 396.3L484.5 396.3L486.8 396.0L489.1 396.8L491.5 396.6L493.8 396.2L496.2 396.0L498.5 396.1L500.9 396.2L503.2 396.2L505.6 396.3L507.9 396.4L510.3 396.6L512.6 396.5L514.9 396.2L517.3 396.3L519.6 396.1L522.0 396.0L524.3 396.8L526.7 396.1L529.0 396.8L531.4 396.1L533.7 396.3L536.0 396.5L538.4 396.2L540.7 396.3L543.1 396.1L545.4 396.1L547.8 396.2L550.1 396.0L552.5 396.7L554.8 396.1L557.2 396.7L559.5 395.4L561.8 396.2L564.2 396.4L566.5 396.1L568.9 396.5L571.2 396.4L572.8 396.1L574.2 395.4L574.7 396.0L575.2 395.3L576.6 396.3L578.3 396.1L580.6 396.2L582.9 395.8L585.3 396.1L587.6 396.9L590.0 396.5L592.3 396.4L594.7 396.5L597.0 396.8L599.4 396.4L601.7 396.8L604.1 396.5L606.4 396.2L608.7 396.7L611.1 395.5L613.4 396.0L615.8 396.3L618.1 395.9L620.5 396.2L622.8 396.0L625.2 396.0L627.5 397.0L629.8 396.4L632.2 396.2L634.5 396.6L636.9 396.1L639.2 396.5L641.6 396.3L643.9 396.7L646.3 395.8L648.6 396.4L651.0 396.2L653.3 395.9L655.6 396.5L658.0 395.9L660.3 396.7L662.7 396.4L665.0 396.4L667.4 396.2L669.7 396.5L672.1 395.6L674.4 396.2L676.7 396.0L679.1 396.3L681.4 396.2L683.8 396.4L686.1 395.9L688.5 396.8L690.8 396.9L693.2 396.1L695.5 396.2L697.9 396.3L700.2 396.6L702.5 396.8L704.9 395.8L707.2 396.0L709.6 395.9L711.9 395.9L714.3 395.7L716.6 396.3L719.0 395.9L721.3 396.7L723.6 396.5L726.0 395.9L728.3 395.9L730.7 396.0L733.0 396.6L735.4 395.9L737.7 395.8L740.1 396.2L742.4 396.3L744.8 396.0" fill="none" stroke="#000099" stroke-width="3" stroke-linejoin="round"/>
<g fill="#fff" stroke="#000" stroke-width="1" clip-path="url(#clipa)"><circle cx="90.0" cy="298.3" r="2.9"/><circle cx="90.8" cy="295.6" r="2.9"/><circle cx="91.5" cy="293.6" r="2.9"/><circle cx="92.3" cy="291.1" r="2.9"/><circle cx="93.0" cy="287.5" r="2.9"/><circle cx="93.8" cy="284.6" r="2.9"/><circle cx="94.5" cy="281.0" r="2.9"/><circle cx="95.3" cy="276.0" r="2.9"/><circle cx="96.0" cy="272.6" r="2.9"/><circle cx="96.8" cy="267.0" r="2.9"/><circle cx="97.5" cy="260.3" r="2.9"/><circle cx="98.3" cy="253.6" r="2.9"/><circle cx="99.0" cy="245.0" r="2.9"/><circle cx="99.8" cy="233.7" r="2.9"/><circle cx="100.5" cy="221.5" r="2.9"/><circle cx="101.3" cy="208.0" r="2.9"/><circle cx="102.0" cy="195.5" r="2.9"/><circle cx="102.8" cy="179.2" r="2.9"/><circle cx="103.5" cy="157.7" r="2.9"/><circle cx="104.3" cy="125.0" r="2.9"/><circle cx="105.0" cy="100.0" r="2.9"/><circle cx="105.8" cy="115.0" r="2.9"/><circle cx="106.5" cy="129.0" r="2.9"/><circle cx="107.3" cy="150.7" r="2.9"/><circle cx="108.0" cy="180.4" r="2.9"/><circle cx="108.8" cy="211.6" r="2.9"/><circle cx="109.5" cy="244.8" r="2.9"/><circle cx="110.3" cy="267.9" r="2.9"/><circle cx="111.0" cy="287.8" r="2.9"/><circle cx="111.8" cy="296.8" r="2.9"/><circle cx="112.5" cy="303.7" r="2.9"/><circle cx="113.3" cy="310.0" r="2.9"/><circle cx="114.0" cy="312.2" r="2.9"/><circle cx="114.8" cy="315.5" r="2.9"/><circle cx="115.5" cy="316.1" r="2.9"/><circle cx="116.3" cy="318.6" r="2.9"/><circle cx="117.0" cy="319.7" r="2.9"/><circle cx="117.8" cy="322.1" r="2.9"/><circle cx="118.5" cy="322.9" r="2.9"/><circle cx="119.3" cy="322.1" r="2.9"/><circle cx="120.0" cy="322.7" r="2.9"/><circle cx="120.8" cy="321.9" r="2.9"/><circle cx="121.5" cy="322.0" r="2.9"/><circle cx="122.3" cy="321.0" r="2.9"/><circle cx="123.0" cy="320.1" r="2.9"/><circle cx="123.8" cy="319.7" r="2.9"/><circle cx="124.5" cy="320.4" r="2.9"/><circle cx="125.3" cy="320.8" r="2.9"/><circle cx="126.0" cy="319.2" r="2.9"/><circle cx="126.8" cy="318.2" r="2.9"/><circle cx="127.5" cy="318.8" r="2.9"/><circle cx="128.3" cy="317.4" r="2.9"/><circle cx="129.0" cy="316.9" r="2.9"/><circle cx="129.8" cy="316.7" r="2.9"/><circle cx="130.5" cy="316.5" r="2.9"/><circle cx="131.3" cy="316.7" r="2.9"/><circle cx="132.0" cy="316.7" r="2.9"/><circle cx="132.8" cy="318.5" r="2.9"/><circle cx="133.5" cy="319.1" r="2.9"/><circle cx="134.3" cy="320.7" r="2.9"/><circle cx="135.0" cy="320.8" r="2.9"/><circle cx="135.8" cy="320.9" r="2.9"/><circle cx="136.5" cy="322.4" r="2.9"/><circle cx="137.3" cy="324.0" r="2.9"/><circle cx="138.0" cy="323.6" r="2.9"/><circle cx="138.8" cy="324.1" r="2.9"/><circle cx="139.5" cy="324.6" r="2.9"/><circle cx="140.3" cy="325.3" r="2.9"/><circle cx="141.0" cy="326.3" r="2.9"/><circle cx="141.8" cy="326.4" r="2.9"/><circle cx="142.5" cy="328.2" r="2.9"/><circle cx="143.3" cy="327.7" r="2.9"/><circle cx="144.0" cy="328.2" r="2.9"/><circle cx="144.8" cy="328.9" r="2.9"/><circle cx="145.5" cy="328.8" r="2.9"/><circle cx="146.3" cy="327.5" r="2.9"/><circle cx="147.0" cy="327.0" r="2.9"/><circle cx="147.8" cy="326.2" r="2.9"/><circle cx="148.5" cy="324.6" r="2.9"/><circle cx="149.3" cy="322.6" r="2.9"/><circle cx="150.0" cy="321.9" r="2.9"/><circle cx="150.8" cy="319.5" r="2.9"/><circle cx="151.5" cy="316.1" r="2.9"/><circle cx="152.3" cy="312.1" r="2.9"/><circle cx="153.0" cy="308.9" r="2.9"/><circle cx="153.8" cy="305.1" r="2.9"/><circle cx="154.5" cy="301.7" r="2.9"/><circle cx="155.3" cy="298.8" r="2.9"/><circle cx="156.0" cy="295.0" r="2.9"/><circle cx="156.8" cy="290.3" r="2.9"/><circle cx="157.5" cy="285.5" r="2.9"/><circle cx="158.3" cy="280.3" r="2.9"/><circle cx="159.0" cy="273.9" r="2.9"/><circle cx="159.8" cy="266.8" r="2.9"/><circle cx="160.5" cy="256.3" r="2.9"/><circle cx="161.3" cy="244.3" r="2.9"/><circle cx="162.0" cy="232.8" r="2.9"/><circle cx="162.8" cy="220.6" r="2.9"/><circle cx="163.5" cy="208.8" r="2.9"/><circle cx="164.3" cy="197.4" r="2.9"/><circle cx="165.0" cy="185.8" r="2.9"/><circle cx="165.8" cy="174.4" r="2.9"/><circle cx="166.5" cy="161.9" r="2.9"/><circle cx="167.3" cy="149.9" r="2.9"/><circle cx="168.0" cy="147.0" r="2.9"/><circle cx="168.8" cy="155.9" r="2.9"/><circle cx="169.5" cy="167.7" r="2.9"/><circle cx="170.3" cy="180.2" r="2.9"/><circle cx="171.0" cy="196.4" r="2.9"/><circle cx="171.8" cy="216.3" r="2.9"/><circle cx="172.5" cy="239.1" r="2.9"/><circle cx="173.3" cy="257.3" r="2.9"/><circle cx="174.0" cy="273.7" r="2.9"/><circle cx="174.8" cy="284.6" r="2.9"/><circle cx="175.5" cy="291.0" r="2.9"/><circle cx="176.3" cy="298.1" r="2.9"/><circle cx="177.0" cy="303.5" r="2.9"/><circle cx="177.8" cy="307.9" r="2.9"/><circle cx="178.5" cy="311.6" r="2.9"/><circle cx="179.3" cy="315.7" r="2.9"/><circle cx="180.0" cy="316.7" r="2.9"/><circle cx="180.8" cy="318.1" r="2.9"/><circle cx="181.5" cy="320.3" r="2.9"/><circle cx="182.3" cy="321.4" r="2.9"/><circle cx="183.0" cy="322.5" r="2.9"/><circle cx="183.8" cy="323.9" r="2.9"/><circle cx="184.6" cy="324.7" r="2.9"/><circle cx="185.3" cy="325.4" r="2.9"/><circle cx="186.1" cy="326.4" r="2.9"/><circle cx="186.8" cy="326.6" r="2.9"/><circle cx="187.6" cy="326.6" r="2.9"/><circle cx="188.3" cy="327.2" r="2.9"/><circle cx="189.1" cy="327.5" r="2.9"/><circle cx="189.8" cy="328.2" r="2.9"/><circle cx="190.6" cy="328.0" r="2.9"/><circle cx="191.3" cy="328.0" r="2.9"/><circle cx="192.1" cy="329.3" r="2.9"/><circle cx="192.8" cy="328.9" r="2.9"/><circle cx="193.6" cy="328.8" r="2.9"/><circle cx="194.3" cy="330.3" r="2.9"/><circle cx="195.1" cy="330.0" r="2.9"/><circle cx="195.8" cy="330.8" r="2.9"/><circle cx="196.6" cy="330.6" r="2.9"/><circle cx="197.3" cy="330.5" r="2.9"/><circle cx="198.1" cy="330.6" r="2.9"/><circle cx="198.8" cy="331.1" r="2.9"/><circle cx="199.6" cy="331.4" r="2.9"/><circle cx="200.3" cy="331.2" r="2.9"/><circle cx="201.1" cy="331.6" r="2.9"/><circle cx="201.8" cy="331.0" r="2.9"/><circle cx="202.6" cy="331.9" r="2.9"/><circle cx="203.3" cy="331.0" r="2.9"/><circle cx="204.1" cy="331.9" r="2.9"/><circle cx="204.8" cy="332.4" r="2.9"/><circle cx="205.6" cy="332.7" r="2.9"/><circle cx="206.3" cy="333.0" r="2.9"/><circle cx="207.1" cy="331.5" r="2.9"/><circle cx="207.8" cy="332.7" r="2.9"/><circle cx="208.6" cy="332.9" r="2.9"/><circle cx="209.3" cy="332.9" r="2.9"/><circle cx="210.1" cy="332.0" r="2.9"/><circle cx="210.8" cy="332.7" r="2.9"/><circle cx="211.6" cy="333.4" r="2.9"/><circle cx="212.3" cy="331.8" r="2.9"/><circle cx="213.1" cy="332.8" r="2.9"/><circle cx="213.8" cy="333.1" r="2.9"/><circle cx="214.6" cy="332.2" r="2.9"/><circle cx="215.3" cy="332.9" r="2.9"/><circle cx="216.1" cy="332.1" r="2.9"/><circle cx="216.8" cy="332.2" r="2.9"/><circle cx="217.6" cy="332.1" r="2.9"/><circle cx="218.3" cy="332.3" r="2.9"/><circle cx="219.1" cy="331.9" r="2.9"/><circle cx="219.8" cy="332.0" r="2.9"/><circle cx="220.6" cy="330.6" r="2.9"/><circle cx="221.3" cy="330.4" r="2.9"/><circle cx="222.1" cy="330.3" r="2.9"/><circle cx="222.8" cy="329.4" r="2.9"/><circle cx="223.6" cy="327.7" r="2.9"/><circle cx="224.3" cy="327.6" r="2.9"/><circle cx="225.1" cy="325.2" r="2.9"/><circle cx="225.8" cy="323.2" r="2.9"/><circle cx="226.6" cy="320.4" r="2.9"/><circle cx="227.3" cy="318.1" r="2.9"/><circle cx="228.1" cy="314.8" r="2.9"/><circle cx="228.8" cy="310.4" r="2.9"/><circle cx="229.6" cy="306.6" r="2.9"/><circle cx="230.3" cy="304.0" r="2.9"/><circle cx="231.1" cy="301.3" r="2.9"/><circle cx="231.8" cy="302.3" r="2.9"/><circle cx="232.6" cy="304.8" r="2.9"/><circle cx="233.3" cy="308.6" r="2.9"/><circle cx="234.1" cy="313.8" r="2.9"/><circle cx="234.8" cy="315.7" r="2.9"/><circle cx="235.6" cy="317.6" r="2.9"/><circle cx="236.3" cy="322.0" r="2.9"/><circle cx="237.1" cy="322.0" r="2.9"/><circle cx="237.8" cy="324.9" r="2.9"/><circle cx="238.6" cy="326.1" r="2.9"/><circle cx="239.3" cy="326.6" r="2.9"/><circle cx="240.1" cy="326.5" r="2.9"/><circle cx="240.8" cy="328.6" r="2.9"/><circle cx="241.6" cy="328.0" r="2.9"/><circle cx="242.3" cy="328.6" r="2.9"/><circle cx="243.1" cy="329.6" r="2.9"/><circle cx="243.8" cy="330.7" r="2.9"/><circle cx="244.6" cy="330.8" r="2.9"/><circle cx="245.3" cy="331.4" r="2.9"/><circle cx="246.1" cy="331.1" r="2.9"/><circle cx="246.8" cy="331.5" r="2.9"/><circle cx="247.6" cy="331.3" r="2.9"/><circle cx="248.3" cy="332.0" r="2.9"/><circle cx="249.1" cy="332.7" r="2.9"/><circle cx="249.8" cy="332.5" r="2.9"/><circle cx="250.6" cy="333.1" r="2.9"/><circle cx="251.3" cy="332.9" r="2.9"/><circle cx="252.1" cy="333.1" r="2.9"/><circle cx="252.8" cy="333.6" r="2.9"/><circle cx="253.6" cy="333.7" r="2.9"/><circle cx="254.3" cy="334.3" r="2.9"/><circle cx="255.1" cy="334.3" r="2.9"/><circle cx="255.8" cy="335.3" r="2.9"/><circle cx="256.6" cy="334.5" r="2.9"/><circle cx="257.3" cy="334.6" r="2.9"/><circle cx="258.1" cy="334.4" r="2.9"/><circle cx="258.8" cy="335.0" r="2.9"/><circle cx="259.6" cy="335.5" r="2.9"/><circle cx="260.3" cy="334.9" r="2.9"/><circle cx="261.1" cy="335.3" r="2.9"/><circle cx="261.8" cy="335.7" r="2.9"/><circle cx="262.6" cy="335.4" r="2.9"/><circle cx="263.3" cy="335.2" r="2.9"/><circle cx="264.1" cy="336.0" r="2.9"/><circle cx="264.8" cy="335.5" r="2.9"/><circle cx="265.6" cy="335.7" r="2.9"/><circle cx="266.3" cy="336.1" r="2.9"/><circle cx="267.1" cy="336.1" r="2.9"/><circle cx="267.8" cy="335.3" r="2.9"/><circle cx="268.6" cy="335.2" r="2.9"/><circle cx="269.3" cy="335.6" r="2.9"/><circle cx="270.1" cy="335.3" r="2.9"/><circle cx="270.8" cy="334.4" r="2.9"/><circle cx="271.6" cy="336.0" r="2.9"/><circle cx="272.3" cy="335.3" r="2.9"/><circle cx="273.1" cy="335.6" r="2.9"/><circle cx="273.8" cy="334.7" r="2.9"/><circle cx="274.6" cy="335.8" r="2.9"/><circle cx="275.3" cy="334.9" r="2.9"/><circle cx="276.1" cy="335.1" r="2.9"/><circle cx="276.8" cy="334.4" r="2.9"/><circle cx="277.6" cy="334.9" r="2.9"/><circle cx="278.4" cy="334.8" r="2.9"/><circle cx="279.1" cy="334.8" r="2.9"/><circle cx="279.9" cy="335.0" r="2.9"/><circle cx="280.6" cy="334.8" r="2.9"/><circle cx="281.4" cy="335.1" r="2.9"/><circle cx="282.1" cy="334.1" r="2.9"/><circle cx="282.9" cy="333.6" r="2.9"/><circle cx="283.6" cy="333.8" r="2.9"/><circle cx="284.4" cy="333.8" r="2.9"/><circle cx="285.1" cy="333.7" r="2.9"/><circle cx="285.9" cy="333.1" r="2.9"/><circle cx="286.6" cy="331.5" r="2.9"/><circle cx="287.4" cy="332.1" r="2.9"/><circle cx="288.1" cy="332.2" r="2.9"/><circle cx="288.9" cy="331.1" r="2.9"/><circle cx="289.6" cy="330.3" r="2.9"/><circle cx="290.4" cy="330.1" r="2.9"/><circle cx="291.1" cy="329.0" r="2.9"/><circle cx="291.9" cy="328.8" r="2.9"/><circle cx="292.6" cy="327.7" r="2.9"/><circle cx="293.4" cy="327.7" r="2.9"/><circle cx="294.1" cy="326.7" r="2.9"/><circle cx="294.9" cy="325.6" r="2.9"/><circle cx="295.6" cy="326.1" r="2.9"/><circle cx="296.4" cy="326.4" r="2.9"/><circle cx="297.1" cy="326.1" r="2.9"/><circle cx="297.9" cy="326.8" r="2.9"/><circle cx="298.6" cy="326.7" r="2.9"/><circle cx="299.4" cy="329.3" r="2.9"/><circle cx="300.1" cy="329.5" r="2.9"/><circle cx="300.9" cy="329.5" r="2.9"/><circle cx="301.6" cy="330.4" r="2.9"/><circle cx="302.4" cy="331.6" r="2.9"/><circle cx="303.1" cy="332.5" r="2.9"/><circle cx="303.9" cy="332.4" r="2.9"/><circle cx="304.6" cy="333.0" r="2.9"/><circle cx="305.4" cy="332.6" r="2.9"/><circle cx="306.1" cy="332.8" r="2.9"/><circle cx="306.9" cy="334.2" r="2.9"/><circle cx="307.6" cy="334.3" r="2.9"/><circle cx="308.4" cy="334.2" r="2.9"/><circle cx="309.1" cy="335.1" r="2.9"/><circle cx="309.9" cy="334.2" r="2.9"/><circle cx="310.6" cy="334.6" r="2.9"/><circle cx="311.4" cy="335.4" r="2.9"/><circle cx="312.1" cy="335.9" r="2.9"/><circle cx="312.9" cy="335.1" r="2.9"/><circle cx="313.6" cy="336.0" r="2.9"/><circle cx="314.4" cy="334.9" r="2.9"/><circle cx="315.1" cy="335.4" r="2.9"/><circle cx="315.9" cy="335.2" r="2.9"/><circle cx="316.6" cy="334.6" r="2.9"/><circle cx="317.4" cy="335.6" r="2.9"/><circle cx="318.1" cy="336.0" r="2.9"/><circle cx="318.9" cy="335.5" r="2.9"/><circle cx="319.6" cy="335.6" r="2.9"/><circle cx="320.4" cy="336.4" r="2.9"/><circle cx="321.1" cy="335.1" r="2.9"/><circle cx="321.9" cy="335.0" r="2.9"/><circle cx="322.6" cy="335.5" r="2.9"/><circle cx="323.4" cy="335.2" r="2.9"/><circle cx="324.1" cy="336.6" r="2.9"/><circle cx="324.9" cy="336.1" r="2.9"/><circle cx="325.6" cy="335.5" r="2.9"/><circle cx="326.4" cy="335.7" r="2.9"/><circle cx="327.1" cy="337.5" r="2.9"/><circle cx="327.9" cy="335.8" r="2.9"/><circle cx="328.6" cy="335.7" r="2.9"/><circle cx="329.4" cy="336.3" r="2.9"/><circle cx="330.1" cy="336.5" r="2.9"/><circle cx="330.9" cy="336.3" r="2.9"/><circle cx="331.6" cy="335.7" r="2.9"/><circle cx="332.4" cy="335.6" r="2.9"/><circle cx="333.1" cy="336.5" r="2.9"/><circle cx="333.9" cy="336.2" r="2.9"/><circle cx="334.6" cy="335.4" r="2.9"/><circle cx="335.4" cy="336.9" r="2.9"/><circle cx="336.1" cy="336.7" r="2.9"/><circle cx="336.9" cy="336.2" r="2.9"/><circle cx="337.6" cy="336.2" r="2.9"/><circle cx="338.4" cy="336.4" r="2.9"/><circle cx="339.1" cy="336.0" r="2.9"/><circle cx="339.9" cy="335.6" r="2.9"/><circle cx="340.6" cy="336.5" r="2.9"/><circle cx="341.4" cy="335.6" r="2.9"/><circle cx="342.1" cy="336.5" r="2.9"/><circle cx="342.9" cy="335.5" r="2.9"/><circle cx="343.6" cy="336.2" r="2.9"/><circle cx="344.4" cy="336.1" r="2.9"/><circle cx="345.1" cy="337.0" r="2.9"/><circle cx="345.9" cy="335.5" r="2.9"/><circle cx="346.6" cy="335.3" r="2.9"/><circle cx="347.4" cy="335.6" r="2.9"/><circle cx="348.1" cy="335.3" r="2.9"/><circle cx="348.9" cy="335.5" r="2.9"/><circle cx="349.6" cy="335.9" r="2.9"/><circle cx="350.4" cy="336.0" r="2.9"/><circle cx="351.1" cy="336.4" r="2.9"/><circle cx="351.9" cy="335.1" r="2.9"/><circle cx="352.6" cy="336.7" r="2.9"/><circle cx="353.4" cy="336.3" r="2.9"/><circle cx="354.1" cy="335.0" r="2.9"/><circle cx="354.9" cy="333.8" r="2.9"/><circle cx="355.6" cy="334.7" r="2.9"/><circle cx="356.4" cy="334.6" r="2.9"/><circle cx="357.1" cy="333.2" r="2.9"/><circle cx="357.9" cy="334.3" r="2.9"/><circle cx="358.6" cy="334.0" r="2.9"/><circle cx="359.4" cy="333.6" r="2.9"/><circle cx="360.1" cy="334.3" r="2.9"/><circle cx="360.9" cy="334.5" r="2.9"/><circle cx="361.6" cy="333.9" r="2.9"/><circle cx="362.4" cy="334.4" r="2.9"/><circle cx="363.1" cy="334.1" r="2.9"/><circle cx="363.9" cy="334.2" r="2.9"/><circle cx="364.6" cy="334.9" r="2.9"/><circle cx="365.4" cy="335.3" r="2.9"/><circle cx="366.1" cy="335.0" r="2.9"/><circle cx="366.9" cy="334.4" r="2.9"/><circle cx="367.6" cy="335.9" r="2.9"/><circle cx="368.4" cy="335.0" r="2.9"/><circle cx="369.1" cy="336.0" r="2.9"/><circle cx="369.9" cy="336.9" r="2.9"/><circle cx="370.6" cy="336.0" r="2.9"/><circle cx="371.4" cy="335.5" r="2.9"/><circle cx="372.2" cy="335.4" r="2.9"/><circle cx="372.9" cy="336.7" r="2.9"/><circle cx="373.7" cy="336.2" r="2.9"/><circle cx="374.4" cy="336.5" r="2.9"/><circle cx="375.2" cy="336.7" r="2.9"/><circle cx="375.9" cy="336.2" r="2.9"/><circle cx="376.7" cy="336.1" r="2.9"/><circle cx="377.4" cy="335.8" r="2.9"/><circle cx="378.2" cy="334.8" r="2.9"/><circle cx="378.9" cy="335.6" r="2.9"/><circle cx="379.7" cy="336.3" r="2.9"/><circle cx="380.4" cy="336.3" r="2.9"/><circle cx="381.2" cy="336.6" r="2.9"/><circle cx="381.9" cy="336.4" r="2.9"/><circle cx="382.7" cy="336.6" r="2.9"/><circle cx="383.4" cy="336.9" r="2.9"/><circle cx="384.2" cy="336.1" r="2.9"/><circle cx="384.9" cy="336.4" r="2.9"/><circle cx="385.7" cy="335.7" r="2.9"/><circle cx="386.4" cy="337.0" r="2.9"/><circle cx="387.2" cy="336.6" r="2.9"/><circle cx="387.9" cy="336.8" r="2.9"/><circle cx="388.7" cy="337.4" r="2.9"/><circle cx="389.4" cy="337.2" r="2.9"/><circle cx="390.2" cy="336.6" r="2.9"/><circle cx="390.9" cy="337.0" r="2.9"/><circle cx="391.7" cy="335.9" r="2.9"/><circle cx="392.4" cy="336.9" r="2.9"/><circle cx="393.2" cy="336.7" r="2.9"/><circle cx="393.9" cy="335.9" r="2.9"/><circle cx="394.7" cy="337.3" r="2.9"/><circle cx="395.4" cy="336.3" r="2.9"/><circle cx="396.2" cy="337.0" r="2.9"/><circle cx="396.9" cy="336.5" r="2.9"/><circle cx="397.7" cy="337.2" r="2.9"/><circle cx="398.4" cy="337.4" r="2.9"/><circle cx="399.2" cy="336.3" r="2.9"/><circle cx="399.9" cy="335.9" r="2.9"/><circle cx="400.7" cy="336.6" r="2.9"/><circle cx="401.4" cy="337.1" r="2.9"/><circle cx="402.2" cy="336.5" r="2.9"/><circle cx="402.9" cy="336.3" r="2.9"/><circle cx="403.7" cy="336.8" r="2.9"/><circle cx="404.4" cy="335.1" r="2.9"/><circle cx="405.2" cy="336.1" r="2.9"/><circle cx="405.9" cy="335.7" r="2.9"/><circle cx="406.7" cy="336.5" r="2.9"/><circle cx="407.4" cy="335.9" r="2.9"/><circle cx="408.2" cy="335.6" r="2.9"/><circle cx="408.9" cy="335.9" r="2.9"/><circle cx="409.7" cy="335.2" r="2.9"/><circle cx="410.4" cy="335.9" r="2.9"/><circle cx="411.2" cy="335.4" r="2.9"/><circle cx="411.9" cy="335.5" r="2.9"/><circle cx="412.7" cy="335.2" r="2.9"/><circle cx="413.4" cy="335.9" r="2.9"/><circle cx="414.2" cy="335.3" r="2.9"/><circle cx="414.9" cy="335.5" r="2.9"/><circle cx="415.7" cy="335.4" r="2.9"/><circle cx="416.4" cy="334.7" r="2.9"/><circle cx="417.2" cy="335.3" r="2.9"/><circle cx="417.9" cy="335.1" r="2.9"/><circle cx="418.7" cy="335.0" r="2.9"/><circle cx="419.4" cy="334.6" r="2.9"/><circle cx="420.2" cy="334.5" r="2.9"/><circle cx="420.9" cy="335.0" r="2.9"/><circle cx="421.7" cy="335.7" r="2.9"/><circle cx="422.4" cy="334.2" r="2.9"/><circle cx="423.2" cy="334.8" r="2.9"/><circle cx="423.9" cy="334.3" r="2.9"/><circle cx="424.7" cy="334.9" r="2.9"/><circle cx="425.4" cy="334.7" r="2.9"/><circle cx="426.2" cy="335.0" r="2.9"/><circle cx="426.9" cy="333.1" r="2.9"/><circle cx="427.7" cy="334.3" r="2.9"/><circle cx="428.4" cy="334.1" r="2.9"/><circle cx="429.2" cy="334.6" r="2.9"/><circle cx="429.9" cy="334.4" r="2.9"/><circle cx="430.7" cy="334.5" r="2.9"/><circle cx="431.4" cy="335.2" r="2.9"/><circle cx="432.2" cy="335.9" r="2.9"/><circle cx="432.9" cy="333.6" r="2.9"/><circle cx="433.7" cy="335.0" r="2.9"/><circle cx="434.4" cy="335.3" r="2.9"/><circle cx="435.2" cy="335.3" r="2.9"/><circle cx="435.9" cy="335.1" r="2.9"/><circle cx="436.7" cy="334.7" r="2.9"/><circle cx="437.4" cy="335.0" r="2.9"/><circle cx="438.2" cy="335.8" r="2.9"/><circle cx="438.9" cy="336.0" r="2.9"/><circle cx="439.7" cy="335.5" r="2.9"/><circle cx="440.4" cy="335.1" r="2.9"/><circle cx="441.2" cy="335.5" r="2.9"/><circle cx="441.9" cy="335.4" r="2.9"/><circle cx="442.7" cy="335.8" r="2.9"/><circle cx="443.4" cy="335.6" r="2.9"/><circle cx="444.2" cy="335.2" r="2.9"/><circle cx="444.9" cy="335.6" r="2.9"/><circle cx="445.7" cy="334.9" r="2.9"/><circle cx="446.4" cy="335.9" r="2.9"/><circle cx="447.2" cy="336.1" r="2.9"/><circle cx="447.9" cy="334.9" r="2.9"/><circle cx="448.7" cy="335.7" r="2.9"/><circle cx="449.4" cy="334.9" r="2.9"/><circle cx="450.2" cy="336.0" r="2.9"/><circle cx="450.9" cy="335.9" r="2.9"/><circle cx="451.7" cy="335.3" r="2.9"/><circle cx="452.4" cy="335.9" r="2.9"/><circle cx="453.2" cy="335.2" r="2.9"/><circle cx="453.9" cy="335.1" r="2.9"/><circle cx="454.7" cy="335.1" r="2.9"/><circle cx="455.4" cy="335.3" r="2.9"/><circle cx="456.2" cy="335.2" r="2.9"/><circle cx="456.9" cy="335.4" r="2.9"/><circle cx="457.7" cy="335.0" r="2.9"/><circle cx="458.4" cy="335.7" r="2.9"/><circle cx="459.2" cy="335.8" r="2.9"/><circle cx="459.9" cy="335.0" r="2.9"/><circle cx="460.7" cy="334.5" r="2.9"/><circle cx="461.4" cy="335.6" r="2.9"/><circle cx="462.2" cy="335.8" r="2.9"/><circle cx="462.9" cy="335.1" r="2.9"/><circle cx="463.7" cy="334.5" r="2.9"/><circle cx="464.4" cy="335.3" r="2.9"/><circle cx="465.2" cy="335.9" r="2.9"/><circle cx="466.0" cy="334.2" r="2.9"/><circle cx="466.7" cy="335.3" r="2.9"/><circle cx="467.5" cy="334.9" r="2.9"/><circle cx="468.2" cy="334.6" r="2.9"/><circle cx="469.0" cy="335.3" r="2.9"/><circle cx="469.7" cy="334.4" r="2.9"/><circle cx="470.5" cy="335.2" r="2.9"/><circle cx="471.2" cy="335.7" r="2.9"/><circle cx="472.0" cy="335.1" r="2.9"/><circle cx="472.7" cy="334.5" r="2.9"/><circle cx="473.5" cy="334.1" r="2.9"/><circle cx="474.2" cy="334.3" r="2.9"/><circle cx="475.0" cy="334.0" r="2.9"/><circle cx="475.7" cy="335.7" r="2.9"/><circle cx="476.5" cy="334.8" r="2.9"/><circle cx="477.2" cy="334.3" r="2.9"/><circle cx="478.0" cy="334.2" r="2.9"/><circle cx="478.7" cy="334.3" r="2.9"/><circle cx="479.5" cy="334.6" r="2.9"/><circle cx="480.2" cy="334.2" r="2.9"/><circle cx="481.0" cy="335.6" r="2.9"/><circle cx="481.7" cy="334.4" r="2.9"/><circle cx="482.5" cy="334.4" r="2.9"/><circle cx="483.2" cy="334.9" r="2.9"/><circle cx="484.0" cy="335.4" r="2.9"/><circle cx="484.7" cy="335.4" r="2.9"/><circle cx="485.5" cy="334.4" r="2.9"/><circle cx="486.2" cy="334.8" r="2.9"/><circle cx="487.0" cy="334.7" r="2.9"/><circle cx="487.7" cy="334.9" r="2.9"/><circle cx="488.5" cy="334.7" r="2.9"/><circle cx="489.2" cy="334.1" r="2.9"/><circle cx="490.0" cy="333.9" r="2.9"/><circle cx="490.7" cy="334.6" r="2.9"/><circle cx="491.5" cy="333.9" r="2.9"/><circle cx="492.2" cy="335.2" r="2.9"/><circle cx="493.0" cy="334.5" r="2.9"/><circle cx="493.7" cy="333.9" r="2.9"/><circle cx="494.5" cy="334.3" r="2.9"/><circle cx="495.2" cy="334.2" r="2.9"/><circle cx="496.0" cy="334.3" r="2.9"/><circle cx="496.7" cy="334.9" r="2.9"/><circle cx="497.5" cy="333.6" r="2.9"/><circle cx="498.2" cy="333.4" r="2.9"/><circle cx="499.0" cy="334.5" r="2.9"/><circle cx="499.7" cy="334.2" r="2.9"/><circle cx="500.5" cy="334.4" r="2.9"/><circle cx="501.2" cy="334.5" r="2.9"/><circle cx="502.0" cy="334.1" r="2.9"/><circle cx="502.7" cy="334.6" r="2.9"/><circle cx="503.5" cy="333.7" r="2.9"/><circle cx="504.2" cy="334.2" r="2.9"/><circle cx="505.0" cy="333.7" r="2.9"/><circle cx="505.7" cy="333.5" r="2.9"/><circle cx="506.5" cy="334.4" r="2.9"/><circle cx="507.2" cy="334.4" r="2.9"/><circle cx="508.0" cy="333.1" r="2.9"/><circle cx="508.7" cy="333.5" r="2.9"/><circle cx="509.5" cy="334.1" r="2.9"/><circle cx="510.2" cy="334.5" r="2.9"/><circle cx="511.0" cy="333.6" r="2.9"/><circle cx="511.7" cy="333.8" r="2.9"/><circle cx="512.5" cy="333.2" r="2.9"/><circle cx="513.2" cy="335.1" r="2.9"/><circle cx="514.0" cy="334.1" r="2.9"/><circle cx="514.7" cy="334.3" r="2.9"/><circle cx="515.5" cy="334.1" r="2.9"/><circle cx="516.2" cy="334.2" r="2.9"/><circle cx="517.0" cy="334.1" r="2.9"/><circle cx="517.7" cy="333.6" r="2.9"/><circle cx="518.5" cy="334.1" r="2.9"/><circle cx="519.2" cy="333.7" r="2.9"/><circle cx="520.0" cy="334.3" r="2.9"/><circle cx="520.7" cy="333.3" r="2.9"/><circle cx="521.5" cy="333.3" r="2.9"/><circle cx="522.2" cy="333.9" r="2.9"/><circle cx="523.0" cy="334.2" r="2.9"/><circle cx="523.7" cy="333.6" r="2.9"/><circle cx="524.5" cy="333.1" r="2.9"/><circle cx="525.2" cy="333.4" r="2.9"/><circle cx="526.0" cy="333.2" r="2.9"/><circle cx="526.7" cy="334.4" r="2.9"/><circle cx="527.5" cy="333.8" r="2.9"/><circle cx="528.2" cy="334.0" r="2.9"/><circle cx="529.0" cy="333.5" r="2.9"/><circle cx="529.7" cy="333.0" r="2.9"/><circle cx="530.5" cy="333.9" r="2.9"/><circle cx="531.2" cy="334.1" r="2.9"/><circle cx="532.0" cy="333.5" r="2.9"/><circle cx="532.7" cy="333.2" r="2.9"/><circle cx="533.5" cy="333.7" r="2.9"/><circle cx="534.2" cy="333.0" r="2.9"/><circle cx="535.0" cy="333.5" r="2.9"/><circle cx="535.7" cy="332.7" r="2.9"/><circle cx="536.5" cy="332.6" r="2.9"/><circle cx="537.2" cy="333.3" r="2.9"/><circle cx="538.0" cy="333.2" r="2.9"/><circle cx="538.7" cy="334.0" r="2.9"/><circle cx="539.5" cy="332.8" r="2.9"/><circle cx="540.2" cy="333.0" r="2.9"/><circle cx="541.0" cy="332.3" r="2.9"/><circle cx="541.7" cy="332.0" r="2.9"/><circle cx="542.5" cy="332.0" r="2.9"/><circle cx="543.2" cy="333.1" r="2.9"/><circle cx="544.0" cy="332.2" r="2.9"/><circle cx="544.7" cy="333.3" r="2.9"/><circle cx="545.5" cy="333.5" r="2.9"/><circle cx="546.2" cy="332.6" r="2.9"/><circle cx="547.0" cy="333.5" r="2.9"/><circle cx="547.7" cy="332.8" r="2.9"/><circle cx="548.5" cy="333.2" r="2.9"/><circle cx="549.2" cy="332.5" r="2.9"/><circle cx="550.0" cy="333.1" r="2.9"/><circle cx="550.7" cy="332.1" r="2.9"/><circle cx="551.5" cy="332.8" r="2.9"/><circle cx="552.2" cy="332.2" r="2.9"/><circle cx="553.0" cy="332.4" r="2.9"/><circle cx="553.7" cy="332.7" r="2.9"/><circle cx="554.5" cy="332.5" r="2.9"/><circle cx="555.2" cy="332.3" r="2.9"/><circle cx="556.0" cy="332.7" r="2.9"/><circle cx="556.7" cy="332.7" r="2.9"/><circle cx="557.5" cy="331.5" r="2.9"/><circle cx="558.2" cy="332.5" r="2.9"/><circle cx="559.0" cy="332.5" r="2.9"/><circle cx="559.8" cy="331.7" r="2.9"/><circle cx="560.5" cy="332.3" r="2.9"/><circle cx="561.3" cy="331.4" r="2.9"/><circle cx="562.0" cy="332.7" r="2.9"/><circle cx="562.8" cy="331.8" r="2.9"/><circle cx="563.5" cy="331.8" r="2.9"/><circle cx="564.3" cy="332.4" r="2.9"/><circle cx="565.0" cy="331.7" r="2.9"/><circle cx="565.8" cy="332.0" r="2.9"/><circle cx="566.5" cy="331.1" r="2.9"/><circle cx="567.3" cy="331.2" r="2.9"/><circle cx="568.0" cy="330.7" r="2.9"/><circle cx="568.8" cy="331.3" r="2.9"/><circle cx="569.5" cy="331.8" r="2.9"/><circle cx="570.3" cy="331.3" r="2.9"/><circle cx="571.0" cy="331.6" r="2.9"/><circle cx="571.8" cy="330.5" r="2.9"/><circle cx="572.5" cy="330.5" r="2.9"/><circle cx="573.3" cy="330.6" r="2.9"/><circle cx="574.0" cy="331.1" r="2.9"/><circle cx="574.8" cy="330.9" r="2.9"/><circle cx="575.5" cy="330.6" r="2.9"/><circle cx="576.3" cy="330.9" r="2.9"/><circle cx="577.0" cy="330.4" r="2.9"/><circle cx="577.8" cy="330.4" r="2.9"/><circle cx="578.5" cy="331.0" r="2.9"/><circle cx="579.3" cy="330.0" r="2.9"/><circle cx="580.0" cy="330.4" r="2.9"/><circle cx="580.8" cy="331.0" r="2.9"/><circle cx="581.5" cy="330.2" r="2.9"/><circle cx="582.3" cy="330.5" r="2.9"/><circle cx="583.0" cy="329.8" r="2.9"/><circle cx="583.8" cy="331.0" r="2.9"/><circle cx="584.5" cy="328.9" r="2.9"/><circle cx="585.3" cy="329.4" r="2.9"/><circle cx="586.0" cy="329.5" r="2.9"/><circle cx="586.8" cy="330.8" r="2.9"/><circle cx="587.5" cy="330.2" r="2.9"/><circle cx="588.3" cy="329.9" r="2.9"/><circle cx="589.0" cy="329.4" r="2.9"/><circle cx="589.8" cy="330.2" r="2.9"/><circle cx="590.5" cy="330.2" r="2.9"/><circle cx="591.3" cy="329.8" r="2.9"/><circle cx="592.0" cy="329.4" r="2.9"/><circle cx="592.8" cy="329.7" r="2.9"/><circle cx="593.5" cy="330.4" r="2.9"/><circle cx="594.3" cy="330.5" r="2.9"/><circle cx="595.0" cy="330.4" r="2.9"/><circle cx="595.8" cy="330.4" r="2.9"/><circle cx="596.5" cy="329.7" r="2.9"/><circle cx="597.3" cy="330.6" r="2.9"/><circle cx="598.0" cy="330.2" r="2.9"/><circle cx="598.8" cy="330.8" r="2.9"/><circle cx="599.5" cy="331.1" r="2.9"/><circle cx="600.3" cy="330.6" r="2.9"/><circle cx="601.0" cy="330.5" r="2.9"/><circle cx="601.8" cy="331.6" r="2.9"/><circle cx="602.5" cy="331.3" r="2.9"/><circle cx="603.3" cy="330.9" r="2.9"/><circle cx="604.0" cy="329.8" r="2.9"/><circle cx="604.8" cy="331.4" r="2.9"/><circle cx="605.5" cy="331.8" r="2.9"/><circle cx="606.3" cy="332.1" r="2.9"/><circle cx="607.0" cy="331.3" r="2.9"/><circle cx="607.8" cy="331.4" r="2.9"/><circle cx="608.5" cy="331.6" r="2.9"/><circle cx="609.3" cy="332.3" r="2.9"/><circle cx="610.0" cy="331.3" r="2.9"/><circle cx="610.8" cy="331.9" r="2.9"/><circle cx="611.5" cy="331.5" r="2.9"/><circle cx="612.3" cy="332.2" r="2.9"/><circle cx="613.0" cy="331.3" r="2.9"/><circle cx="613.8" cy="332.3" r="2.9"/><circle cx="614.5" cy="331.9" r="2.9"/><circle cx="615.3" cy="332.1" r="2.9"/><circle cx="616.0" cy="332.5" r="2.9"/><circle cx="616.8" cy="332.9" r="2.9"/><circle cx="617.5" cy="331.5" r="2.9"/><circle cx="618.3" cy="332.9" r="2.9"/><circle cx="619.0" cy="332.7" r="2.9"/><circle cx="619.8" cy="332.3" r="2.9"/><circle cx="620.5" cy="333.2" r="2.9"/><circle cx="621.3" cy="332.6" r="2.9"/><circle cx="622.0" cy="333.2" r="2.9"/><circle cx="622.8" cy="332.3" r="2.9"/><circle cx="623.5" cy="332.2" r="2.9"/><circle cx="624.3" cy="333.2" r="2.9"/><circle cx="625.0" cy="333.7" r="2.9"/><circle cx="625.8" cy="333.0" r="2.9"/><circle cx="626.5" cy="333.2" r="2.9"/><circle cx="627.3" cy="332.5" r="2.9"/><circle cx="628.0" cy="332.1" r="2.9"/><circle cx="628.8" cy="332.7" r="2.9"/><circle cx="629.5" cy="333.6" r="2.9"/><circle cx="630.3" cy="331.9" r="2.9"/><circle cx="631.0" cy="332.6" r="2.9"/><circle cx="631.8" cy="332.0" r="2.9"/><circle cx="632.5" cy="333.0" r="2.9"/><circle cx="633.3" cy="333.4" r="2.9"/><circle cx="634.0" cy="332.4" r="2.9"/><circle cx="634.8" cy="332.8" r="2.9"/><circle cx="635.5" cy="333.7" r="2.9"/><circle cx="636.3" cy="333.0" r="2.9"/><circle cx="637.0" cy="332.5" r="2.9"/><circle cx="637.8" cy="332.5" r="2.9"/><circle cx="638.5" cy="332.1" r="2.9"/><circle cx="639.3" cy="333.6" r="2.9"/><circle cx="640.0" cy="332.8" r="2.9"/><circle cx="640.8" cy="333.8" r="2.9"/><circle cx="641.5" cy="333.7" r="2.9"/><circle cx="642.3" cy="332.9" r="2.9"/><circle cx="643.0" cy="333.0" r="2.9"/><circle cx="643.8" cy="333.7" r="2.9"/><circle cx="644.5" cy="333.4" r="2.9"/><circle cx="645.3" cy="333.5" r="2.9"/><circle cx="646.0" cy="332.6" r="2.9"/><circle cx="646.8" cy="333.9" r="2.9"/><circle cx="647.5" cy="333.0" r="2.9"/><circle cx="648.3" cy="332.3" r="2.9"/><circle cx="649.0" cy="333.2" r="2.9"/><circle cx="649.8" cy="333.7" r="2.9"/><circle cx="650.5" cy="334.6" r="2.9"/><circle cx="651.3" cy="333.3" r="2.9"/><circle cx="652.0" cy="332.9" r="2.9"/><circle cx="652.8" cy="334.6" r="2.9"/><circle cx="653.6" cy="333.7" r="2.9"/><circle cx="654.3" cy="333.5" r="2.9"/><circle cx="655.1" cy="333.1" r="2.9"/><circle cx="655.8" cy="333.1" r="2.9"/><circle cx="656.6" cy="334.4" r="2.9"/><circle cx="657.3" cy="333.6" r="2.9"/><circle cx="658.1" cy="333.4" r="2.9"/><circle cx="658.8" cy="333.5" r="2.9"/><circle cx="659.6" cy="334.5" r="2.9"/><circle cx="660.3" cy="333.5" r="2.9"/><circle cx="661.1" cy="334.1" r="2.9"/><circle cx="661.8" cy="334.0" r="2.9"/><circle cx="662.6" cy="334.0" r="2.9"/><circle cx="663.3" cy="333.4" r="2.9"/><circle cx="664.1" cy="334.2" r="2.9"/><circle cx="664.8" cy="334.7" r="2.9"/><circle cx="665.6" cy="333.9" r="2.9"/><circle cx="666.3" cy="333.5" r="2.9"/><circle cx="667.1" cy="333.4" r="2.9"/><circle cx="667.8" cy="334.1" r="2.9"/><circle cx="668.6" cy="333.9" r="2.9"/><circle cx="669.3" cy="334.0" r="2.9"/><circle cx="670.1" cy="334.1" r="2.9"/><circle cx="670.8" cy="333.4" r="2.9"/><circle cx="671.6" cy="334.6" r="2.9"/><circle cx="672.3" cy="334.4" r="2.9"/><circle cx="673.1" cy="334.2" r="2.9"/><circle cx="673.8" cy="334.4" r="2.9"/><circle cx="674.6" cy="334.8" r="2.9"/><circle cx="675.3" cy="334.4" r="2.9"/><circle cx="676.1" cy="334.0" r="2.9"/><circle cx="676.8" cy="335.1" r="2.9"/><circle cx="677.6" cy="334.3" r="2.9"/><circle cx="678.3" cy="334.2" r="2.9"/><circle cx="679.1" cy="333.8" r="2.9"/><circle cx="679.8" cy="334.6" r="2.9"/><circle cx="680.6" cy="334.2" r="2.9"/><circle cx="681.3" cy="334.5" r="2.9"/><circle cx="682.1" cy="335.0" r="2.9"/><circle cx="682.8" cy="334.8" r="2.9"/><circle cx="683.6" cy="335.4" r="2.9"/><circle cx="684.3" cy="335.0" r="2.9"/><circle cx="685.1" cy="334.7" r="2.9"/><circle cx="685.8" cy="334.8" r="2.9"/><circle cx="686.6" cy="334.8" r="2.9"/><circle cx="687.3" cy="335.4" r="2.9"/><circle cx="688.1" cy="335.1" r="2.9"/><circle cx="688.8" cy="334.9" r="2.9"/><circle cx="689.6" cy="335.6" r="2.9"/><circle cx="690.3" cy="335.2" r="2.9"/><circle cx="691.1" cy="335.0" r="2.9"/><circle cx="691.8" cy="334.5" r="2.9"/><circle cx="692.6" cy="335.5" r="2.9"/><circle cx="693.3" cy="335.4" r="2.9"/><circle cx="694.1" cy="335.4" r="2.9"/><circle cx="694.8" cy="335.1" r="2.9"/><circle cx="695.6" cy="335.0" r="2.9"/><circle cx="696.3" cy="335.3" r="2.9"/><circle cx="697.1" cy="335.6" r="2.9"/><circle cx="697.8" cy="335.4" r="2.9"/><circle cx="698.6" cy="335.4" r="2.9"/><circle cx="699.3" cy="335.3" r="2.9"/><circle cx="700.1" cy="335.7" r="2.9"/><circle cx="700.8" cy="335.7" r="2.9"/><circle cx="701.6" cy="335.2" r="2.9"/><circle cx="702.3" cy="336.0" r="2.9"/><circle cx="703.1" cy="336.0" r="2.9"/><circle cx="703.8" cy="336.1" r="2.9"/><circle cx="704.6" cy="335.6" r="2.9"/><circle cx="705.3" cy="335.6" r="2.9"/><circle cx="706.1" cy="335.2" r="2.9"/><circle cx="706.8" cy="336.2" r="2.9"/><circle cx="707.6" cy="334.7" r="2.9"/><circle cx="708.3" cy="335.6" r="2.9"/><circle cx="709.1" cy="335.7" r="2.9"/><circle cx="709.8" cy="336.3" r="2.9"/><circle cx="710.6" cy="335.9" r="2.9"/><circle cx="711.3" cy="335.4" r="2.9"/><circle cx="712.1" cy="335.2" r="2.9"/><circle cx="712.8" cy="335.6" r="2.9"/><circle cx="713.6" cy="336.0" r="2.9"/><circle cx="714.3" cy="336.0" r="2.9"/><circle cx="715.1" cy="335.9" r="2.9"/><circle cx="715.8" cy="335.7" r="2.9"/><circle cx="716.6" cy="336.0" r="2.9"/><circle cx="717.3" cy="336.6" r="2.9"/><circle cx="718.1" cy="335.6" r="2.9"/><circle cx="718.8" cy="336.2" r="2.9"/><circle cx="719.6" cy="337.0" r="2.9"/><circle cx="720.3" cy="336.5" r="2.9"/><circle cx="721.1" cy="336.0" r="2.9"/><circle cx="721.8" cy="336.6" r="2.9"/><circle cx="722.6" cy="335.9" r="2.9"/><circle cx="723.3" cy="336.3" r="2.9"/><circle cx="724.1" cy="337.1" r="2.9"/><circle cx="724.8" cy="337.3" r="2.9"/><circle cx="725.6" cy="335.5" r="2.9"/><circle cx="726.3" cy="336.7" r="2.9"/><circle cx="727.1" cy="337.3" r="2.9"/><circle cx="727.8" cy="336.1" r="2.9"/><circle cx="728.6" cy="336.5" r="2.9"/><circle cx="729.3" cy="337.2" r="2.9"/><circle cx="730.1" cy="336.2" r="2.9"/><circle cx="730.8" cy="336.7" r="2.9"/><circle cx="731.6" cy="336.4" r="2.9"/><circle cx="732.3" cy="335.5" r="2.9"/><circle cx="733.1" cy="336.7" r="2.9"/><circle cx="733.8" cy="336.4" r="2.9"/><circle cx="734.6" cy="337.0" r="2.9"/><circle cx="735.3" cy="337.6" r="2.9"/><circle cx="736.1" cy="336.9" r="2.9"/><circle cx="736.8" cy="336.4" r="2.9"/><circle cx="737.6" cy="336.8" r="2.9"/><circle cx="738.3" cy="336.7" r="2.9"/><circle cx="739.1" cy="337.1" r="2.9"/><circle cx="739.8" cy="335.9" r="2.9"/><circle cx="740.6" cy="336.0" r="2.9"/><circle cx="741.3" cy="335.6" r="2.9"/><circle cx="742.1" cy="337.0" r="2.9"/><circle cx="742.8" cy="336.6" r="2.9"/><circle cx="743.6" cy="336.3" r="2.9"/><circle cx="744.3" cy="336.3" r="2.9"/><circle cx="745.1" cy="336.4" r="2.9"/><circle cx="745.8" cy="336.2" r="2.9"/></g>
<path d="M90.0 297.5L90.4 296.7L90.8 295.7L91.2 294.5L91.6 293.3L92.0 291.9L92.4 290.3L92.8 288.7L93.2 287.1L93.6 285.3L94.0 283.5L94.4 281.5L94.8 279.4L95.2 277.1L95.6 274.7L96.0 272.1L96.4 269.3L96.8 266.3L97.2 263.2L97.6 259.8L98.0 256.1L98.4 252.1L98.8 247.4L99.2 242.1L99.6 236.3L100.0 230.0L100.4 223.4L100.8 216.6L101.2 209.7L101.6 202.7L102.0 195.3L102.4 187.2L102.8 178.1L103.2 167.6L103.6 154.1L104.0 137.4L104.4 118.1L104.8 97.5L105.2 102.8L105.6 112.0L106.0 119.4L106.4 126.9L106.8 135.8L107.2 147.6L107.6 162.9L108.0 180.0L108.4 196.8L108.8 214.1L109.2 232.1L109.6 248.4L110.0 261.3L110.4 272.9L110.8 282.9L111.2 290.4L111.6 295.2L112.0 299.5L112.4 303.2L112.8 306.4L113.2 309.1L113.6 311.3L114.0 312.9L114.4 314.2L114.8 315.3L115.2 316.4L115.6 317.4L116.0 318.3L116.4 319.2L116.8 319.9L117.2 320.6L117.6 321.2L118.0 321.6L118.4 322.0L118.8 322.2L119.2 322.3L119.6 322.3L120.0 322.2L120.4 322.1L120.8 322.0L121.2 321.9L121.6 321.7L122.0 321.5L122.4 321.3L122.8 321.1L123.2 320.9L123.6 320.7L124.0 320.5L124.4 320.3L124.8 320.0L125.2 319.7L125.6 319.4L126.0 319.1L126.4 318.8L126.8 318.4L127.2 318.1L127.6 317.8L128.0 317.5L128.4 317.2L128.8 316.9L129.2 316.7L129.6 316.6L130.0 316.5L130.4 316.5L130.8 316.6L131.2 316.8L131.6 317.0L132.0 317.4L132.4 317.8L132.8 318.2L133.2 318.7L133.6 319.2L134.0 319.8L134.4 320.3L134.8 320.8L135.2 321.2L135.6 321.6L136.0 322.0L136.4 322.3L136.8 322.7L137.2 323.0L137.6 323.4L138.0 323.8L138.4 324.2L138.8 324.5L139.2 324.9L139.6 325.3L140.0 325.6L140.4 326.0L140.8 326.3L141.2 326.6L141.6 326.9L142.0 327.2L142.4 327.4L142.8 327.6L143.2 327.8L143.6 328.0L144.0 328.1L144.4 328.2L144.8 328.2L145.2 328.2L145.6 328.0L146.0 327.8L146.4 327.5L146.8 327.1L147.2 326.6L147.6 326.1L148.0 325.5L148.4 324.9L148.8 324.3L149.2 323.6L149.6 322.8L150.0 321.7L150.4 320.4L150.8 318.9L151.2 317.3L151.6 315.6L152.0 313.9L152.4 312.0L152.8 310.1L153.2 308.2L153.6 306.3L154.0 304.4L154.4 302.5L154.8 300.6L155.2 298.6L155.6 296.6L156.0 294.5L156.4 292.2L156.8 289.9L157.2 287.4L157.6 284.8L158.0 282.0L158.4 279.1L158.8 275.9L159.2 272.5L159.6 268.8L160.0 264.3L160.4 258.7L160.8 252.5L161.2 245.8L161.6 239.0L162.0 232.3L162.4 226.0L162.8 220.0L163.2 214.0L163.6 208.0L164.0 202.0L164.4 196.0L164.8 189.9L165.2 183.8L165.6 177.4L166.0 170.6L166.4 164.0L166.8 157.8L167.2 152.1L167.6 146.7L168.0 146.4L168.4 150.9L168.8 156.3L169.2 161.8L169.6 167.9L170.0 174.7L170.4 182.2L170.8 190.3L171.2 199.1L171.6 210.4L172.0 223.2L172.4 235.4L172.8 245.4L173.2 255.0L173.6 264.1L174.0 272.3L174.4 279.3L174.8 284.4L175.2 288.4L175.6 292.1L176.0 295.6L176.4 298.8L176.8 301.8L177.2 304.5L177.6 307.0L178.0 309.2L178.4 311.2L178.8 313.0L179.2 314.5L179.6 315.7L180.0 316.7L180.4 317.6L180.8 318.5L181.2 319.3L181.6 320.1L182.0 320.8L182.4 321.5L182.8 322.1L183.2 322.7L183.6 323.3L184.0 323.8L184.4 324.3L184.8 324.7L185.2 325.1L185.6 325.5L186.0 325.9L186.4 326.2L186.8 326.4L187.2 326.7L187.6 326.9L188.0 327.2L188.4 327.4L188.8 327.6L189.2 327.8L189.6 328.0L190.0 328.2L190.4 328.4L190.8 328.6L191.2 328.8L191.6 329.0L192.0 329.2L192.4 329.4L192.8 329.5L193.2 329.7L193.6 329.8L194.0 330.0L194.4 330.1L194.8 330.3L195.2 330.4L195.6 330.5L196.0 330.7L196.4 330.8L196.8 330.9L197.2 331.0L197.6 331.1L198.0 331.2L198.4 331.3L198.8 331.4L199.2 331.4L199.6 331.5L200.0 331.6L200.4 331.6L200.8 331.7L201.2 331.7L201.6 331.8L202.0 331.8L202.4 331.9L202.8 331.9L203.2 331.9L203.6 332.0L204.0 332.0L204.4 332.0L204.8 332.1L205.2 332.1L205.6 332.1L206.0 332.2L206.4 332.2L206.8 332.2L207.2 332.3L207.6 332.3L208.0 332.3L208.4 332.3L208.8 332.4L209.2 332.4L209.6 332.4L210.0 332.4L210.4 332.4L210.8 332.5L211.2 332.5L211.6 332.5L212.0 332.5L212.4 332.5L212.8 332.5L213.2 332.6L213.6 332.6L214.0 332.6L214.4 332.6L214.8 332.6L215.2 332.6L215.6 332.6L216.0 332.6L216.4 332.6L216.8 332.6L217.2 332.5L217.6 332.5L218.0 332.4L218.4 332.2L218.8 332.1L219.2 331.9L219.6 331.6L220.0 331.4L220.4 331.1L220.8 330.9L221.2 330.6L221.6 330.2L222.0 329.9L222.4 329.5L222.8 329.1L223.2 328.7L223.6 328.3L224.0 327.8L224.4 327.1L224.8 326.1L225.2 325.0L225.6 323.8L226.0 322.4L226.4 320.9L226.8 319.4L227.2 317.9L227.6 316.4L228.0 315.0L228.4 313.4L228.8 311.4L229.2 309.3L229.6 307.1L230.0 305.1L230.4 303.3L230.8 302.0L231.2 301.3L231.6 301.3L232.0 302.2L232.4 303.8L232.8 305.9L233.2 308.3L233.6 310.6L234.0 312.8L234.4 314.6L234.8 316.0L235.2 317.4L235.6 318.7L236.0 319.9L236.4 321.1L236.8 322.3L237.2 323.3L237.6 324.1L238.0 324.9L238.4 325.4L238.8 325.9L239.2 326.4L239.6 326.9L240.0 327.3L240.4 327.7L240.8 328.1L241.2 328.4L241.6 328.8L242.0 329.1L242.4 329.4L242.8 329.6L243.2 329.9L243.6 330.1L244.0 330.4L244.4 330.6L244.8 330.8L245.2 330.9L245.6 331.1L246.0 331.3L246.4 331.4L246.8 331.6L247.2 331.7L247.6 331.9L248.0 332.0L248.4 332.2L248.8 332.3L249.2 332.4L249.6 332.6L250.0 332.7L250.4 332.8L250.8 333.0L251.2 333.1L251.6 333.2L252.0 333.4L252.4 333.5L252.8 333.6L253.2 333.7L253.6 333.8L254.0 333.9L254.4 334.0L254.8 334.2L255.2 334.3L255.6 334.3L256.0 334.4L256.4 334.5L256.8 334.6L257.2 334.7L257.6 334.8L258.0 334.9L258.4 334.9L258.8 335.0L259.2 335.1L259.6 335.1L260.0 335.2L260.4 335.2L260.8 335.3L261.2 335.3L261.6 335.4L262.0 335.4L262.4 335.4L262.8 335.4L263.2 335.5L263.6 335.5L264.0 335.5L264.4 335.5L264.8 335.5L265.2 335.5L265.6 335.5L266.0 335.5L266.4 335.5L266.8 335.5L267.2 335.5L267.6 335.5L268.0 335.5L268.4 335.5L268.8 335.4L269.2 335.4L269.6 335.4L270.0 335.4L270.4 335.4L270.8 335.4L271.2 335.4L271.6 335.4L272.0 335.3L272.4 335.3L272.8 335.3L273.2 335.3L273.6 335.3L274.0 335.2L274.4 335.2L274.8 335.2L275.2 335.2L275.6 335.1L276.0 335.1L276.4 335.1L276.8 335.1L277.2 335.0L277.6 335.0L278.0 335.0L278.4 334.9L278.8 334.9L279.2 334.9L279.6 334.8L280.0 334.8L280.4 334.8L280.8 334.7L281.2 334.6L281.6 334.5L282.0 334.4L282.4 334.3L282.8 334.1L283.2 334.0L283.6 333.8L284.0 333.7L284.4 333.5L284.8 333.3L285.2 333.1L285.6 332.9L286.0 332.7L286.4 332.4L286.8 332.2L287.2 332.0L287.6 331.8L288.0 331.6L288.4 331.3L288.8 331.1L289.2 330.9L289.6 330.6L290.0 330.3L290.4 329.9L290.8 329.6L291.2 329.2L291.6 328.8L292.0 328.3L292.4 327.9L292.8 327.5L293.2 327.2L293.6 326.8L294.0 326.5L294.4 326.2L294.8 326.0L295.2 325.9L295.6 325.8L296.0 325.8L296.4 325.9L296.8 326.1L297.2 326.4L297.6 326.8L298.0 327.2L298.4 327.6L298.8 328.1L299.2 328.6L299.6 329.1L300.0 329.6L300.4 330.1L300.8 330.5L301.2 330.9L301.6 331.2L302.0 331.5L302.4 331.7L302.8 331.9L303.2 332.1L303.6 332.3L304.0 332.5L304.4 332.7L304.8 332.9L305.2 333.1L305.6 333.2L306.0 333.4L306.4 333.6L306.8 333.7L307.2 333.9L307.6 334.0L308.0 334.1L308.4 334.3L308.8 334.4L309.2 334.5L309.6 334.6L310.0 334.7L310.4 334.8L310.8 334.8L311.2 334.9L311.6 335.0L312.0 335.0L312.4 335.0L312.8 335.1L313.2 335.1L313.6 335.1L314.0 335.2L314.4 335.2L314.8 335.2L315.2 335.3L315.6 335.3L316.0 335.3L316.4 335.4L316.8 335.4L317.2 335.4L317.6 335.5L318.0 335.5L318.4 335.5L318.8 335.6L319.2 335.6L319.6 335.6L320.0 335.6L320.4 335.7L320.8 335.7L321.2 335.7L321.6 335.7L322.0 335.8L322.4 335.8L322.8 335.8L323.2 335.8L323.6 335.9L324.0 335.9L324.4 335.9L324.8 335.9L325.2 335.9L325.6 336.0L326.0 336.0L326.4 336.0L326.8 336.0L327.2 336.0L327.6 336.0L328.0 336.1L328.4 336.1L328.8 336.1L329.2 336.1L329.6 336.1L330.0 336.1L330.4 336.1L330.8 336.2L331.2 336.2L331.6 336.2L332.0 336.2L332.4 336.2L332.8 336.2L333.2 336.2L333.6 336.2L334.0 336.2L334.4 336.2L334.8 336.3L335.2 336.3L335.6 336.3L336.0 336.3L336.4 336.3L336.8 336.3L337.2 336.3L337.6 336.3L338.0 336.3L338.4 336.3L338.8 336.3L339.2 336.3L339.6 336.3L340.0 336.3L340.4 336.3L340.8 336.3L341.2 336.3L341.6 336.3L342.0 336.3L342.4 336.3L342.8 336.2L343.2 336.2L343.6 336.2L344.0 336.2L344.4 336.2L344.8 336.1L345.2 336.1L345.6 336.1L346.0 336.1L346.4 336.0L346.8 336.0L347.2 336.0L347.6 335.9L348.0 335.9L348.4 335.9L348.8 335.8L349.2 335.8L349.6 335.7L350.0 335.7L350.4 335.7L350.8 335.6L351.2 335.6L351.6 335.5L352.0 335.5L352.4 335.5L352.8 335.4L353.2 335.3L353.6 335.2L354.0 335.2L354.4 335.1L354.8 335.0L355.2 334.9L355.6 334.8L356.0 334.6L356.4 334.5L356.8 334.4L357.2 334.4L357.6 334.3L358.0 334.2L358.4 334.1L358.8 334.1L359.2 334.0L359.6 334.0L360.0 334.0L360.4 334.0L360.8 334.0L361.2 334.1L361.6 334.1L362.0 334.2L362.4 334.3L362.8 334.4L363.2 334.4L363.6 334.6L364.0 334.7L364.4 334.8L364.8 334.9L365.2 335.0L365.6 335.1L366.0 335.2L366.4 335.3L366.8 335.4L367.2 335.5L367.6 335.6L368.0 335.7L368.4 335.8L368.8 335.9L369.2 335.9L369.6 336.0L370.0 336.0L370.4 336.0L370.8 336.0L371.2 336.1L371.6 336.1L372.0 336.1L372.4 336.1L372.8 336.1L373.2 336.1L373.6 336.2L374.0 336.2L374.4 336.2L374.8 336.2L375.2 336.2L375.6 336.2L376.0 336.3L376.4 336.3L376.8 336.3L377.2 336.3L377.6 336.3L378.0 336.3L378.4 336.3L378.8 336.4L379.2 336.4L379.6 336.4L380.0 336.4L380.4 336.4L380.8 336.4L381.2 336.4L381.6 336.4L382.0 336.5L382.4 336.5L382.8 336.5L383.2 336.5L383.6 336.5L384.0 336.5L384.4 336.5L384.8 336.5L385.2 336.5L385.6 336.5L386.0 336.6L386.4 336.6L386.8 336.6L387.2 336.6L387.6 336.6L388.0 336.6L388.4 336.6L388.8 336.6L389.2 336.6L389.6 336.6L390.0 336.6L390.4 336.6L390.8 336.6L391.2 336.6L391.6 336.6L392.0 336.7L392.4 336.7L392.8 336.7L393.2 336.7L393.6 336.7L394.0 336.7L394.4 336.7L394.8 336.7L395.2 336.7L395.6 336.7L396.0 336.7L396.4 336.7L396.8 336.7L397.2 336.7L397.6 336.7L398.0 336.7L398.4 336.7L398.8 336.7L399.2 336.7L399.6 336.7L400.0 336.7L400.4 336.7L400.8 336.7L401.2 336.7L401.6 336.7L402.0 336.7L402.4 336.6L402.8 336.6L403.2 336.6L403.6 336.6L404.0 336.5L404.4 336.5L404.8 336.5L405.2 336.5L405.6 336.4L406.0 336.4L406.4 336.3L406.8 336.3L407.2 336.3L407.6 336.2L408.0 336.2L408.4 336.1L408.8 336.1L409.2 336.0L409.6 336.0L410.0 335.9L410.4 335.9L410.8 335.8L411.2 335.8L411.6 335.7L412.0 335.7L412.4 335.6L412.8 335.6L413.2 335.5L413.6 335.5L414.0 335.4L414.4 335.4L414.8 335.3L415.2 335.2L415.6 335.2L416.0 335.2L416.4 335.1L416.8 335.1L417.2 335.0L417.6 335.0L418.0 334.9L418.4 334.9L418.8 334.8L419.2 334.8L419.6 334.8L420.0 334.7L420.4 334.7L420.8 334.7L421.2 334.6L421.6 334.6L422.0 334.6L422.4 334.6L422.8 334.5L423.2 334.5L423.6 334.5L424.0 334.5L424.4 334.5L424.8 334.5L425.2 334.5L425.6 334.5L426.0 334.5L426.4 334.5L426.8 334.5L427.2 334.6L427.6 334.6L428.0 334.6L428.4 334.6L428.8 334.7L429.2 334.7L429.6 334.7L430.0 334.8L430.4 334.8L430.8 334.8L431.2 334.9L431.6 334.9L432.0 335.0L432.4 335.0L432.8 335.0L433.2 335.1L433.6 335.1L434.0 335.1L434.4 335.2L434.8 335.2L435.2 335.3L435.6 335.3L436.0 335.3L436.4 335.4L436.8 335.4L437.2 335.4L437.6 335.4L438.0 335.5L438.4 335.5L438.8 335.5L439.2 335.5L439.6 335.5L440.0 335.5L440.4 335.5L440.8 335.5L441.2 335.5L441.6 335.5L442.0 335.5L442.4 335.5L442.8 335.5L443.2 335.5L443.6 335.5L444.0 335.5L444.4 335.5L444.8 335.5L445.2 335.5L445.6 335.5L446.0 335.5L446.4 335.5L446.8 335.5L447.2 335.5L447.6 335.5L448.0 335.5L448.4 335.5L448.8 335.4L449.2 335.4L449.6 335.4L450.0 335.4L450.4 335.4L450.8 335.4L451.2 335.4L451.6 335.4L452.0 335.4L452.4 335.4L452.8 335.4L453.2 335.4L453.6 335.4L454.0 335.4L454.4 335.4L454.8 335.4L455.2 335.4L455.6 335.3L456.0 335.3L456.4 335.3L456.8 335.3L457.2 335.3L457.6 335.3L458.0 335.3L458.4 335.3L458.8 335.3L459.2 335.3L459.6 335.3L460.0 335.3L460.4 335.3L460.8 335.2L461.2 335.2L461.6 335.2L462.0 335.2L462.4 335.2L462.8 335.2L463.2 335.2L463.6 335.2L464.0 335.2L464.4 335.2L464.8 335.2L465.2 335.1L465.6 335.1L466.0 335.1L466.4 335.1L466.8 335.1L467.2 335.1L467.6 335.1L468.0 335.1L468.4 335.1L468.8 335.1L469.2 335.1L469.6 335.0L470.0 335.0L470.4 335.0L470.8 335.0L471.2 335.0L471.6 335.0L472.0 335.0L472.4 335.0L472.8 335.0L473.2 335.0L473.6 334.9L474.0 334.9L474.4 334.9L474.8 334.9L475.2 334.9L475.6 334.9L476.0 334.9L476.4 334.9L476.8 334.9L477.2 334.9L477.6 334.9L478.0 334.8L478.4 334.8L478.8 334.8L479.2 334.8L479.6 334.8L480.0 334.8L480.4 334.8L480.8 334.8L481.2 334.8L481.6 334.8L482.0 334.8L482.4 334.7L482.8 334.7L483.2 334.7L483.6 334.7L484.0 334.7L484.4 334.7L484.8 334.7L485.2 334.7L485.6 334.7L486.0 334.7L486.4 334.7L486.8 334.6L487.2 334.6L487.6 334.6L488.0 334.6L488.4 334.6L488.8 334.6L489.2 334.6L489.6 334.6L490.0 334.6L490.4 334.6L490.8 334.5L491.2 334.5L491.6 334.5L492.0 334.5L492.4 334.5L492.8 334.5L493.2 334.5L493.6 334.5L494.0 334.5L494.4 334.4L494.8 334.4L495.2 334.4L495.6 334.4L496.0 334.4L496.4 334.4L496.8 334.4L497.2 334.4L497.6 334.4L498.0 334.3L498.4 334.3L498.8 334.3L499.2 334.3L499.6 334.3L500.0 334.3L500.4 334.3L500.8 334.3L501.2 334.2L501.6 334.2L502.0 334.2L502.4 334.2L502.8 334.2L503.2 334.2L503.6 334.2L504.0 334.2L504.4 334.2L504.8 334.1L505.2 334.1L505.6 334.1L506.0 334.1L506.4 334.1L506.8 334.1L507.2 334.1L507.6 334.1L508.0 334.0L508.4 334.0L508.8 334.0L509.2 334.0L509.6 334.0L510.0 334.0L510.4 334.0L510.8 334.0L511.2 333.9L511.6 333.9L512.0 333.9L512.4 333.9L512.8 333.9L513.2 333.9L513.6 333.9L514.0 333.8L514.4 333.8L514.8 333.8L515.2 333.8L515.6 333.8L516.0 333.8L516.4 333.8L516.8 333.8L517.2 333.7L517.6 333.7L518.0 333.7L518.4 333.7L518.8 333.7L519.2 333.7L519.6 333.7L520.0 333.6L520.4 333.6L520.8 333.6L521.2 333.6L521.6 333.6L522.0 333.6L522.4 333.6L522.8 333.6L523.2 333.5L523.6 333.5L524.0 333.5L524.4 333.5L524.8 333.5L525.2 333.5L525.6 333.5L526.0 333.4L526.4 333.4L526.8 333.4L527.2 333.4L527.6 333.4L528.0 333.4L528.4 333.4L528.8 333.3L529.2 333.3L529.6 333.3L530.0 333.3L530.4 333.3L530.8 333.3L531.2 333.3L531.6 333.2L532.0 333.2L532.4 333.2L532.8 333.2L533.2 333.2L533.6 333.2L534.0 333.2L534.4 333.2L534.8 333.1L535.2 333.1L535.6 333.1L536.0 333.1L536.4 333.1L536.8 333.1L537.2 333.1L537.6 333.0L538.0 333.0L538.4 333.0L538.8 333.0L539.2 333.0L539.6 333.0L540.0 333.0L540.4 332.9L540.8 332.9L541.2 332.9L541.6 332.9L542.0 332.9L542.4 332.9L542.8 332.9L543.2 332.8L543.6 332.8L544.0 332.8L544.4 332.8L544.8 332.8L545.2 332.8L545.6 332.7L546.0 332.7L546.4 332.7L546.8 332.7L547.2 332.7L547.6 332.7L548.0 332.7L548.4 332.6L548.8 332.6L549.2 332.6L549.6 332.6L550.0 332.6L550.4 332.6L550.8 332.5L551.2 332.5L551.6 332.5L552.0 332.5L552.4 332.5L552.8 332.5L553.2 332.4L553.6 332.4L554.0 332.4L554.4 332.4L554.8 332.4L555.2 332.3L555.6 332.3L556.0 332.3L556.4 332.3L556.8 332.3L557.2 332.2L557.6 332.2L558.0 332.2L558.4 332.2L558.8 332.2L559.2 332.1L559.6 332.1L560.0 332.1L560.4 332.1L560.8 332.1L561.2 332.0L561.6 332.0L562.0 332.0L562.4 331.9L562.8 331.9L563.2 331.9L563.6 331.9L564.0 331.8L564.4 331.8L564.8 331.7L565.2 331.7L565.6 331.7L566.0 331.6L566.4 331.6L566.8 331.6L567.2 331.5L567.6 331.5L568.0 331.4L568.4 331.4L568.8 331.4L569.2 331.3L569.6 331.3L570.0 331.2L570.4 331.2L570.8 331.1L571.2 331.1L571.6 331.1L572.0 331.0L572.4 331.0L572.8 330.9L573.2 330.9L573.6 330.8L574.0 330.8L574.4 330.8L574.8 330.7L575.2 330.7L575.6 330.6L576.0 330.6L576.4 330.6L576.8 330.5L577.2 330.5L577.6 330.5L578.0 330.4L578.4 330.4L578.8 330.4L579.2 330.3L579.6 330.3L580.0 330.3L580.4 330.2L580.8 330.2L581.2 330.2L581.6 330.2L582.0 330.1L582.4 330.1L582.8 330.1L583.2 330.1L583.6 330.1L584.0 330.0L584.4 330.0L584.8 330.0L585.2 330.0L585.6 330.0L586.0 330.0L586.4 330.0L586.8 330.0L587.2 330.0L587.6 330.0L588.0 330.0L588.4 330.0L588.8 330.0L589.2 330.0L589.6 330.1L590.0 330.1L590.4 330.1L590.8 330.1L591.2 330.1L591.6 330.2L592.0 330.2L592.4 330.2L592.8 330.2L593.2 330.3L593.6 330.3L594.0 330.3L594.4 330.3L594.8 330.4L595.2 330.4L595.6 330.5L596.0 330.5L596.4 330.5L596.8 330.6L597.2 330.6L597.6 330.6L598.0 330.7L598.4 330.7L598.8 330.8L599.2 330.8L599.6 330.8L600.0 330.9L600.4 330.9L600.8 331.0L601.2 331.0L601.6 331.1L602.0 331.1L602.4 331.1L602.8 331.2L603.2 331.2L603.6 331.3L604.0 331.3L604.4 331.4L604.8 331.4L605.2 331.4L605.6 331.5L606.0 331.5L606.4 331.6L606.8 331.6L607.2 331.6L607.6 331.7L608.0 331.7L608.4 331.8L608.8 331.8L609.2 331.8L609.6 331.9L610.0 331.9L610.4 331.9L610.8 332.0L611.2 332.0L611.6 332.0L612.0 332.0L612.4 332.1L612.8 332.1L613.2 332.1L613.6 332.1L614.0 332.2L614.4 332.2L614.8 332.2L615.2 332.2L615.6 332.2L616.0 332.3L616.4 332.3L616.8 332.3L617.2 332.3L617.6 332.3L618.0 332.4L618.4 332.4L618.8 332.4L619.2 332.4L619.6 332.4L620.0 332.4L620.4 332.5L620.8 332.5L621.2 332.5L621.6 332.5L622.0 332.5L622.4 332.5L622.8 332.6L623.2 332.6L623.6 332.6L624.0 332.6L624.4 332.6L624.8 332.6L625.2 332.7L625.6 332.7L626.0 332.7L626.4 332.7L626.8 332.7L627.2 332.7L627.6 332.8L628.0 332.8L628.4 332.8L628.8 332.8L629.2 332.8L629.6 332.8L630.0 332.8L630.4 332.9L630.8 332.9L631.2 332.9L631.6 332.9L632.0 332.9L632.4 332.9L632.8 333.0L633.2 333.0L633.6 333.0L634.0 333.0L634.4 333.0L634.8 333.0L635.2 333.0L635.6 333.0L636.0 333.1L636.4 333.1L636.8 333.1L637.2 333.1L637.6 333.1L638.0 333.1L638.4 333.1L638.8 333.2L639.2 333.2L639.6 333.2L640.0 333.2L640.4 333.2L640.8 333.2L641.2 333.2L641.6 333.3L642.0 333.3L642.4 333.3L642.8 333.3L643.2 333.3L643.6 333.3L644.0 333.3L644.4 333.3L644.8 333.4L645.2 333.4L645.6 333.4L646.0 333.4L646.4 333.4L646.8 333.4L647.2 333.4L647.6 333.4L648.0 333.4L648.4 333.5L648.8 333.5L649.2 333.5L649.6 333.5L650.0 333.5L650.4 333.5L650.8 333.5L651.2 333.5L651.6 333.5L652.0 333.6L652.4 333.6L652.8 333.6L653.2 333.6L653.6 333.6L654.0 333.6L654.4 333.6L654.8 333.6L655.2 333.6L655.6 333.6L656.0 333.7L656.4 333.7L656.8 333.7L657.2 333.7L657.6 333.7L658.0 333.7L658.4 333.7L658.8 333.7L659.2 333.7L659.6 333.8L660.0 333.8L660.4 333.8L660.8 333.8L661.2 333.8L661.6 333.8L662.0 333.8L662.4 333.8L662.8 333.9L663.2 333.9L663.6 333.9L664.0 333.9L664.4 333.9L664.8 333.9L665.2 333.9L665.6 333.9L666.0 334.0L666.4 334.0L666.8 334.0L667.2 334.0L667.6 334.0L668.0 334.0L668.4 334.1L668.8 334.1L669.2 334.1L669.6 334.1L670.0 334.1L670.4 334.1L670.8 334.2L671.2 334.2L671.6 334.2L672.0 334.2L672.4 334.2L672.8 334.3L673.2 334.3L673.6 334.3L674.0 334.3L674.4 334.3L674.8 334.4L675.2 334.4L675.6 334.4L676.0 334.4L676.4 334.5L676.8 334.5L677.2 334.5L677.6 334.5L678.0 334.5L678.4 334.6L678.8 334.6L679.2 334.6L679.6 334.6L680.0 334.7L680.4 334.7L680.8 334.7L681.2 334.7L681.6 334.7L682.0 334.8L682.4 334.8L682.8 334.8L683.2 334.8L683.6 334.9L684.0 334.9L684.4 334.9L684.8 334.9L685.2 334.9L685.6 335.0L686.0 335.0L686.4 335.0L686.8 335.0L687.2 335.0L687.6 335.1L688.0 335.1L688.4 335.1L688.8 335.1L689.2 335.1L689.6 335.2L690.0 335.2L690.4 335.2L690.8 335.2L691.2 335.2L691.6 335.2L692.0 335.3L692.4 335.3L692.8 335.3L693.2 335.3L693.6 335.3L694.0 335.3L694.4 335.3L694.8 335.4L695.2 335.4L695.6 335.4L696.0 335.4L696.4 335.4L696.8 335.4L697.2 335.4L697.6 335.5L698.0 335.5L698.4 335.5L698.8 335.5L699.2 335.5L699.6 335.5L700.0 335.5L700.4 335.6L700.8 335.6L701.2 335.6L701.6 335.6L702.0 335.6L702.4 335.6L702.8 335.6L703.2 335.7L703.6 335.7L704.0 335.7L704.4 335.7L704.8 335.7L705.2 335.7L705.6 335.7L706.0 335.7L706.4 335.8L706.8 335.8L707.2 335.8L707.6 335.8L708.0 335.8L708.4 335.8L708.8 335.8L709.2 335.9L709.6 335.9L710.0 335.9L710.4 335.9L710.8 335.9L711.2 335.9L711.6 335.9L712.0 335.9L712.4 336.0L712.8 336.0L713.2 336.0L713.6 336.0L714.0 336.0L714.4 336.0L714.8 336.0L715.2 336.0L715.6 336.1L716.0 336.1L716.4 336.1L716.8 336.1L717.2 336.1L717.6 336.1L718.0 336.1L718.4 336.1L718.8 336.1L719.2 336.2L719.6 336.2L720.0 336.2L720.4 336.2L720.8 336.2L721.2 336.2L721.6 336.2L722.0 336.2L722.4 336.2L722.8 336.3L723.2 336.3L723.6 336.3L724.0 336.3L724.4 336.3L724.8 336.3L725.2 336.3L725.6 336.3L726.0 336.3L726.4 336.3L726.8 336.4L727.2 336.4L727.6 336.4L728.0 336.4L728.4 336.4L728.8 336.4L729.2 336.4L729.6 336.4L730.0 336.4L730.4 336.4L730.8 336.4L731.2 336.5L731.6 336.5L732.0 336.5L732.4 336.5L732.8 336.5L733.2 336.5L733.6 336.5L734.0 336.5L734.4 336.5L734.8 336.5L735.2 336.5L735.6 336.5L736.0 336.5L736.4 336.6L736.8 336.6L737.2 336.6L737.6 336.6L738.0 336.6L738.4 336.6L738.8 336.6L739.2 336.6L739.6 336.6L740.0 336.6L740.4 336.6L740.8 336.6L741.2 336.6L741.6 336.6L742.0 336.6L742.4 336.7L742.8 336.7L743.2 336.7L743.6 336.7L744.0 336.7L744.4 336.7L744.8 336.7L745.2 336.7L745.6 336.7L746.0 336.7" fill="none" stroke="#5f8292" stroke-width="3.3" stroke-linejoin="round" clip-path="url(#clipa)"/>
<rect x="90" y="21.9" width="656.4" height="488.0" fill="none" stroke="#000" stroke-width="2"/>
<path d="M160.1 509.9V500.9M277.4 509.9V500.9M394.6 509.9V500.9M511.9 509.9V500.9M629.1 509.9V500.9M746.4 509.9V500.9M101.5 509.9V504.9M218.8 509.9V504.9M336.0 509.9V504.9M453.3 509.9V504.9M570.5 509.9V504.9M687.8 509.9V504.9" stroke="#000" stroke-width="2" fill="none"/>
<text x="151.19" y="546.30" font-size="32" font-weight="bold" fill="#000">5</text>
<text x="259.24" y="546.30" font-size="32" font-weight="bold" fill="#000">10</text>
<text x="376.25" y="546.30" font-size="32" font-weight="bold" fill="#000">15</text>
<text x="494.22" y="546.30" font-size="32" font-weight="bold" fill="#000">20</text>
<text x="611.23" y="546.30" font-size="32" font-weight="bold" fill="#000">25</text>
<text x="728.88" y="546.30" font-size="32" font-weight="bold" fill="#000">30</text>
<text x="293.58" y="587.60" font-size="32" font-weight="bold" fill="#000" textLength="248.01" lengthAdjust="spacingAndGlyphs">2 Theta (degree)</text>
<text transform="translate(43.90,369.00) rotate(-90)" x="-2.09" y="0" font-size="32" font-weight="bold" fill="#000" textLength="226.57" lengthAdjust="spacingAndGlyphs">Intensity (a. u.)</text>
<text x="125.63" y="56.90" font-size="32" font-weight="bold" fill="#5f8292" textLength="180.57" lengthAdjust="spacingAndGlyphs">Py-TFImI-25</text>
<text transform="translate(115.50,85.45) rotate(-90)" x="-1.62" y="0" font-size="25" font-weight="bold" fill="#000">110</text>
<text transform="translate(174.50,138.60) rotate(-90)" x="-0.88" y="0" font-size="25" font-weight="bold" fill="#000">220</text>
<text transform="translate(141.00,308.30) rotate(-90)" x="-1.00" y="0" font-size="25" font-weight="bold" fill="#000">020</text>
<text transform="translate(243.80,290.25) rotate(-90)" x="-0.62" y="0" font-size="25" font-weight="bold" fill="#000">330</text>
<text transform="translate(308.00,317.40) rotate(-90)" x="-0.38" y="0" font-size="25" font-weight="bold" fill="#000">440</text>
<text transform="translate(591.30,321.90) rotate(-90)" x="-1.00" y="0" font-size="25" font-weight="bold" fill="#000">001</text>
<circle cx="486.5" cy="47.6" r="3" fill="#fff" stroke="#222" stroke-width="0.9"/>
<path d="M454.5 82.8H518.5" stroke="#5f8292" stroke-width="3"/>
<path d="M454.5 117H518.5" stroke="#000099" stroke-width="3"/>
<path d="M486.5 141.9V156.9" stroke="#6ba61a" stroke-width="2"/>
<path d="M456.0 182.5H520.0" stroke="#ff8000" stroke-width="3"/>
<text x="524.61" y="56.60" font-size="27.6" font-weight="bold" fill="#000" textLength="173.34" lengthAdjust="spacingAndGlyphs">Experimental</text>
<text x="524.60" y="90.70" font-size="27.6" font-weight="bold" fill="#5f8292" textLength="193.58" lengthAdjust="spacingAndGlyphs">Pawley refined</text>
<text x="525.57" y="124.90" font-size="27.6" font-weight="bold" fill="#000099">Simulated</text>
<text x="524.61" y="156.90" font-size="27.6" font-weight="bold" fill="#6ba61a">Bragg positions</text>
<text x="524.61" y="191.00" font-size="27.6" font-weight="bold" fill="#ff8000">Difference</text>
<text x="459.5" y="231.5" font-size="27.6" font-weight="bold">R<tspan font-size="19" dy="6">p</tspan><tspan dy="-6">=2.46%, R</tspan><tspan font-size="19" dy="6">wp</tspan><tspan dy="-6">=3.19%</tspan></text>
<clipPath id="clipc"><rect x="90" y="642.7" width="656" height="487.89999999999986"/></clipPath>
<g fill="#6ba61a" clip-path="url(#clipc)"><rect x="90.5" y="1047.5" width="2.6" height="15.700000000000045"/><rect x="104.1" y="1047.5" width="4.0" height="15.700000000000045"/><rect x="123.1" y="1047.5" width="2.5" height="15.700000000000045"/><rect x="135.7" y="1047.5" width="5.7" height="15.700000000000045"/><rect x="146.9" y="1047.5" width="3.7" height="15.700000000000045"/><rect x="164.1" y="1047.5" width="2.7" height="15.700000000000045"/><rect x="166.9" y="1047.5" width="2.7" height="15.700000000000045"/><rect x="169.4" y="1047.5" width="2.7" height="15.700000000000045"/><rect x="171.9" y="1047.5" width="5.0" height="15.700000000000045"/><rect x="187.7" y="1047.5" width="2.6" height="15.700000000000045"/><rect x="192.7" y="1047.5" width="2.9" height="15.700000000000045"/><rect x="195.4" y="1047.5" width="6.9" height="15.700000000000045"/><rect x="204.4" y="1047.5" width="3.2" height="15.700000000000045"/><rect x="207.4" y="1047.5" width="4.2" height="15.700000000000045"/><rect x="211.4" y="1047.5" width="3.9" height="15.700000000000045"/><rect x="229.7" y="1047.5" width="4.9" height="15.700000000000045"/><rect x="234.4" y="1047.5" width="4.5" height="15.700000000000045"/><rect x="240.2" y="1047.5" width="3.7" height="15.700000000000045"/><rect x="245.7" y="1047.5" width="2.4" height="15.700000000000045"/><rect x="249.7" y="1047.5" width="3.4" height="15.700000000000045"/><rect x="252.9" y="1047.5" width="6.0" height="15.700000000000045"/><rect x="259.1" y="1047.5" width="2.3" height="15.700000000000045"/><rect x="263.6" y="1047.5" width="3.0" height="15.700000000000045"/><rect x="266.9" y="1047.5" width="2.7" height="15.700000000000045"/><rect x="269.9" y="1047.5" width="2.7" height="15.700000000000045"/><rect x="272.9" y="1047.5" width="4.4" height="15.700000000000045"/><rect x="285.2" y="1047.5" width="12.4" height="15.700000000000045"/><rect x="297.4" y="1047.5" width="12.4" height="15.700000000000045"/><rect x="312.4" y="1047.5" width="2.4" height="15.700000000000045"/><rect x="316.9" y="1047.5" width="2.4" height="15.700000000000045"/><rect x="323.6" y="1047.5" width="17.8" height="15.700000000000045"/><rect x="341.9" y="1047.5" width="8.7" height="15.700000000000045"/><rect x="351.9" y="1047.5" width="2.4" height="15.700000000000045"/><rect x="356.9" y="1047.5" width="20.4" height="15.700000000000045"/><rect x="379.4" y="1047.5" width="4.5" height="15.700000000000045"/><rect x="384.1" y="1047.5" width="9.8" height="15.700000000000045"/><rect x="394.4" y="1047.5" width="6.2" height="15.700000000000045"/><rect x="401.9" y="1047.5" width="3.7" height="15.700000000000045"/><rect x="406.9" y="1047.5" width="23.7" height="15.700000000000045"/><rect x="432.7" y="1047.5" width="26.2" height="15.700000000000045"/><rect x="459.4" y="1047.5" width="12.9" height="15.700000000000045"/><rect x="473.4" y="1047.5" width="3.0" height="15.700000000000045"/><rect x="477.4" y="1047.5" width="13.8" height="15.700000000000045"/><rect x="491.4" y="1047.5" width="15.4" height="15.700000000000045"/><rect x="507.6" y="1047.5" width="19.8" height="15.700000000000045"/><rect x="529.2" y="1047.5" width="10.2" height="15.700000000000045"/><rect x="540.0" y="1047.5" width="7.8" height="15.700000000000045"/><rect x="547.8" y="1047.5" width="7.8" height="15.700000000000045"/><rect x="555.6" y="1047.5" width="10.8" height="15.700000000000045"/><rect x="567.6" y="1047.5" width="12.6" height="15.700000000000045"/><rect x="580.8" y="1047.5" width="164.7" height="15.700000000000045"/></g>
<path d="M90.5 1100.5L91.0 1100.0L91.5 1099.4L92.0 1099.5L92.5 1099.1L93.0 1098.8L93.5 1098.2L94.0 1098.4L94.5 1098.3L95.0 1097.9L95.5 1098.3L96.0 1098.6L96.5 1098.3L97.0 1098.9L97.5 1100.0L98.0 1100.2L98.5 1101.1L99.0 1100.7L99.5 1101.2L100.0 1101.9L100.5 1101.9L101.0 1101.9L101.5 1102.3L102.0 1102.1L102.5 1101.7L103.0 1100.1L103.5 1098.6L104.0 1097.1L104.5 1095.0L105.0 1093.3L105.5 1099.0L106.0 1104.9L106.5 1099.1L107.0 1095.7L107.5 1099.4L108.0 1103.1L108.5 1102.8L109.0 1101.4L109.5 1100.1L110.0 1099.5L110.5 1098.9L111.0 1099.4L111.5 1099.6L112.0 1100.2L112.5 1100.0L113.0 1099.9L113.5 1101.0L114.0 1100.4L114.5 1100.3L115.0 1100.9L115.5 1100.2L116.0 1100.6L116.5 1100.5L117.0 1100.2L117.5 1100.0L118.0 1100.9L118.5 1100.7L119.0 1100.8L119.5 1101.3L120.0 1100.7L120.5 1101.6L121.0 1100.4L121.5 1100.0L122.0 1100.9L122.5 1101.1L123.0 1101.6L123.5 1100.8L124.0 1100.9L124.5 1100.9L125.0 1101.8L125.5 1100.4L126.0 1101.1L126.5 1101.0L127.0 1100.7L127.5 1100.9L128.0 1101.0L128.5 1100.7L129.0 1101.0L129.5 1101.2L130.0 1101.3L130.5 1100.8L131.0 1100.9L131.5 1101.0L132.0 1101.2L132.5 1101.0L133.0 1101.3L133.5 1101.0L134.0 1100.3L134.5 1101.1L135.0 1100.5L135.5 1100.9L136.0 1100.7L136.5 1101.0L137.0 1100.6L137.5 1100.6L138.0 1100.0L138.5 1101.0L139.0 1100.5L139.5 1100.4L140.0 1100.9L140.5 1100.7L141.0 1100.6L141.5 1100.7L142.0 1100.6L142.5 1100.2L143.0 1100.2L143.5 1101.0L144.0 1101.0L144.5 1100.9L145.0 1100.9L145.5 1101.1L146.0 1101.2L146.5 1101.0L147.0 1101.2L147.5 1101.2L148.0 1100.8L148.5 1101.3L149.0 1100.6L149.5 1100.2L150.0 1101.2L150.5 1100.8L151.0 1101.6L151.5 1100.3L152.0 1101.0L152.5 1100.4L153.0 1100.4L153.5 1099.8L154.0 1100.9L154.5 1099.9L155.0 1100.7L155.5 1100.0L156.0 1099.7L156.5 1100.0L157.0 1101.0L157.5 1100.5L158.0 1101.0L158.5 1101.7L159.0 1101.7L159.5 1101.1L160.0 1101.4L160.5 1101.9L161.0 1100.9L161.5 1101.1L162.0 1100.5L162.5 1099.7L163.0 1100.1L163.5 1100.1L164.0 1101.0L164.5 1101.4L165.0 1102.2L165.5 1098.5L166.0 1095.3L166.5 1099.1L167.0 1103.9L167.5 1099.9L168.0 1095.4L168.5 1099.4L169.0 1103.3L169.5 1102.1L170.0 1101.2L170.5 1099.9L171.0 1099.1L171.5 1099.3L172.0 1099.2L172.5 1099.9L173.0 1099.9L173.5 1100.1L174.0 1100.2L174.5 1101.3L175.0 1100.6L175.5 1100.6L176.0 1100.4L176.5 1101.6L177.0 1101.5L177.5 1100.5L178.0 1100.0L178.5 1100.3L179.0 1100.3L179.5 1100.3L180.0 1100.6L180.5 1100.1L181.0 1100.5L181.5 1100.6L182.0 1100.6L182.5 1100.6L183.0 1100.3L183.5 1100.4L184.0 1100.7L184.5 1100.0L185.0 1100.8L185.5 1100.3L186.0 1100.8L186.5 1099.9L187.0 1100.7L187.5 1100.3L188.0 1100.9L188.5 1100.5L189.0 1100.1L189.5 1100.8L190.0 1100.2L190.5 1100.1L191.0 1100.1L191.5 1100.2L192.0 1100.2L192.5 1100.2L193.0 1100.8L193.5 1100.8L194.0 1100.9L194.5 1101.2L195.0 1100.7L195.5 1100.5L196.0 1100.0L196.5 1100.3L197.0 1100.5L197.5 1101.0L198.0 1100.3L198.5 1101.1L199.0 1101.0L199.5 1100.4L200.0 1100.4L200.5 1100.5L201.0 1100.2L201.5 1100.1L202.0 1100.3L202.5 1100.7L203.0 1099.7L203.5 1100.7L204.0 1101.1L204.5 1100.9L205.0 1101.1L205.5 1100.0L206.0 1100.1L206.5 1101.1L207.0 1100.6L207.5 1100.9L208.0 1100.6L208.5 1100.7L209.0 1100.1L209.5 1100.3L210.0 1100.8L210.5 1100.6L211.0 1100.5L211.5 1100.8L212.0 1100.2L212.5 1099.9L213.0 1100.2L213.5 1100.4L214.0 1101.0L214.5 1100.2L215.0 1100.8L215.5 1100.7L216.0 1100.8L216.5 1101.0L217.0 1100.5L217.5 1100.9L218.0 1100.2L218.5 1100.9L219.0 1100.6L219.5 1100.1L220.0 1099.7L220.5 1100.5L221.0 1100.4L221.5 1101.3L222.0 1101.3L222.5 1100.1L223.0 1100.9L223.5 1100.5L224.0 1100.4L224.5 1100.0L225.0 1100.4L225.5 1100.6L226.0 1100.3L226.5 1100.7L227.0 1100.5L227.5 1101.1L228.0 1100.8L228.5 1100.7L229.0 1100.6L229.5 1100.4L230.0 1100.8L230.5 1100.5L231.0 1101.5L231.5 1101.8L232.0 1102.1L232.5 1102.4L233.0 1101.3L233.5 1100.6L234.0 1099.9L234.5 1100.0L235.0 1100.1L235.5 1099.7L236.0 1099.7L236.5 1100.1L237.0 1100.5L237.5 1099.6L238.0 1100.1L238.5 1099.8L239.0 1100.2L239.5 1100.1L240.0 1099.6L240.5 1099.6L241.0 1100.2L241.5 1100.1L242.0 1100.1L242.5 1100.2L243.0 1100.3L243.5 1100.8L244.0 1100.2L244.5 1100.1L245.0 1099.9L245.5 1100.6L246.0 1100.4L246.5 1099.8L247.0 1099.7L247.5 1099.7L248.0 1100.4L248.5 1100.4L249.0 1100.1L249.5 1099.4L250.0 1099.6L250.5 1100.2L251.0 1100.1L251.5 1100.1L252.0 1100.0L252.5 1099.9L253.0 1100.2L253.5 1100.0L254.0 1099.5L254.5 1099.9L255.0 1100.2L255.5 1100.0L256.0 1100.4L256.5 1100.7L257.0 1099.7L257.5 1101.3L258.0 1100.0L258.5 1100.1L259.0 1100.4L259.5 1099.7L260.0 1100.2L260.5 1100.2L261.0 1100.0L261.5 1100.3L262.0 1100.0L262.5 1100.2L263.0 1099.7L263.5 1100.4L264.0 1100.5L264.5 1100.9L265.0 1100.0L265.5 1100.4L266.0 1100.1L266.5 1100.6L267.0 1099.7L267.5 1100.0L268.0 1100.2L268.5 1100.8L269.0 1099.7L269.5 1100.5L270.0 1100.3L270.5 1100.4L271.0 1100.1L271.5 1099.8L272.0 1100.8L272.5 1099.9L273.0 1100.4L273.5 1100.0L274.0 1100.4L274.5 1100.7L275.0 1100.5L275.5 1100.1L276.0 1100.3L276.5 1100.5L277.0 1099.8L277.5 1100.6L278.0 1100.4L278.5 1100.3L279.0 1100.6L279.5 1100.6L280.0 1100.4L280.5 1100.3L281.0 1100.2L281.5 1100.5L282.0 1101.0L282.5 1100.6L283.0 1100.7L283.5 1100.0L284.0 1099.9L284.5 1100.7L285.0 1100.2L285.5 1100.8L286.0 1100.4L286.5 1100.4L287.0 1100.6L287.5 1100.3L288.0 1099.7L288.5 1100.9L289.0 1100.4L289.5 1100.6L290.0 1100.3L290.5 1100.3L291.0 1100.4L291.5 1100.7L292.0 1100.6L292.5 1099.9L293.0 1100.7L293.5 1100.5L294.0 1100.5L294.5 1100.8L295.0 1099.8L295.5 1100.6L296.0 1100.5L296.5 1100.8L297.0 1100.7L297.5 1100.8L298.0 1100.1L298.5 1100.8L299.0 1100.0L299.5 1100.5L300.0 1100.4L300.5 1100.7L301.0 1100.4L301.5 1100.7L302.0 1100.7L302.5 1100.4L303.0 1100.8L303.5 1100.6L304.0 1099.8L304.5 1100.1L305.0 1100.2L305.5 1100.4L306.0 1100.3L306.5 1100.7L307.0 1100.3L307.5 1100.8L308.0 1100.6L308.5 1099.9L309.0 1100.5L309.5 1100.3L310.0 1100.7L310.5 1101.0L311.0 1100.0L311.5 1100.4L312.0 1101.3L312.5 1100.1L313.0 1100.7L313.5 1099.8L314.0 1100.4L314.5 1100.4L315.0 1100.0L315.5 1100.1L316.0 1100.8L316.5 1100.4L317.0 1101.0L317.5 1100.2L318.0 1100.4L318.5 1101.0L319.0 1101.2L319.5 1100.8L320.0 1100.7L320.5 1100.7L321.0 1100.5L321.5 1101.3L322.0 1100.9L322.5 1100.2L323.0 1101.0L323.5 1100.4L324.0 1100.5L324.5 1100.7L325.0 1100.2L325.5 1100.7L326.0 1101.3L326.5 1100.2L327.0 1099.9L327.5 1100.4L328.0 1100.3L328.5 1100.9L329.0 1100.1L329.5 1101.2L330.0 1100.1L330.5 1100.6L331.0 1101.2L331.5 1101.0L332.0 1100.9L332.5 1100.5L333.0 1100.6L333.5 1100.2L334.0 1101.1L334.5 1100.3L335.0 1100.4L335.5 1100.5L336.0 1100.4L336.5 1100.3L337.0 1100.5L337.5 1100.4L338.0 1100.7L338.5 1100.7L339.0 1100.4L339.5 1100.4L340.0 1099.6L340.5 1100.5L341.0 1100.2L341.5 1100.1L342.0 1100.8L342.5 1100.3L343.0 1100.5L343.5 1101.0L344.0 1100.8L344.5 1100.5L345.0 1100.3L345.5 1100.5L346.0 1099.5L346.5 1100.8L347.0 1100.5L347.5 1101.0L348.0 1100.8L348.5 1100.7L349.0 1101.4L349.5 1100.6L350.0 1100.6L350.5 1100.7L351.0 1101.4L351.5 1100.6L352.0 1099.6L352.5 1100.5L353.0 1100.5L353.5 1100.7L354.0 1100.5L354.5 1100.2L355.0 1100.1L355.5 1100.4L356.0 1100.7L356.5 1101.0L357.0 1101.0L357.5 1100.4L358.0 1100.3L358.5 1100.5L359.0 1099.6L359.5 1100.9L360.0 1100.1L360.5 1100.5L361.0 1100.0L361.5 1100.5L362.0 1100.6L362.5 1100.2L363.0 1100.7L363.5 1100.4L364.0 1100.8L364.5 1100.2L365.0 1100.4L365.5 1100.6L366.0 1100.3L366.5 1099.8L367.0 1100.7L367.5 1100.5L368.0 1100.7L368.5 1100.1L369.0 1100.8L369.5 1100.8L370.0 1100.5L370.5 1100.9L371.0 1099.7L371.5 1100.1L372.0 1100.1L372.5 1100.0L373.0 1100.3L373.5 1100.5L374.0 1101.0L374.5 1100.5L375.0 1100.7L375.5 1100.4L376.0 1101.1L376.5 1100.2L377.0 1100.1L377.5 1100.6L378.0 1101.2L378.5 1100.4L379.0 1100.4L379.5 1101.0L380.0 1100.1L380.5 1100.2L381.0 1099.9L381.5 1099.6L382.0 1100.1L382.5 1099.9L383.0 1100.1L383.5 1101.0L384.0 1100.2L384.5 1100.2L385.0 1100.9L385.5 1100.5L386.0 1101.0L386.5 1100.8L387.0 1100.5L387.5 1101.2L388.0 1100.7L388.5 1100.3L389.0 1100.1L389.5 1101.3L390.0 1100.3L390.5 1100.7L391.0 1100.7L391.5 1100.8L392.0 1101.0L392.5 1099.6L393.0 1100.3L393.5 1100.5L394.0 1101.0L394.5 1100.3L395.0 1100.2L395.5 1100.7L396.0 1100.3L396.5 1100.8L397.0 1101.0L397.5 1101.0L398.0 1100.2L398.5 1099.8L399.0 1100.7L399.5 1100.4L400.0 1101.1L400.5 1099.9L401.0 1100.7L401.5 1100.3L402.0 1100.6L402.5 1100.8L403.0 1100.6L403.5 1100.6L404.0 1100.8L404.5 1100.5L405.0 1100.5L405.5 1101.0L406.0 1099.7L406.5 1100.8L407.0 1101.1L407.5 1100.7L408.0 1100.8L408.5 1101.0L409.0 1101.0L409.5 1100.1L410.0 1100.8L410.5 1101.4L411.0 1100.1L411.5 1100.5L412.0 1100.3L412.5 1100.2L413.0 1100.5L413.5 1100.3L414.0 1100.1L414.5 1100.0L415.0 1100.9L415.5 1101.2L416.0 1101.2L416.5 1100.2L417.0 1100.0L417.5 1100.4L418.0 1100.8L418.5 1100.4L419.0 1101.0L419.5 1100.9L420.0 1100.6L420.5 1100.2L421.0 1100.4L421.5 1101.1L422.0 1100.3L422.5 1100.4L423.0 1100.1L423.5 1100.9L424.0 1100.5L424.5 1100.6L425.0 1099.9L425.5 1100.3L426.0 1100.1L426.5 1100.6L427.0 1101.1L427.5 1100.1L428.0 1099.9L428.5 1100.5L429.0 1100.7L429.5 1100.3L430.0 1100.3L430.5 1100.6L431.0 1100.5L431.5 1100.6L432.0 1100.1L432.5 1100.2L433.0 1100.5L433.5 1100.8L434.0 1100.7L434.5 1100.4L435.0 1100.6L435.5 1100.2L436.0 1100.4L436.5 1099.9L437.0 1100.0L437.5 1099.5L438.0 1101.0L438.5 1100.7L439.0 1100.7L439.5 1100.7L440.0 1100.6L440.5 1100.5L441.0 1100.3L441.5 1100.7L442.0 1100.5L442.5 1100.4L443.0 1100.4L443.5 1100.2L444.0 1100.5L444.5 1100.0L445.0 1100.1L445.5 1100.6L446.0 1101.0L446.5 1100.5L447.0 1100.4L447.5 1100.7L448.0 1100.8L448.5 1101.0L449.0 1100.5L449.5 1100.9L450.0 1100.3L450.5 1099.9L451.0 1101.1L451.5 1100.7L452.0 1100.4L452.5 1100.5L453.0 1100.9L453.5 1100.6L454.0 1099.9L454.5 1100.8L455.0 1101.0L455.5 1101.0L456.0 1100.7L456.5 1100.8L457.0 1100.3L457.5 1100.7L458.0 1100.4L458.5 1100.1L459.0 1100.2L459.5 1100.4L460.0 1100.6L460.5 1100.5L461.0 1101.1L461.5 1100.2L462.0 1101.2L462.5 1100.8L463.0 1100.4L463.5 1100.0L464.0 1100.8L464.5 1100.0L465.0 1101.1L465.5 1100.1L466.0 1100.8L466.5 1100.3L467.0 1101.2L467.5 1100.0L468.0 1100.6L468.5 1100.1L469.0 1100.8L469.5 1100.9L470.0 1100.9L470.5 1100.2L471.0 1100.6L471.5 1100.5L472.0 1100.7L472.5 1100.8L473.0 1101.1L473.5 1099.9L474.0 1100.5L474.5 1101.0L475.0 1100.8L475.5 1101.0L476.0 1100.2L476.5 1100.6L477.0 1100.2L477.5 1100.7L478.0 1100.3L478.5 1100.7L479.0 1100.6L479.5 1100.5L480.0 1100.2L480.5 1100.3L481.0 1100.3L481.5 1100.4L482.0 1100.4L482.5 1100.6L483.0 1100.3L483.5 1100.9L484.0 1100.6L484.5 1100.5L485.0 1100.4L485.5 1100.7L486.0 1100.9L486.5 1100.8L487.0 1100.7L487.5 1100.5L488.0 1100.3L488.5 1100.4L489.0 1099.8L489.5 1100.6L490.0 1101.0L490.5 1101.0L491.0 1100.2L491.5 1100.8L492.0 1100.6L492.5 1100.4L493.0 1100.1L493.5 1100.0L494.0 1100.9L494.5 1100.2L495.0 1100.5L495.5 1100.5L496.0 1100.2L496.5 1100.6L497.0 1100.5L497.5 1100.9L498.0 1100.9L498.5 1100.6L499.0 1101.0L499.5 1100.7L500.0 1101.0L500.5 1100.0L501.0 1100.3L501.5 1100.2L502.0 1100.6L502.5 1100.3L503.0 1100.9L503.5 1100.7L504.0 1100.8L504.5 1100.9L505.0 1100.3L505.5 1100.3L506.0 1101.3L506.5 1101.3L507.0 1099.9L507.5 1100.0L508.0 1100.3L508.5 1101.1L509.0 1100.0L509.5 1100.1L510.0 1100.0L510.5 1100.6L511.0 1100.7L511.5 1100.6L512.0 1100.3L512.5 1100.7L513.0 1100.8L513.5 1100.3L514.0 1100.1L514.5 1100.5L515.0 1100.2L515.5 1101.1L516.0 1100.4L516.5 1101.2L517.0 1100.0L517.5 1100.3L518.0 1100.3L518.5 1100.5L519.0 1100.4L519.5 1100.5L520.0 1100.7L520.5 1100.6L521.0 1100.8L521.5 1100.4L522.0 1100.1L522.5 1100.2L523.0 1100.4L523.5 1100.6L524.0 1100.2L524.5 1100.0L525.0 1100.5L525.5 1100.5L526.0 1100.4L526.5 1100.9L527.0 1100.5L527.5 1100.3L528.0 1100.7L528.5 1100.5L529.0 1100.7L529.5 1100.6L530.0 1100.5L530.5 1100.9L531.0 1100.7L531.5 1100.3L532.0 1100.7L532.5 1100.3L533.0 1100.2L533.5 1100.1L534.0 1100.5L534.5 1100.3L535.0 1100.1L535.5 1100.9L536.0 1101.0L536.5 1100.9L537.0 1100.3L537.5 1100.0L538.0 1101.2L538.5 1100.8L539.0 1100.9L539.5 1100.3L540.0 1100.6L540.5 1099.5L541.0 1100.6L541.5 1100.5L542.0 1100.0L542.5 1100.4L543.0 1101.1L543.5 1100.2L544.0 1101.2L544.5 1100.7L545.0 1100.2L545.5 1100.5L546.0 1101.0L546.5 1100.8L547.0 1100.7L547.5 1100.7L548.0 1100.6L548.5 1099.7L549.0 1100.6L549.5 1100.4L550.0 1100.2L550.5 1101.1L551.0 1100.6L551.5 1100.3L552.0 1099.9L552.5 1100.4L553.0 1099.8L553.5 1100.2L554.0 1100.1L554.5 1100.6L555.0 1100.6L555.5 1100.6L556.0 1100.3L556.5 1100.1L557.0 1100.6L557.5 1100.7L558.0 1100.9L558.5 1101.5L559.0 1100.4L559.5 1100.6L560.0 1100.4L560.5 1100.7L561.0 1100.6L561.5 1100.8L562.0 1099.9L562.5 1100.2L563.0 1100.2L563.5 1100.1L564.0 1100.1L564.5 1100.3L565.0 1100.2L565.5 1100.6L566.0 1100.7L566.5 1100.7L567.0 1101.1L567.5 1100.6L568.0 1100.8L568.5 1100.5L569.0 1100.4L569.5 1100.8L570.0 1101.0L570.5 1100.2L571.0 1100.3L571.5 1100.6L572.0 1100.4L572.5 1101.0L573.0 1100.5L573.5 1100.5L574.0 1100.0L574.5 1101.1L575.0 1100.0L575.5 1100.5L576.0 1100.5L576.5 1099.6L577.0 1100.1L577.5 1100.7L578.0 1100.4L578.5 1100.3L579.0 1100.5L579.5 1100.2L580.0 1101.0L580.5 1099.7L581.0 1100.0L581.5 1100.8L582.0 1100.4L582.5 1100.5L583.0 1100.4L583.5 1100.8L584.0 1100.0L584.5 1100.7L585.0 1100.8L585.5 1101.0L586.0 1100.0L586.5 1100.5L587.0 1100.9L587.5 1100.3L588.0 1100.3L588.5 1100.4L589.0 1100.5L589.5 1100.2L590.0 1100.7L590.5 1100.4L591.0 1100.5L591.5 1100.6L592.0 1100.7L592.5 1100.1L593.0 1100.4L593.5 1099.6L594.0 1101.0L594.5 1100.4L595.0 1100.9L595.5 1100.6L596.0 1100.4L596.5 1100.8L597.0 1101.3L597.5 1100.5L598.0 1100.0L598.5 1100.7L599.0 1100.9L599.5 1100.8L600.0 1100.9L600.5 1100.8L601.0 1100.2L601.5 1100.5L602.0 1100.6L602.5 1100.9L603.0 1099.8L603.5 1100.9L604.0 1100.6L604.5 1100.9L605.0 1100.1L605.5 1099.9L606.0 1100.1L606.5 1100.2L607.0 1100.5L607.5 1101.3L608.0 1101.1L608.5 1100.7L609.0 1100.5L609.5 1100.3L610.0 1100.3L610.5 1100.7L611.0 1100.4L611.5 1100.5L612.0 1100.2L612.5 1100.6L613.0 1100.7L613.5 1100.6L614.0 1100.7L614.5 1100.3L615.0 1100.3L615.5 1100.7L616.0 1100.1L616.5 1100.6L617.0 1100.4L617.5 1100.0L618.0 1100.3L618.5 1100.4L619.0 1100.0L619.5 1100.3L620.0 1100.4L620.5 1100.9L621.0 1100.2L621.5 1100.5L622.0 1100.1L622.5 1100.5L623.0 1100.6L623.5 1100.7L624.0 1100.9L624.5 1100.3L625.0 1100.5L625.5 1100.2L626.0 1100.2L626.5 1100.5L627.0 1101.0L627.5 1100.4L628.0 1100.4L628.5 1100.8L629.0 1100.8L629.5 1100.3L630.0 1100.3L630.5 1100.0L631.0 1100.3L631.5 1100.2L632.0 1100.5L632.5 1099.8L633.0 1100.2L633.5 1100.5L634.0 1100.6L634.5 1100.7L635.0 1100.5L635.5 1100.1L636.0 1100.4L636.5 1100.7L637.0 1100.4L637.5 1100.3L638.0 1100.8L638.5 1100.8L639.0 1100.5L639.5 1100.5L640.0 1100.5L640.5 1100.6L641.0 1100.2L641.5 1100.5L642.0 1100.5L642.5 1100.5L643.0 1100.5L643.5 1100.3L644.0 1100.3L644.5 1100.4L645.0 1100.1L645.5 1100.6L646.0 1100.3L646.5 1100.7L647.0 1100.9L647.5 1100.9L648.0 1101.1L648.5 1100.3L649.0 1100.5L649.5 1101.1L650.0 1100.8L650.5 1100.8L651.0 1099.6L651.5 1100.2L652.0 1100.7L652.5 1100.6L653.0 1101.2L653.5 1100.7L654.0 1100.4L654.5 1100.6L655.0 1099.9L655.5 1100.8L656.0 1100.8L656.5 1100.5L657.0 1099.8L657.5 1099.9L658.0 1100.3L658.5 1100.6L659.0 1101.0L659.5 1100.6L660.0 1100.9L660.5 1100.3L661.0 1100.7L661.5 1100.5L662.0 1101.0L662.5 1100.1L663.0 1100.8L663.5 1100.4L664.0 1100.9L664.5 1100.6L665.0 1100.8L665.5 1100.4L666.0 1100.5L666.5 1100.3L667.0 1101.1L667.5 1101.2L668.0 1100.1L668.5 1100.8L669.0 1100.3L669.5 1100.8L670.0 1100.5L670.5 1100.2L671.0 1100.7L671.5 1100.9L672.0 1100.8L672.5 1100.6L673.0 1100.5L673.5 1100.6L674.0 1099.9L674.5 1099.7L675.0 1100.5L675.5 1100.7L676.0 1101.0L676.5 1101.0L677.0 1100.3L677.5 1100.8L678.0 1100.0L678.5 1100.5L679.0 1100.3L679.5 1100.2L680.0 1100.0L680.5 1100.7L681.0 1100.7L681.5 1099.9L682.0 1099.7L682.5 1100.4L683.0 1101.0L683.5 1100.4L684.0 1100.6L684.5 1100.2L685.0 1100.2L685.5 1100.4L686.0 1100.6L686.5 1100.2L687.0 1100.6L687.5 1100.0L688.0 1100.4L688.5 1099.8L689.0 1100.2L689.5 1099.8L690.0 1100.4L690.5 1100.9L691.0 1100.6L691.5 1101.6L692.0 1100.4L692.5 1100.3L693.0 1100.6L693.5 1101.1L694.0 1100.0L694.5 1100.6L695.0 1100.5L695.5 1100.2L696.0 1100.0L696.5 1099.9L697.0 1101.1L697.5 1100.9L698.0 1101.0L698.5 1100.4L699.0 1100.7L699.5 1100.4L700.0 1100.6L700.5 1100.4L701.0 1100.6L701.5 1100.8L702.0 1100.7L702.5 1100.7L703.0 1100.8L703.5 1101.0L704.0 1100.8L704.5 1100.4L705.0 1099.9L705.5 1100.7L706.0 1100.8L706.5 1100.6L707.0 1100.1L707.5 1100.7L708.0 1100.6L708.5 1100.7L709.0 1101.0L709.5 1101.0L710.0 1101.2L710.5 1100.9L711.0 1100.5L711.5 1100.6L712.0 1101.2L712.5 1100.3L713.0 1100.4L713.5 1100.5L714.0 1099.8L714.5 1101.0L715.0 1100.4L715.5 1100.2L716.0 1100.2L716.5 1100.0L717.0 1101.1L717.5 1100.2L718.0 1100.6L718.5 1100.3L719.0 1100.2L719.5 1100.8L720.0 1100.8L720.5 1100.2L721.0 1100.9L721.5 1100.2L722.0 1100.6L722.5 1100.7L723.0 1100.5L723.5 1099.8L724.0 1100.4L724.5 1100.8L725.0 1100.4L725.5 1100.5L726.0 1100.5L726.5 1100.4L727.0 1100.3L727.5 1101.0L728.0 1100.5L728.5 1100.6L729.0 1100.4L729.5 1100.3L730.0 1100.0L730.5 1100.3L731.0 1100.0L731.5 1100.3L732.0 1100.5L732.5 1100.9L733.0 1100.1L733.5 1100.2L734.0 1100.6L734.5 1100.4L735.0 1100.8L735.5 1100.7L736.0 1101.1L736.5 1101.2L737.0 1100.5L737.5 1100.9L738.0 1100.9L738.5 1100.1L739.0 1100.5L739.5 1101.2L740.0 1099.6L740.5 1100.4L741.0 1100.4L741.5 1100.6L742.0 1100.2L742.5 1100.3L743.0 1100.7L743.5 1100.3L744.0 1100.4L744.5 1100.8L745.0 1101.3L745.5 1100.7" fill="none" stroke="#ff8000" stroke-width="3.1" stroke-linejoin="round"/>
<path d="M90.5 1002.7L92.8 1002.3L95.2 1002.2L97.5 1001.6L99.9 1002.1L102.2 1001.8L102.8 995.6L104.2 835.0L104.7 830.0L105.2 835.0L106.6 995.3L106.9 1001.2L109.3 1002.5L111.6 1002.7L113.9 1002.2L116.3 1002.1L118.6 1002.0L121.0 1001.7L123.3 1002.5L123.8 1001.7L125.0 1000.9L126.2 1002.0L128.0 1002.6L130.4 1002.3L132.7 1001.9L135.1 1000.9L135.2 1000.7L136.7 990.0L138.2 1000.3L139.7 1002.1L142.1 1002.4L144.4 1002.8L146.8 1001.8L149.1 1002.0L151.5 1002.0L153.8 1001.5L156.2 1001.9L158.5 1001.9L160.8 1002.5L163.2 1002.2L165.2 999.2L166.7 984.1L167.3 987.3L168.2 972.9L168.7 960.3L169.2 959.5L169.7 960.7L171.1 1000.6L172.6 1001.5L175.1 1001.8L176.3 1000.0L177.5 1002.1L179.6 1002.5L182.0 1002.5L184.3 1002.6L186.6 1001.9L188.5 1002.1L190.0 999.1L191.5 1001.7L193.7 1001.6L196.0 1002.5L198.4 1002.6L200.7 1002.1L203.1 1002.7L205.4 1002.0L207.7 1002.2L210.1 1002.2L212.4 1001.9L214.8 1002.3L217.1 1002.8L219.5 1001.9L221.8 1002.5L224.2 1002.2L226.5 1002.7L228.9 1002.3L230.8 1001.6L232.5 996.9L234.2 1001.5L235.9 1001.8L238.2 1002.6L240.6 1001.8L242.9 1002.3L245.3 1002.4L247.6 1001.9L248.5 1001.8L250.0 999.6L251.5 1001.8L252.3 1001.9L254.6 1001.3L257.0 1001.9L259.3 1002.0L261.7 1002.0L264.0 1001.9L266.4 1002.3L268.7 1002.0L271.1 1002.2L273.4 1002.4L275.8 1001.9L278.1 1002.1L280.4 1002.8L282.8 1002.5L285.1 1001.8L287.5 1002.2L289.8 1002.4L292.2 1002.6L294.5 1002.1L295.0 1001.7L296.7 999.3L298.4 1002.0L299.2 1002.3L301.5 1002.0L303.9 1002.1L306.2 1002.1L308.6 1002.4L310.5 1001.8L311.7 1000.6L312.9 1002.2L315.6 1002.3L318.0 1001.9L320.3 1002.6L322.7 1002.0L325.0 1002.3L327.3 1002.0L329.7 1001.7L332.0 1002.3L334.4 1002.3L336.7 1002.2L339.1 1002.3L341.4 1002.0L343.8 1002.0L346.1 1002.1L348.4 1002.8L350.8 1002.4L353.1 1002.0L355.5 1002.4L357.8 1002.1L360.2 1002.1L362.5 1002.5L364.9 1002.0L367.2 1001.7L369.6 1001.9L371.9 1002.2L374.2 1002.2L376.6 1002.6L378.9 1002.0L381.3 1002.4L383.6 1002.3L386.0 1002.2L388.3 1002.5L390.7 1002.3L393.0 1001.9L395.3 1002.5L397.7 1001.8L400.0 1002.2L402.4 1002.2L404.7 1002.3L407.1 1002.0L409.4 1002.2L411.8 1002.2L414.1 1002.5L416.5 1002.0L418.8 1002.2L421.1 1002.1L423.5 1001.8L425.8 1003.0L428.2 1002.2L430.5 1001.8L432.9 1002.6L435.2 1001.9L437.6 1002.3L439.9 1002.5L442.2 1002.0L444.6 1002.1L446.9 1002.0L449.3 1002.2L451.6 1001.7L454.0 1001.8L456.3 1002.2L458.7 1002.5L461.0 1002.4L463.4 1002.7L465.7 1002.4L468.0 1002.0L470.4 1002.2L472.7 1001.6L475.1 1001.9L477.4 1001.9L479.8 1002.3L482.1 1002.4L484.5 1002.0L486.8 1002.0L489.1 1001.7L491.5 1002.2L493.8 1002.3L496.2 1002.3L498.5 1002.0L500.9 1002.8L503.2 1002.6L505.6 1002.2L507.9 1002.0L510.3 1002.1L512.6 1002.2L514.9 1002.2L517.3 1002.3L519.6 1002.4L522.0 1002.6L524.3 1002.5L526.7 1002.2L529.0 1002.3L531.4 1002.1L533.7 1002.0L536.0 1002.8L538.4 1002.1L540.7 1002.8L543.1 1002.1L545.4 1002.3L547.8 1002.5L550.1 1002.2L552.5 1002.3L554.8 1002.1L557.2 1002.1L559.5 1002.2L561.8 1002.0L564.2 1002.7L566.5 1002.1L568.9 1002.7L571.2 1001.4L573.6 1002.2L574.1 1002.3L575.5 999.8L576.0 1000.1L576.5 1000.1L577.9 1002.0L578.3 1002.3L580.6 1003.0L582.9 1002.3L585.3 1002.3L587.6 1002.1L590.0 1002.2L592.3 1001.8L594.7 1002.1L597.0 1002.9L599.4 1002.5L601.7 1002.4L604.1 1002.5L606.4 1002.8L608.7 1002.4L611.1 1002.8L613.4 1002.5L615.8 1002.2L618.1 1002.7L620.5 1001.5L622.8 1002.0L625.2 1002.3L627.5 1001.9L629.8 1002.2L632.2 1002.0L634.5 1002.0L636.9 1003.0L639.2 1002.4L641.6 1002.2L643.9 1002.6L646.3 1002.1L648.6 1002.5L651.0 1002.3L653.3 1002.7L655.6 1001.8L658.0 1002.4L660.3 1002.2L662.7 1001.9L665.0 1002.5L667.4 1001.9L669.7 1002.7L672.1 1002.4L674.4 1002.4L676.7 1002.2L679.1 1002.5L681.4 1001.6L683.8 1002.2L686.1 1002.0L688.5 1002.3L690.8 1002.2L693.2 1002.4L695.5 1001.9L697.9 1002.8L700.2 1002.9L702.5 1002.1L704.9 1002.2L707.2 1002.3L709.6 1002.6L711.9 1002.8L714.3 1001.8L716.6 1002.0L719.0 1001.9L721.3 1001.9L723.6 1001.7L726.0 1002.3L728.3 1001.9L730.7 1002.7L733.0 1002.5L735.4 1001.9L737.7 1001.9L740.1 1002.0L742.4 1002.6L744.8 1001.9" fill="none" stroke="#000099" stroke-width="3" stroke-linejoin="round"/>
<g fill="#fff" stroke="#000" stroke-width="1" clip-path="url(#clipc)"><circle cx="90.0" cy="904.5" r="2.9"/><circle cx="90.8" cy="902.7" r="2.9"/><circle cx="91.5" cy="901.0" r="2.9"/><circle cx="92.3" cy="898.1" r="2.9"/><circle cx="93.0" cy="893.6" r="2.9"/><circle cx="93.8" cy="889.5" r="2.9"/><circle cx="94.5" cy="884.7" r="2.9"/><circle cx="95.3" cy="878.4" r="2.9"/><circle cx="96.0" cy="872.4" r="2.9"/><circle cx="96.8" cy="863.0" r="2.9"/><circle cx="97.5" cy="852.0" r="2.9"/><circle cx="98.3" cy="841.1" r="2.9"/><circle cx="99.0" cy="828.7" r="2.9"/><circle cx="99.8" cy="813.4" r="2.9"/><circle cx="100.5" cy="798.2" r="2.9"/><circle cx="101.3" cy="782.3" r="2.9"/><circle cx="102.0" cy="767.8" r="2.9"/><circle cx="102.8" cy="753.4" r="2.9"/><circle cx="103.5" cy="739.2" r="2.9"/><circle cx="104.3" cy="726.7" r="2.9"/><circle cx="105.0" cy="721.9" r="2.9"/><circle cx="105.8" cy="722.0" r="2.9"/><circle cx="106.5" cy="734.1" r="2.9"/><circle cx="107.3" cy="759.3" r="2.9"/><circle cx="108.0" cy="790.5" r="2.9"/><circle cx="108.8" cy="820.9" r="2.9"/><circle cx="109.5" cy="851.3" r="2.9"/><circle cx="110.3" cy="876.5" r="2.9"/><circle cx="111.0" cy="897.4" r="2.9"/><circle cx="111.8" cy="906.8" r="2.9"/><circle cx="112.5" cy="913.9" r="2.9"/><circle cx="113.3" cy="919.1" r="2.9"/><circle cx="114.0" cy="920.6" r="2.9"/><circle cx="114.8" cy="924.0" r="2.9"/><circle cx="115.5" cy="924.3" r="2.9"/><circle cx="116.3" cy="925.9" r="2.9"/><circle cx="117.0" cy="926.4" r="2.9"/><circle cx="117.8" cy="928.4" r="2.9"/><circle cx="118.5" cy="929.2" r="2.9"/><circle cx="119.3" cy="928.6" r="2.9"/><circle cx="120.0" cy="929.6" r="2.9"/><circle cx="120.8" cy="929.4" r="2.9"/><circle cx="121.5" cy="929.9" r="2.9"/><circle cx="122.3" cy="929.3" r="2.9"/><circle cx="123.0" cy="928.7" r="2.9"/><circle cx="123.8" cy="928.4" r="2.9"/><circle cx="124.5" cy="929.1" r="2.9"/><circle cx="125.3" cy="929.5" r="2.9"/><circle cx="126.0" cy="928.1" r="2.9"/><circle cx="126.8" cy="927.2" r="2.9"/><circle cx="127.5" cy="927.8" r="2.9"/><circle cx="128.3" cy="926.3" r="2.9"/><circle cx="129.0" cy="925.6" r="2.9"/><circle cx="129.8" cy="925.2" r="2.9"/><circle cx="130.5" cy="924.7" r="2.9"/><circle cx="131.3" cy="924.8" r="2.9"/><circle cx="132.0" cy="924.7" r="2.9"/><circle cx="132.8" cy="926.4" r="2.9"/><circle cx="133.5" cy="927.1" r="2.9"/><circle cx="134.3" cy="928.7" r="2.9"/><circle cx="135.0" cy="928.9" r="2.9"/><circle cx="135.8" cy="928.9" r="2.9"/><circle cx="136.5" cy="930.3" r="2.9"/><circle cx="137.3" cy="931.8" r="2.9"/><circle cx="138.0" cy="931.4" r="2.9"/><circle cx="138.8" cy="931.7" r="2.9"/><circle cx="139.5" cy="932.1" r="2.9"/><circle cx="140.3" cy="932.8" r="2.9"/><circle cx="141.0" cy="933.6" r="2.9"/><circle cx="141.8" cy="933.7" r="2.9"/><circle cx="142.5" cy="935.4" r="2.9"/><circle cx="143.3" cy="934.8" r="2.9"/><circle cx="144.0" cy="935.3" r="2.9"/><circle cx="144.8" cy="936.1" r="2.9"/><circle cx="145.5" cy="936.1" r="2.9"/><circle cx="146.3" cy="935.0" r="2.9"/><circle cx="147.0" cy="934.7" r="2.9"/><circle cx="147.8" cy="934.0" r="2.9"/><circle cx="148.5" cy="932.4" r="2.9"/><circle cx="149.3" cy="930.4" r="2.9"/><circle cx="150.0" cy="930.3" r="2.9"/><circle cx="150.8" cy="928.8" r="2.9"/><circle cx="151.5" cy="926.5" r="2.9"/><circle cx="152.3" cy="923.4" r="2.9"/><circle cx="153.0" cy="920.9" r="2.9"/><circle cx="153.8" cy="917.5" r="2.9"/><circle cx="154.5" cy="914.3" r="2.9"/><circle cx="155.3" cy="911.5" r="2.9"/><circle cx="156.0" cy="907.6" r="2.9"/><circle cx="156.8" cy="902.4" r="2.9"/><circle cx="157.5" cy="897.0" r="2.9"/><circle cx="158.3" cy="891.3" r="2.9"/><circle cx="159.0" cy="884.7" r="2.9"/><circle cx="159.8" cy="878.3" r="2.9"/><circle cx="160.5" cy="871.4" r="2.9"/><circle cx="161.3" cy="865.0" r="2.9"/><circle cx="162.0" cy="858.4" r="2.9"/><circle cx="162.8" cy="849.7" r="2.9"/><circle cx="163.5" cy="841.7" r="2.9"/><circle cx="164.3" cy="835.1" r="2.9"/><circle cx="165.0" cy="828.6" r="2.9"/><circle cx="165.8" cy="823.6" r="2.9"/><circle cx="166.5" cy="819.4" r="2.9"/><circle cx="167.3" cy="815.1" r="2.9"/><circle cx="168.0" cy="813.4" r="2.9"/><circle cx="168.8" cy="812.3" r="2.9"/><circle cx="169.5" cy="816.7" r="2.9"/><circle cx="170.3" cy="822.5" r="2.9"/><circle cx="171.0" cy="832.0" r="2.9"/><circle cx="171.8" cy="846.4" r="2.9"/><circle cx="172.5" cy="863.6" r="2.9"/><circle cx="173.3" cy="877.5" r="2.9"/><circle cx="174.0" cy="891.2" r="2.9"/><circle cx="174.8" cy="902.6" r="2.9"/><circle cx="175.5" cy="909.8" r="2.9"/><circle cx="176.3" cy="915.5" r="2.9"/><circle cx="177.0" cy="919.9" r="2.9"/><circle cx="177.8" cy="923.4" r="2.9"/><circle cx="178.5" cy="926.5" r="2.9"/><circle cx="179.3" cy="930.2" r="2.9"/><circle cx="180.0" cy="930.9" r="2.9"/><circle cx="180.8" cy="931.8" r="2.9"/><circle cx="181.5" cy="933.4" r="2.9"/><circle cx="182.3" cy="934.0" r="2.9"/><circle cx="183.0" cy="934.7" r="2.9"/><circle cx="183.8" cy="935.8" r="2.9"/><circle cx="184.6" cy="936.3" r="2.9"/><circle cx="185.3" cy="936.8" r="2.9"/><circle cx="186.1" cy="937.6" r="2.9"/><circle cx="186.8" cy="937.7" r="2.9"/><circle cx="187.6" cy="937.7" r="2.9"/><circle cx="188.3" cy="938.1" r="2.9"/><circle cx="189.1" cy="938.3" r="2.9"/><circle cx="189.8" cy="938.9" r="2.9"/><circle cx="190.6" cy="938.4" r="2.9"/><circle cx="191.3" cy="938.2" r="2.9"/><circle cx="192.1" cy="939.3" r="2.9"/><circle cx="192.8" cy="938.7" r="2.9"/><circle cx="193.6" cy="938.5" r="2.9"/><circle cx="194.3" cy="939.8" r="2.9"/><circle cx="195.1" cy="939.3" r="2.9"/><circle cx="195.8" cy="940.1" r="2.9"/><circle cx="196.6" cy="939.7" r="2.9"/><circle cx="197.3" cy="939.5" r="2.9"/><circle cx="198.1" cy="939.5" r="2.9"/><circle cx="198.8" cy="940.0" r="2.9"/><circle cx="199.6" cy="940.2" r="2.9"/><circle cx="200.3" cy="940.0" r="2.9"/><circle cx="201.1" cy="940.3" r="2.9"/><circle cx="201.8" cy="939.8" r="2.9"/><circle cx="202.6" cy="940.6" r="2.9"/><circle cx="203.3" cy="939.8" r="2.9"/><circle cx="204.1" cy="940.6" r="2.9"/><circle cx="204.8" cy="941.1" r="2.9"/><circle cx="205.6" cy="941.4" r="2.9"/><circle cx="206.3" cy="941.7" r="2.9"/><circle cx="207.1" cy="940.1" r="2.9"/><circle cx="207.8" cy="941.3" r="2.9"/><circle cx="208.6" cy="941.6" r="2.9"/><circle cx="209.3" cy="941.5" r="2.9"/><circle cx="210.1" cy="940.5" r="2.9"/><circle cx="210.8" cy="941.2" r="2.9"/><circle cx="211.6" cy="941.9" r="2.9"/><circle cx="212.3" cy="940.2" r="2.9"/><circle cx="213.1" cy="941.1" r="2.9"/><circle cx="213.8" cy="941.3" r="2.9"/><circle cx="214.6" cy="940.2" r="2.9"/><circle cx="215.3" cy="940.6" r="2.9"/><circle cx="216.1" cy="939.5" r="2.9"/><circle cx="216.8" cy="939.3" r="2.9"/><circle cx="217.6" cy="938.9" r="2.9"/><circle cx="218.3" cy="939.0" r="2.9"/><circle cx="219.1" cy="938.4" r="2.9"/><circle cx="219.8" cy="938.5" r="2.9"/><circle cx="220.6" cy="937.0" r="2.9"/><circle cx="221.3" cy="936.9" r="2.9"/><circle cx="222.1" cy="936.9" r="2.9"/><circle cx="222.8" cy="936.2" r="2.9"/><circle cx="223.6" cy="934.5" r="2.9"/><circle cx="224.3" cy="934.5" r="2.9"/><circle cx="225.1" cy="932.8" r="2.9"/><circle cx="225.8" cy="932.0" r="2.9"/><circle cx="226.6" cy="930.8" r="2.9"/><circle cx="227.3" cy="930.1" r="2.9"/><circle cx="228.1" cy="928.3" r="2.9"/><circle cx="228.8" cy="926.0" r="2.9"/><circle cx="229.6" cy="924.9" r="2.9"/><circle cx="230.3" cy="924.8" r="2.9"/><circle cx="231.1" cy="923.5" r="2.9"/><circle cx="231.8" cy="924.0" r="2.9"/><circle cx="232.6" cy="924.3" r="2.9"/><circle cx="233.3" cy="925.5" r="2.9"/><circle cx="234.1" cy="928.4" r="2.9"/><circle cx="234.8" cy="929.3" r="2.9"/><circle cx="235.6" cy="929.9" r="2.9"/><circle cx="236.3" cy="933.2" r="2.9"/><circle cx="237.1" cy="932.3" r="2.9"/><circle cx="237.8" cy="934.5" r="2.9"/><circle cx="238.6" cy="935.4" r="2.9"/><circle cx="239.3" cy="935.7" r="2.9"/><circle cx="240.1" cy="935.5" r="2.9"/><circle cx="240.8" cy="937.5" r="2.9"/><circle cx="241.6" cy="936.9" r="2.9"/><circle cx="242.3" cy="937.5" r="2.9"/><circle cx="243.1" cy="938.5" r="2.9"/><circle cx="243.8" cy="939.6" r="2.9"/><circle cx="244.6" cy="939.7" r="2.9"/><circle cx="245.3" cy="940.3" r="2.9"/><circle cx="246.1" cy="939.9" r="2.9"/><circle cx="246.8" cy="940.3" r="2.9"/><circle cx="247.6" cy="939.9" r="2.9"/><circle cx="248.3" cy="940.5" r="2.9"/><circle cx="249.1" cy="941.1" r="2.9"/><circle cx="249.8" cy="940.8" r="2.9"/><circle cx="250.6" cy="941.4" r="2.9"/><circle cx="251.3" cy="941.0" r="2.9"/><circle cx="252.1" cy="941.1" r="2.9"/><circle cx="252.8" cy="941.5" r="2.9"/><circle cx="253.6" cy="941.5" r="2.9"/><circle cx="254.3" cy="942.0" r="2.9"/><circle cx="255.1" cy="941.9" r="2.9"/><circle cx="255.8" cy="942.8" r="2.9"/><circle cx="256.6" cy="941.9" r="2.9"/><circle cx="257.3" cy="942.0" r="2.9"/><circle cx="258.1" cy="941.6" r="2.9"/><circle cx="258.8" cy="942.2" r="2.9"/><circle cx="259.6" cy="942.6" r="2.9"/><circle cx="260.3" cy="942.0" r="2.9"/><circle cx="261.1" cy="942.4" r="2.9"/><circle cx="261.8" cy="942.8" r="2.9"/><circle cx="262.6" cy="942.4" r="2.9"/><circle cx="263.3" cy="942.2" r="2.9"/><circle cx="264.1" cy="943.0" r="2.9"/><circle cx="264.8" cy="942.5" r="2.9"/><circle cx="265.6" cy="942.7" r="2.9"/><circle cx="266.3" cy="943.1" r="2.9"/><circle cx="267.1" cy="943.1" r="2.9"/><circle cx="267.8" cy="942.3" r="2.9"/><circle cx="268.6" cy="942.2" r="2.9"/><circle cx="269.3" cy="942.6" r="2.9"/><circle cx="270.1" cy="942.4" r="2.9"/><circle cx="270.8" cy="941.5" r="2.9"/><circle cx="271.6" cy="943.1" r="2.9"/><circle cx="272.3" cy="942.5" r="2.9"/><circle cx="273.1" cy="942.8" r="2.9"/><circle cx="273.8" cy="941.8" r="2.9"/><circle cx="274.6" cy="943.1" r="2.9"/><circle cx="275.3" cy="942.1" r="2.9"/><circle cx="276.1" cy="942.3" r="2.9"/><circle cx="276.8" cy="941.7" r="2.9"/><circle cx="277.6" cy="942.3" r="2.9"/><circle cx="278.4" cy="942.2" r="2.9"/><circle cx="279.1" cy="942.2" r="2.9"/><circle cx="279.9" cy="942.5" r="2.9"/><circle cx="280.6" cy="942.3" r="2.9"/><circle cx="281.4" cy="942.6" r="2.9"/><circle cx="282.1" cy="941.8" r="2.9"/><circle cx="282.9" cy="941.3" r="2.9"/><circle cx="283.6" cy="941.6" r="2.9"/><circle cx="284.4" cy="941.6" r="2.9"/><circle cx="285.1" cy="941.6" r="2.9"/><circle cx="285.9" cy="941.1" r="2.9"/><circle cx="286.6" cy="939.5" r="2.9"/><circle cx="287.4" cy="940.3" r="2.9"/><circle cx="288.1" cy="940.5" r="2.9"/><circle cx="288.9" cy="939.6" r="2.9"/><circle cx="289.6" cy="939.0" r="2.9"/><circle cx="290.4" cy="939.1" r="2.9"/><circle cx="291.1" cy="938.4" r="2.9"/><circle cx="291.9" cy="938.6" r="2.9"/><circle cx="292.6" cy="937.9" r="2.9"/><circle cx="293.4" cy="938.2" r="2.9"/><circle cx="294.1" cy="937.5" r="2.9"/><circle cx="294.9" cy="936.6" r="2.9"/><circle cx="295.6" cy="937.1" r="2.9"/><circle cx="296.4" cy="937.2" r="2.9"/><circle cx="297.1" cy="936.5" r="2.9"/><circle cx="297.9" cy="936.9" r="2.9"/><circle cx="298.6" cy="936.5" r="2.9"/><circle cx="299.4" cy="938.9" r="2.9"/><circle cx="300.1" cy="939.0" r="2.9"/><circle cx="300.9" cy="939.0" r="2.9"/><circle cx="301.6" cy="939.9" r="2.9"/><circle cx="302.4" cy="941.2" r="2.9"/><circle cx="303.1" cy="941.9" r="2.9"/><circle cx="303.9" cy="941.6" r="2.9"/><circle cx="304.6" cy="942.0" r="2.9"/><circle cx="305.4" cy="941.3" r="2.9"/><circle cx="306.1" cy="941.3" r="2.9"/><circle cx="306.9" cy="942.6" r="2.9"/><circle cx="307.6" cy="942.5" r="2.9"/><circle cx="308.4" cy="942.3" r="2.9"/><circle cx="309.1" cy="943.0" r="2.9"/><circle cx="309.9" cy="942.0" r="2.9"/><circle cx="310.6" cy="942.3" r="2.9"/><circle cx="311.4" cy="943.1" r="2.9"/><circle cx="312.1" cy="943.6" r="2.9"/><circle cx="312.9" cy="942.7" r="2.9"/><circle cx="313.6" cy="943.6" r="2.9"/><circle cx="314.4" cy="942.5" r="2.9"/><circle cx="315.1" cy="943.0" r="2.9"/><circle cx="315.9" cy="942.8" r="2.9"/><circle cx="316.6" cy="942.1" r="2.9"/><circle cx="317.4" cy="943.1" r="2.9"/><circle cx="318.1" cy="943.4" r="2.9"/><circle cx="318.9" cy="942.9" r="2.9"/><circle cx="319.6" cy="943.0" r="2.9"/><circle cx="320.4" cy="943.7" r="2.9"/><circle cx="321.1" cy="942.4" r="2.9"/><circle cx="321.9" cy="942.3" r="2.9"/><circle cx="322.6" cy="942.7" r="2.9"/><circle cx="323.4" cy="942.4" r="2.9"/><circle cx="324.1" cy="943.7" r="2.9"/><circle cx="324.9" cy="943.2" r="2.9"/><circle cx="325.6" cy="942.6" r="2.9"/><circle cx="326.4" cy="942.7" r="2.9"/><circle cx="327.1" cy="944.4" r="2.9"/><circle cx="327.9" cy="942.7" r="2.9"/><circle cx="328.6" cy="942.6" r="2.9"/><circle cx="329.4" cy="943.2" r="2.9"/><circle cx="330.1" cy="943.3" r="2.9"/><circle cx="330.9" cy="943.1" r="2.9"/><circle cx="331.6" cy="942.5" r="2.9"/><circle cx="332.4" cy="942.4" r="2.9"/><circle cx="333.1" cy="943.3" r="2.9"/><circle cx="333.9" cy="943.0" r="2.9"/><circle cx="334.6" cy="942.2" r="2.9"/><circle cx="335.4" cy="943.6" r="2.9"/><circle cx="336.1" cy="943.4" r="2.9"/><circle cx="336.9" cy="942.9" r="2.9"/><circle cx="337.6" cy="942.9" r="2.9"/><circle cx="338.4" cy="943.1" r="2.9"/><circle cx="339.1" cy="942.7" r="2.9"/><circle cx="339.9" cy="942.3" r="2.9"/><circle cx="340.6" cy="943.2" r="2.9"/><circle cx="341.4" cy="942.3" r="2.9"/><circle cx="342.1" cy="943.1" r="2.9"/><circle cx="342.9" cy="942.2" r="2.9"/><circle cx="343.6" cy="942.8" r="2.9"/><circle cx="344.4" cy="942.7" r="2.9"/><circle cx="345.1" cy="943.6" r="2.9"/><circle cx="345.9" cy="942.1" r="2.9"/><circle cx="346.6" cy="941.9" r="2.9"/><circle cx="347.4" cy="942.2" r="2.9"/><circle cx="348.1" cy="941.8" r="2.9"/><circle cx="348.9" cy="942.0" r="2.9"/><circle cx="349.6" cy="942.4" r="2.9"/><circle cx="350.4" cy="942.5" r="2.9"/><circle cx="351.1" cy="942.9" r="2.9"/><circle cx="351.9" cy="941.6" r="2.9"/><circle cx="352.6" cy="943.3" r="2.9"/><circle cx="353.4" cy="942.9" r="2.9"/><circle cx="354.1" cy="941.7" r="2.9"/><circle cx="354.9" cy="940.5" r="2.9"/><circle cx="355.6" cy="941.6" r="2.9"/><circle cx="356.4" cy="941.6" r="2.9"/><circle cx="357.1" cy="940.3" r="2.9"/><circle cx="357.9" cy="941.4" r="2.9"/><circle cx="358.6" cy="941.2" r="2.9"/><circle cx="359.4" cy="940.9" r="2.9"/><circle cx="360.1" cy="941.6" r="2.9"/><circle cx="360.9" cy="941.8" r="2.9"/><circle cx="361.6" cy="941.2" r="2.9"/><circle cx="362.4" cy="941.6" r="2.9"/><circle cx="363.1" cy="941.3" r="2.9"/><circle cx="363.9" cy="941.4" r="2.9"/><circle cx="364.6" cy="942.0" r="2.9"/><circle cx="365.4" cy="942.4" r="2.9"/><circle cx="366.1" cy="942.0" r="2.9"/><circle cx="366.9" cy="941.3" r="2.9"/><circle cx="367.6" cy="942.9" r="2.9"/><circle cx="368.4" cy="941.9" r="2.9"/><circle cx="369.1" cy="942.8" r="2.9"/><circle cx="369.9" cy="943.7" r="2.9"/><circle cx="370.6" cy="942.8" r="2.9"/><circle cx="371.4" cy="942.2" r="2.9"/><circle cx="372.2" cy="942.1" r="2.9"/><circle cx="372.9" cy="943.4" r="2.9"/><circle cx="373.7" cy="942.8" r="2.9"/><circle cx="374.4" cy="943.1" r="2.9"/><circle cx="375.2" cy="943.3" r="2.9"/><circle cx="375.9" cy="942.9" r="2.9"/><circle cx="376.7" cy="942.7" r="2.9"/><circle cx="377.4" cy="942.4" r="2.9"/><circle cx="378.2" cy="941.4" r="2.9"/><circle cx="378.9" cy="942.1" r="2.9"/><circle cx="379.7" cy="942.9" r="2.9"/><circle cx="380.4" cy="942.8" r="2.9"/><circle cx="381.2" cy="943.1" r="2.9"/><circle cx="381.9" cy="942.9" r="2.9"/><circle cx="382.7" cy="943.0" r="2.9"/><circle cx="383.4" cy="943.3" r="2.9"/><circle cx="384.2" cy="942.5" r="2.9"/><circle cx="384.9" cy="942.8" r="2.9"/><circle cx="385.7" cy="942.2" r="2.9"/><circle cx="386.4" cy="943.5" r="2.9"/><circle cx="387.2" cy="943.0" r="2.9"/><circle cx="387.9" cy="943.2" r="2.9"/><circle cx="388.7" cy="943.7" r="2.9"/><circle cx="389.4" cy="943.5" r="2.9"/><circle cx="390.2" cy="943.0" r="2.9"/><circle cx="390.9" cy="943.4" r="2.9"/><circle cx="391.7" cy="942.3" r="2.9"/><circle cx="392.4" cy="943.2" r="2.9"/><circle cx="393.2" cy="943.1" r="2.9"/><circle cx="393.9" cy="942.2" r="2.9"/><circle cx="394.7" cy="943.7" r="2.9"/><circle cx="395.4" cy="942.6" r="2.9"/><circle cx="396.2" cy="943.3" r="2.9"/><circle cx="396.9" cy="942.8" r="2.9"/><circle cx="397.7" cy="943.5" r="2.9"/><circle cx="398.4" cy="943.7" r="2.9"/><circle cx="399.2" cy="942.6" r="2.9"/><circle cx="399.9" cy="942.2" r="2.9"/><circle cx="400.7" cy="942.9" r="2.9"/><circle cx="401.4" cy="943.4" r="2.9"/><circle cx="402.2" cy="942.8" r="2.9"/><circle cx="402.9" cy="942.6" r="2.9"/><circle cx="403.7" cy="943.1" r="2.9"/><circle cx="404.4" cy="941.5" r="2.9"/><circle cx="405.2" cy="942.5" r="2.9"/><circle cx="405.9" cy="942.1" r="2.9"/><circle cx="406.7" cy="942.8" r="2.9"/><circle cx="407.4" cy="942.3" r="2.9"/><circle cx="408.2" cy="942.0" r="2.9"/><circle cx="408.9" cy="942.3" r="2.9"/><circle cx="409.7" cy="941.7" r="2.9"/><circle cx="410.4" cy="942.4" r="2.9"/><circle cx="411.2" cy="941.9" r="2.9"/><circle cx="411.9" cy="942.0" r="2.9"/><circle cx="412.7" cy="941.8" r="2.9"/><circle cx="413.4" cy="942.5" r="2.9"/><circle cx="414.2" cy="941.9" r="2.9"/><circle cx="414.9" cy="942.2" r="2.9"/><circle cx="415.7" cy="942.1" r="2.9"/><circle cx="416.4" cy="941.4" r="2.9"/><circle cx="417.2" cy="942.0" r="2.9"/><circle cx="417.9" cy="941.8" r="2.9"/><circle cx="418.7" cy="941.7" r="2.9"/><circle cx="419.4" cy="941.3" r="2.9"/><circle cx="420.2" cy="941.3" r="2.9"/><circle cx="420.9" cy="941.8" r="2.9"/><circle cx="421.7" cy="942.5" r="2.9"/><circle cx="422.4" cy="940.9" r="2.9"/><circle cx="423.2" cy="941.6" r="2.9"/><circle cx="423.9" cy="941.1" r="2.9"/><circle cx="424.7" cy="941.7" r="2.9"/><circle cx="425.4" cy="941.5" r="2.9"/><circle cx="426.2" cy="941.8" r="2.9"/><circle cx="426.9" cy="939.9" r="2.9"/><circle cx="427.7" cy="941.0" r="2.9"/><circle cx="428.4" cy="940.9" r="2.9"/><circle cx="429.2" cy="941.3" r="2.9"/><circle cx="429.9" cy="941.1" r="2.9"/><circle cx="430.7" cy="941.1" r="2.9"/><circle cx="431.4" cy="941.8" r="2.9"/><circle cx="432.2" cy="942.5" r="2.9"/><circle cx="432.9" cy="940.2" r="2.9"/><circle cx="433.7" cy="941.5" r="2.9"/><circle cx="434.4" cy="941.8" r="2.9"/><circle cx="435.2" cy="941.7" r="2.9"/><circle cx="435.9" cy="941.6" r="2.9"/><circle cx="436.7" cy="941.2" r="2.9"/><circle cx="437.4" cy="941.4" r="2.9"/><circle cx="438.2" cy="942.3" r="2.9"/><circle cx="438.9" cy="942.5" r="2.9"/><circle cx="439.7" cy="942.1" r="2.9"/><circle cx="440.4" cy="941.7" r="2.9"/><circle cx="441.2" cy="942.2" r="2.9"/><circle cx="441.9" cy="942.1" r="2.9"/><circle cx="442.7" cy="942.5" r="2.9"/><circle cx="443.4" cy="942.4" r="2.9"/><circle cx="444.2" cy="942.0" r="2.9"/><circle cx="444.9" cy="942.5" r="2.9"/><circle cx="445.7" cy="941.8" r="2.9"/><circle cx="446.4" cy="942.8" r="2.9"/><circle cx="447.2" cy="943.0" r="2.9"/><circle cx="447.9" cy="941.9" r="2.9"/><circle cx="448.7" cy="942.7" r="2.9"/><circle cx="449.4" cy="942.0" r="2.9"/><circle cx="450.2" cy="943.0" r="2.9"/><circle cx="450.9" cy="943.0" r="2.9"/><circle cx="451.7" cy="942.4" r="2.9"/><circle cx="452.4" cy="943.0" r="2.9"/><circle cx="453.2" cy="942.3" r="2.9"/><circle cx="453.9" cy="942.2" r="2.9"/><circle cx="454.7" cy="942.2" r="2.9"/><circle cx="455.4" cy="942.4" r="2.9"/><circle cx="456.2" cy="942.3" r="2.9"/><circle cx="456.9" cy="942.6" r="2.9"/><circle cx="457.7" cy="942.2" r="2.9"/><circle cx="458.4" cy="942.9" r="2.9"/><circle cx="459.2" cy="943.0" r="2.9"/><circle cx="459.9" cy="942.3" r="2.9"/><circle cx="460.7" cy="941.8" r="2.9"/><circle cx="461.4" cy="942.9" r="2.9"/><circle cx="462.2" cy="943.1" r="2.9"/><circle cx="462.9" cy="942.4" r="2.9"/><circle cx="463.7" cy="941.9" r="2.9"/><circle cx="464.4" cy="942.6" r="2.9"/><circle cx="465.2" cy="943.3" r="2.9"/><circle cx="466.0" cy="941.6" r="2.9"/><circle cx="466.7" cy="942.7" r="2.9"/><circle cx="467.5" cy="942.3" r="2.9"/><circle cx="468.2" cy="942.1" r="2.9"/><circle cx="469.0" cy="942.7" r="2.9"/><circle cx="469.7" cy="941.9" r="2.9"/><circle cx="470.5" cy="942.6" r="2.9"/><circle cx="471.2" cy="943.2" r="2.9"/><circle cx="472.0" cy="942.6" r="2.9"/><circle cx="472.7" cy="942.1" r="2.9"/><circle cx="473.5" cy="941.6" r="2.9"/><circle cx="474.2" cy="941.9" r="2.9"/><circle cx="475.0" cy="941.6" r="2.9"/><circle cx="475.7" cy="943.3" r="2.9"/><circle cx="476.5" cy="942.4" r="2.9"/><circle cx="477.2" cy="942.0" r="2.9"/><circle cx="478.0" cy="941.9" r="2.9"/><circle cx="478.7" cy="942.0" r="2.9"/><circle cx="479.5" cy="942.3" r="2.9"/><circle cx="480.2" cy="941.9" r="2.9"/><circle cx="481.0" cy="943.3" r="2.9"/><circle cx="481.7" cy="942.1" r="2.9"/><circle cx="482.5" cy="942.1" r="2.9"/><circle cx="483.2" cy="942.7" r="2.9"/><circle cx="484.0" cy="943.2" r="2.9"/><circle cx="484.7" cy="943.2" r="2.9"/><circle cx="485.5" cy="942.3" r="2.9"/><circle cx="486.2" cy="942.6" r="2.9"/><circle cx="487.0" cy="942.6" r="2.9"/><circle cx="487.7" cy="942.8" r="2.9"/><circle cx="488.5" cy="942.6" r="2.9"/><circle cx="489.2" cy="942.0" r="2.9"/><circle cx="490.0" cy="941.9" r="2.9"/><circle cx="490.7" cy="942.6" r="2.9"/><circle cx="491.5" cy="941.9" r="2.9"/><circle cx="492.2" cy="943.2" r="2.9"/><circle cx="493.0" cy="942.5" r="2.9"/><circle cx="493.7" cy="942.0" r="2.9"/><circle cx="494.5" cy="942.3" r="2.9"/><circle cx="495.2" cy="942.2" r="2.9"/><circle cx="496.0" cy="942.4" r="2.9"/><circle cx="496.7" cy="943.0" r="2.9"/><circle cx="497.5" cy="941.8" r="2.9"/><circle cx="498.2" cy="941.6" r="2.9"/><circle cx="499.0" cy="942.7" r="2.9"/><circle cx="499.7" cy="942.4" r="2.9"/><circle cx="500.5" cy="942.6" r="2.9"/><circle cx="501.2" cy="942.7" r="2.9"/><circle cx="502.0" cy="942.4" r="2.9"/><circle cx="502.7" cy="942.9" r="2.9"/><circle cx="503.5" cy="942.0" r="2.9"/><circle cx="504.2" cy="942.5" r="2.9"/><circle cx="505.0" cy="942.1" r="2.9"/><circle cx="505.7" cy="941.9" r="2.9"/><circle cx="506.5" cy="942.8" r="2.9"/><circle cx="507.2" cy="942.8" r="2.9"/><circle cx="508.0" cy="941.5" r="2.9"/><circle cx="508.7" cy="941.9" r="2.9"/><circle cx="509.5" cy="942.6" r="2.9"/><circle cx="510.2" cy="943.0" r="2.9"/><circle cx="511.0" cy="942.1" r="2.9"/><circle cx="511.7" cy="942.3" r="2.9"/><circle cx="512.5" cy="941.7" r="2.9"/><circle cx="513.2" cy="943.6" r="2.9"/><circle cx="514.0" cy="942.6" r="2.9"/><circle cx="514.7" cy="942.8" r="2.9"/><circle cx="515.5" cy="942.7" r="2.9"/><circle cx="516.2" cy="942.8" r="2.9"/><circle cx="517.0" cy="942.6" r="2.9"/><circle cx="517.7" cy="942.2" r="2.9"/><circle cx="518.5" cy="942.7" r="2.9"/><circle cx="519.2" cy="942.3" r="2.9"/><circle cx="520.0" cy="942.9" r="2.9"/><circle cx="520.7" cy="941.9" r="2.9"/><circle cx="521.5" cy="942.0" r="2.9"/><circle cx="522.2" cy="942.6" r="2.9"/><circle cx="523.0" cy="942.9" r="2.9"/><circle cx="523.7" cy="942.3" r="2.9"/><circle cx="524.5" cy="941.8" r="2.9"/><circle cx="525.2" cy="942.1" r="2.9"/><circle cx="526.0" cy="941.9" r="2.9"/><circle cx="526.7" cy="943.1" r="2.9"/><circle cx="527.5" cy="942.6" r="2.9"/><circle cx="528.2" cy="942.7" r="2.9"/><circle cx="529.0" cy="942.2" r="2.9"/><circle cx="529.7" cy="941.8" r="2.9"/><circle cx="530.5" cy="942.6" r="2.9"/><circle cx="531.2" cy="942.8" r="2.9"/><circle cx="532.0" cy="942.3" r="2.9"/><circle cx="532.7" cy="942.0" r="2.9"/><circle cx="533.5" cy="942.5" r="2.9"/><circle cx="534.2" cy="941.8" r="2.9"/><circle cx="535.0" cy="942.3" r="2.9"/><circle cx="535.7" cy="941.6" r="2.9"/><circle cx="536.5" cy="941.4" r="2.9"/><circle cx="537.2" cy="942.2" r="2.9"/><circle cx="538.0" cy="942.0" r="2.9"/><circle cx="538.7" cy="942.8" r="2.9"/><circle cx="539.5" cy="941.7" r="2.9"/><circle cx="540.2" cy="941.8" r="2.9"/><circle cx="541.0" cy="941.2" r="2.9"/><circle cx="541.7" cy="940.8" r="2.9"/><circle cx="542.5" cy="940.8" r="2.9"/><circle cx="543.2" cy="941.9" r="2.9"/><circle cx="544.0" cy="941.1" r="2.9"/><circle cx="544.7" cy="942.2" r="2.9"/><circle cx="545.5" cy="942.3" r="2.9"/><circle cx="546.2" cy="941.5" r="2.9"/><circle cx="547.0" cy="942.4" r="2.9"/><circle cx="547.7" cy="941.7" r="2.9"/><circle cx="548.5" cy="942.1" r="2.9"/><circle cx="549.2" cy="941.4" r="2.9"/><circle cx="550.0" cy="942.0" r="2.9"/><circle cx="550.7" cy="941.0" r="2.9"/><circle cx="551.5" cy="941.7" r="2.9"/><circle cx="552.2" cy="941.2" r="2.9"/><circle cx="553.0" cy="941.3" r="2.9"/><circle cx="553.7" cy="941.6" r="2.9"/><circle cx="554.5" cy="941.4" r="2.9"/><circle cx="555.2" cy="941.2" r="2.9"/><circle cx="556.0" cy="941.6" r="2.9"/><circle cx="556.7" cy="941.6" r="2.9"/><circle cx="557.5" cy="940.5" r="2.9"/><circle cx="558.2" cy="941.4" r="2.9"/><circle cx="559.0" cy="941.4" r="2.9"/><circle cx="559.8" cy="940.7" r="2.9"/><circle cx="560.5" cy="941.2" r="2.9"/><circle cx="561.3" cy="940.3" r="2.9"/><circle cx="562.0" cy="941.7" r="2.9"/><circle cx="562.8" cy="940.8" r="2.9"/><circle cx="563.5" cy="940.8" r="2.9"/><circle cx="564.3" cy="941.4" r="2.9"/><circle cx="565.0" cy="940.7" r="2.9"/><circle cx="565.8" cy="941.1" r="2.9"/><circle cx="566.5" cy="940.2" r="2.9"/><circle cx="567.3" cy="940.4" r="2.9"/><circle cx="568.0" cy="939.9" r="2.9"/><circle cx="568.8" cy="940.5" r="2.9"/><circle cx="569.5" cy="941.0" r="2.9"/><circle cx="570.3" cy="940.6" r="2.9"/><circle cx="571.0" cy="940.8" r="2.9"/><circle cx="571.8" cy="939.8" r="2.9"/><circle cx="572.5" cy="939.8" r="2.9"/><circle cx="573.3" cy="940.0" r="2.9"/><circle cx="574.0" cy="940.5" r="2.9"/><circle cx="574.8" cy="940.3" r="2.9"/><circle cx="575.5" cy="940.0" r="2.9"/><circle cx="576.3" cy="940.3" r="2.9"/><circle cx="577.0" cy="939.9" r="2.9"/><circle cx="577.8" cy="939.9" r="2.9"/><circle cx="578.5" cy="940.5" r="2.9"/><circle cx="579.3" cy="939.5" r="2.9"/><circle cx="580.0" cy="939.8" r="2.9"/><circle cx="580.8" cy="940.5" r="2.9"/><circle cx="581.5" cy="939.7" r="2.9"/><circle cx="582.3" cy="940.0" r="2.9"/><circle cx="583.0" cy="939.3" r="2.9"/><circle cx="583.8" cy="940.5" r="2.9"/><circle cx="584.5" cy="938.4" r="2.9"/><circle cx="585.3" cy="938.9" r="2.9"/><circle cx="586.0" cy="939.0" r="2.9"/><circle cx="586.8" cy="940.3" r="2.9"/><circle cx="587.5" cy="939.7" r="2.9"/><circle cx="588.3" cy="939.4" r="2.9"/><circle cx="589.0" cy="938.9" r="2.9"/><circle cx="589.8" cy="939.7" r="2.9"/><circle cx="590.5" cy="939.6" r="2.9"/><circle cx="591.3" cy="939.3" r="2.9"/><circle cx="592.0" cy="938.9" r="2.9"/><circle cx="592.8" cy="939.1" r="2.9"/><circle cx="593.5" cy="939.8" r="2.9"/><circle cx="594.3" cy="939.9" r="2.9"/><circle cx="595.0" cy="939.9" r="2.9"/><circle cx="595.8" cy="939.8" r="2.9"/><circle cx="596.5" cy="939.1" r="2.9"/><circle cx="597.3" cy="940.0" r="2.9"/><circle cx="598.0" cy="939.6" r="2.9"/><circle cx="598.8" cy="940.2" r="2.9"/><circle cx="599.5" cy="940.4" r="2.9"/><circle cx="600.3" cy="939.9" r="2.9"/><circle cx="601.0" cy="939.8" r="2.9"/><circle cx="601.8" cy="940.9" r="2.9"/><circle cx="602.5" cy="940.6" r="2.9"/><circle cx="603.3" cy="940.2" r="2.9"/><circle cx="604.0" cy="939.1" r="2.9"/><circle cx="604.8" cy="940.6" r="2.9"/><circle cx="605.5" cy="941.0" r="2.9"/><circle cx="606.3" cy="941.3" r="2.9"/><circle cx="607.0" cy="940.5" r="2.9"/><circle cx="607.8" cy="940.6" r="2.9"/><circle cx="608.5" cy="940.7" r="2.9"/><circle cx="609.3" cy="941.4" r="2.9"/><circle cx="610.0" cy="940.4" r="2.9"/><circle cx="610.8" cy="941.0" r="2.9"/><circle cx="611.5" cy="940.6" r="2.9"/><circle cx="612.3" cy="941.2" r="2.9"/><circle cx="613.0" cy="940.4" r="2.9"/><circle cx="613.8" cy="941.4" r="2.9"/><circle cx="614.5" cy="941.0" r="2.9"/><circle cx="615.3" cy="941.1" r="2.9"/><circle cx="616.0" cy="941.5" r="2.9"/><circle cx="616.8" cy="941.9" r="2.9"/><circle cx="617.5" cy="940.5" r="2.9"/><circle cx="618.3" cy="941.9" r="2.9"/><circle cx="619.0" cy="941.7" r="2.9"/><circle cx="619.8" cy="941.3" r="2.9"/><circle cx="620.5" cy="942.2" r="2.9"/><circle cx="621.3" cy="941.6" r="2.9"/><circle cx="622.0" cy="942.2" r="2.9"/><circle cx="622.8" cy="941.3" r="2.9"/><circle cx="623.5" cy="941.2" r="2.9"/><circle cx="624.3" cy="942.3" r="2.9"/><circle cx="625.0" cy="942.8" r="2.9"/><circle cx="625.8" cy="942.0" r="2.9"/><circle cx="626.5" cy="942.2" r="2.9"/><circle cx="627.3" cy="941.5" r="2.9"/><circle cx="628.0" cy="941.1" r="2.9"/><circle cx="628.8" cy="941.7" r="2.9"/><circle cx="629.5" cy="942.6" r="2.9"/><circle cx="630.3" cy="941.0" r="2.9"/><circle cx="631.0" cy="941.7" r="2.9"/><circle cx="631.8" cy="941.0" r="2.9"/><circle cx="632.5" cy="942.0" r="2.9"/><circle cx="633.3" cy="942.5" r="2.9"/><circle cx="634.0" cy="941.4" r="2.9"/><circle cx="634.8" cy="941.9" r="2.9"/><circle cx="635.5" cy="942.8" r="2.9"/><circle cx="636.3" cy="942.1" r="2.9"/><circle cx="637.0" cy="941.5" r="2.9"/><circle cx="637.8" cy="941.5" r="2.9"/><circle cx="638.5" cy="941.2" r="2.9"/><circle cx="639.3" cy="942.6" r="2.9"/><circle cx="640.0" cy="941.9" r="2.9"/><circle cx="640.8" cy="942.8" r="2.9"/><circle cx="641.5" cy="942.7" r="2.9"/><circle cx="642.3" cy="942.0" r="2.9"/><circle cx="643.0" cy="942.1" r="2.9"/><circle cx="643.8" cy="942.7" r="2.9"/><circle cx="644.5" cy="942.4" r="2.9"/><circle cx="645.3" cy="942.5" r="2.9"/><circle cx="646.0" cy="941.6" r="2.9"/><circle cx="646.8" cy="942.9" r="2.9"/><circle cx="647.5" cy="942.0" r="2.9"/><circle cx="648.3" cy="941.3" r="2.9"/><circle cx="649.0" cy="942.2" r="2.9"/><circle cx="649.8" cy="942.7" r="2.9"/><circle cx="650.5" cy="943.6" r="2.9"/><circle cx="651.3" cy="942.3" r="2.9"/><circle cx="652.0" cy="941.9" r="2.9"/><circle cx="652.8" cy="943.6" r="2.9"/><circle cx="653.6" cy="942.7" r="2.9"/><circle cx="654.3" cy="942.5" r="2.9"/><circle cx="655.1" cy="942.1" r="2.9"/><circle cx="655.8" cy="942.1" r="2.9"/><circle cx="656.6" cy="943.4" r="2.9"/><circle cx="657.3" cy="942.5" r="2.9"/><circle cx="658.1" cy="942.4" r="2.9"/><circle cx="658.8" cy="942.4" r="2.9"/><circle cx="659.6" cy="943.5" r="2.9"/><circle cx="660.3" cy="942.4" r="2.9"/><circle cx="661.1" cy="943.0" r="2.9"/><circle cx="661.8" cy="942.8" r="2.9"/><circle cx="662.6" cy="942.8" r="2.9"/><circle cx="663.3" cy="942.3" r="2.9"/><circle cx="664.1" cy="943.1" r="2.9"/><circle cx="664.8" cy="943.6" r="2.9"/><circle cx="665.6" cy="942.7" r="2.9"/><circle cx="666.3" cy="942.3" r="2.9"/><circle cx="667.1" cy="942.1" r="2.9"/><circle cx="667.8" cy="942.9" r="2.9"/><circle cx="668.6" cy="942.7" r="2.9"/><circle cx="669.3" cy="942.8" r="2.9"/><circle cx="670.1" cy="942.8" r="2.9"/><circle cx="670.8" cy="942.1" r="2.9"/><circle cx="671.6" cy="943.2" r="2.9"/><circle cx="672.3" cy="943.0" r="2.9"/><circle cx="673.1" cy="942.8" r="2.9"/><circle cx="673.8" cy="943.0" r="2.9"/><circle cx="674.6" cy="943.3" r="2.9"/><circle cx="675.3" cy="942.9" r="2.9"/><circle cx="676.1" cy="942.5" r="2.9"/><circle cx="676.8" cy="943.5" r="2.9"/><circle cx="677.6" cy="942.7" r="2.9"/><circle cx="678.3" cy="942.6" r="2.9"/><circle cx="679.1" cy="942.1" r="2.9"/><circle cx="679.8" cy="942.9" r="2.9"/><circle cx="680.6" cy="942.4" r="2.9"/><circle cx="681.3" cy="942.7" r="2.9"/><circle cx="682.1" cy="943.2" r="2.9"/><circle cx="682.8" cy="943.0" r="2.9"/><circle cx="683.6" cy="943.5" r="2.9"/><circle cx="684.3" cy="943.1" r="2.9"/><circle cx="685.1" cy="942.8" r="2.9"/><circle cx="685.8" cy="942.8" r="2.9"/><circle cx="686.6" cy="942.8" r="2.9"/><circle cx="687.3" cy="943.4" r="2.9"/><circle cx="688.1" cy="943.0" r="2.9"/><circle cx="688.8" cy="942.8" r="2.9"/><circle cx="689.6" cy="943.5" r="2.9"/><circle cx="690.3" cy="943.1" r="2.9"/><circle cx="691.1" cy="942.8" r="2.9"/><circle cx="691.8" cy="942.3" r="2.9"/><circle cx="692.6" cy="943.3" r="2.9"/><circle cx="693.3" cy="943.2" r="2.9"/><circle cx="694.1" cy="943.1" r="2.9"/><circle cx="694.8" cy="942.9" r="2.9"/><circle cx="695.6" cy="942.7" r="2.9"/><circle cx="696.3" cy="943.0" r="2.9"/><circle cx="697.1" cy="943.3" r="2.9"/><circle cx="697.8" cy="943.1" r="2.9"/><circle cx="698.6" cy="943.1" r="2.9"/><circle cx="699.3" cy="943.0" r="2.9"/><circle cx="700.1" cy="943.4" r="2.9"/><circle cx="700.8" cy="943.3" r="2.9"/><circle cx="701.6" cy="942.8" r="2.9"/><circle cx="702.3" cy="943.6" r="2.9"/><circle cx="703.1" cy="943.6" r="2.9"/><circle cx="703.8" cy="943.7" r="2.9"/><circle cx="704.6" cy="943.2" r="2.9"/><circle cx="705.3" cy="943.2" r="2.9"/><circle cx="706.1" cy="942.7" r="2.9"/><circle cx="706.8" cy="943.7" r="2.9"/><circle cx="707.6" cy="942.3" r="2.9"/><circle cx="708.3" cy="943.1" r="2.9"/><circle cx="709.1" cy="943.2" r="2.9"/><circle cx="709.8" cy="943.8" r="2.9"/><circle cx="710.6" cy="943.4" r="2.9"/><circle cx="711.3" cy="942.9" r="2.9"/><circle cx="712.1" cy="942.7" r="2.9"/><circle cx="712.8" cy="943.0" r="2.9"/><circle cx="713.6" cy="943.5" r="2.9"/><circle cx="714.3" cy="943.5" r="2.9"/><circle cx="715.1" cy="943.3" r="2.9"/><circle cx="715.8" cy="943.1" r="2.9"/><circle cx="716.6" cy="943.4" r="2.9"/><circle cx="717.3" cy="944.0" r="2.9"/><circle cx="718.1" cy="942.9" r="2.9"/><circle cx="718.8" cy="943.5" r="2.9"/><circle cx="719.6" cy="944.3" r="2.9"/><circle cx="720.3" cy="943.8" r="2.9"/><circle cx="721.1" cy="943.3" r="2.9"/><circle cx="721.8" cy="943.9" r="2.9"/><circle cx="722.6" cy="943.2" r="2.9"/><circle cx="723.3" cy="943.6" r="2.9"/><circle cx="724.1" cy="944.4" r="2.9"/><circle cx="724.8" cy="944.6" r="2.9"/><circle cx="725.6" cy="942.8" r="2.9"/><circle cx="726.3" cy="944.0" r="2.9"/><circle cx="727.1" cy="944.6" r="2.9"/><circle cx="727.8" cy="943.4" r="2.9"/><circle cx="728.6" cy="943.8" r="2.9"/><circle cx="729.3" cy="944.4" r="2.9"/><circle cx="730.1" cy="943.5" r="2.9"/><circle cx="730.8" cy="943.9" r="2.9"/><circle cx="731.6" cy="943.7" r="2.9"/><circle cx="732.3" cy="942.8" r="2.9"/><circle cx="733.1" cy="943.9" r="2.9"/><circle cx="733.8" cy="943.7" r="2.9"/><circle cx="734.6" cy="944.2" r="2.9"/><circle cx="735.3" cy="944.8" r="2.9"/><circle cx="736.1" cy="944.2" r="2.9"/><circle cx="736.8" cy="943.6" r="2.9"/><circle cx="737.6" cy="944.1" r="2.9"/><circle cx="738.3" cy="943.9" r="2.9"/><circle cx="739.1" cy="944.4" r="2.9"/><circle cx="739.8" cy="943.2" r="2.9"/><circle cx="740.6" cy="943.3" r="2.9"/><circle cx="741.3" cy="942.9" r="2.9"/><circle cx="742.1" cy="944.2" r="2.9"/><circle cx="742.8" cy="943.9" r="2.9"/><circle cx="743.6" cy="943.6" r="2.9"/><circle cx="744.3" cy="943.6" r="2.9"/><circle cx="745.1" cy="943.7" r="2.9"/><circle cx="745.8" cy="943.5" r="2.9"/></g>
<path d="M90.0 903.7L90.4 903.5L90.8 902.9L91.2 901.9L91.6 900.6L92.0 899.0L92.4 897.1L92.8 895.1L93.2 892.8L93.6 890.4L94.0 887.9L94.4 885.3L94.8 882.7L95.2 879.7L95.6 876.1L96.0 871.9L96.4 867.2L96.8 862.1L97.2 856.6L97.6 850.9L98.0 845.0L98.4 839.0L98.8 832.2L99.2 824.7L99.6 816.7L100.0 808.5L100.4 800.4L100.8 792.4L101.2 784.2L101.6 775.9L102.0 767.7L102.4 759.9L102.8 752.5L103.2 744.8L103.6 737.4L104.0 730.8L104.4 725.9L104.8 722.5L105.2 720.1L105.6 720.4L106.0 725.0L106.4 731.7L106.8 742.2L107.2 755.9L107.6 772.6L108.0 790.1L108.4 806.6L108.8 823.3L109.2 839.7L109.6 854.6L110.0 868.7L110.4 882.1L110.8 892.9L111.2 899.7L111.6 905.1L112.0 909.6L112.4 913.3L112.8 916.2L113.2 918.2L113.6 919.9L114.0 921.4L114.4 922.7L114.8 923.8L115.2 924.8L115.6 925.5L116.0 926.0L116.4 926.4L116.8 926.8L117.2 927.2L117.6 927.6L118.0 927.9L118.4 928.2L118.8 928.5L119.2 928.7L119.6 929.0L120.0 929.2L120.4 929.3L120.8 929.5L121.2 929.6L121.6 929.7L122.0 929.7L122.4 929.7L122.8 929.6L123.2 929.5L123.6 929.4L124.0 929.2L124.4 928.9L124.8 928.7L125.2 928.5L125.6 928.2L126.0 928.0L126.4 927.8L126.8 927.5L127.2 927.1L127.6 926.8L128.0 926.4L128.4 926.0L128.8 925.7L129.2 925.4L129.6 925.1L130.0 924.9L130.4 924.8L130.8 924.8L131.2 924.9L131.6 925.1L132.0 925.4L132.4 925.8L132.8 926.2L133.2 926.7L133.6 927.2L134.0 927.8L134.4 928.3L134.8 928.8L135.2 929.3L135.6 929.7L136.0 930.0L136.4 930.3L136.8 930.6L137.2 930.9L137.6 931.2L138.0 931.5L138.4 931.9L138.8 932.2L139.2 932.5L139.6 932.8L140.0 933.1L140.4 933.4L140.8 933.6L141.2 933.9L141.6 934.1L142.0 934.4L142.4 934.6L142.8 934.8L143.2 934.9L143.6 935.1L144.0 935.2L144.4 935.3L144.8 935.4L145.2 935.4L145.6 935.4L146.0 935.3L146.4 935.0L146.8 934.7L147.2 934.3L147.6 933.8L148.0 933.3L148.4 932.7L148.8 932.1L149.2 931.4L149.6 930.7L150.0 930.0L150.4 929.2L150.8 928.3L151.2 927.3L151.6 926.1L152.0 924.8L152.4 923.4L152.8 921.9L153.2 920.3L153.6 918.6L154.0 916.9L154.4 915.1L154.8 913.2L155.2 911.3L155.6 909.3L156.0 907.0L156.4 904.6L156.8 902.0L157.2 899.2L157.6 896.3L158.0 893.2L158.4 890.0L158.8 886.7L159.2 883.4L159.6 879.9L160.0 876.5L160.4 873.0L160.8 869.5L161.2 865.9L161.6 861.9L162.0 857.7L162.4 853.4L162.8 849.2L163.2 845.1L163.6 841.4L164.0 837.9L164.4 834.4L164.8 831.0L165.2 827.7L165.6 824.7L166.0 822.1L166.4 819.9L166.8 818.0L167.2 816.2L167.6 814.5L168.0 813.2L168.4 812.5L168.8 812.6L169.2 814.0L169.6 816.4L170.0 819.7L170.4 823.5L170.8 827.6L171.2 833.9L171.6 842.2L172.0 851.5L172.4 860.7L172.8 868.6L173.2 875.7L173.6 882.9L174.0 889.9L174.4 896.5L174.8 902.4L175.2 907.2L175.6 910.8L176.0 913.5L176.4 916.1L176.8 918.5L177.2 920.7L177.6 922.7L178.0 924.6L178.4 926.2L178.8 927.7L179.2 929.0L179.6 930.1L180.0 931.0L180.4 931.7L180.8 932.2L181.2 932.7L181.6 933.2L182.0 933.6L182.4 934.1L182.8 934.5L183.2 934.9L183.6 935.3L184.0 935.6L184.4 936.0L184.8 936.3L185.2 936.6L185.6 936.9L186.0 937.1L186.4 937.4L186.8 937.6L187.2 937.8L187.6 938.0L188.0 938.2L188.4 938.3L188.8 938.5L189.2 938.6L189.6 938.7L190.0 938.8L190.4 938.9L190.8 939.0L191.2 939.1L191.6 939.1L192.0 939.2L192.4 939.3L192.8 939.3L193.2 939.4L193.6 939.5L194.0 939.5L194.4 939.6L194.8 939.7L195.2 939.7L195.6 939.8L196.0 939.8L196.4 939.9L196.8 940.0L197.2 940.0L197.6 940.1L198.0 940.1L198.4 940.2L198.8 940.2L199.2 940.3L199.6 940.3L200.0 940.4L200.4 940.4L200.8 940.4L201.2 940.5L201.6 940.5L202.0 940.6L202.4 940.6L202.8 940.6L203.2 940.7L203.6 940.7L204.0 940.7L204.4 940.8L204.8 940.8L205.2 940.8L205.6 940.8L206.0 940.9L206.4 940.9L206.8 940.9L207.2 940.9L207.6 940.9L208.0 940.9L208.4 941.0L208.8 941.0L209.2 941.0L209.6 941.0L210.0 941.0L210.4 941.0L210.8 941.0L211.2 941.0L211.6 941.0L212.0 941.0L212.4 941.0L212.8 940.9L213.2 940.8L213.6 940.8L214.0 940.7L214.4 940.6L214.8 940.5L215.2 940.3L215.6 940.2L216.0 940.0L216.4 939.8L216.8 939.7L217.2 939.5L217.6 939.3L218.0 939.1L218.4 938.8L218.8 938.6L219.2 938.4L219.6 938.1L220.0 937.9L220.4 937.6L220.8 937.3L221.2 937.1L221.6 936.8L222.0 936.5L222.4 936.2L222.8 935.9L223.2 935.6L223.6 935.1L224.0 934.6L224.4 934.0L224.8 933.4L225.2 932.8L225.6 932.2L226.0 931.5L226.4 930.9L226.8 930.3L227.2 929.7L227.6 929.1L228.0 928.4L228.4 927.7L228.8 926.9L229.2 926.2L229.6 925.5L230.0 924.9L230.4 924.4L230.8 923.9L231.2 923.6L231.6 923.4L232.0 923.5L232.4 923.9L232.8 924.6L233.2 925.5L233.6 926.6L234.0 927.7L234.4 928.7L234.8 929.6L235.2 930.3L235.6 931.0L236.0 931.7L236.4 932.3L236.8 932.9L237.2 933.4L237.6 933.9L238.0 934.4L238.4 934.8L238.8 935.2L239.2 935.6L239.6 935.9L240.0 936.3L240.4 936.6L240.8 937.0L241.2 937.3L241.6 937.6L242.0 937.9L242.4 938.2L242.8 938.5L243.2 938.8L243.6 939.0L244.0 939.3L244.4 939.5L244.8 939.7L245.2 939.8L245.6 940.0L246.0 940.1L246.4 940.3L246.8 940.3L247.2 940.4L247.6 940.5L248.0 940.6L248.4 940.7L248.8 940.8L249.2 940.8L249.6 940.9L250.0 941.0L250.4 941.1L250.8 941.2L251.2 941.2L251.6 941.3L252.0 941.4L252.4 941.4L252.8 941.5L253.2 941.6L253.6 941.6L254.0 941.7L254.4 941.7L254.8 941.8L255.2 941.8L255.6 941.9L256.0 941.9L256.4 942.0L256.8 942.0L257.2 942.1L257.6 942.1L258.0 942.2L258.4 942.2L258.8 942.2L259.2 942.3L259.6 942.3L260.0 942.3L260.4 942.4L260.8 942.4L261.2 942.4L261.6 942.4L262.0 942.4L262.4 942.5L262.8 942.5L263.2 942.5L263.6 942.5L264.0 942.5L264.4 942.5L264.8 942.5L265.2 942.5L265.6 942.5L266.0 942.5L266.4 942.5L266.8 942.5L267.2 942.5L267.6 942.5L268.0 942.5L268.4 942.5L268.8 942.5L269.2 942.5L269.6 942.5L270.0 942.5L270.4 942.5L270.8 942.5L271.2 942.5L271.6 942.5L272.0 942.5L272.4 942.5L272.8 942.4L273.2 942.4L273.6 942.4L274.0 942.4L274.4 942.4L274.8 942.4L275.2 942.4L275.6 942.4L276.0 942.4L276.4 942.4L276.8 942.4L277.2 942.4L277.6 942.4L278.0 942.4L278.4 942.3L278.8 942.3L279.2 942.3L279.6 942.3L280.0 942.3L280.4 942.3L280.8 942.2L281.2 942.2L281.6 942.1L282.0 942.0L282.4 941.9L282.8 941.8L283.2 941.7L283.6 941.6L284.0 941.4L284.4 941.3L284.8 941.1L285.2 941.0L285.6 940.8L286.0 940.7L286.4 940.5L286.8 940.3L287.2 940.2L287.6 940.0L288.0 939.9L288.4 939.7L288.8 939.6L289.2 939.4L289.6 939.3L290.0 939.1L290.4 938.9L290.8 938.8L291.2 938.6L291.6 938.4L292.0 938.2L292.4 938.0L292.8 937.8L293.2 937.6L293.6 937.4L294.0 937.3L294.4 937.1L294.8 937.0L295.2 936.9L295.6 936.8L296.0 936.7L296.4 936.7L296.8 936.7L297.2 936.8L297.6 936.9L298.0 937.2L298.4 937.5L298.8 937.9L299.2 938.3L299.6 938.7L300.0 939.1L300.4 939.6L300.8 940.0L301.2 940.4L301.6 940.7L302.0 941.0L302.4 941.3L302.8 941.5L303.2 941.5L303.6 941.6L304.0 941.7L304.4 941.7L304.8 941.8L305.2 941.9L305.6 941.9L306.0 942.0L306.4 942.0L306.8 942.1L307.2 942.2L307.6 942.2L308.0 942.3L308.4 942.3L308.8 942.4L309.2 942.4L309.6 942.4L310.0 942.5L310.4 942.5L310.8 942.6L311.2 942.6L311.6 942.6L312.0 942.7L312.4 942.7L312.8 942.7L313.2 942.8L313.6 942.8L314.0 942.8L314.4 942.8L314.8 942.9L315.2 942.9L315.6 942.9L316.0 942.9L316.4 942.9L316.8 942.9L317.2 943.0L317.6 943.0L318.0 943.0L318.4 943.0L318.8 943.0L319.2 943.0L319.6 943.0L320.0 943.0L320.4 943.0L320.8 943.0L321.2 943.0L321.6 943.0L322.0 943.0L322.4 943.0L322.8 943.0L323.2 943.0L323.6 943.0L324.0 943.0L324.4 943.0L324.8 943.0L325.2 943.0L325.6 943.0L326.0 943.0L326.4 943.0L326.8 943.0L327.2 943.0L327.6 943.0L328.0 943.0L328.4 943.0L328.8 943.0L329.2 943.0L329.6 943.0L330.0 943.0L330.4 943.0L330.8 943.0L331.2 943.0L331.6 943.0L332.0 943.0L332.4 943.0L332.8 943.0L333.2 943.0L333.6 943.0L334.0 943.0L334.4 943.0L334.8 943.0L335.2 943.0L335.6 943.0L336.0 943.0L336.4 943.0L336.8 943.0L337.2 943.0L337.6 943.0L338.0 943.0L338.4 943.0L338.8 943.0L339.2 943.0L339.6 943.0L340.0 943.0L340.4 943.0L340.8 943.0L341.2 943.0L341.6 943.0L342.0 942.9L342.4 942.9L342.8 942.9L343.2 942.9L343.6 942.8L344.0 942.8L344.4 942.8L344.8 942.7L345.2 942.7L345.6 942.7L346.0 942.6L346.4 942.6L346.8 942.5L347.2 942.5L347.6 942.5L348.0 942.4L348.4 942.4L348.8 942.3L349.2 942.3L349.6 942.2L350.0 942.2L350.4 942.2L350.8 942.1L351.2 942.1L351.6 942.0L352.0 942.0L352.4 942.0L352.8 941.9L353.2 941.9L353.6 941.8L354.0 941.8L354.4 941.7L354.8 941.7L355.2 941.7L355.6 941.6L356.0 941.6L356.4 941.5L356.8 941.5L357.2 941.4L357.6 941.4L358.0 941.4L358.4 941.4L358.8 941.3L359.2 941.3L359.6 941.3L360.0 941.3L360.4 941.3L360.8 941.3L361.2 941.4L361.6 941.4L362.0 941.5L362.4 941.5L362.8 941.6L363.2 941.7L363.6 941.7L364.0 941.8L364.4 941.9L364.8 942.0L365.2 942.1L365.6 942.2L366.0 942.3L366.4 942.3L366.8 942.4L367.2 942.5L367.6 942.6L368.0 942.6L368.4 942.7L368.8 942.7L369.2 942.8L369.6 942.8L370.0 942.8L370.4 942.8L370.8 942.8L371.2 942.8L371.6 942.8L372.0 942.8L372.4 942.8L372.8 942.8L373.2 942.8L373.6 942.8L374.0 942.9L374.4 942.9L374.8 942.9L375.2 942.9L375.6 942.9L376.0 942.9L376.4 942.9L376.8 942.9L377.2 942.9L377.6 942.9L378.0 942.9L378.4 942.9L378.8 942.9L379.2 942.9L379.6 942.9L380.0 942.9L380.4 942.9L380.8 942.9L381.2 942.9L381.6 942.9L382.0 942.9L382.4 942.9L382.8 942.9L383.2 942.9L383.6 942.9L384.0 942.9L384.4 943.0L384.8 943.0L385.2 943.0L385.6 943.0L386.0 943.0L386.4 943.0L386.8 943.0L387.2 943.0L387.6 943.0L388.0 943.0L388.4 943.0L388.8 943.0L389.2 943.0L389.6 943.0L390.0 943.0L390.4 943.0L390.8 943.0L391.2 943.0L391.6 943.0L392.0 943.0L392.4 943.0L392.8 943.0L393.2 943.0L393.6 943.0L394.0 943.0L394.4 943.0L394.8 943.0L395.2 943.0L395.6 943.0L396.0 943.0L396.4 943.0L396.8 943.0L397.2 943.0L397.6 943.0L398.0 943.0L398.4 943.0L398.8 943.0L399.2 943.0L399.6 943.0L400.0 943.0L400.4 943.0L400.8 943.0L401.2 943.0L401.6 943.0L402.0 943.0L402.4 943.0L402.8 942.9L403.2 942.9L403.6 942.9L404.0 942.9L404.4 942.9L404.8 942.8L405.2 942.8L405.6 942.8L406.0 942.8L406.4 942.7L406.8 942.7L407.2 942.7L407.6 942.6L408.0 942.6L408.4 942.6L408.8 942.5L409.2 942.5L409.6 942.4L410.0 942.4L410.4 942.4L410.8 942.3L411.2 942.3L411.6 942.2L412.0 942.2L412.4 942.2L412.8 942.1L413.2 942.1L413.6 942.0L414.0 942.0L414.4 942.0L414.8 941.9L415.2 941.9L415.6 941.8L416.0 941.8L416.4 941.8L416.8 941.7L417.2 941.7L417.6 941.7L418.0 941.6L418.4 941.6L418.8 941.6L419.2 941.5L419.6 941.5L420.0 941.5L420.4 941.5L420.8 941.4L421.2 941.4L421.6 941.4L422.0 941.4L422.4 941.4L422.8 941.3L423.2 941.3L423.6 941.3L424.0 941.3L424.4 941.3L424.8 941.3L425.2 941.3L425.6 941.3L426.0 941.3L426.4 941.3L426.8 941.3L427.2 941.3L427.6 941.3L428.0 941.3L428.4 941.4L428.8 941.4L429.2 941.4L429.6 941.4L430.0 941.4L430.4 941.4L430.8 941.5L431.2 941.5L431.6 941.5L432.0 941.5L432.4 941.6L432.8 941.6L433.2 941.6L433.6 941.6L434.0 941.7L434.4 941.7L434.8 941.7L435.2 941.7L435.6 941.8L436.0 941.8L436.4 941.8L436.8 941.8L437.2 941.9L437.6 941.9L438.0 941.9L438.4 942.0L438.8 942.0L439.2 942.0L439.6 942.0L440.0 942.1L440.4 942.1L440.8 942.1L441.2 942.2L441.6 942.2L442.0 942.2L442.4 942.2L442.8 942.3L443.2 942.3L443.6 942.3L444.0 942.3L444.4 942.3L444.8 942.4L445.2 942.4L445.6 942.4L446.0 942.4L446.4 942.4L446.8 942.4L447.2 942.5L447.6 942.5L448.0 942.5L448.4 942.5L448.8 942.5L449.2 942.5L449.6 942.5L450.0 942.5L450.4 942.5L450.8 942.5L451.2 942.5L451.6 942.5L452.0 942.5L452.4 942.5L452.8 942.5L453.2 942.5L453.6 942.5L454.0 942.5L454.4 942.5L454.8 942.5L455.2 942.5L455.6 942.5L456.0 942.5L456.4 942.5L456.8 942.5L457.2 942.5L457.6 942.5L458.0 942.5L458.4 942.5L458.8 942.5L459.2 942.5L459.6 942.5L460.0 942.5L460.4 942.5L460.8 942.5L461.2 942.5L461.6 942.5L462.0 942.5L462.4 942.5L462.8 942.5L463.2 942.5L463.6 942.5L464.0 942.5L464.4 942.5L464.8 942.5L465.2 942.5L465.6 942.5L466.0 942.5L466.4 942.5L466.8 942.5L467.2 942.5L467.6 942.5L468.0 942.5L468.4 942.5L468.8 942.5L469.2 942.5L469.6 942.5L470.0 942.5L470.4 942.5L470.8 942.5L471.2 942.5L471.6 942.5L472.0 942.5L472.4 942.5L472.8 942.5L473.2 942.5L473.6 942.5L474.0 942.5L474.4 942.5L474.8 942.5L475.2 942.5L475.6 942.5L476.0 942.5L476.4 942.5L476.8 942.5L477.2 942.5L477.6 942.5L478.0 942.5L478.4 942.5L478.8 942.5L479.2 942.5L479.6 942.5L480.0 942.5L480.4 942.5L480.8 942.5L481.2 942.5L481.6 942.5L482.0 942.5L482.4 942.5L482.8 942.5L483.2 942.5L483.6 942.5L484.0 942.5L484.4 942.5L484.8 942.5L485.2 942.5L485.6 942.5L486.0 942.5L486.4 942.5L486.8 942.5L487.2 942.5L487.6 942.5L488.0 942.5L488.4 942.5L488.8 942.5L489.2 942.5L489.6 942.5L490.0 942.5L490.4 942.5L490.8 942.5L491.2 942.5L491.6 942.5L492.0 942.5L492.4 942.5L492.8 942.5L493.2 942.5L493.6 942.5L494.0 942.5L494.4 942.5L494.8 942.5L495.2 942.5L495.6 942.5L496.0 942.5L496.4 942.5L496.8 942.5L497.2 942.5L497.6 942.5L498.0 942.5L498.4 942.5L498.8 942.5L499.2 942.5L499.6 942.5L500.0 942.5L500.4 942.5L500.8 942.5L501.2 942.5L501.6 942.5L502.0 942.5L502.4 942.5L502.8 942.5L503.2 942.5L503.6 942.5L504.0 942.5L504.4 942.5L504.8 942.5L505.2 942.5L505.6 942.5L506.0 942.5L506.4 942.5L506.8 942.5L507.2 942.5L507.6 942.5L508.0 942.5L508.4 942.5L508.8 942.5L509.2 942.4L509.6 942.4L510.0 942.4L510.4 942.4L510.8 942.4L511.2 942.4L511.6 942.4L512.0 942.4L512.4 942.4L512.8 942.4L513.2 942.4L513.6 942.4L514.0 942.4L514.4 942.4L514.8 942.4L515.2 942.4L515.6 942.4L516.0 942.3L516.4 942.3L516.8 942.3L517.2 942.3L517.6 942.3L518.0 942.3L518.4 942.3L518.8 942.3L519.2 942.3L519.6 942.3L520.0 942.3L520.4 942.3L520.8 942.3L521.2 942.3L521.6 942.2L522.0 942.2L522.4 942.2L522.8 942.2L523.2 942.2L523.6 942.2L524.0 942.2L524.4 942.2L524.8 942.2L525.2 942.2L525.6 942.2L526.0 942.1L526.4 942.1L526.8 942.1L527.2 942.1L527.6 942.1L528.0 942.1L528.4 942.1L528.8 942.1L529.2 942.1L529.6 942.1L530.0 942.1L530.4 942.0L530.8 942.0L531.2 942.0L531.6 942.0L532.0 942.0L532.4 942.0L532.8 942.0L533.2 942.0L533.6 942.0L534.0 942.0L534.4 941.9L534.8 941.9L535.2 941.9L535.6 941.9L536.0 941.9L536.4 941.9L536.8 941.9L537.2 941.9L537.6 941.9L538.0 941.9L538.4 941.8L538.8 941.8L539.2 941.8L539.6 941.8L540.0 941.8L540.4 941.8L540.8 941.8L541.2 941.8L541.6 941.8L542.0 941.7L542.4 941.7L542.8 941.7L543.2 941.7L543.6 941.7L544.0 941.7L544.4 941.7L544.8 941.7L545.2 941.6L545.6 941.6L546.0 941.6L546.4 941.6L546.8 941.6L547.2 941.6L547.6 941.6L548.0 941.5L548.4 941.5L548.8 941.5L549.2 941.5L549.6 941.5L550.0 941.5L550.4 941.5L550.8 941.4L551.2 941.4L551.6 941.4L552.0 941.4L552.4 941.4L552.8 941.4L553.2 941.3L553.6 941.3L554.0 941.3L554.4 941.3L554.8 941.3L555.2 941.3L555.6 941.2L556.0 941.2L556.4 941.2L556.8 941.2L557.2 941.2L557.6 941.1L558.0 941.1L558.4 941.1L558.8 941.1L559.2 941.1L559.6 941.1L560.0 941.0L560.4 941.0L560.8 941.0L561.2 941.0L561.6 941.0L562.0 940.9L562.4 940.9L562.8 940.9L563.2 940.9L563.6 940.9L564.0 940.8L564.4 940.8L564.8 940.8L565.2 940.8L565.6 940.8L566.0 940.7L566.4 940.7L566.8 940.7L567.2 940.7L567.6 940.7L568.0 940.6L568.4 940.6L568.8 940.6L569.2 940.5L569.6 940.5L570.0 940.5L570.4 940.5L570.8 940.4L571.2 940.4L571.6 940.4L572.0 940.3L572.4 940.3L572.8 940.3L573.2 940.2L573.6 940.2L574.0 940.2L574.4 940.1L574.8 940.1L575.2 940.1L575.6 940.0L576.0 940.0L576.4 940.0L576.8 939.9L577.2 939.9L577.6 939.9L578.0 939.9L578.4 939.8L578.8 939.8L579.2 939.8L579.6 939.8L580.0 939.7L580.4 939.7L580.8 939.7L581.2 939.7L581.6 939.6L582.0 939.6L582.4 939.6L582.8 939.6L583.2 939.6L583.6 939.6L584.0 939.5L584.4 939.5L584.8 939.5L585.2 939.5L585.6 939.5L586.0 939.5L586.4 939.5L586.8 939.5L587.2 939.5L587.6 939.5L588.0 939.5L588.4 939.5L588.8 939.5L589.2 939.5L589.6 939.5L590.0 939.6L590.4 939.6L590.8 939.6L591.2 939.6L591.6 939.6L592.0 939.7L592.4 939.7L592.8 939.7L593.2 939.7L593.6 939.7L594.0 939.8L594.4 939.8L594.8 939.8L595.2 939.9L595.6 939.9L596.0 939.9L596.4 939.9L596.8 940.0L597.2 940.0L597.6 940.0L598.0 940.1L598.4 940.1L598.8 940.1L599.2 940.2L599.6 940.2L600.0 940.3L600.4 940.3L600.8 940.3L601.2 940.4L601.6 940.4L602.0 940.4L602.4 940.5L602.8 940.5L603.2 940.5L603.6 940.6L604.0 940.6L604.4 940.6L604.8 940.7L605.2 940.7L605.6 940.7L606.0 940.7L606.4 940.8L606.8 940.8L607.2 940.8L607.6 940.9L608.0 940.9L608.4 940.9L608.8 940.9L609.2 941.0L609.6 941.0L610.0 941.0L610.4 941.0L610.8 941.0L611.2 941.1L611.6 941.1L612.0 941.1L612.4 941.1L612.8 941.1L613.2 941.2L613.6 941.2L614.0 941.2L614.4 941.2L614.8 941.2L615.2 941.2L615.6 941.3L616.0 941.3L616.4 941.3L616.8 941.3L617.2 941.3L617.6 941.4L618.0 941.4L618.4 941.4L618.8 941.4L619.2 941.4L619.6 941.5L620.0 941.5L620.4 941.5L620.8 941.5L621.2 941.5L621.6 941.5L622.0 941.6L622.4 941.6L622.8 941.6L623.2 941.6L623.6 941.6L624.0 941.6L624.4 941.7L624.8 941.7L625.2 941.7L625.6 941.7L626.0 941.7L626.4 941.7L626.8 941.8L627.2 941.8L627.6 941.8L628.0 941.8L628.4 941.8L628.8 941.8L629.2 941.9L629.6 941.9L630.0 941.9L630.4 941.9L630.8 941.9L631.2 941.9L631.6 942.0L632.0 942.0L632.4 942.0L632.8 942.0L633.2 942.0L633.6 942.0L634.0 942.0L634.4 942.1L634.8 942.1L635.2 942.1L635.6 942.1L636.0 942.1L636.4 942.1L636.8 942.1L637.2 942.1L637.6 942.2L638.0 942.2L638.4 942.2L638.8 942.2L639.2 942.2L639.6 942.2L640.0 942.2L640.4 942.3L640.8 942.3L641.2 942.3L641.6 942.3L642.0 942.3L642.4 942.3L642.8 942.3L643.2 942.3L643.6 942.3L644.0 942.4L644.4 942.4L644.8 942.4L645.2 942.4L645.6 942.4L646.0 942.4L646.4 942.4L646.8 942.4L647.2 942.4L647.6 942.4L648.0 942.5L648.4 942.5L648.8 942.5L649.2 942.5L649.6 942.5L650.0 942.5L650.4 942.5L650.8 942.5L651.2 942.5L651.6 942.5L652.0 942.5L652.4 942.5L652.8 942.6L653.2 942.6L653.6 942.6L654.0 942.6L654.4 942.6L654.8 942.6L655.2 942.6L655.6 942.6L656.0 942.6L656.4 942.6L656.8 942.6L657.2 942.6L657.6 942.6L658.0 942.6L658.4 942.7L658.8 942.7L659.2 942.7L659.6 942.7L660.0 942.7L660.4 942.7L660.8 942.7L661.2 942.7L661.6 942.7L662.0 942.7L662.4 942.7L662.8 942.7L663.2 942.7L663.6 942.7L664.0 942.7L664.4 942.7L664.8 942.8L665.2 942.8L665.6 942.8L666.0 942.8L666.4 942.8L666.8 942.8L667.2 942.8L667.6 942.8L668.0 942.8L668.4 942.8L668.8 942.8L669.2 942.8L669.6 942.8L670.0 942.8L670.4 942.8L670.8 942.8L671.2 942.8L671.6 942.8L672.0 942.8L672.4 942.9L672.8 942.9L673.2 942.9L673.6 942.9L674.0 942.9L674.4 942.9L674.8 942.9L675.2 942.9L675.6 942.9L676.0 942.9L676.4 942.9L676.8 942.9L677.2 942.9L677.6 942.9L678.0 942.9L678.4 942.9L678.8 942.9L679.2 942.9L679.6 942.9L680.0 942.9L680.4 942.9L680.8 943.0L681.2 943.0L681.6 943.0L682.0 943.0L682.4 943.0L682.8 943.0L683.2 943.0L683.6 943.0L684.0 943.0L684.4 943.0L684.8 943.0L685.2 943.0L685.6 943.0L686.0 943.0L686.4 943.0L686.8 943.0L687.2 943.0L687.6 943.0L688.0 943.0L688.4 943.0L688.8 943.0L689.2 943.1L689.6 943.1L690.0 943.1L690.4 943.1L690.8 943.1L691.2 943.1L691.6 943.1L692.0 943.1L692.4 943.1L692.8 943.1L693.2 943.1L693.6 943.1L694.0 943.1L694.4 943.1L694.8 943.1L695.2 943.1L695.6 943.1L696.0 943.1L696.4 943.1L696.8 943.2L697.2 943.2L697.6 943.2L698.0 943.2L698.4 943.2L698.8 943.2L699.2 943.2L699.6 943.2L700.0 943.2L700.4 943.2L700.8 943.2L701.2 943.2L701.6 943.2L702.0 943.2L702.4 943.2L702.8 943.2L703.2 943.2L703.6 943.3L704.0 943.3L704.4 943.3L704.8 943.3L705.2 943.3L705.6 943.3L706.0 943.3L706.4 943.3L706.8 943.3L707.2 943.3L707.6 943.3L708.0 943.3L708.4 943.3L708.8 943.3L709.2 943.3L709.6 943.4L710.0 943.4L710.4 943.4L710.8 943.4L711.2 943.4L711.6 943.4L712.0 943.4L712.4 943.4L712.8 943.4L713.2 943.4L713.6 943.4L714.0 943.4L714.4 943.4L714.8 943.4L715.2 943.4L715.6 943.5L716.0 943.5L716.4 943.5L716.8 943.5L717.2 943.5L717.6 943.5L718.0 943.5L718.4 943.5L718.8 943.5L719.2 943.5L719.6 943.5L720.0 943.5L720.4 943.5L720.8 943.5L721.2 943.5L721.6 943.6L722.0 943.6L722.4 943.6L722.8 943.6L723.2 943.6L723.6 943.6L724.0 943.6L724.4 943.6L724.8 943.6L725.2 943.6L725.6 943.6L726.0 943.6L726.4 943.6L726.8 943.6L727.2 943.6L727.6 943.7L728.0 943.7L728.4 943.7L728.8 943.7L729.2 943.7L729.6 943.7L730.0 943.7L730.4 943.7L730.8 943.7L731.2 943.7L731.6 943.7L732.0 943.7L732.4 943.7L732.8 943.7L733.2 943.8L733.6 943.8L734.0 943.8L734.4 943.8L734.8 943.8L735.2 943.8L735.6 943.8L736.0 943.8L736.4 943.8L736.8 943.8L737.2 943.8L737.6 943.8L738.0 943.8L738.4 943.9L738.8 943.9L739.2 943.9L739.6 943.9L740.0 943.9L740.4 943.9L740.8 943.9L741.2 943.9L741.6 943.9L742.0 943.9L742.4 943.9L742.8 943.9L743.2 943.9L743.6 943.9L744.0 944.0L744.4 944.0L744.8 944.0L745.2 944.0L745.6 944.0L746.0 944.0" fill="none" stroke="#c17a93" stroke-width="3.3" stroke-linejoin="round" clip-path="url(#clipc)"/>
<rect x="90" y="642.7" width="656" height="487.89999999999986" fill="none" stroke="#000" stroke-width="2"/>
<path d="M160.1 1130.6V1121.6M277.4 1130.6V1121.6M394.6 1130.6V1121.6M511.9 1130.6V1121.6M629.1 1130.6V1121.6M746.4 1130.6V1121.6" stroke="#000" stroke-width="2" fill="none"/>
<text x="151.19" y="1166.30" font-size="32" font-weight="bold" fill="#000">5</text>
<text x="259.24" y="1166.30" font-size="32" font-weight="bold" fill="#000">10</text>
<text x="376.25" y="1166.30" font-size="32" font-weight="bold" fill="#000">15</text>
<text x="494.22" y="1166.30" font-size="32" font-weight="bold" fill="#000">20</text>
<text x="611.23" y="1166.30" font-size="32" font-weight="bold" fill="#000">25</text>
<text x="728.88" y="1166.30" font-size="32" font-weight="bold" fill="#000">30</text>
<text x="308.18" y="1212.30" font-size="32" font-weight="bold" fill="#000" textLength="248.11" lengthAdjust="spacingAndGlyphs">2 Theta (degree)</text>
<text transform="translate(49.20,999.90) rotate(-90)" x="-2.09" y="0" font-size="32" font-weight="bold" fill="#000" textLength="226.57" lengthAdjust="spacingAndGlyphs">Intensity (a. u.)</text>
<text x="138.12" y="684.70" font-size="32" font-weight="bold" fill="#c17a93" textLength="172.49" lengthAdjust="spacingAndGlyphs">Py-TFIm-25</text>
<text transform="translate(115.50,706.10) rotate(-90)" x="-1.62" y="0" font-size="25" font-weight="bold" fill="#000">110</text>
<text transform="translate(176.70,808.75) rotate(-90)" x="-0.88" y="0" font-size="25" font-weight="bold" fill="#000">220</text>
<text transform="translate(145.00,917.65) rotate(-90)" x="-1.00" y="0" font-size="25" font-weight="bold" fill="#000">020</text>
<text transform="translate(241.40,919.05) rotate(-90)" x="-0.62" y="0" font-size="25" font-weight="bold" fill="#000">330</text>
<text transform="translate(308.00,926.60) rotate(-90)" x="-0.38" y="0" font-size="25" font-weight="bold" fill="#000">440</text>
<text transform="translate(590.60,927.90) rotate(-90)" x="-1.00" y="0" font-size="25" font-weight="bold" fill="#000">001</text>
<circle cx="491.6" cy="664.1" r="3" fill="#fff" stroke="#222" stroke-width="0.9"/>
<path d="M459.2 698.7H523.2" stroke="#c17a93" stroke-width="3"/>
<path d="M459.2 730.3H523.2" stroke="#000099" stroke-width="3"/>
<path d="M491.6 755.9V771.2" stroke="#6ba61a" stroke-width="2"/>
<path d="M460.7 797.5H524.7" stroke="#ff8000" stroke-width="3"/>
<text x="529.50" y="673.70" font-size="27.6" font-weight="bold" fill="#000" textLength="173.75" lengthAdjust="spacingAndGlyphs">Experimental</text>
<text x="529.50" y="707.90" font-size="27.6" font-weight="bold" fill="#c17a93" textLength="193.68" lengthAdjust="spacingAndGlyphs">Pawley refined</text>
<text x="530.47" y="739.20" font-size="27.6" font-weight="bold" fill="#000099">Simulated</text>
<text x="529.51" y="771.90" font-size="27.6" font-weight="bold" fill="#6ba61a" textLength="209.23" lengthAdjust="spacingAndGlyphs">Bragg positions</text>
<text x="529.51" y="806.00" font-size="27.6" font-weight="bold" fill="#ff8000">Difference</text>
<text x="462.5" y="842.3" font-size="27.6" font-weight="bold">R<tspan font-size="19" dy="6">p</tspan><tspan dy="-6">=1.78%, R</tspan><tspan font-size="19" dy="6">wp</tspan><tspan dy="-6">=2.31%</tspan></text>
<radialGradient id="gp" cx="0.37" cy="0.34" r="0.62" fx="0.37" fy="0.34"><stop offset="0" stop-color="#fff"/><stop offset="0.18" stop-color="#fbf6f8"/><stop offset="0.45" stop-color="#c17a93"/><stop offset="1" stop-color="#c17a93"/></radialGradient><radialGradient id="gt" cx="0.37" cy="0.34" r="0.62" fx="0.37" fy="0.34"><stop offset="0" stop-color="#fff"/><stop offset="0.18" stop-color="#fbf6f8"/><stop offset="0.45" stop-color="#5f8496"/><stop offset="1" stop-color="#5f8496"/></radialGradient>
<clipPath id="clipe"><rect x="126.5" y="1253.6" width="623.7" height="489.5"/></clipPath>
<path d="M126.5 1650.7H135.9M126.5 1558.3H135.9M126.5 1466.0H135.9M126.5 1373.6H135.9M126.5 1281.2H135.9M126.5 1696.9H131.2M126.5 1604.5H131.2M126.5 1512.1H131.2M126.5 1419.8H131.2M126.5 1327.4H131.2M251.3 1743.1V1734.1M376.1 1743.1V1734.1M500.9 1743.1V1734.1M625.7 1743.1V1734.1M750.5 1743.1V1734.1M188.9 1743.1V1738.6M313.7 1743.1V1738.6M438.5 1743.1V1738.6M563.3 1743.1V1738.6M688.1 1743.1V1738.6" stroke="#000" stroke-width="2" fill="none"/>
<g clip-path="url(#clipe)"><path d="M127.0 1741.0L127.1 1734.6L127.3 1728.2L127.5 1721.8L127.7 1715.4L127.9 1709.0L128.2 1702.5L128.5 1696.1L128.7 1689.7L129.0 1683.3L129.3 1676.9L129.6 1670.5L130.0 1664.1L130.3 1657.7L130.6 1651.3L131.0 1644.9L131.3 1638.5L131.6 1632.0L132.0 1625.6L132.4 1619.2L132.7 1612.8L133.1 1606.4L133.5 1600.0L142.1 1595.9L148.0 1584.6L158.8 1573.0L174.8 1557.0L193.0 1545.0L211.0 1528.0L229.0 1512.0L245.0 1488.0L250.0 1478.0L258.0 1440.0L266.0 1422.0L286.0 1417.0L311.0 1413.0L344.0 1407.0L374.0 1405.0L406.0 1401.6L437.2 1398.0L469.6 1396.3L499.6 1392.0L529.6 1389.6L562.7 1387.2L593.2 1384.8L624.4 1381.2L654.9 1377.6L682.0 1372.8L709.6 1363.2L724.0 1358.4L736.0 1351.2L745.6 1341.6" fill="none" stroke="#5f8496" stroke-width="2.4" stroke-linejoin="round"/><g fill="url(#gt)"><circle cx="127.0" cy="1741.0" r="9.1"/><circle cx="127.1" cy="1734.6" r="9.1"/><circle cx="127.3" cy="1728.2" r="9.1"/><circle cx="127.5" cy="1721.8" r="9.1"/><circle cx="127.7" cy="1715.4" r="9.1"/><circle cx="127.9" cy="1709.0" r="9.1"/><circle cx="128.2" cy="1702.5" r="9.1"/><circle cx="128.5" cy="1696.1" r="9.1"/><circle cx="128.7" cy="1689.7" r="9.1"/><circle cx="129.0" cy="1683.3" r="9.1"/><circle cx="129.3" cy="1676.9" r="9.1"/><circle cx="129.6" cy="1670.5" r="9.1"/><circle cx="130.0" cy="1664.1" r="9.1"/><circle cx="130.3" cy="1657.7" r="9.1"/><circle cx="130.6" cy="1651.3" r="9.1"/><circle cx="131.0" cy="1644.9" r="9.1"/><circle cx="131.3" cy="1638.5" r="9.1"/><circle cx="131.6" cy="1632.0" r="9.1"/><circle cx="132.0" cy="1625.6" r="9.1"/><circle cx="132.4" cy="1619.2" r="9.1"/><circle cx="132.7" cy="1612.8" r="9.1"/><circle cx="133.1" cy="1606.4" r="9.1"/><circle cx="133.5" cy="1600.0" r="9.1"/><circle cx="142.1" cy="1595.9" r="9.1"/><circle cx="148.0" cy="1584.6" r="9.1"/><circle cx="158.8" cy="1573.0" r="9.1"/><circle cx="174.8" cy="1557.0" r="9.1"/><circle cx="193.0" cy="1545.0" r="9.1"/><circle cx="211.0" cy="1528.0" r="9.1"/><circle cx="229.0" cy="1512.0" r="9.1"/><circle cx="245.0" cy="1488.0" r="9.1"/><circle cx="250.0" cy="1478.0" r="9.1"/><circle cx="258.0" cy="1440.0" r="9.1"/><circle cx="266.0" cy="1422.0" r="9.1"/><circle cx="286.0" cy="1417.0" r="9.1"/><circle cx="311.0" cy="1413.0" r="9.1"/><circle cx="344.0" cy="1407.0" r="9.1"/><circle cx="374.0" cy="1405.0" r="9.1"/><circle cx="406.0" cy="1401.6" r="9.1"/><circle cx="437.2" cy="1398.0" r="9.1"/><circle cx="469.6" cy="1396.3" r="9.1"/><circle cx="499.6" cy="1392.0" r="9.1"/><circle cx="529.6" cy="1389.6" r="9.1"/><circle cx="562.7" cy="1387.2" r="9.1"/><circle cx="593.2" cy="1384.8" r="9.1"/><circle cx="624.4" cy="1381.2" r="9.1"/><circle cx="654.9" cy="1377.6" r="9.1"/><circle cx="682.0" cy="1372.8" r="9.1"/><circle cx="709.6" cy="1363.2" r="9.1"/><circle cx="724.0" cy="1358.4" r="9.1"/><circle cx="736.0" cy="1351.2" r="9.1"/><circle cx="745.6" cy="1341.6" r="9.1"/></g><path d="M744.4 1330.8L737.2 1335.6L728.8 1341.6L714.4 1351.2L694.7 1359.6L676.0 1365.6L657.3 1369.2L638.3 1371.6L613.6 1374.0L587.9 1376.4L562.7 1378.3L538.0 1380.0L513.3 1382.4L488.3 1384.3L463.6 1386.0L438.4 1388.4L414.4 1393.2L387.6 1397.0L364.0 1400.0L338.0 1403.6L313.0 1406.0L283.0 1412.0L256.0 1432.0L251.0 1462.0L244.0 1486.0L223.0 1512.0L192.0 1541.0L158.0 1566.0" fill="none" stroke="#5f8496" stroke-width="2.4" stroke-linejoin="round"/><g fill="#fff" stroke="#5f8496" stroke-width="1.5"><circle cx="744.4" cy="1330.8" r="7.8"/><circle cx="737.2" cy="1335.6" r="7.8"/><circle cx="728.8" cy="1341.6" r="7.8"/><circle cx="714.4" cy="1351.2" r="7.8"/><circle cx="694.7" cy="1359.6" r="7.8"/><circle cx="676.0" cy="1365.6" r="7.8"/><circle cx="657.3" cy="1369.2" r="7.8"/><circle cx="638.3" cy="1371.6" r="7.8"/><circle cx="613.6" cy="1374.0" r="7.8"/><circle cx="587.9" cy="1376.4" r="7.8"/><circle cx="562.7" cy="1378.3" r="7.8"/><circle cx="538.0" cy="1380.0" r="7.8"/><circle cx="513.3" cy="1382.4" r="7.8"/><circle cx="488.3" cy="1384.3" r="7.8"/><circle cx="463.6" cy="1386.0" r="7.8"/><circle cx="438.4" cy="1388.4" r="7.8"/><circle cx="414.4" cy="1393.2" r="7.8"/><circle cx="387.6" cy="1397.0" r="7.8"/><circle cx="364.0" cy="1400.0" r="7.8"/><circle cx="338.0" cy="1403.6" r="7.8"/><circle cx="313.0" cy="1406.0" r="7.8"/><circle cx="283.0" cy="1412.0" r="7.8"/><circle cx="256.0" cy="1432.0" r="7.8"/><circle cx="251.0" cy="1462.0" r="7.8"/><circle cx="244.0" cy="1486.0" r="7.8"/><circle cx="223.0" cy="1512.0" r="7.8"/><circle cx="192.0" cy="1541.0" r="7.8"/><circle cx="158.0" cy="1566.0" r="7.8"/></g><path d="M126.8 1741.0L126.9 1734.8L127.0 1728.5L127.2 1722.3L127.4 1716.1L127.6 1709.9L127.8 1703.6L128.1 1697.4L128.3 1691.2L128.6 1685.0L128.8 1678.7L129.1 1672.5L129.3 1666.3L129.6 1660.0L129.9 1653.8L130.2 1647.6L130.5 1641.4L130.8 1635.1L131.1 1628.9L131.4 1622.7L131.7 1616.5L132.1 1610.2L132.4 1604.0L138.5 1582.2L144.5 1569.1L158.8 1555.5L177.0 1539.0L193.0 1527.0L209.0 1510.0L228.0 1491.0L244.0 1464.0L248.0 1440.0L252.0 1415.0L256.0 1395.0L260.0 1387.0L269.0 1384.0L287.0 1382.0L312.0 1377.0L344.0 1374.0L374.0 1371.0L406.0 1368.0L437.2 1363.4L469.6 1360.8L499.6 1358.4L530.8 1355.5L562.7 1353.6L593.2 1351.2L624.4 1349.3L654.9 1345.2L682.0 1341.6L708.4 1333.2L724.0 1327.2L736.0 1320.0L743.2 1311.6" fill="none" stroke="#c17a93" stroke-width="2.4" stroke-linejoin="round"/><g fill="url(#gp)"><circle cx="126.8" cy="1741.0" r="9.1"/><circle cx="126.9" cy="1734.8" r="9.1"/><circle cx="127.0" cy="1728.5" r="9.1"/><circle cx="127.2" cy="1722.3" r="9.1"/><circle cx="127.4" cy="1716.1" r="9.1"/><circle cx="127.6" cy="1709.9" r="9.1"/><circle cx="127.8" cy="1703.6" r="9.1"/><circle cx="128.1" cy="1697.4" r="9.1"/><circle cx="128.3" cy="1691.2" r="9.1"/><circle cx="128.6" cy="1685.0" r="9.1"/><circle cx="128.8" cy="1678.7" r="9.1"/><circle cx="129.1" cy="1672.5" r="9.1"/><circle cx="129.3" cy="1666.3" r="9.1"/><circle cx="129.6" cy="1660.0" r="9.1"/><circle cx="129.9" cy="1653.8" r="9.1"/><circle cx="130.2" cy="1647.6" r="9.1"/><circle cx="130.5" cy="1641.4" r="9.1"/><circle cx="130.8" cy="1635.1" r="9.1"/><circle cx="131.1" cy="1628.9" r="9.1"/><circle cx="131.4" cy="1622.7" r="9.1"/><circle cx="131.7" cy="1616.5" r="9.1"/><circle cx="132.1" cy="1610.2" r="9.1"/><circle cx="132.4" cy="1604.0" r="9.1"/><circle cx="138.5" cy="1582.2" r="9.1"/><circle cx="144.5" cy="1569.1" r="9.1"/><circle cx="158.8" cy="1555.5" r="9.1"/><circle cx="177.0" cy="1539.0" r="9.1"/><circle cx="193.0" cy="1527.0" r="9.1"/><circle cx="209.0" cy="1510.0" r="9.1"/><circle cx="228.0" cy="1491.0" r="9.1"/><circle cx="244.0" cy="1464.0" r="9.1"/><circle cx="248.0" cy="1440.0" r="9.1"/><circle cx="252.0" cy="1415.0" r="9.1"/><circle cx="256.0" cy="1395.0" r="9.1"/><circle cx="260.0" cy="1387.0" r="9.1"/><circle cx="269.0" cy="1384.0" r="9.1"/><circle cx="287.0" cy="1382.0" r="9.1"/><circle cx="312.0" cy="1377.0" r="9.1"/><circle cx="344.0" cy="1374.0" r="9.1"/><circle cx="374.0" cy="1371.0" r="9.1"/><circle cx="406.0" cy="1368.0" r="9.1"/><circle cx="437.2" cy="1363.4" r="9.1"/><circle cx="469.6" cy="1360.8" r="9.1"/><circle cx="499.6" cy="1358.4" r="9.1"/><circle cx="530.8" cy="1355.5" r="9.1"/><circle cx="562.7" cy="1353.6" r="9.1"/><circle cx="593.2" cy="1351.2" r="9.1"/><circle cx="624.4" cy="1349.3" r="9.1"/><circle cx="654.9" cy="1345.2" r="9.1"/><circle cx="682.0" cy="1341.6" r="9.1"/><circle cx="708.4" cy="1333.2" r="9.1"/><circle cx="724.0" cy="1327.2" r="9.1"/><circle cx="736.0" cy="1320.0" r="9.1"/><circle cx="743.2" cy="1311.6" r="9.1"/></g><path d="M742.7 1299.6L734.8 1305.6L726.4 1310.9L713.2 1320.0L694.7 1327.2L676.0 1332.0L657.3 1335.6L638.8 1338.0L613.6 1340.4L588.4 1342.3L563.2 1344.5L538.7 1345.2L513.3 1347.1L488.3 1349.3L463.6 1351.2L438.1 1353.2L414.0 1357.4L387.6 1360.0L364.4 1363.4L339.0 1366.0L313.6 1369.6L283.6 1374.4L253.0 1393.6L250.0 1420.4L244.0 1450.0L229.6 1475.6L219.6 1489.0L193.0 1513.6L183.6 1522.4L158.0 1545.0" fill="none" stroke="#c17a93" stroke-width="2.4" stroke-linejoin="round"/><g fill="#fff" stroke="#c17a93" stroke-width="1.5"><circle cx="742.7" cy="1299.6" r="7.8"/><circle cx="734.8" cy="1305.6" r="7.8"/><circle cx="726.4" cy="1310.9" r="7.8"/><circle cx="713.2" cy="1320.0" r="7.8"/><circle cx="694.7" cy="1327.2" r="7.8"/><circle cx="676.0" cy="1332.0" r="7.8"/><circle cx="657.3" cy="1335.6" r="7.8"/><circle cx="638.8" cy="1338.0" r="7.8"/><circle cx="613.6" cy="1340.4" r="7.8"/><circle cx="588.4" cy="1342.3" r="7.8"/><circle cx="563.2" cy="1344.5" r="7.8"/><circle cx="538.7" cy="1345.2" r="7.8"/><circle cx="513.3" cy="1347.1" r="7.8"/><circle cx="488.3" cy="1349.3" r="7.8"/><circle cx="463.6" cy="1351.2" r="7.8"/><circle cx="438.1" cy="1353.2" r="7.8"/><circle cx="414.0" cy="1357.4" r="7.8"/><circle cx="387.6" cy="1360.0" r="7.8"/><circle cx="364.4" cy="1363.4" r="7.8"/><circle cx="339.0" cy="1366.0" r="7.8"/><circle cx="313.6" cy="1369.6" r="7.8"/><circle cx="283.6" cy="1374.4" r="7.8"/><circle cx="253.0" cy="1393.6" r="7.8"/><circle cx="250.0" cy="1420.4" r="7.8"/><circle cx="244.0" cy="1450.0" r="7.8"/><circle cx="229.6" cy="1475.6" r="7.8"/><circle cx="219.6" cy="1489.0" r="7.8"/><circle cx="193.0" cy="1513.6" r="7.8"/><circle cx="183.6" cy="1522.4" r="7.8"/><circle cx="158.0" cy="1545.0" r="7.8"/></g></g>
<rect x="126.5" y="1253.6" width="623.7" height="489.5" fill="none" stroke="#000" stroke-width="2"/>
<text x="62.10" y="1659.32" font-size="32" font-weight="bold" fill="#000">100</text>
<text x="62.10" y="1566.94" font-size="32" font-weight="bold" fill="#000">200</text>
<text x="62.10" y="1474.56" font-size="32" font-weight="bold" fill="#000">300</text>
<text x="62.10" y="1382.18" font-size="32" font-weight="bold" fill="#000">400</text>
<text x="62.10" y="1289.80" font-size="32" font-weight="bold" fill="#000">500</text>
<text x="104.26" y="1779.20" font-size="32" font-weight="bold" fill="#000">0.0</text>
<text x="229.06" y="1779.20" font-size="32" font-weight="bold" fill="#000">0.2</text>
<text x="353.30" y="1779.20" font-size="32" font-weight="bold" fill="#000">0.4</text>
<text x="478.58" y="1779.20" font-size="32" font-weight="bold" fill="#000">0.6</text>
<text x="603.30" y="1779.20" font-size="32" font-weight="bold" fill="#000">0.8</text>
<text x="727.86" y="1779.20" font-size="32" font-weight="bold" fill="#000">1.0</text>
<text x="240.90" y="1837.50" font-size="32" font-weight="bold" fill="#000" textLength="366.31" lengthAdjust="spacingAndGlyphs">Relative Pressure (P/P°)</text>
<text transform="translate(32,1755.9) rotate(-90)" x="-1.3" y="0" font-size="32.4" font-weight="bold">Quantity Adsorbed (cm<tspan font-size="21.5" dy="-11">3</tspan><tspan dy="11"> g</tspan><tspan font-size="21.5" dy="-11">-1</tspan><tspan dy="11"> STP)</tspan></text>
<path d="M136.7 1289.7H211.5" stroke="#c17a93" stroke-width="3.6" stroke-linecap="round"/>
<circle cx="174" cy="1289.7" r="9.7" fill="url(#gp)"/>
<text x="219.44" y="1300.80" font-size="32" font-weight="bold" fill="#000" textLength="170.96" lengthAdjust="spacingAndGlyphs">Py-TFIm-25</text>
<path d="M426.6 1290.5H502" stroke="#5f8496" stroke-width="3.6" stroke-linecap="round"/>
<circle cx="463.8" cy="1290.5" r="9.7" fill="url(#gt)"/>
<text x="508.32" y="1301.30" font-size="32" font-weight="bold" fill="#000" textLength="181.79" lengthAdjust="spacingAndGlyphs">Py-TFImI-25</text>
<rect x="401.2" y="1415.4" width="329.3" height="276.6999999999998" fill="#fff" stroke="#3a3a3a" stroke-width="1.1"/>
<path d="M401.2 1692.1V1688.6M483.4 1692.1V1688.6M565.6 1692.1V1688.6M647.8 1692.1V1688.6M730.0 1692.1V1688.6M442.3 1692.1V1689.6M524.5 1692.1V1689.6M606.7 1692.1V1689.6M688.9 1692.1V1689.6" stroke="#3a3a3a" stroke-width="1.1" fill="none"/>
<text x="396.20" y="1712.40" font-size="18" font-weight="bold" fill="#000">0</text>
<text x="478.36" y="1712.40" font-size="18" font-weight="bold" fill="#000">5</text>
<text x="555.39" y="1712.40" font-size="18" font-weight="bold" fill="#000">10</text>
<text x="637.45" y="1712.40" font-size="18" font-weight="bold" fill="#000">15</text>
<text x="720.05" y="1712.40" font-size="18" font-weight="bold" fill="#000">20</text>
<text x="517.56" y="1734.10" font-size="20" font-weight="bold" fill="#000" textLength="155.98" lengthAdjust="spacingAndGlyphs">Pore width (nm)</text>
<text transform="translate(369,1664.4) rotate(-90)" x="-0.8" y="0" font-size="20" font-weight="bold">dV/dW (cm<tspan font-size="13" dy="-7">3</tspan><tspan dy="7"> g</tspan><tspan font-size="13" dy="-7">-1</tspan><tspan dy="7"> nm</tspan><tspan font-size="13" dy="-7">-1</tspan><tspan dy="7">)</tspan></text>
<path d="M413.9 1592.9L421.0 1592.9L423.3 1503.2L426.5 1580.2L428.7 1554.8L431.0 1566.0L433.2 1572.0L435.6 1591.0L437.0 1530.0L439.2 1441.1L441.0 1500.0L444.7 1592.0L449.0 1592.5L451.0 1590.5L453.0 1592.5L480.0 1592.5L483.4 1590.8L486.0 1592.5L500.0 1592.6L508.0 1591.5L515.0 1592.6L540.0 1592.6L546.0 1591.5L552.0 1592.6L570.0 1592.6L578.0 1591.2L586.0 1592.6L620.0 1592.7L628.0 1591.0L640.0 1592.7L730.5 1592.9Z" fill="#c17a93" stroke="#c17a93" stroke-width="1.4" stroke-linejoin="round"/>
<path d="M413.9 1667.3L417.0 1667.1L419.0 1660.0L421.0 1645.0L423.6 1634.2L426.0 1634.5L428.0 1640.0L430.0 1650.0L432.3 1657.7L435.0 1652.0L438.0 1635.0L440.5 1624.0L442.8 1620.4L445.0 1622.0L446.8 1625.5L449.0 1635.0L451.5 1648.0L454.1 1658.0L456.5 1664.0L458.6 1666.7L462.0 1667.3L485.0 1667.0L490.3 1666.3L495.0 1667.0L730.5 1667.3Z" fill="#5f8496" stroke="#5f8496" stroke-width="1.4" stroke-linejoin="round"/>
<text x="535.18" y="1574.40" font-size="20" font-weight="bold" fill="#c17a93" textLength="109.23" lengthAdjust="spacingAndGlyphs">Py-TFIm-25</text>
<text x="531.67" y="1654.40" font-size="20" font-weight="bold" fill="#5f8496" textLength="115.80" lengthAdjust="spacingAndGlyphs">Py-TFImI-25</text>
<path d="M1202.3 1312.2V1630M1222.2 1312.2V1676" stroke="#ff8000" stroke-width="3.3"/>
<path d="M1196.3 1627.2H1209L1202.7 1652.8Z M1215.8 1673.8H1228.7L1222.3 1699.5Z" fill="#ff8000"/>
<path d="M864.7 1335.5L865.8 1332.3L866.9 1332.5L868.0 1331.7L869.1 1334.5L870.2 1330.1L871.3 1335.8L872.4 1332.4L873.5 1334.0L874.6 1333.2L875.7 1337.5L876.8 1328.4L877.9 1333.0L879.0 1332.9L880.1 1337.0L881.2 1331.3L882.3 1333.8L883.4 1332.0L884.5 1334.5L885.6 1336.1L886.7 1331.9L887.8 1338.0L888.9 1337.6L890.0 1336.8L891.1 1338.0L892.2 1334.1L893.3 1335.8L894.4 1333.9L895.5 1335.8L896.6 1338.0L897.7 1334.9L898.8 1335.8L899.9 1335.1L901.0 1334.7L902.1 1335.3L903.2 1337.0L904.3 1334.2L905.4 1337.7L906.5 1341.5L907.6 1339.1L908.7 1336.8L909.8 1335.0L910.9 1335.4L912.0 1341.8L913.1 1337.5L914.2 1335.8L915.3 1338.0L916.4 1343.0L917.5 1337.9L918.6 1339.3L919.7 1338.5L920.8 1336.9L921.9 1334.9L923.0 1337.1L924.1 1337.5L925.2 1339.7L926.3 1340.5L927.4 1340.9L928.5 1339.3L929.6 1341.1L930.7 1337.0L931.8 1342.4L932.9 1340.6L934.0 1338.8L935.1 1341.0L936.2 1339.8L937.3 1343.2L938.4 1344.6L939.5 1346.8L940.6 1338.0L941.7 1338.5L942.8 1341.6L943.9 1344.0L945.0 1346.7L946.1 1346.0L947.2 1340.8L948.3 1346.1L949.4 1349.9L950.5 1349.4L951.6 1351.8L952.7 1350.4L953.8 1351.7L954.9 1354.0L956.0 1355.9L957.1 1356.7L958.2 1357.6L959.3 1358.2L960.4 1360.5L961.5 1361.5L962.6 1363.9L963.7 1365.3L964.8 1365.7L965.9 1366.5L967.0 1367.6L968.1 1370.0L969.2 1371.0L970.3 1371.8L971.4 1373.4L972.5 1373.9L973.6 1376.4L974.7 1376.5L975.8 1379.4L976.9 1379.9L978.0 1381.3L979.1 1380.8L980.2 1383.3L981.3 1384.9L982.4 1384.2L983.5 1385.8L984.6 1386.9L985.7 1386.0L986.8 1388.1L987.9 1388.8L989.0 1387.1L990.1 1388.4L991.2 1386.7L992.3 1388.0L993.4 1386.4L994.5 1389.1L995.6 1388.4L996.7 1388.0L997.8 1387.2L998.9 1389.3L1000.0 1389.0L1001.1 1387.9L1002.2 1391.0L1003.3 1392.3L1004.4 1391.6L1005.5 1390.4L1006.6 1390.7L1007.7 1389.3L1008.8 1387.9L1009.9 1386.4L1011.0 1385.8L1012.1 1384.5L1013.2 1382.3L1014.3 1381.3L1015.4 1379.0L1016.5 1378.6L1017.6 1376.9L1018.7 1375.6L1019.8 1374.7L1020.9 1374.5L1022.0 1373.9L1023.1 1373.3L1024.2 1372.6L1025.3 1372.1L1026.4 1372.0L1027.5 1371.4L1028.6 1371.3L1029.7 1370.4L1030.8 1369.0L1031.9 1370.4L1033.0 1370.7L1034.1 1369.5L1035.2 1368.8L1036.3 1368.5L1037.4 1368.1L1038.5 1367.8L1039.6 1366.8L1040.7 1366.6L1041.8 1365.9L1042.9 1366.1L1044.0 1365.3L1045.1 1365.2L1046.2 1364.4L1047.3 1364.5L1048.4 1363.7L1049.5 1364.2L1050.6 1361.8L1051.7 1362.0L1052.8 1362.5L1053.9 1363.0L1055.0 1361.4L1056.1 1361.4L1057.2 1361.1L1058.3 1361.9L1059.4 1361.1L1060.5 1361.6L1061.6 1361.1L1062.7 1360.7L1063.8 1361.6L1064.9 1361.7L1066.0 1362.2L1067.1 1361.7L1068.2 1361.5L1069.3 1362.3L1070.4 1362.3L1071.5 1362.5L1072.6 1362.9L1073.7 1364.5L1074.8 1365.5L1075.9 1367.8L1077.0 1369.1L1078.1 1370.7L1079.2 1371.9L1080.3 1376.5L1081.4 1379.9L1082.5 1382.8L1083.6 1383.8L1084.7 1381.0L1085.8 1377.3L1086.9 1371.7L1088.0 1369.1L1089.1 1366.1L1090.2 1365.3L1091.3 1364.8L1092.4 1364.8L1093.5 1364.3L1094.6 1365.6L1095.7 1364.2L1096.8 1363.6L1097.9 1364.8L1099.0 1364.0L1100.1 1364.0L1101.2 1365.5L1102.3 1366.1L1103.4 1366.4L1104.5 1369.2L1105.6 1372.9L1106.7 1376.6L1107.8 1375.5L1108.9 1374.1L1110.0 1370.9L1111.1 1368.2L1112.2 1369.4L1113.3 1368.0L1114.4 1368.5L1115.5 1368.6L1116.6 1369.3L1117.7 1370.2L1118.8 1370.8L1119.9 1371.8L1121.0 1373.7L1122.1 1375.0L1123.2 1375.7L1124.3 1373.7L1125.4 1370.4L1126.5 1367.7L1127.6 1367.3L1128.7 1365.1L1129.8 1363.9L1130.9 1362.9L1132.0 1361.3L1133.1 1361.0L1134.2 1361.5" fill="none" stroke="#c17a93" stroke-width="3.2" stroke-linejoin="round"/>
<path d="M864.7 1537.4L865.8 1538.0L866.9 1536.4L868.0 1540.0L869.1 1537.2L870.2 1538.3L871.3 1539.7L872.4 1538.4L873.5 1538.8L874.6 1539.1L875.7 1540.7L876.8 1542.5L877.9 1540.7L879.0 1539.8L880.1 1541.5L881.2 1540.7L882.3 1541.5L883.4 1542.7L884.5 1541.2L885.6 1542.1L886.7 1541.5L887.8 1542.4L888.9 1542.9L890.0 1542.0L891.1 1542.8L892.2 1543.0L893.3 1542.9L894.4 1542.5L895.5 1542.5L896.6 1543.8L897.7 1543.9L898.8 1546.3L899.9 1542.2L901.0 1544.6L902.1 1545.0L903.2 1546.0L904.3 1545.4L905.4 1544.3L906.5 1545.2L907.6 1545.8L908.7 1545.1L909.8 1546.2L910.9 1543.9L912.0 1547.3L913.1 1547.2L914.2 1545.7L915.3 1546.6L916.4 1546.3L917.5 1545.6L918.6 1546.6L919.7 1547.5L920.8 1546.4L921.9 1546.6L923.0 1547.0L924.1 1547.6L925.2 1548.6L926.3 1547.0L927.4 1548.3L928.5 1548.2L929.6 1546.5L930.7 1548.1L931.8 1548.6L932.9 1548.9L934.0 1549.6L935.1 1547.8L936.2 1550.0L937.3 1549.7L938.4 1549.4L939.5 1551.6L940.6 1552.2L941.7 1551.4L942.8 1553.2L943.9 1552.6L945.0 1553.5L946.1 1553.0L947.2 1555.9L948.3 1552.6L949.4 1555.5L950.5 1556.8L951.6 1554.9L952.7 1557.2L953.8 1557.9L954.9 1559.4L956.0 1560.6L957.1 1559.9L958.2 1559.9L959.3 1563.4L960.4 1564.2L961.5 1563.7L962.6 1565.5L963.7 1566.6L964.8 1567.8L965.9 1568.6L967.0 1570.7L968.1 1568.9L969.2 1572.5L970.3 1572.9L971.4 1573.3L972.5 1575.5L973.6 1573.3L974.7 1577.5L975.8 1577.9L976.9 1577.6L978.0 1580.1L979.1 1580.5L980.2 1584.1L981.3 1584.5L982.4 1584.1L983.5 1583.9L984.6 1584.8L985.7 1585.6L986.8 1585.9L987.9 1585.9L989.0 1586.4L990.1 1586.9L991.2 1587.0L992.3 1587.0L993.4 1587.0L994.5 1588.9L995.6 1587.0L996.7 1587.3L997.8 1588.1L998.9 1587.8L1000.0 1588.2L1001.1 1588.4L1002.2 1588.6L1003.3 1588.3L1004.4 1587.0L1005.5 1587.5L1006.6 1585.4L1007.7 1585.3L1008.8 1584.1L1009.9 1582.6L1011.0 1582.3L1012.1 1580.7L1013.2 1580.0L1014.3 1577.5L1015.4 1577.5L1016.5 1576.2L1017.6 1575.0L1018.7 1573.4L1019.8 1573.2L1020.9 1572.1L1022.0 1571.4L1023.1 1573.7L1024.2 1572.2L1025.3 1572.3L1026.4 1570.9L1027.5 1571.2L1028.6 1570.9L1029.7 1570.6L1030.8 1570.1L1031.9 1569.7L1033.0 1568.6L1034.1 1569.7L1035.2 1569.4L1036.3 1569.5L1037.4 1568.6L1038.5 1569.5L1039.6 1568.2L1040.7 1567.6L1041.8 1568.5L1042.9 1567.5L1044.0 1566.9L1045.1 1567.4L1046.2 1567.5L1047.3 1567.0L1048.4 1566.8L1049.5 1568.4L1050.6 1566.4L1051.7 1566.5L1052.8 1564.4L1053.9 1565.2L1055.0 1565.1L1056.1 1564.3L1057.2 1563.8L1058.3 1564.2L1059.4 1563.6L1060.5 1563.4L1061.6 1564.1L1062.7 1564.2L1063.8 1563.7L1064.9 1563.3L1066.0 1563.9L1067.1 1564.2L1068.2 1564.3L1069.3 1563.5L1070.4 1564.3L1071.5 1565.0L1072.6 1565.4L1073.7 1565.9L1074.8 1566.2L1075.9 1566.1L1077.0 1567.9L1078.1 1569.5L1079.2 1573.1L1080.3 1574.3L1081.4 1576.2L1082.5 1577.6L1083.6 1577.3L1084.7 1575.6L1085.8 1573.2L1086.9 1570.2L1088.0 1568.5L1089.1 1567.2L1090.2 1565.8L1091.3 1566.3L1092.4 1565.9L1093.5 1564.7L1094.6 1565.0L1095.7 1563.9L1096.8 1564.9L1097.9 1564.5L1099.0 1564.1L1100.1 1564.7L1101.2 1565.6L1102.3 1565.8L1103.4 1566.9L1104.5 1568.3L1105.6 1570.7L1106.7 1574.2L1107.8 1577.0L1108.9 1574.4L1110.0 1570.7L1111.1 1568.1L1112.2 1566.3L1113.3 1567.6L1114.4 1567.3L1115.5 1567.7L1116.6 1567.7L1117.7 1567.6L1118.8 1568.1L1119.9 1567.9L1121.0 1567.8L1122.1 1568.8L1123.2 1571.5L1124.3 1569.9L1125.4 1568.2L1126.5 1564.3L1127.6 1563.9L1128.7 1562.1L1129.8 1560.8L1130.9 1561.0L1132.0 1560.3L1133.1 1560.0L1134.2 1560.3" fill="none" stroke="#5f8496" stroke-width="3.2" stroke-linejoin="round"/>
<path d="M1146.3 1335.5C1147.0 1335.9 1151.7 1339.8 1153.3 1339.5C1154.9 1339.2 1161.0 1333.1 1162.7 1332.0C1164.5 1330.9 1169.2 1328.5 1170.8 1328.5C1172.4 1328.5 1177.2 1332.8 1179.0 1332.5C1180.8 1332.2 1186.4 1326.1 1188.3 1325.0C1190.2 1323.9 1196.5 1311.9 1197.7 1321.5C1198.9 1331.1 1199.3 1415.7 1200.0 1420.7C1200.7 1425.7 1203.5 1378.8 1204.7 1371.7C1205.9 1364.6 1210.5 1350.0 1211.7 1349.5C1212.9 1349.0 1215.5 1355.0 1216.3 1367.0C1217.1 1379.0 1219.3 1460.4 1219.8 1469.7C1220.3 1479.0 1221.2 1459.5 1221.5 1460.0C1221.8 1460.5 1222.4 1482.0 1223.3 1474.3C1224.2 1466.6 1229.2 1392.3 1230.3 1383.3C1231.3 1374.3 1232.9 1388.1 1233.8 1384.5C1234.7 1380.9 1238.3 1346.9 1239.2 1347.2C1240.1 1347.5 1242.6 1384.4 1243.2 1388.0C1243.8 1391.6 1244.5 1366.6 1245.5 1383.3C1246.5 1400.0 1251.8 1553.4 1253.2 1554.8C1254.6 1556.2 1258.3 1415.8 1259.5 1397.3C1260.7 1378.8 1264.0 1362.6 1264.9 1369.3C1265.8 1376.0 1268.2 1459.8 1268.8 1463.8C1269.4 1467.8 1270.7 1413.8 1271.2 1409.0C1271.7 1404.2 1272.9 1417.2 1273.5 1416.0C1274.1 1414.8 1276.4 1399.4 1277.0 1397.3C1277.6 1395.2 1278.4 1398.7 1279.3 1395.0C1280.2 1391.3 1284.9 1355.6 1285.9 1360.0C1286.9 1364.4 1288.7 1436.5 1289.4 1439.3C1290.1 1442.1 1292.6 1390.8 1293.3 1388.0C1294.0 1385.2 1295.2 1411.9 1296.1 1411.3C1297.0 1410.7 1300.8 1387.3 1302.2 1382.2C1303.6 1377.1 1308.5 1357.3 1309.7 1360.0C1310.9 1362.7 1313.5 1406.8 1314.3 1409.0C1315.1 1411.2 1317.0 1378.6 1317.8 1382.2C1318.5 1385.8 1320.7 1446.8 1321.8 1445.2C1322.9 1443.6 1327.5 1371.4 1328.8 1365.8C1330.1 1360.2 1334.1 1389.5 1335.3 1389.2C1336.5 1388.9 1340.3 1364.8 1341.2 1362.3C1342.1 1359.8 1343.4 1366.6 1344.7 1364.7C1346.0 1362.8 1352.8 1342.5 1354.0 1343.7C1355.2 1344.9 1355.5 1377.3 1356.3 1376.3C1357.0 1375.2 1360.7 1316.4 1361.5 1333.2C1362.3 1350.0 1363.8 1540.2 1364.5 1544.3C1365.2 1548.4 1367.3 1391.5 1368.0 1374.0C1368.7 1356.5 1370.5 1373.4 1371.5 1369.3C1372.5 1365.2 1377.1 1333.1 1378.5 1333.2C1379.9 1333.3 1384.3 1370.2 1385.5 1370.5C1386.7 1370.8 1389.0 1322.9 1390.2 1336.7C1391.4 1350.5 1395.9 1501.3 1397.2 1508.2C1398.5 1515.1 1402.2 1408.8 1403.0 1405.5C1403.8 1402.2 1404.7 1479.0 1405.3 1475.5C1405.9 1472.0 1408.0 1382.6 1408.8 1370.5C1409.6 1358.4 1412.3 1353.4 1413.5 1354.2C1414.7 1355.0 1419.1 1379.0 1420.5 1378.7C1421.9 1378.4 1426.2 1354.0 1427.5 1350.7C1428.8 1347.4 1432.5 1345.7 1433.3 1346.0C1434.1 1346.3 1434.8 1354.0 1435.7 1354.2C1436.6 1354.4 1441.5 1346.4 1442.7 1347.9C1443.9 1349.4 1446.4 1369.4 1447.3 1369.3C1448.2 1369.2 1450.6 1348.1 1451.5 1347.2C1452.4 1346.3 1455.6 1356.4 1456.7 1360.0C1457.8 1363.6 1461.6 1382.8 1462.5 1383.3C1463.4 1383.8 1465.1 1367.7 1466.0 1364.7C1466.9 1361.7 1471.2 1354.2 1471.8 1353.0" fill="none" stroke="#c17a93" stroke-width="3.5" stroke-linejoin="round"/>
<path d="M1146.3 1542.0C1147.1 1542.2 1151.9 1544.1 1154.5 1543.6C1157.1 1543.1 1169.5 1537.1 1172.0 1536.9C1174.5 1536.7 1177.7 1541.8 1179.0 1542.0C1180.3 1542.2 1183.4 1539.3 1184.8 1538.5C1186.2 1537.7 1191.7 1533.8 1193.0 1533.8C1194.3 1533.8 1196.9 1530.9 1197.7 1538.5C1198.5 1546.1 1200.5 1605.0 1201.2 1609.7C1201.9 1614.4 1203.5 1589.6 1204.7 1585.2C1205.9 1580.8 1211.6 1566.1 1212.8 1565.3C1214.0 1564.5 1216.1 1570.8 1216.8 1577.0C1217.5 1583.2 1219.1 1620.2 1219.8 1627.2C1220.5 1634.2 1222.2 1652.0 1223.3 1647.0C1224.3 1642.0 1229.2 1584.2 1230.3 1577.0C1231.3 1569.8 1233.0 1576.7 1233.8 1574.7C1234.6 1572.7 1237.2 1553.7 1238.0 1557.2C1238.8 1560.7 1241.2 1605.4 1242.0 1609.7C1242.8 1614.0 1244.5 1592.8 1245.5 1600.3C1246.5 1607.8 1251.3 1684.5 1252.5 1684.3C1253.7 1684.1 1256.0 1609.2 1257.2 1598.0C1258.4 1586.8 1263.0 1569.3 1264.2 1572.3C1265.4 1575.3 1268.1 1626.0 1268.8 1628.3C1269.5 1630.6 1270.4 1599.7 1271.2 1595.7C1272.0 1591.7 1275.7 1591.5 1277.0 1588.7C1278.3 1585.9 1283.3 1564.8 1284.5 1567.7C1285.7 1570.6 1288.3 1615.8 1289.1 1617.8C1289.9 1619.8 1291.5 1589.2 1292.2 1587.5C1292.9 1585.8 1295.0 1600.5 1296.1 1600.3C1297.1 1600.1 1301.3 1588.2 1302.7 1585.2C1304.1 1582.2 1308.5 1569.3 1309.7 1570.0C1310.9 1570.7 1313.5 1591.2 1314.3 1592.2C1315.1 1593.2 1317.0 1578.5 1317.8 1580.5C1318.5 1582.5 1320.6 1612.9 1321.8 1612.0C1323.0 1611.1 1328.2 1573.8 1329.5 1571.2C1330.8 1568.6 1334.1 1586.0 1335.3 1586.3C1336.5 1586.6 1339.3 1576.9 1341.2 1574.2C1343.1 1571.5 1352.4 1559.2 1354.0 1559.5C1355.6 1559.8 1356.0 1577.6 1356.8 1577.0C1357.6 1576.4 1360.9 1544.7 1361.7 1553.7C1362.5 1562.7 1363.9 1665.4 1364.5 1666.8C1365.1 1668.2 1366.6 1579.7 1368.0 1567.7C1369.4 1555.7 1376.8 1547.0 1378.5 1546.7C1380.2 1546.4 1384.3 1563.9 1385.5 1564.2C1386.7 1564.5 1389.0 1541.1 1390.2 1550.2C1391.4 1559.3 1395.9 1651.1 1397.2 1655.2C1398.5 1659.3 1402.2 1593.9 1403.0 1591.0C1403.8 1588.1 1404.7 1628.3 1405.3 1626.0C1405.9 1623.7 1408.0 1574.5 1408.8 1567.7C1409.6 1560.9 1412.3 1558.0 1413.5 1558.3C1414.7 1558.6 1419.1 1571.3 1420.5 1571.2C1421.9 1571.1 1426.0 1558.4 1427.5 1557.2C1429.0 1556.0 1434.1 1559.7 1435.7 1559.5C1437.3 1559.3 1442.5 1554.3 1443.8 1554.8C1445.1 1555.3 1447.7 1564.2 1448.5 1564.2C1449.3 1564.2 1451.2 1555.0 1452.0 1554.8C1452.8 1554.6 1455.5 1559.9 1456.7 1561.8C1457.9 1563.7 1462.7 1574.2 1463.7 1573.5C1464.8 1572.8 1466.5 1555.5 1467.2 1554.8C1467.9 1554.1 1470.4 1565.3 1470.7 1566.5" fill="none" stroke="#5f8496" stroke-width="3.5" stroke-linejoin="round"/>
<path d="M1134 1253.2H864V1743.2H1134M1146.5 1253.2H1473V1743.2H1146.5" fill="none" stroke="#000" stroke-width="2"/>
<path d="M1124.5 1262.3L1145.3 1243.9M1135.5 1262.3L1156 1243.9M1124.5 1752.3L1145.3 1733.9M1135.5 1752.3L1156 1733.9" stroke="#000" stroke-width="1.7" stroke-linecap="round" fill="none"/>
<path d="M976.8 1743.2V1733.6000000000001M1089.6 1743.2V1733.6000000000001M1247.5 1743.2V1733.6000000000001M1360.3 1743.2V1733.6000000000001M920.4 1743.2V1738.4M1033.2 1743.2V1738.4M1191.1 1743.2V1738.4M1303.9 1743.2V1738.4M1416.7 1743.2V1738.4" stroke="#000" stroke-width="2" fill="none"/>
<text x="828.80" y="1779.20" font-size="32" font-weight="bold" fill="#000">4000</text>
<text x="941.44" y="1779.20" font-size="32" font-weight="bold" fill="#000">3500</text>
<text x="1054.24" y="1779.20" font-size="32" font-weight="bold" fill="#000">3000</text>
<text x="1211.52" y="1779.20" font-size="32" font-weight="bold" fill="#000">1500</text>
<text x="1324.32" y="1779.20" font-size="32" font-weight="bold" fill="#000">1000</text>
<text x="1446.64" y="1779.20" font-size="32" font-weight="bold" fill="#000">500</text>
<text x="1043.5" y="1835.6" font-size="32.4" font-weight="bold">Wavenumbers(cm<tspan font-size="21.5" dy="-12">-1</tspan><tspan dy="12">)</tspan></text>
<text transform="translate(819.90,1634.30) rotate(-90)" x="-0.31" y="0" font-size="32" font-weight="bold" fill="#000" textLength="297.63" lengthAdjust="spacingAndGlyphs">Transmittance (a. u.)</text>
<path d="M870.6 1315.7H928.8" stroke="#c17a93" stroke-width="3.6"/>
<text x="934.42" y="1324.00" font-size="32" font-weight="bold" fill="#000" textLength="172.29" lengthAdjust="spacingAndGlyphs">Py-TFIm-25</text>
<path d="M871.7 1521.5H930" stroke="#5f8496" stroke-width="3.6"/>
<text x="934.91" y="1529.70" font-size="32" font-weight="bold" fill="#000" textLength="182.19" lengthAdjust="spacingAndGlyphs">Py-TFImI-25</text>
<text x="1107.20" y="1449.00" font-size="32" font-weight="bold" fill="#000" textLength="83.28" lengthAdjust="spacingAndGlyphs">-CHO</text>
<text x="1179.00" y="1728.00" font-size="32" font-weight="bold" fill="#000" textLength="87.58" lengthAdjust="spacingAndGlyphs">-C=N-</text>
<text x="11.68" y="48.00" font-size="54" font-weight="bold" fill="#000">a</text>
<text x="834.59" y="48.00" font-size="54" font-weight="bold" fill="#000">b</text>
<text x="0.74" y="653.50" font-size="54" font-weight="bold" fill="#000">c</text>
<text x="823.84" y="653.50" font-size="54" font-weight="bold" fill="#000">d</text>
<text x="0.54" y="1225.50" font-size="54" font-weight="bold" fill="#000">e</text>
<text x="789.49" y="1237.90" font-size="54" font-weight="bold" fill="#000">f</text></svg></body></html>
